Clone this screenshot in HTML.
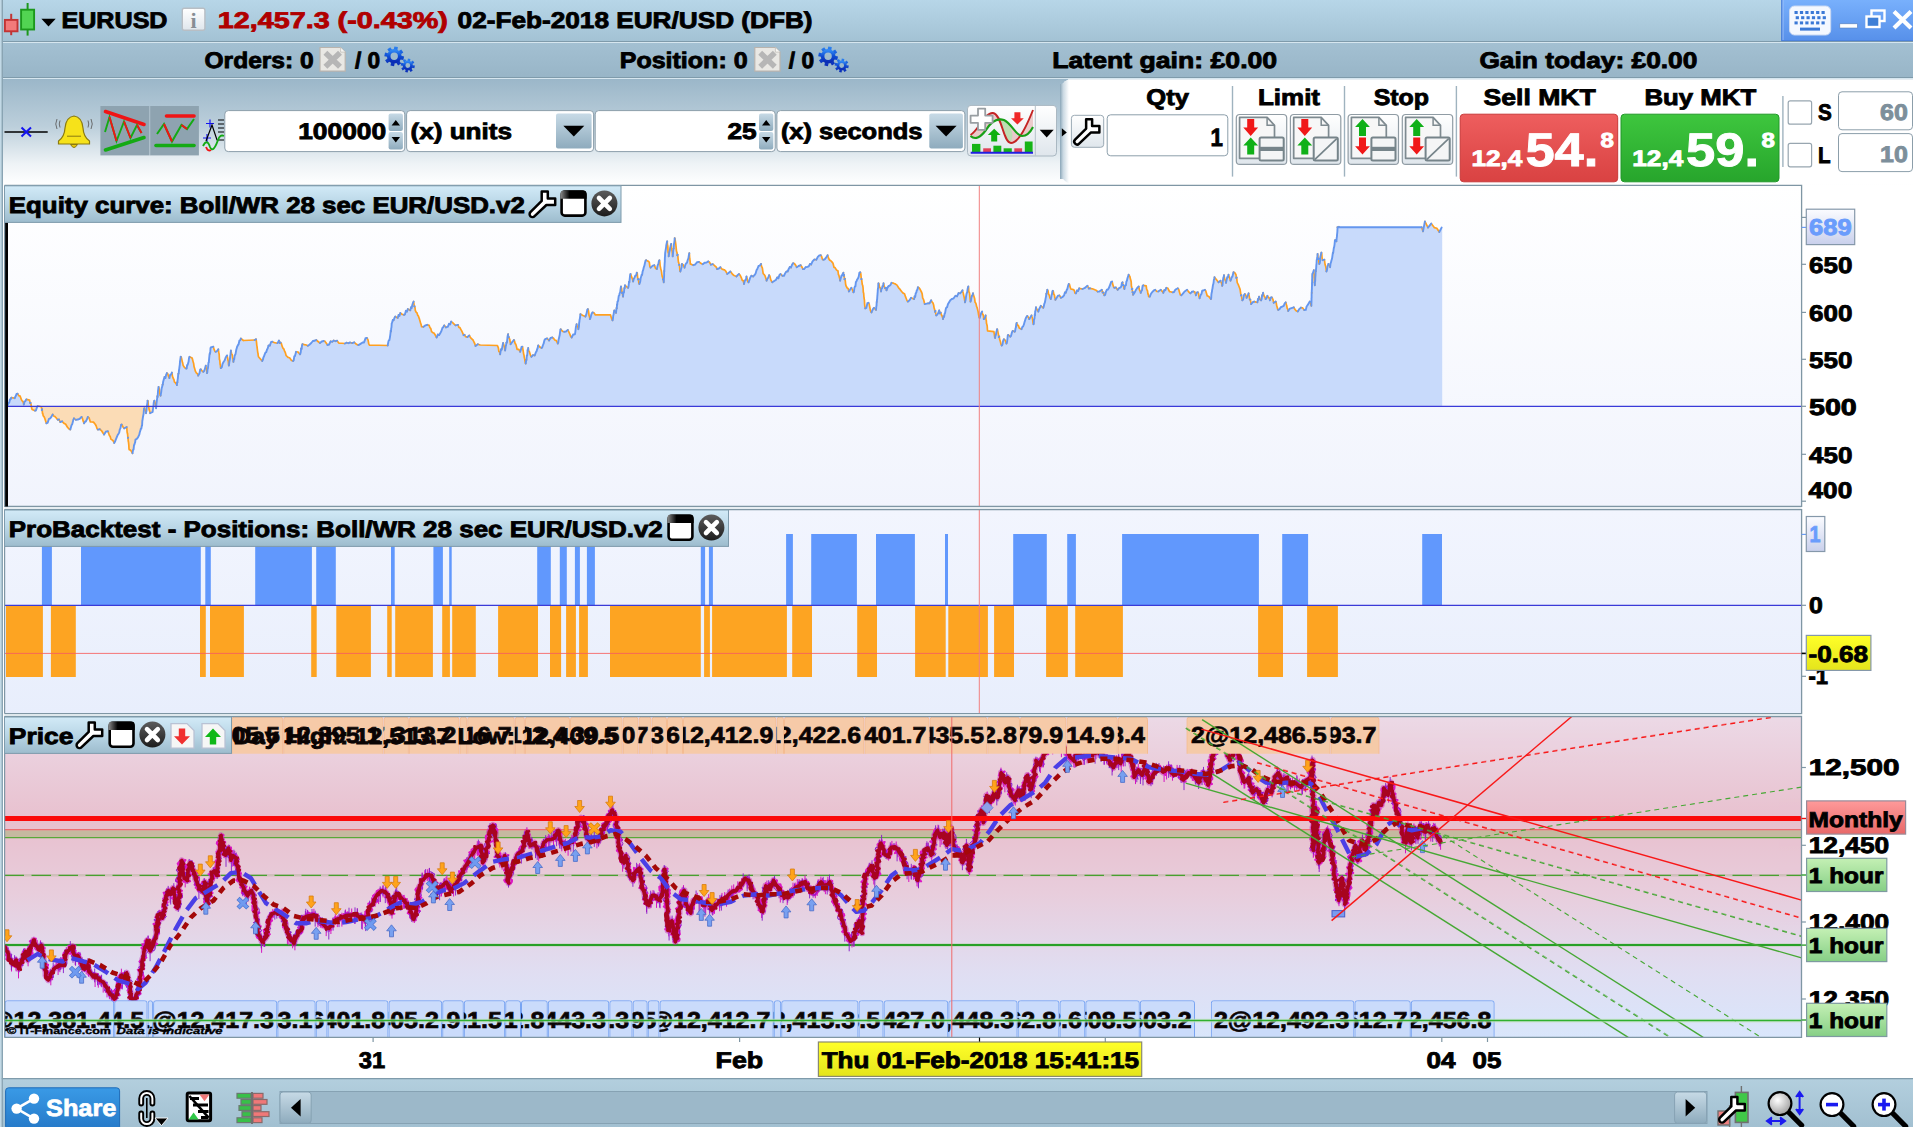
<!DOCTYPE html>
<html lang="en"><head><meta charset="utf-8"><title>EURUSD - ProBacktest</title>
<style>html,body{margin:0;padding:0;background:#fff;overflow:hidden}svg{display:block}</style></head>
<body>
<svg width="1913" height="1127" viewBox="0 0 1913 1127" font-family="Liberation Sans, sans-serif" font-weight="bold" text-rendering="geometricPrecision"><defs><linearGradient id="gTitle" x1="0" y1="0" x2="0" y2="1"><stop offset="0" stop-color="#b7d6e8"/><stop offset="1" stop-color="#a3c2d4"/></linearGradient><linearGradient id="gRow2" x1="0" y1="0" x2="0" y2="1"><stop offset="0" stop-color="#a3c0d2"/><stop offset="1" stop-color="#98b5c7"/></linearGradient><linearGradient id="gTool" x1="0" y1="0" x2="0" y2="1"><stop offset="0" stop-color="#9bb7c9"/><stop offset="0.45" stop-color="#bccfdb"/><stop offset="0.8" stop-color="#eef3f6"/><stop offset="1" stop-color="#ffffff"/></linearGradient><linearGradient id="gPanelT" x1="0" y1="0" x2="0" y2="1"><stop offset="0" stop-color="#d2eaf7"/><stop offset="0.5" stop-color="#b9d6e6"/><stop offset="1" stop-color="#9dbccd"/></linearGradient><linearGradient id="gEq" x1="0" y1="0" x2="0" y2="1"><stop offset="0" stop-color="#ffffff"/><stop offset="1" stop-color="#f1f4fd"/></linearGradient><linearGradient id="gPos" x1="0" y1="0" x2="0" y2="1"><stop offset="0" stop-color="#f2f5fe"/><stop offset="1" stop-color="#e8eefc"/></linearGradient><linearGradient id="gPrice" x1="0" y1="0" x2="0" y2="1"><stop offset="0" stop-color="#ecd9e6"/><stop offset="0.33" stop-color="#e8c0ce"/><stop offset="0.55" stop-color="#e8cddc"/><stop offset="0.8" stop-color="#e0def2"/><stop offset="1" stop-color="#d9e6fc"/></linearGradient><linearGradient id="gBtn" x1="0" y1="0" x2="0" y2="1"><stop offset="0" stop-color="#ffffff"/><stop offset="1" stop-color="#dfe6ec"/></linearGradient><linearGradient id="gArrow" x1="0" y1="0" x2="0" y2="1"><stop offset="0" stop-color="#c7dae6"/><stop offset="1" stop-color="#8eabbd"/></linearGradient><linearGradient id="gSell" x1="0" y1="0" x2="0" y2="1"><stop offset="0" stop-color="#ee5e5e"/><stop offset="1" stop-color="#d94242"/></linearGradient><linearGradient id="gBuy" x1="0" y1="0" x2="0" y2="1"><stop offset="0" stop-color="#3ec63e"/><stop offset="1" stop-color="#27a52c"/></linearGradient><linearGradient id="gLab" x1="0" y1="0" x2="0" y2="1"><stop offset="0" stop-color="#fbfcff"/><stop offset="1" stop-color="#c9d0ec"/></linearGradient><linearGradient id="gYel" x1="0" y1="0" x2="0" y2="1"><stop offset="0" stop-color="#ffff28"/><stop offset="1" stop-color="#e4e41c"/></linearGradient><linearGradient id="gMon" x1="0" y1="0" x2="0" y2="1"><stop offset="0" stop-color="#ff9a9a"/><stop offset="1" stop-color="#e86868"/></linearGradient><linearGradient id="gHour" x1="0" y1="0" x2="0" y2="1"><stop offset="0" stop-color="#c4f0b4"/><stop offset="1" stop-color="#86cf86"/></linearGradient><linearGradient id="gShare" x1="0" y1="0" x2="0" y2="1"><stop offset="0" stop-color="#3a9ae6"/><stop offset="1" stop-color="#2579c8"/></linearGradient><linearGradient id="gBot" x1="0" y1="0" x2="0" y2="1"><stop offset="0" stop-color="#b3cfde"/><stop offset="1" stop-color="#a2c0d1"/></linearGradient><linearGradient id="gKb" x1="0" y1="0" x2="0" y2="1"><stop offset="0" stop-color="#78b0fc"/><stop offset="1" stop-color="#5790ea"/></linearGradient><linearGradient id="gGear" x1="0" y1="0" x2="0" y2="1"><stop offset="0" stop-color="#2f86f2"/><stop offset="0.5" stop-color="#0f4cd2"/><stop offset="1" stop-color="#0a2cb4"/></linearGradient><linearGradient id="gPanel" x1="0" y1="0" x2="1" y2="0"><stop offset="0" stop-color="#8aa6b8"/><stop offset="0.35" stop-color="#c9d8e2"/><stop offset="1" stop-color="#ffffff"/></linearGradient><linearGradient id="gEqFill" x1="0" y1="0" x2="0" y2="1"><stop offset="0" stop-color="#ccdcfb"/><stop offset="1" stop-color="#c6d8fb"/></linearGradient><linearGradient id="gWinTop" x1="0" y1="0" x2="1" y2="0"><stop offset="0" stop-color="#8a8a8a"/><stop offset="0.35" stop-color="#000000"/><stop offset="1" stop-color="#000000"/></linearGradient><linearGradient id="gClose" x1="0" y1="0" x2="0" y2="1"><stop offset="0" stop-color="#5c5c5c"/><stop offset="1" stop-color="#1c1c1c"/></linearGradient><radialGradient id="gBall" cx="0.4" cy="0.35" r="0.7"><stop offset="0" stop-color="#ffffff"/><stop offset="1" stop-color="#9a9a9a"/></radialGradient></defs>
<rect x="0" y="0" width="1913" height="1127" fill="#ffffff" />
<rect x="0" y="0" width="1913" height="41.5" fill="url(#gTitle)" />
<line x1="0" y1="41.5" x2="1913" y2="41.5" stroke="#7f9bab" stroke-width="1" />
<line x1="0" y1="42.5" x2="1913" y2="42.5" stroke="#d6e6ef" stroke-width="1" />
<rect x="0" y="43" width="1913" height="35" fill="url(#gRow2)" />
<line x1="0" y1="77.5" x2="1913" y2="77.5" stroke="#7f9bab" stroke-width="1" />
<line x1="0" y1="78.5" x2="1913" y2="78.5" stroke="#d6e6ef" stroke-width="1" />
<rect x="0" y="79" width="1913" height="106" fill="url(#gTool)" />
<rect x="0" y="0" width="1.7" height="1127" fill="#c2d9e6" />
<line x1="2.3" y1="0" x2="2.3" y2="1127" stroke="#8aa4b4" stroke-width="1.3" />
<line x1="11.2" y1="13.8" x2="11.2" y2="35.2" stroke="#c23434" stroke-width="2" />
<rect x="4.9" y="19.9" width="12.6" height="11.4" fill="#f27a7a" stroke="#c23434" stroke-width="1.9" />
<line x1="27.6" y1="3" x2="27.6" y2="35.6" stroke="#1c981c" stroke-width="2" />
<rect x="21.1" y="9.7" width="13" height="19.8" fill="#52d452" stroke="#1c981c" stroke-width="1.9" />
<path d="M41.4 18.8 L55.7 18.8 L48.5 26.4 Z" fill="#000"/>
<text x="61.5" y="28.05" font-size="22.8" fill="#000" stroke="#000" stroke-width="0.85" textLength="106" lengthAdjust="spacingAndGlyphs" >EURUSD</text>
<rect x="182.3" y="8.3" width="22.6" height="22" fill="url(#gBtn)" stroke="#b8bec4" stroke-width="1.4" rx="2" />
<text x="193.6" y="27.6" font-size="22" fill="#878d94" text-anchor="middle" font-family="Liberation Serif, serif" font-weight="bold">i</text>
<text x="217.8" y="28.05" font-size="22.8" fill="#b00000" stroke="#b00000" stroke-width="0.85" textLength="230" lengthAdjust="spacingAndGlyphs" >12,457.3 (-0.43%)</text>
<text x="457.6" y="28.05" font-size="22.8" fill="#000" stroke="#000" stroke-width="0.85" textLength="355" lengthAdjust="spacingAndGlyphs" >02-Feb-2018 EUR/USD (DFB)</text>
<rect x="1781.4" y="0" width="132" height="40.8" fill="url(#gKb)" />
<line x1="1781.9" y1="0" x2="1781.9" y2="41" stroke="#3c74d6" stroke-width="1.2" />
<line x1="1783" y1="0" x2="1783" y2="40" stroke="#a8c8fc" stroke-width="0.8" />
<line x1="1782" y1="40.6" x2="1913" y2="40.6" stroke="#4a80dc" stroke-width="1" />
<rect x="1789.5" y="6" width="41.2" height="29" fill="#f4f8ff" stroke="#c9d8f2" stroke-width="1" rx="5" />
<rect x="1794.5" y="11.0" width="3.2" height="3" fill="#3a78d6" />
<rect x="1799.9" y="11.0" width="3.2" height="3" fill="#3a78d6" />
<rect x="1805.3" y="11.0" width="3.2" height="3" fill="#3a78d6" />
<rect x="1810.7" y="11.0" width="3.2" height="3" fill="#3a78d6" />
<rect x="1816.1" y="11.0" width="3.2" height="3" fill="#3a78d6" />
<rect x="1821.5" y="11.0" width="3.2" height="3" fill="#3a78d6" />
<rect x="1795.7" y="16.2" width="3.2" height="3" fill="#3a78d6" />
<rect x="1801.1000000000001" y="16.2" width="3.2" height="3" fill="#3a78d6" />
<rect x="1806.5" y="16.2" width="3.2" height="3" fill="#3a78d6" />
<rect x="1811.9" y="16.2" width="3.2" height="3" fill="#3a78d6" />
<rect x="1817.3" y="16.2" width="3.2" height="3" fill="#3a78d6" />
<rect x="1822.7" y="16.2" width="3.2" height="3" fill="#3a78d6" />
<rect x="1794.5" y="21.4" width="3.2" height="3" fill="#3a78d6" />
<rect x="1799.9" y="21.4" width="3.2" height="3" fill="#3a78d6" />
<rect x="1805.3" y="21.4" width="3.2" height="3" fill="#3a78d6" />
<rect x="1810.7" y="21.4" width="3.2" height="3" fill="#3a78d6" />
<rect x="1816.1" y="21.4" width="3.2" height="3" fill="#3a78d6" />
<rect x="1821.5" y="21.4" width="3.2" height="3" fill="#3a78d6" />
<rect x="1800" y="27.6" width="20" height="3" fill="#3a78d6" />
<rect x="1839.8" y="23.8" width="17.6" height="4.2" fill="#ffffff" stroke="#5a7fb8" stroke-width="0.6" />
<rect x="1871.5" y="10.5" width="13" height="10.5" fill="none" stroke="#ffffff" stroke-width="2.4" />
<rect x="1866.5" y="16.5" width="13" height="10.5" fill="#3f7fd6" stroke="#ffffff" stroke-width="2.4" />
<path d="M1894 11.5 L1911 28 M1911 11.5 L1894 28" stroke="#ffffff" stroke-width="4.2" stroke-linecap="butt"/>
<text x="204.5" y="67.95" font-size="22.6" fill="#000" stroke="#000" stroke-width="0.85" textLength="109.2" lengthAdjust="spacingAndGlyphs" >Orders: 0</text>
<path d="M320 47.5 h20.6 l4.6 4.6 v19 h-25.2 Z" fill="#e9e8e4" stroke="#b9b4ae" stroke-width="1.2"/>
<path d="M340.6 47.5 v4.6 h4.6" fill="#f6f6f4" stroke="#c4c0ba" stroke-width="0.8"/>
<path d="M325.4 52.7 L340 66.7 M340 52.7 L325.4 66.7" stroke="#b6b6b6" stroke-width="5.6"/>
<text x="355" y="67.95" font-size="22.6" fill="#000" stroke="#000" stroke-width="0.85" textLength="25.2" lengthAdjust="spacingAndGlyphs" >/ 0</text>
<path d="M401.08 55.82 L404.10 56.46 L403.38 60.01 L400.35 59.42Z M399.41 60.83 L401.08 63.41 L398.07 65.41 L396.34 62.86Z M394.68 63.18 L394.04 66.20 L390.49 65.48 L391.08 62.45Z M389.67 61.51 L387.09 63.18 L385.09 60.17 L387.64 58.44Z M387.32 56.78 L384.30 56.14 L385.02 52.59 L388.05 53.18Z M388.99 51.77 L387.32 49.19 L390.33 47.19 L392.06 49.74Z M393.72 49.42 L394.36 46.40 L397.91 47.12 L397.32 50.15Z M398.73 51.09 L401.31 49.42 L403.31 52.43 L400.76 54.16Z " fill="url(#gGear)"/>
<circle cx="394.2" cy="56.3" r="5.50" fill="none" stroke="url(#gGear)" stroke-width="3.60"/>
<path d="M412.49 65.17 L414.90 65.62 L414.38 68.16 L411.99 67.63Z M411.35 68.58 L412.74 70.60 L410.58 72.03 L409.26 69.97Z M408.13 70.19 L407.68 72.60 L405.14 72.08 L405.67 69.69Z M404.72 69.05 L402.70 70.44 L401.27 68.28 L403.33 66.96Z M403.11 65.83 L400.70 65.38 L401.22 62.84 L403.61 63.37Z M404.25 62.42 L402.86 60.40 L405.02 58.97 L406.34 61.03Z M407.47 60.81 L407.92 58.40 L410.46 58.92 L409.93 61.31Z M410.88 61.95 L412.90 60.56 L414.33 62.72 L412.27 64.04Z " fill="url(#gGear)"/>
<circle cx="407.8" cy="65.5" r="3.75" fill="none" stroke="url(#gGear)" stroke-width="2.70"/>
<text x="619.7" y="67.95" font-size="22.6" fill="#000" stroke="#000" stroke-width="0.85" textLength="127.9" lengthAdjust="spacingAndGlyphs" >Position: 0</text>
<path d="M754.8 47.5 h20.6 l4.6 4.6 v19 h-25.2 Z" fill="#e9e8e4" stroke="#b9b4ae" stroke-width="1.2"/>
<path d="M775.4 47.5 v4.6 h4.6" fill="#f6f6f4" stroke="#c4c0ba" stroke-width="0.8"/>
<path d="M760.1999999999999 52.7 L774.8 66.7 M774.8 52.7 L760.1999999999999 66.7" stroke="#b6b6b6" stroke-width="5.6"/>
<text x="788.8" y="67.95" font-size="22.6" fill="#000" stroke="#000" stroke-width="0.85" textLength="25.2" lengthAdjust="spacingAndGlyphs" >/ 0</text>
<path d="M834.98 55.82 L838.00 56.46 L837.28 60.01 L834.25 59.42Z M833.31 60.83 L834.98 63.41 L831.97 65.41 L830.24 62.86Z M828.58 63.18 L827.94 66.20 L824.39 65.48 L824.98 62.45Z M823.57 61.51 L820.99 63.18 L818.99 60.17 L821.54 58.44Z M821.22 56.78 L818.20 56.14 L818.92 52.59 L821.95 53.18Z M822.89 51.77 L821.22 49.19 L824.23 47.19 L825.96 49.74Z M827.62 49.42 L828.26 46.40 L831.81 47.12 L831.22 50.15Z M832.63 51.09 L835.21 49.42 L837.21 52.43 L834.66 54.16Z " fill="url(#gGear)"/>
<circle cx="828.1" cy="56.3" r="5.50" fill="none" stroke="url(#gGear)" stroke-width="3.60"/>
<path d="M846.39 65.17 L848.80 65.62 L848.28 68.16 L845.89 67.63Z M845.25 68.58 L846.64 70.60 L844.48 72.03 L843.16 69.97Z M842.03 70.19 L841.58 72.60 L839.04 72.08 L839.57 69.69Z M838.62 69.05 L836.60 70.44 L835.17 68.28 L837.23 66.96Z M837.01 65.83 L834.60 65.38 L835.12 62.84 L837.51 63.37Z M838.15 62.42 L836.76 60.40 L838.92 58.97 L840.24 61.03Z M841.37 60.81 L841.82 58.40 L844.36 58.92 L843.83 61.31Z M844.78 61.95 L846.80 60.56 L848.23 62.72 L846.17 64.04Z " fill="url(#gGear)"/>
<circle cx="841.6999999999999" cy="65.5" r="3.75" fill="none" stroke="url(#gGear)" stroke-width="2.70"/>
<text x="1052.2" y="67.95" font-size="22.6" fill="#000" stroke="#000" stroke-width="0.85" textLength="225" lengthAdjust="spacingAndGlyphs" >Latent gain: £0.00</text>
<text x="1479.4" y="67.95" font-size="22.6" fill="#000" stroke="#000" stroke-width="0.85" textLength="218" lengthAdjust="spacingAndGlyphs" >Gain today: £0.00</text>
<line x1="4.5" y1="132" x2="47.7" y2="132" stroke="#000" stroke-width="1.6" />
<path d="M21.5 127.5 L31 136.5 M31 127.5 L21.5 136.5" stroke="#1414f0" stroke-width="2"/>
<path d="M74 116 Q66 117 65 128 Q64.5 137 58.5 141 L58.5 144 L89.5 144 L89.5 141 Q83.5 137 83 128 Q82 117 74 116 Z" fill="#f6e21a" stroke="#8a7a10" stroke-width="1.2"/>
<path d="M70.5 144.5 Q74 150.5 77.5 144.5 Z" fill="#e8c810" stroke="#8a7a10" stroke-width="1"/>
<line x1="67" y1="136.2" x2="81" y2="136.2" stroke="#8a7a10" stroke-width="1" />
<path d="M57 119 Q54.5 124 57 129 M60 120.5 Q58.5 124 60 127.5 M91 119 Q93.5 124 91 129 M88 120.5 Q89.5 124 88 127.5" fill="none" stroke="#606060" stroke-width="0.9"/>
<rect x="100.4" y="106" width="48.8" height="49.4" fill="#8ea3b0" />
<rect x="150.1" y="106" width="48.8" height="49.4" fill="#8ea3b0" />
<line x1="149.7" y1="106" x2="149.7" y2="155.4" stroke="#a9bcc7" stroke-width="1" />
<path d="M105.5 111.5 L144 124.5" stroke="#f01414" stroke-width="3.6" stroke-linecap="round"/>
<path d="M105.5 150 L144 137.5" stroke="#14aa14" stroke-width="3.6" stroke-linecap="round"/>
<path d="M105 132 L109.5 117 L116.5 141 L124 121.5 L130.5 138 L137 125 L141.5 133" fill="none" stroke="#14aa14" stroke-width="1.9"/>
<path d="M109.5 117 L116.5 141 M124 121.5 L130.5 138 M137 125 L141.5 133" fill="none" stroke="#f01414" stroke-width="1.9"/>
<path d="M166.5 116 L194 116" stroke="#f01414" stroke-width="3.6" stroke-linecap="round"/>
<path d="M156 145.5 L194 145.5" stroke="#14aa14" stroke-width="3.6" stroke-linecap="round"/>
<path d="M157 134 L164 124 L172 141.5 L181.5 125 L187 129 L194 119" fill="none" stroke="#14aa14" stroke-width="2"/>
<path d="M164 124 L172 141.5 M181.5 125 L187 129" fill="none" stroke="#f01414" stroke-width="2"/>
<path d="M206 123.5 h8 M210 119.5 v8 M203 138 h8 M207 134 v8" stroke="#1414f0" stroke-width="1.2"/>
<path d="M206 141 L212 125 L217 140 L224 140" fill="none" stroke="#000" stroke-width="1.2"/>
<path d="M218 120 h6 M218 124 h6 M218 128 h6 M218 132 h6" stroke="#000" stroke-width="1"/>
<path d="M203 146 Q207 138 210 147 Q213 154 218 140 Q220 134 224 136" fill="none" stroke="#14aa14" stroke-width="1.9"/>
<path d="M206 147 Q208 152 211 150" fill="none" stroke="#f01414" stroke-width="1.9"/>
<rect x="224.8" y="110.6" width="180" height="41" fill="#ffffff" stroke="#8c9eaa" stroke-width="1" rx="3.5" />
<text x="298.2" y="139.25" font-size="22.6" fill="#000" stroke="#000" stroke-width="0.85" textLength="88" lengthAdjust="spacingAndGlyphs" >100000</text>
<rect x="388.6" y="113.4" width="14.3" height="17.6" fill="url(#gArrow)" rx="2" />
<rect x="388.6" y="132.0" width="14.3" height="17.6" fill="url(#gArrow)" rx="2" />
<path d="M391.6 125.4 h8.4 l-4.2 -5.4 Z M391.6 137.0 h8.4 l-4.2 5.4 Z" fill="#000"/>
<rect x="406.6" y="110.6" width="187" height="41" fill="#ffffff" stroke="#8c9eaa" stroke-width="1" rx="3.5" />
<rect x="556" y="113.6" width="35.60000000000002" height="35" fill="url(#gArrow)" rx="2" />
<path d="M563.3 125.8 h21 l-10.5 10.6 Z" fill="#000"/>
<text x="410.6" y="139.25" font-size="22.6" fill="#000" stroke="#000" stroke-width="0.85" textLength="101.4" lengthAdjust="spacingAndGlyphs" >(x) units</text>
<rect x="595.2" y="110.6" width="180" height="41" fill="#ffffff" stroke="#8c9eaa" stroke-width="1" rx="3.5" />
<text x="727.5" y="139.25" font-size="22.6" fill="#000" stroke="#000" stroke-width="0.85" textLength="29.2" lengthAdjust="spacingAndGlyphs" >25</text>
<rect x="759" y="113.4" width="14.3" height="17.6" fill="url(#gArrow)" rx="2" />
<rect x="759" y="132.0" width="14.3" height="17.6" fill="url(#gArrow)" rx="2" />
<path d="M762 125.4 h8.4 l-4.2 -5.4 Z M762 137.0 h8.4 l-4.2 5.4 Z" fill="#000"/>
<rect x="776.9" y="110.6" width="188" height="41" fill="#ffffff" stroke="#8c9eaa" stroke-width="1" rx="3.5" />
<rect x="929.3" y="113.6" width="33.60000000000002" height="35" fill="url(#gArrow)" rx="2" />
<path d="M935.5999999999999 125.8 h21 l-10.5 10.6 Z" fill="#000"/>
<text x="780.9" y="139.25" font-size="22.6" fill="#000" stroke="#000" stroke-width="0.85" textLength="141.6" lengthAdjust="spacingAndGlyphs" >(x) seconds</text>
<rect x="967.5" y="105.4" width="89" height="50.6" fill="url(#gBtn)" stroke="#aab8c2" stroke-width="1" rx="3.5" />
<line x1="1035.3" y1="105.8" x2="1035.3" y2="155.6" stroke="#b4c0c8" stroke-width="1" />
<path d="M1039.7 129.8 h14 l-7 7.8 Z" fill="#000"/>
<path d="M970.5 135 C978 131 985 112 993 113 C1002 114 1003 143 1011 143 C1019 143 1027 125 1033 110 L1033 127 C1031 131 1027 136 1022 136 C1016 136 1012 124 1004 120 C998 118 992 120 986 130 C980 138 975 140 970.5 136 Z" fill="#e8b8b8" opacity="0.7"/>
<path d="M996 116 C1002 118 1004 138 1010 142 C1015 138 1012 126 1004 120 Z" fill="#b8e0b0" opacity="0.9"/>
<path d="M970.5 135 C978 131 985 112 993 113 C1002 114 1003 143 1011 143 C1019 143 1027 125 1033 110" fill="none" stroke="#c42424" stroke-width="1.9"/>
<path d="M970.5 136 C975 140 980 138 986 130 C992 120 998 118 1004 120 C1012 124 1016 136 1022 136 C1027 136 1031 131 1033 127" fill="none" stroke="#18a018" stroke-width="2.1"/>
<rect x="972" y="143.9" width="8.4" height="8.1" fill="#16b416" />
<rect x="983.2" y="148.3" width="7.8" height="3.7" fill="#e04058" />
<rect x="993.4" y="145.7" width="7.9" height="6.3" fill="#16b416" />
<rect x="1003.6" y="148.3" width="8.2" height="3.7" fill="#16b416" />
<rect x="1014.3" y="148.3" width="7.8" height="3.7" fill="#e04058" />
<rect x="1024.8" y="141.5" width="7.8" height="10.5" fill="#16b416" />
<line x1="970.7" y1="152.7" x2="1033" y2="152.7" stroke="#2020e0" stroke-width="1.9" />
<path d="M978 108.6 h7.2 v7 h7.4 v7.2 h-7.4 v7 h-7.2 v-7 h-7.4 v-7.2 h7.4 Z" fill="#ffffff" stroke="#989ea2" stroke-width="1.8" stroke-linejoin="round"/>
<path d="M1014.4 112.2 h6 v6 h3.4 l-6.4 6.4 l-6.4 -6.4 h3.4 Z" fill="#f02828"/>
<path d="M991.2 141.5 h6 v-6.4 h3.4 l-6.4 -6.4 l-6.4 6.4 h3.4 Z" fill="#10b010"/>
<path d="M1061.8 128.2 l5 4.2 l-5 4.2 Z" fill="#000"/>
<path d="M1913 79.2 L1069 79.2 Q1060.6 82.5 1060 91 L1060 171 Q1060.6 179.8 1069 183.4 L1913 183.4 Z" fill="#ffffff"/>
<path d="M1069 79.2 Q1060.6 82.5 1060 91 L1060 171 Q1060.6 179.8 1069 183.4 Z" fill="url(#gPanel)"/>
<rect x="1060" y="84" width="9" height="95" fill="url(#gPanel)" />
<path d="M1061.8 128.2 l5 4.2 l-5 4.2 Z" fill="#000"/>
<rect x="1071.4" y="115.3" width="32.3" height="32" fill="url(#gBtn)" stroke="#9aa9b4" stroke-width="1" rx="3" />
<g transform="translate(1088 131.4) scale(0.98)"><path d="M-13.2 8.4 L-1.9 -2.9 L-1.9 -12.3 L4.2 -12.3 L4.2 -5.4 L11.6 -5.4 L11.6 1.2 L2.8 1.2 L-9 12.4 A2.9 2.9 0 0 1 -13.2 8.4 Z" fill="#fff" stroke="#000" stroke-width="2.55" stroke-linejoin="round"/></g>
<text x="1146.3" y="104.65" font-size="22.6" fill="#000" stroke="#000" stroke-width="0.85" textLength="42.6" lengthAdjust="spacingAndGlyphs" >Qty</text>
<rect x="1107.2" y="114.8" width="120.6" height="41" fill="#ffffff" stroke="#8c9eaa" stroke-width="1" rx="3.5" />
<text x="1210.4" y="145.65" font-size="25.12" fill="#000" stroke="#000" stroke-width="0.85" textLength="12.4" lengthAdjust="spacingAndGlyphs" >1</text>
<line x1="1232.5" y1="86" x2="1232.5" y2="176.6" stroke="#9fb3bf" stroke-width="1.4" />
<text x="1258" y="104.65" font-size="22.6" fill="#000" stroke="#000" stroke-width="0.85" textLength="62" lengthAdjust="spacingAndGlyphs" >Limit</text>
<rect x="1236.3" y="114.5" width="50.4" height="49.9" fill="url(#gBtn)" stroke="#909ca4" stroke-width="1.2" rx="3.5" />
<path d="M1239.6 117.3 h27.5 l7.4 8 v33 h-34.9 Z" fill="#f7f7f7" stroke="#7e8a90" stroke-width="1.7" stroke-linejoin="round"/>
<path d="M1267.1 117.3 v8 h7.4" fill="none" stroke="#7e8a90" stroke-width="1.5"/>
<rect x="1259.6" y="137.6" width="24.1" height="23" fill="#f4f5f6" stroke="#76848a" stroke-width="2" rx="1.5" />
<line x1="1259.6" y1="148.9" x2="1283.7" y2="148.9" stroke="#76848a" stroke-width="4.2" />
<path d="M1250.7 135.9 l7.4 -8.4 h-3.9 v-8.6 h-7 v8.6 h-3.9 Z" fill="#f01818"/>
<path d="M1250.7 137.6 l7.4 8 h-3.9 v9 h-7 v-9 h-3.9 Z" fill="#10b018"/>
<rect x="1290.4" y="114.5" width="50.4" height="49.9" fill="url(#gBtn)" stroke="#909ca4" stroke-width="1.2" rx="3.5" />
<path d="M1293.7 117.3 h27.5 l7.4 8 v33 h-34.9 Z" fill="#f7f7f7" stroke="#7e8a90" stroke-width="1.7" stroke-linejoin="round"/>
<path d="M1321.2 117.3 v8 h7.4" fill="none" stroke="#7e8a90" stroke-width="1.5"/>
<rect x="1313.7" y="137.6" width="24.1" height="23" fill="#f4f5f6" stroke="#76848a" stroke-width="2" rx="1.5" />
<line x1="1314.7" y1="159.6" x2="1336.8000000000002" y2="138.6" stroke="#76848a" stroke-width="1.7" />
<path d="M1304.8000000000002 135.9 l7.4 -8.4 h-3.9 v-8.6 h-7 v8.6 h-3.9 Z" fill="#f01818"/>
<path d="M1304.8000000000002 137.6 l7.4 8 h-3.9 v9 h-7 v-9 h-3.9 Z" fill="#10b018"/>
<line x1="1344.5" y1="86" x2="1344.5" y2="176.6" stroke="#9fb3bf" stroke-width="1.4" />
<text x="1373.7" y="104.65" font-size="22.6" fill="#000" stroke="#000" stroke-width="0.85" textLength="55.4" lengthAdjust="spacingAndGlyphs" >Stop</text>
<rect x="1348.1" y="114.5" width="50.4" height="49.9" fill="url(#gBtn)" stroke="#909ca4" stroke-width="1.2" rx="3.5" />
<path d="M1351.3999999999999 117.3 h27.5 l7.4 8 v33 h-34.9 Z" fill="#f7f7f7" stroke="#7e8a90" stroke-width="1.7" stroke-linejoin="round"/>
<path d="M1378.8999999999999 117.3 v8 h7.4" fill="none" stroke="#7e8a90" stroke-width="1.5"/>
<rect x="1371.3999999999999" y="137.6" width="24.1" height="23" fill="#f4f5f6" stroke="#76848a" stroke-width="2" rx="1.5" />
<line x1="1371.3999999999999" y1="148.9" x2="1395.5" y2="148.9" stroke="#76848a" stroke-width="4.2" />
<path d="M1362.5 118.9 l7.4 8 h-3.9 v9 h-7 v-9 h-3.9 Z" fill="#10b018"/>
<path d="M1362.5 154.6 l7.4 -8.4 h-3.9 v-8.6 h-7 v8.6 h-3.9 Z" fill="#f01818"/>
<rect x="1402.3" y="114.5" width="50.4" height="49.9" fill="url(#gBtn)" stroke="#909ca4" stroke-width="1.2" rx="3.5" />
<path d="M1405.6 117.3 h27.5 l7.4 8 v33 h-34.9 Z" fill="#f7f7f7" stroke="#7e8a90" stroke-width="1.7" stroke-linejoin="round"/>
<path d="M1433.1 117.3 v8 h7.4" fill="none" stroke="#7e8a90" stroke-width="1.5"/>
<rect x="1425.6" y="137.6" width="24.1" height="23" fill="#f4f5f6" stroke="#76848a" stroke-width="2" rx="1.5" />
<line x1="1426.6" y1="159.6" x2="1448.7" y2="138.6" stroke="#76848a" stroke-width="1.7" />
<path d="M1416.7 118.9 l7.4 8 h-3.9 v9 h-7 v-9 h-3.9 Z" fill="#10b018"/>
<path d="M1416.7 154.6 l7.4 -8.4 h-3.9 v-8.6 h-7 v8.6 h-3.9 Z" fill="#f01818"/>
<line x1="1456.4" y1="86" x2="1456.4" y2="176.6" stroke="#9fb3bf" stroke-width="1.4" />
<text x="1483.5" y="104.65" font-size="22.6" fill="#000" stroke="#000" stroke-width="0.85" textLength="112.2" lengthAdjust="spacingAndGlyphs" >Sell MKT</text>
<rect x="1460.2" y="114.2" width="157.5" height="67.6" fill="url(#gSell)" stroke="#c83838" stroke-width="1" rx="3.5" />
<text x="1471.4" y="165.55" font-size="22.41" fill="#ffffff" stroke="#ffffff" stroke-width="0.85" textLength="51" lengthAdjust="spacingAndGlyphs" >12,4</text>
<text x="1525.4" y="165.95" font-size="47.14" fill="#ffffff" stroke="#ffffff" stroke-width="0.9" textLength="73" lengthAdjust="spacingAndGlyphs" >54.</text>
<text x="1600.6" y="147.25" font-size="20.29" fill="#ffffff" stroke="#ffffff" stroke-width="0.85" textLength="13.4" lengthAdjust="spacingAndGlyphs" >8</text>
<text x="1644.5" y="104.65" font-size="22.6" fill="#000" stroke="#000" stroke-width="0.85" textLength="111.7" lengthAdjust="spacingAndGlyphs" >Buy MKT</text>
<rect x="1621" y="114.2" width="158" height="67.6" fill="url(#gBuy)" stroke="#209828" stroke-width="1" rx="3.5" />
<text x="1632.3" y="165.55" font-size="22.41" fill="#ffffff" stroke="#ffffff" stroke-width="0.85" textLength="51" lengthAdjust="spacingAndGlyphs" >12,4</text>
<text x="1686" y="165.95" font-size="47.14" fill="#ffffff" stroke="#ffffff" stroke-width="0.9" textLength="73" lengthAdjust="spacingAndGlyphs" >59.</text>
<text x="1761.5" y="147.25" font-size="20.29" fill="#ffffff" stroke="#ffffff" stroke-width="0.85" textLength="13.4" lengthAdjust="spacingAndGlyphs" >8</text>
<line x1="1782.9" y1="96" x2="1782.9" y2="167" stroke="#9fb3bf" stroke-width="1.4" />
<rect x="1788.2" y="100.8" width="23.4" height="23.4" fill="#ffffff" stroke="#98a6b0" stroke-width="1.2" rx="2" />
<text x="1818" y="120.25" font-size="22.6" fill="#000" stroke="#000" stroke-width="0.85" textLength="13.8" lengthAdjust="spacingAndGlyphs" >S</text>
<rect x="1838.5" y="91.8" width="74" height="38" fill="#ffffff" stroke="#8c9eaa" stroke-width="1" rx="3.5" />
<text x="1880" y="120.05" font-size="22.6" fill="#7d8f9b" stroke="#7d8f9b" stroke-width="0.85" textLength="27.8" lengthAdjust="spacingAndGlyphs" >60</text>
<rect x="1788.2" y="143.4" width="23.4" height="23.4" fill="#ffffff" stroke="#98a6b0" stroke-width="1.2" rx="2" />
<text x="1818" y="162.65" font-size="22.6" fill="#000" stroke="#000" stroke-width="0.85" textLength="12.6" lengthAdjust="spacingAndGlyphs" >L</text>
<rect x="1838.5" y="133.6" width="74" height="38" fill="#ffffff" stroke="#8c9eaa" stroke-width="1" rx="3.5" />
<text x="1880" y="162.05" font-size="22.6" fill="#7d8f9b" stroke="#7d8f9b" stroke-width="0.85" textLength="27.8" lengthAdjust="spacingAndGlyphs" >10</text>
<rect x="4.5" y="185.3" width="1797.1" height="321.09999999999997" fill="url(#gEq)" />
<clipPath id="cAbove"><rect x="0" y="0" width="1913" height="406.3"/></clipPath>
<clipPath id="cBelow"><rect x="0" y="406.3" width="1913" height="300"/></clipPath>
<polygon points="7.0,407.0 7.7,404.9 8.4,402.9 9.2,402.8 9.9,399.5 10.6,399.4 11.3,397.7 14.6,398.2 15.6,396.3 16.6,393.9 17.6,393.7 18.8,395.6 20.1,396.1 21.3,399.4 22.1,400.9 23.0,401.5 23.8,404.5 24.6,401.6 25.5,400.9 26.3,399.4 29.6,400.2 30.1,403.0 30.6,402.8 31.1,404.9 31.6,408.0 32.1,409.5 35.1,410.7 35.9,410.5 36.8,407.9 37.6,406.2 39.5,406.3 41.4,407.0 41.8,410.2 42.1,409.2 42.5,413.4 42.8,413.4 43.2,415.8 44.0,416.6 44.8,418.4 45.6,420.9 46.4,423.3 47.7,422.6 48.9,419.0 50.2,418.3 51.5,416.6 52.7,414.5 54.0,416.2 55.2,416.7 56.5,418.3 57.7,419.7 59.0,419.5 60.2,422.0 62.1,421.3 64.0,423.3 65.7,424.3 67.3,427.0 68.8,428.8 70.3,429.6 70.9,427.5 71.5,425.3 72.2,424.2 72.8,421.9 73.4,419.6 74.0,418.3 75.9,419.8 77.8,419.5 79.7,418.8 81.6,417.0 82.4,418.3 83.3,421.4 84.1,423.3 85.0,421.8 85.9,421.3 86.9,419.3 87.8,417.0 89.1,418.0 90.3,421.8 91.6,422.0 93.5,422.1 95.4,424.5 96.2,426.0 97.1,428.7 97.9,429.6 99.8,429.2 101.6,430.8 102.8,432.7 104.1,434.6 106.0,431.6 107.9,431.3 108.7,433.5 109.4,435.4 110.2,436.5 110.9,439.1 111.7,439.6 113.0,440.7 114.2,442.9 114.9,441.8 115.7,439.9 116.4,438.2 117.2,436.1 117.9,434.6 118.5,433.9 119.2,432.6 119.8,429.5 120.4,428.4 121.1,424.9 121.7,424.5 123.0,427.0 124.2,428.3 126.7,427.0 126.9,429.2 127.1,432.0 127.3,433.2 127.5,433.3 127.7,435.3 127.9,437.9 128.0,437.7 128.2,440.8 128.4,441.7 128.6,443.2 128.8,444.8 129.0,448.7 129.2,449.6 130.8,450.4 132.5,453.4 132.9,450.9 133.2,449.6 133.6,449.3 134.0,445.2 134.4,444.6 134.8,443.2 135.1,442.5 135.5,439.6 136.8,438.9 138.0,437.4 139.3,434.6 139.8,432.2 140.3,430.8 140.8,428.9 141.3,428.7 141.8,425.8 142.1,425.4 142.3,421.2 142.6,419.5 142.8,418.0 143.1,416.2 143.3,415.2 143.6,413.7 143.8,411.0 144.1,408.5 144.3,408.2 144.9,409.6 145.4,411.1 146.0,413.2 146.2,411.6 146.5,411.0 146.7,408.4 146.9,406.1 147.1,404.6 147.4,403.0 147.6,400.7 148.0,401.1 148.3,405.5 148.7,406.9 149.0,409.0 149.4,410.5 149.7,411.1 150.1,413.2 152.6,412.0 152.9,409.8 153.2,407.0 153.4,406.8 153.7,403.2 154.0,401.3 154.3,400.7 154.8,401.7 155.2,403.4 155.7,405.8 156.1,408.2 156.3,405.1 156.5,403.2 156.7,401.8 156.9,399.9 157.1,398.9 157.3,396.1 157.6,396.9 157.8,394.3 158.0,391.2 158.2,389.7 158.4,388.2 158.6,386.9 159.0,388.3 159.4,389.3 159.8,393.2 160.2,395.4 160.6,395.7 160.9,393.9 161.2,392.2 161.5,389.3 161.8,387.6 162.2,386.6 162.5,384.6 162.8,384.6 163.1,381.9 163.9,379.1 164.6,376.9 165.4,378.0 166.1,374.9 166.9,373.1 167.7,373.7 168.6,376.6 169.4,378.1 170.2,374.8 171.1,374.5 171.9,372.6 172.4,375.9 172.9,377.4 173.4,378.8 173.9,379.3 174.4,381.9 175.7,383.1 176.9,385.1 177.1,382.3 177.4,382.4 177.6,379.9 177.8,378.9 178.1,375.7 178.3,373.7 178.6,373.7 178.8,372.4 179.0,370.2 179.3,368.3 179.5,366.6 179.8,364.6 180.0,361.3 180.2,360.4 180.5,358.1 180.7,356.8 181.2,357.1 181.7,358.9 182.2,361.4 182.7,363.1 183.2,365.6 184.7,367.7 186.2,368.6 186.7,368.3 187.1,365.1 187.6,364.9 188.1,363.3 188.6,361.5 189.0,358.1 189.5,356.8 192.0,358.0 192.4,358.8 192.8,360.5 193.2,362.1 193.7,363.8 194.1,366.8 194.5,368.1 195.4,371.2 196.3,372.9 197.3,373.7 198.2,375.6 198.8,374.5 199.5,373.3 200.2,369.6 200.8,369.3 202.1,371.0 203.3,371.8 204.1,371.0 205.0,368.5 205.8,365.6 206.1,368.2 206.4,369.3 206.7,370.3 207.0,373.1 207.3,372.3 207.5,369.2 207.8,368.9 208.0,367.7 208.3,364.3 208.5,362.6 208.8,362.5 209.0,360.1 209.3,356.8 209.5,354.9 209.8,353.3 210.0,353.8 210.3,351.8 210.5,348.1 210.8,347.5 213.3,346.7 214.1,349.4 215.0,351.5 215.8,351.8 217.1,351.0 218.3,349.3 218.5,350.6 218.8,352.9 219.0,353.3 219.2,354.7 219.4,359.3 219.7,360.0 219.9,361.3 220.1,364.3 220.3,364.5 220.6,367.5 220.8,368.1 221.8,367.2 222.7,363.4 223.7,361.7 224.6,360.5 225.4,358.2 226.3,356.4 227.1,355.5 227.4,357.4 227.7,358.1 228.0,360.3 228.3,361.1 228.6,365.1 228.9,365.6 229.2,363.3 229.4,361.7 229.7,360.2 229.9,359.3 230.2,355.9 230.4,355.5 230.7,352.4 230.9,350.5 231.3,352.5 231.7,354.3 232.2,354.7 232.6,357.9 233.0,359.0 233.4,361.8 233.8,358.6 234.2,359.3 234.6,355.8 235.0,355.0 235.5,354.1 235.9,351.9 236.3,349.5 236.7,348.4 237.1,346.7 237.9,345.2 238.6,344.3 239.4,340.6 240.1,340.3 240.9,338.5 243.4,340.5 254.7,340.0 256.0,339.2 256.2,340.2 256.5,342.1 256.8,345.3 257.0,346.3 257.2,348.2 257.5,350.5 257.8,352.8 258.0,353.1 258.2,355.4 258.5,356.8 259.7,358.2 261.0,359.6 262.2,361.0 262.8,359.9 263.4,357.5 264.1,356.1 264.7,354.3 265.5,352.5 266.2,352.1 267.0,349.6 267.7,348.4 268.5,345.5 269.8,345.6 271.0,342.2 272.3,341.7 274.1,342.5 276.0,343.0 277.5,343.1 279.0,340.5 279.8,343.1 280.6,342.5 281.5,344.0 282.3,346.7 283.1,348.3 283.8,348.9 284.6,351.2 285.3,352.5 286.1,355.5 288.0,357.3 289.8,358.0 291.5,360.4 293.1,361.0 293.7,360.4 294.3,356.3 294.9,356.1 295.5,354.1 296.1,351.8 298.0,352.0 299.9,354.3 300.3,353.8 300.7,352.3 301.1,348.4 301.6,348.9 302.0,345.6 302.4,344.2 304.2,344.6 306.1,345.0 307.8,345.8 309.5,344.7 311.2,343.0 312.9,341.0 314.5,340.8 316.2,340.0 318.0,341.5 319.9,343.0 321.8,341.5 323.7,341.0 325.0,341.4 326.2,343.1 327.5,345.0 329.1,344.5 330.6,341.3 332.2,341.8 333.8,340.5 335.5,341.2 337.1,340.7 338.8,343.0 345.0,343.5 346.7,342.7 348.4,343.2 350.1,342.5 352.2,343.1 354.2,342.3 356.3,344.2 358.4,345.1 360.5,343.9 362.6,342.5 364.0,342.4 365.5,338.3 366.9,338.0 367.5,339.0 368.1,340.1 368.8,344.1 369.4,345.0 387.7,345.5 388.1,343.1 388.5,341.1 388.9,340.3 389.4,340.1 389.8,338.1 390.2,335.5 390.5,333.0 390.7,330.8 391.0,331.4 391.2,328.5 391.5,327.1 391.7,323.5 392.0,322.9 392.8,320.0 393.6,320.3 394.4,318.0 395.2,316.6 397.7,317.9 398.6,315.0 399.4,315.9 400.3,312.9 402.1,314.3 404.0,314.9 404.9,314.4 405.9,310.8 406.9,311.6 407.8,309.1 410.3,310.4 411.0,307.3 411.6,308.0 412.3,305.0 412.9,302.9 413.6,301.6 413.9,303.5 414.3,306.4 414.6,306.2 415.0,307.5 415.3,310.4 416.1,312.1 417.0,312.9 417.8,315.4 418.3,315.8 418.9,317.6 419.4,318.9 420.0,321.0 420.5,322.9 421.1,324.5 421.6,326.7 423.5,326.8 425.3,325.4 427.2,324.8 429.1,325.4 429.9,327.5 430.8,328.6 431.6,331.7 432.9,332.7 434.1,333.2 435.4,335.3 436.6,337.5 437.9,334.5 439.1,335.1 440.4,332.9 441.3,331.2 442.3,328.2 443.2,327.2 444.2,325.4 446.0,327.4 447.9,326.7 449.0,323.8 450.1,324.3 451.2,321.6 452.6,322.7 454.1,324.1 455.5,325.4 458.0,324.9 458.9,327.4 459.9,327.6 460.8,329.4 461.7,330.9 462.6,332.9 463.6,335.2 464.6,334.8 465.5,336.7 467.4,337.1 469.3,335.5 470.5,337.6 471.8,338.9 473.0,340.0 473.8,341.7 474.7,343.5 475.5,346.0 477.8,344.2 480.1,345.0 497.1,345.5 497.7,346.1 498.3,347.7 498.9,351.5 499.5,351.8 500.1,354.3 500.6,351.4 501.1,349.3 501.6,349.7 502.1,347.9 502.6,345.4 503.1,343.0 503.6,344.2 504.1,346.0 504.6,348.0 505.1,350.5 505.4,348.6 505.8,345.9 506.1,344.9 506.4,342.5 506.8,342.8 507.1,341.1 507.4,338.0 507.8,335.2 508.1,334.2 508.5,337.3 508.9,337.0 509.4,338.8 509.8,339.4 510.2,342.2 510.6,344.2 511.7,342.7 512.8,341.4 513.9,340.0 514.5,341.0 515.2,343.7 515.8,344.1 516.5,346.7 517.1,349.3 518.7,349.3 520.2,351.8 520.9,349.8 521.5,347.0 522.2,346.7 522.6,347.0 522.9,349.5 523.2,351.0 523.6,353.7 524.0,355.2 524.3,357.6 524.7,359.0 525.0,360.9 525.4,363.0 525.7,363.6 526.0,361.5 526.3,359.6 526.5,359.9 526.8,355.6 527.1,355.6 527.4,353.6 527.6,350.1 527.9,350.7 528.2,348.0 528.8,350.9 529.5,351.9 530.1,354.0 530.8,356.0 531.4,356.8 533.0,355.1 534.7,355.5 535.3,353.9 535.9,352.2 536.5,351.5 537.0,349.7 537.6,348.1 538.2,345.5 539.9,347.0 541.5,348.0 542.2,347.4 543.0,345.0 543.7,343.3 544.5,340.1 545.2,339.2 547.1,338.4 549.0,340.5 550.6,337.9 552.3,337.5 553.5,338.3 554.8,340.0 556.3,340.6 557.8,343.5 558.2,342.7 558.5,340.1 558.9,338.5 559.3,336.7 559.7,335.1 560.0,332.7 560.4,329.5 560.8,329.2 562.5,331.3 564.1,331.7 566.0,331.5 567.8,329.9 568.8,331.8 569.7,333.8 570.6,336.1 571.6,337.5 573.2,334.5 574.9,334.2 575.2,332.9 575.6,329.5 575.9,326.9 576.3,325.5 576.6,324.2 577.2,326.6 577.8,326.6 578.4,329.2 578.6,328.0 578.9,326.9 579.1,323.5 579.4,321.3 579.6,319.7 579.9,318.4 580.1,316.8 580.4,314.1 582.9,315.4 585.4,316.6 586.0,315.1 586.6,313.3 587.3,309.7 587.9,309.1 588.3,310.0 588.7,312.4 589.1,315.8 589.5,316.5 589.9,319.1 590.6,317.6 591.4,314.3 592.1,312.8 592.9,312.4 594.1,313.0 595.4,314.9 610.5,314.9 611.2,317.2 611.8,319.1 612.5,320.4 612.9,318.9 613.2,315.8 613.6,314.4 613.9,312.3 614.3,310.4 616.0,312.9 616.2,310.9 616.5,308.0 616.8,308.4 617.0,304.5 617.2,304.9 617.5,301.6 618.1,300.8 618.7,296.0 619.3,295.3 619.6,293.4 620.0,292.7 620.3,291.4 620.7,288.1 621.0,286.5 621.3,287.5 621.7,289.0 622.0,292.9 622.3,292.4 622.7,295.2 623.0,296.6 623.3,293.6 623.7,292.9 624.0,292.3 624.3,288.0 624.7,288.1 625.0,285.3 626.5,286.6 628.1,287.8 628.4,287.2 628.7,285.0 629.0,281.8 629.4,282.1 629.7,279.1 630.0,276.0 630.3,274.2 630.6,274.0 631.2,275.9 631.9,277.6 632.5,279.0 633.1,281.5 633.8,278.7 634.6,277.5 635.3,275.7 636.1,275.5 636.8,272.7 637.2,273.1 637.6,277.2 638.0,279.4 638.5,279.1 638.9,283.4 639.3,284.0 639.8,282.9 640.2,281.6 640.7,278.0 641.2,276.5 641.7,274.8 642.1,274.8 642.6,271.5 643.2,269.9 643.8,267.3 644.4,265.6 644.9,263.3 645.5,260.7 646.1,260.2 648.6,261.4 649.3,262.3 649.9,266.6 650.6,267.7 652.5,265.8 654.4,265.2 655.6,268.4 656.9,269.0 657.4,266.5 657.9,264.8 658.4,263.8 658.9,261.0 659.4,260.2 659.8,261.8 660.1,265.6 660.5,267.4 660.8,269.1 661.2,270.2 661.6,272.3 661.9,274.9 662.3,276.7 662.6,277.3 663.0,279.5 663.3,279.2 663.7,282.3 663.8,281.2 663.9,278.7 664.0,277.8 664.1,275.7 664.1,272.9 664.2,270.5 664.3,271.4 664.4,267.2 664.5,266.5 664.6,264.4 664.7,262.5 664.8,262.1 664.8,261.0 664.9,257.1 665.0,256.6 665.1,253.7 665.2,252.6 665.5,250.9 665.9,248.5 666.2,246.0 666.5,244.1 666.9,242.3 667.2,241.3 667.4,244.4 667.6,245.1 667.8,246.1 668.0,250.1 668.1,252.2 668.3,252.5 668.5,253.4 668.7,256.4 669.1,253.7 669.4,251.6 669.8,250.6 670.1,248.0 670.5,246.7 670.8,245.0 671.2,243.9 671.4,245.9 671.6,248.6 671.8,250.0 672.1,250.8 672.3,252.6 672.5,254.7 672.7,256.4 672.9,254.2 673.1,252.3 673.3,249.6 673.5,248.4 673.7,248.7 673.9,244.3 674.1,243.6 674.3,242.1 674.5,241.0 674.7,238.1 675.0,239.1 675.3,241.0 675.6,242.8 675.9,245.0 676.1,247.0 676.4,250.3 676.7,251.8 677.0,252.6 677.3,255.4 677.6,254.6 677.9,256.4 678.2,260.1 678.5,262.4 678.8,262.8 679.1,264.9 679.4,264.8 679.7,267.7 680.0,271.1 680.3,271.5 680.7,270.6 681.1,268.8 681.6,267.2 682.0,263.9 683.2,265.0 684.5,267.7 685.3,264.9 686.2,263.3 687.0,262.7 687.5,260.8 687.9,259.4 688.4,258.3 688.8,255.7 689.3,253.1 689.5,255.3 689.6,257.5 689.8,258.4 690.0,260.5 690.1,260.7 690.3,263.9 693.3,265.2 695.2,264.5 697.1,262.2 699.0,261.9 700.8,263.2 702.7,264.2 704.6,262.7 706.5,262.5 708.4,261.4 709.6,262.5 710.9,264.7 712.8,264.1 714.6,265.7 715.9,266.6 717.1,269.0 718.8,268.5 720.4,267.2 721.9,269.0 723.4,269.7 724.7,270.0 725.9,271.3 727.2,274.0 728.8,272.8 730.4,271.5 732.0,273.6 733.5,275.2 736.5,276.5 737.8,274.9 739.0,274.0 740.2,275.3 741.5,278.2 742.3,280.4 743.2,280.6 744.0,284.0 744.6,281.5 745.2,280.1 745.9,279.8 746.5,276.5 747.2,278.9 747.8,281.5 748.5,282.3 749.2,280.6 750.0,278.2 750.8,276.6 751.5,275.7 753.1,276.6 754.8,274.7 755.6,273.4 756.5,270.3 757.3,269.0 758.6,265.9 759.8,265.6 761.1,263.9 761.5,266.1 761.9,267.0 762.4,268.2 762.8,271.1 763.2,273.6 763.6,274.0 764.4,274.9 765.1,276.0 765.9,278.5 766.6,280.7 767.4,278.6 768.3,277.6 769.1,275.2 769.9,276.1 770.7,279.6 771.5,281.2 772.3,282.3 774.2,281.0 776.1,279.7 777.2,277.4 778.4,278.3 779.5,274.9 780.6,274.0 782.4,275.8 784.1,275.7 785.2,273.2 786.4,271.5 787.6,271.5 788.7,269.0 789.8,266.9 791.0,267.5 792.1,264.6 793.2,263.2 794.4,263.6 795.5,265.0 796.7,267.2 798.7,266.0 800.7,265.2 801.9,267.0 803.0,269.1 804.2,269.0 805.7,267.1 807.2,266.9 808.7,266.4 810.0,263.9 811.2,264.5 812.5,261.4 814.4,259.5 816.3,259.7 817.8,256.9 819.3,255.4 820.8,255.2 821.6,256.4 822.5,259.4 823.3,259.7 824.7,259.4 826.2,257.4 827.6,255.2 828.7,258.5 829.7,260.2 830.8,260.7 831.9,261.9 833.0,263.3 834.0,267.3 835.1,267.7 836.4,269.9 837.6,270.7 838.0,271.0 838.4,274.5 838.9,275.3 839.3,277.0 839.7,278.5 840.1,280.7 840.8,278.1 841.4,276.0 842.1,275.2 842.7,273.9 843.4,272.7 843.8,275.8 844.1,275.0 844.5,279.3 844.9,278.7 845.3,280.9 845.6,284.0 846.0,285.7 846.4,286.5 847.2,288.0 848.1,288.5 848.9,291.5 850.1,289.6 851.4,287.8 852.4,289.7 853.4,292.3 853.9,291.8 854.4,287.8 854.9,286.5 855.4,286.3 855.9,281.9 856.4,281.5 857.2,279.4 857.9,278.7 858.7,276.7 859.4,272.7 860.2,272.2 860.6,272.7 860.9,274.6 861.3,279.1 861.6,279.0 862.0,282.3 862.3,284.6 862.7,285.3 862.9,286.6 863.1,288.2 863.3,292.0 863.5,292.8 863.7,293.5 863.9,296.6 864.0,297.2 864.2,298.8 864.4,299.8 864.6,303.8 864.8,306.1 865.0,307.0 865.2,308.4 866.3,307.9 867.4,303.2 868.5,302.8 869.1,303.9 869.7,306.6 870.3,309.9 870.9,311.8 871.5,312.4 872.3,310.5 873.2,308.6 874.0,307.8 876.0,309.9 876.2,307.9 876.3,306.3 876.5,305.9 876.7,301.9 876.8,301.9 877.0,300.0 877.2,298.5 877.3,296.5 877.5,294.3 877.7,291.7 877.8,289.9 878.0,288.2 878.2,287.7 878.3,283.8 878.5,283.3 879.0,284.0 879.5,287.3 880.0,287.5 880.5,288.6 881.0,291.5 881.5,288.5 882.0,288.4 882.5,286.1 883.0,286.4 883.5,283.3 884.2,286.2 885.0,288.3 885.8,287.8 886.5,290.3 887.5,287.6 888.5,286.1 889.5,285.8 890.5,284.9 891.5,282.8 893.4,283.2 895.3,284.0 897.0,285.1 898.6,287.8 900.1,289.4 901.6,291.5 903.1,293.1 904.6,294.0 905.4,296.4 906.2,298.5 907.1,300.7 907.9,301.6 909.5,300.2 911.1,297.8 914.1,299.1 914.6,296.3 915.2,296.8 915.7,293.4 916.3,292.6 916.8,290.3 917.4,289.7 917.9,287.3 919.0,287.8 920.1,289.3 921.2,291.5 921.7,292.5 922.2,294.1 922.7,298.1 923.2,298.9 923.7,300.0 924.2,302.0 924.7,304.1 927.9,303.3 929.5,303.3 931.2,300.3 932.0,302.0 932.9,302.8 933.7,305.3 934.1,307.9 934.5,309.1 935.0,311.8 935.4,310.8 935.8,313.6 936.2,315.4 937.2,314.7 938.2,313.1 939.2,310.4 940.0,313.4 940.7,312.5 941.5,315.0 942.2,316.2 943.0,319.1 943.5,316.3 944.1,316.8 944.6,313.7 945.1,312.9 945.7,309.3 946.2,307.8 947.1,307.2 947.9,304.3 948.8,302.8 950.3,300.2 951.8,299.1 953.6,298.3 955.5,295.8 957.0,296.3 958.6,293.0 960.1,293.3 961.3,292.1 962.5,290.3 962.9,292.4 963.2,292.9 963.6,295.0 963.9,296.1 964.3,298.0 964.6,299.9 965.0,302.3 965.4,300.8 965.7,299.2 966.1,296.1 966.5,293.8 966.8,293.0 967.2,292.3 967.6,289.1 967.9,287.7 968.3,286.5 968.6,287.5 968.8,291.2 969.1,292.3 969.4,292.7 969.7,294.7 970.0,297.5 970.2,299.9 970.5,301.6 971.0,300.4 971.5,297.1 972.0,295.6 972.5,295.5 973.0,293.3 973.5,294.9 974.0,296.4 974.6,298.4 975.1,302.3 975.6,302.8 976.1,304.0 976.6,306.5 977.1,307.7 977.6,309.6 978.1,311.6 978.6,314.8 979.1,317.3 979.6,317.9 980.4,315.4 981.3,312.8 982.1,311.6 982.5,314.2 983.0,314.5 983.4,315.7 983.8,319.1 984.7,318.5 985.6,315.4 985.8,316.9 986.0,319.8 986.3,320.3 986.5,323.4 986.7,323.9 986.9,324.7 987.2,326.0 987.4,329.3 987.6,330.9 993.9,331.7 994.3,334.2 994.7,337.1 995.1,338.0 995.5,335.0 995.9,334.8 996.3,332.3 996.7,331.0 997.1,329.2 997.5,329.8 997.9,331.9 998.4,334.3 998.8,337.1 999.2,336.4 999.6,339.2 1000.3,341.3 1001.0,344.3 1001.7,345.5 1002.4,344.8 1003.2,340.4 1003.9,339.2 1005.1,340.2 1006.4,343.5 1006.8,343.1 1007.1,341.5 1007.5,338.3 1007.8,335.3 1008.2,334.9 1010.2,336.7 1011.0,336.0 1011.9,332.5 1012.7,330.9 1014.7,331.7 1015.1,331.2 1015.5,328.5 1015.9,327.4 1016.3,323.6 1016.7,322.9 1017.5,325.4 1018.4,325.4 1019.2,327.9 1021.5,329.2 1022.3,327.0 1023.1,326.4 1023.9,324.5 1024.7,321.6 1025.6,318.7 1026.4,317.0 1027.3,315.9 1028.3,317.2 1029.3,319.1 1030.4,317.3 1031.5,315.4 1031.9,316.8 1032.3,317.8 1032.7,319.9 1033.1,323.1 1033.5,324.2 1033.8,323.7 1034.0,319.4 1034.2,319.3 1034.5,318.2 1034.8,314.4 1035.0,315.1 1035.2,311.2 1035.5,311.0 1035.8,309.1 1036.0,307.3 1037.2,309.8 1038.3,311.6 1039.1,309.1 1040.0,307.5 1040.8,305.8 1043.3,307.8 1043.8,306.2 1044.3,303.8 1044.8,302.7 1045.3,300.3 1045.6,298.4 1046.0,296.6 1046.3,293.6 1046.6,293.7 1047.0,291.5 1047.3,289.8 1048.0,290.8 1048.6,294.3 1049.3,295.3 1050.0,298.0 1050.8,299.1 1051.2,297.3 1051.6,294.8 1052.0,294.0 1052.4,291.3 1052.8,290.8 1053.3,291.5 1053.8,294.2 1054.4,295.0 1054.9,297.8 1055.4,299.8 1056.7,297.8 1057.9,295.8 1059.4,295.4 1060.9,297.8 1062.5,297.0 1064.1,295.3 1064.9,292.4 1065.8,292.7 1066.6,290.3 1067.3,289.0 1068.0,286.1 1068.7,284.0 1069.4,284.3 1070.2,287.3 1070.9,289.0 1072.6,289.3 1074.2,290.3 1075.1,293.2 1075.9,293.3 1077.0,290.5 1078.1,291.0 1079.2,288.3 1082.5,289.0 1085.0,287.8 1087.5,285.8 1088.8,288.5 1090.0,288.3 1093.0,289.0 1096.0,290.3 1097.7,291.6 1099.3,291.5 1101.8,289.8 1102.6,292.6 1103.5,292.5 1104.3,295.3 1105.1,294.9 1106.0,291.6 1106.8,289.8 1107.9,289.5 1109.0,287.7 1110.1,284.8 1111.1,282.1 1112.1,281.5 1112.8,284.5 1113.6,287.0 1114.3,287.8 1115.9,287.5 1117.6,289.8 1119.1,288.1 1120.6,287.3 1121.3,286.4 1121.9,282.9 1122.6,282.3 1123.0,285.2 1123.5,285.0 1124.0,288.3 1124.4,289.0 1124.9,286.3 1125.4,285.7 1125.9,285.3 1126.4,281.5 1126.9,280.7 1127.5,278.0 1128.0,276.7 1128.6,274.7 1129.3,275.8 1129.9,276.6 1130.6,279.7 1130.9,280.4 1131.2,282.0 1131.4,286.0 1131.7,287.0 1132.0,289.3 1132.3,288.8 1132.5,292.3 1132.8,292.0 1133.1,294.8 1134.0,293.4 1134.8,292.2 1135.7,290.3 1137.2,288.0 1138.7,286.5 1139.4,289.7 1140.0,290.9 1140.7,292.8 1141.3,291.2 1142.0,290.2 1142.6,286.0 1143.2,285.3 1146.2,285.8 1146.6,289.1 1147.0,289.8 1147.5,290.9 1147.9,293.9 1148.3,294.1 1148.7,296.6 1149.8,296.6 1150.9,294.0 1152.0,292.3 1153.6,290.6 1155.2,289.8 1156.7,291.4 1158.2,291.5 1160.8,289.8 1162.0,291.1 1163.3,292.8 1164.3,290.2 1165.3,290.2 1166.3,287.8 1167.9,288.3 1169.5,291.5 1172.8,292.3 1174.0,292.0 1175.3,289.8 1177.8,288.3 1178.7,289.3 1179.5,292.2 1180.4,295.0 1181.3,295.3 1182.9,293.7 1184.6,291.5 1187.1,289.8 1188.8,292.0 1190.4,293.3 1191.9,291.8 1193.4,291.5 1194.7,291.9 1195.9,295.3 1196.9,292.4 1197.9,292.3 1198.5,293.2 1199.0,296.6 1199.6,298.3 1200.2,296.2 1200.9,294.6 1201.5,293.9 1202.2,290.8 1204.9,289.8 1205.7,290.7 1206.4,293.0 1207.2,295.8 1208.9,296.6 1210.9,299.1 1211.2,297.9 1211.4,294.3 1211.7,292.6 1211.9,291.9 1212.2,289.5 1212.4,289.0 1212.7,286.9 1213.0,284.8 1213.3,284.2 1213.6,282.5 1213.9,279.7 1214.2,279.3 1214.5,277.2 1216.5,279.7 1218.5,282.3 1220.5,280.7 1221.1,282.3 1221.6,283.0 1222.2,285.8 1222.5,285.3 1222.8,281.5 1223.1,279.4 1223.4,277.5 1223.7,277.4 1224.0,275.2 1224.5,278.2 1225.0,279.8 1225.5,280.6 1226.0,282.8 1226.6,280.1 1227.2,277.3 1227.9,277.2 1228.5,274.7 1229.2,276.9 1229.8,278.3 1230.5,280.7 1231.1,279.4 1231.7,277.1 1232.3,276.9 1232.9,274.6 1233.5,272.2 1234.8,272.7 1236.0,274.7 1236.3,277.9 1236.7,277.4 1237.0,280.9 1237.3,282.8 1238.2,284.4 1239.0,286.5 1239.5,287.8 1240.1,289.4 1240.6,292.8 1241.0,295.5 1241.4,295.1 1241.9,298.6 1242.3,300.3 1243.1,299.5 1244.0,295.0 1244.8,294.0 1245.7,295.0 1246.6,297.8 1247.6,295.9 1248.6,293.3 1249.0,295.1 1249.4,297.3 1249.8,299.6 1250.3,299.5 1250.7,301.7 1251.1,304.1 1252.6,302.3 1254.1,301.6 1257.4,302.3 1258.0,299.0 1258.5,299.7 1259.1,296.6 1260.1,299.3 1261.1,300.3 1261.6,299.1 1262.1,295.1 1262.6,295.7 1263.1,292.8 1263.9,295.6 1264.8,296.9 1265.6,299.1 1266.5,298.2 1267.4,295.8 1268.2,297.2 1269.1,298.0 1269.9,300.3 1270.8,297.6 1271.7,297.3 1272.4,298.3 1273.0,299.6 1273.7,302.8 1275.7,301.6 1276.2,302.8 1276.7,305.7 1277.2,307.2 1277.7,309.3 1278.2,309.9 1279.5,309.2 1280.7,307.3 1283.7,305.8 1284.7,303.3 1285.7,302.3 1286.2,304.2 1286.7,305.5 1287.2,308.3 1287.7,309.2 1288.2,310.9 1289.5,308.9 1290.7,308.4 1293.8,307.3 1295.0,309.5 1296.3,310.9 1297.8,311.4 1299.3,309.1 1300.9,307.6 1302.5,307.8 1304.2,310.0 1305.8,309.9 1306.6,306.5 1307.5,305.3 1308.3,304.1 1309.8,301.6 1310.5,302.9 1311.3,305.8 1311.4,304.8 1311.4,303.6 1311.5,301.2 1311.5,298.2 1311.6,298.1 1311.6,294.7 1311.7,292.7 1311.7,292.9 1311.8,290.3 1311.9,288.7 1311.9,286.9 1312.0,286.0 1312.0,282.7 1312.1,282.1 1312.1,279.9 1312.2,278.6 1312.2,275.6 1312.3,274.0 1313.0,272.8 1313.8,270.2 1313.9,272.3 1314.0,273.4 1314.2,275.0 1314.3,278.1 1314.4,278.4 1314.5,282.8 1314.7,282.3 1314.8,285.3 1314.9,282.1 1315.1,280.5 1315.2,281.1 1315.3,277.5 1315.5,275.1 1315.6,272.9 1315.8,271.1 1315.9,271.3 1316.0,269.3 1316.2,267.6 1316.3,265.2 1316.5,264.0 1316.7,260.1 1316.9,259.8 1317.2,257.3 1317.4,256.7 1317.6,253.9 1317.9,256.9 1318.3,259.1 1318.6,258.6 1319.0,263.0 1319.3,263.9 1319.7,263.3 1320.0,261.5 1320.3,257.1 1320.7,255.5 1321.1,253.3 1321.4,252.6 1321.7,253.1 1322.0,257.4 1322.3,259.2 1322.6,260.2 1324.4,259.7 1324.7,261.8 1325.0,264.0 1325.3,265.2 1325.5,265.8 1325.8,266.9 1326.1,268.6 1326.4,271.5 1326.9,270.4 1327.4,266.8 1327.9,265.3 1328.4,263.9 1329.2,265.3 1330.1,267.2 1330.5,263.7 1331.0,262.3 1331.5,260.3 1331.9,258.9 1332.2,257.7 1332.6,254.7 1332.9,252.7 1333.2,252.8 1333.6,249.5 1333.9,247.6 1334.2,246.8 1334.6,244.2 1334.9,240.6 1335.2,240.1 1336.4,241.3 1336.6,239.3 1336.7,237.7 1336.9,236.9 1337.1,233.9 1337.2,233.3 1337.4,231.1 1337.5,228.4 1337.7,227.5 1338.9,226.8 1337.4,227.3 1421.7,227.3 1423,231.4 1424.9,221.4 1428,227.6 1431.2,223.6 1434.3,227.6 1436.8,228.3 1439.3,232 1441.6,227.6 1442.1999999999998,227.6 1442.1999999999998,406.3 7.0,406.3" fill="#c8dafb" clip-path="url(#cAbove)"/>
<polygon points="7.0,407.0 7.7,404.9 8.4,402.9 9.2,402.8 9.9,399.5 10.6,399.4 11.3,397.7 14.6,398.2 15.6,396.3 16.6,393.9 17.6,393.7 18.8,395.6 20.1,396.1 21.3,399.4 22.1,400.9 23.0,401.5 23.8,404.5 24.6,401.6 25.5,400.9 26.3,399.4 29.6,400.2 30.1,403.0 30.6,402.8 31.1,404.9 31.6,408.0 32.1,409.5 35.1,410.7 35.9,410.5 36.8,407.9 37.6,406.2 39.5,406.3 41.4,407.0 41.8,410.2 42.1,409.2 42.5,413.4 42.8,413.4 43.2,415.8 44.0,416.6 44.8,418.4 45.6,420.9 46.4,423.3 47.7,422.6 48.9,419.0 50.2,418.3 51.5,416.6 52.7,414.5 54.0,416.2 55.2,416.7 56.5,418.3 57.7,419.7 59.0,419.5 60.2,422.0 62.1,421.3 64.0,423.3 65.7,424.3 67.3,427.0 68.8,428.8 70.3,429.6 70.9,427.5 71.5,425.3 72.2,424.2 72.8,421.9 73.4,419.6 74.0,418.3 75.9,419.8 77.8,419.5 79.7,418.8 81.6,417.0 82.4,418.3 83.3,421.4 84.1,423.3 85.0,421.8 85.9,421.3 86.9,419.3 87.8,417.0 89.1,418.0 90.3,421.8 91.6,422.0 93.5,422.1 95.4,424.5 96.2,426.0 97.1,428.7 97.9,429.6 99.8,429.2 101.6,430.8 102.8,432.7 104.1,434.6 106.0,431.6 107.9,431.3 108.7,433.5 109.4,435.4 110.2,436.5 110.9,439.1 111.7,439.6 113.0,440.7 114.2,442.9 114.9,441.8 115.7,439.9 116.4,438.2 117.2,436.1 117.9,434.6 118.5,433.9 119.2,432.6 119.8,429.5 120.4,428.4 121.1,424.9 121.7,424.5 123.0,427.0 124.2,428.3 126.7,427.0 126.9,429.2 127.1,432.0 127.3,433.2 127.5,433.3 127.7,435.3 127.9,437.9 128.0,437.7 128.2,440.8 128.4,441.7 128.6,443.2 128.8,444.8 129.0,448.7 129.2,449.6 130.8,450.4 132.5,453.4 132.9,450.9 133.2,449.6 133.6,449.3 134.0,445.2 134.4,444.6 134.8,443.2 135.1,442.5 135.5,439.6 136.8,438.9 138.0,437.4 139.3,434.6 139.8,432.2 140.3,430.8 140.8,428.9 141.3,428.7 141.8,425.8 142.1,425.4 142.3,421.2 142.6,419.5 142.8,418.0 143.1,416.2 143.3,415.2 143.6,413.7 143.8,411.0 144.1,408.5 144.3,408.2 144.9,409.6 145.4,411.1 146.0,413.2 146.2,411.6 146.5,411.0 146.7,408.4 146.9,406.1 147.1,404.6 147.4,403.0 147.6,400.7 148.0,401.1 148.3,405.5 148.7,406.9 149.0,409.0 149.4,410.5 149.7,411.1 150.1,413.2 152.6,412.0 152.9,409.8 153.2,407.0 153.4,406.8 153.7,403.2 154.0,401.3 154.3,400.7 154.8,401.7 155.2,403.4 155.7,405.8 156.1,408.2 156.3,405.1 156.5,403.2 156.7,401.8 156.9,399.9 157.1,398.9 157.3,396.1 157.6,396.9 157.8,394.3 158.0,391.2 158.2,389.7 158.4,388.2 158.6,386.9 159.0,388.3 159.4,389.3 159.8,393.2 160.2,395.4 160.6,395.7 160.9,393.9 161.2,392.2 161.5,389.3 161.8,387.6 162.2,386.6 162.5,384.6 162.8,384.6 163.1,381.9 163.9,379.1 164.6,376.9 165.4,378.0 166.1,374.9 166.9,373.1 167.7,373.7 168.6,376.6 169.4,378.1 170.2,374.8 171.1,374.5 171.9,372.6 172.4,375.9 172.9,377.4 173.4,378.8 173.9,379.3 174.4,381.9 175.7,383.1 176.9,385.1 177.1,382.3 177.4,382.4 177.6,379.9 177.8,378.9 178.1,375.7 178.3,373.7 178.6,373.7 178.8,372.4 179.0,370.2 179.3,368.3 179.5,366.6 179.8,364.6 180.0,361.3 180.2,360.4 180.5,358.1 180.7,356.8 181.2,357.1 181.7,358.9 182.2,361.4 182.7,363.1 183.2,365.6 184.7,367.7 186.2,368.6 186.7,368.3 187.1,365.1 187.6,364.9 188.1,363.3 188.6,361.5 189.0,358.1 189.5,356.8 192.0,358.0 192.4,358.8 192.8,360.5 193.2,362.1 193.7,363.8 194.1,366.8 194.5,368.1 195.4,371.2 196.3,372.9 197.3,373.7 198.2,375.6 198.8,374.5 199.5,373.3 200.2,369.6 200.8,369.3 202.1,371.0 203.3,371.8 204.1,371.0 205.0,368.5 205.8,365.6 206.1,368.2 206.4,369.3 206.7,370.3 207.0,373.1 207.3,372.3 207.5,369.2 207.8,368.9 208.0,367.7 208.3,364.3 208.5,362.6 208.8,362.5 209.0,360.1 209.3,356.8 209.5,354.9 209.8,353.3 210.0,353.8 210.3,351.8 210.5,348.1 210.8,347.5 213.3,346.7 214.1,349.4 215.0,351.5 215.8,351.8 217.1,351.0 218.3,349.3 218.5,350.6 218.8,352.9 219.0,353.3 219.2,354.7 219.4,359.3 219.7,360.0 219.9,361.3 220.1,364.3 220.3,364.5 220.6,367.5 220.8,368.1 221.8,367.2 222.7,363.4 223.7,361.7 224.6,360.5 225.4,358.2 226.3,356.4 227.1,355.5 227.4,357.4 227.7,358.1 228.0,360.3 228.3,361.1 228.6,365.1 228.9,365.6 229.2,363.3 229.4,361.7 229.7,360.2 229.9,359.3 230.2,355.9 230.4,355.5 230.7,352.4 230.9,350.5 231.3,352.5 231.7,354.3 232.2,354.7 232.6,357.9 233.0,359.0 233.4,361.8 233.8,358.6 234.2,359.3 234.6,355.8 235.0,355.0 235.5,354.1 235.9,351.9 236.3,349.5 236.7,348.4 237.1,346.7 237.9,345.2 238.6,344.3 239.4,340.6 240.1,340.3 240.9,338.5 243.4,340.5 254.7,340.0 256.0,339.2 256.2,340.2 256.5,342.1 256.8,345.3 257.0,346.3 257.2,348.2 257.5,350.5 257.8,352.8 258.0,353.1 258.2,355.4 258.5,356.8 259.7,358.2 261.0,359.6 262.2,361.0 262.8,359.9 263.4,357.5 264.1,356.1 264.7,354.3 265.5,352.5 266.2,352.1 267.0,349.6 267.7,348.4 268.5,345.5 269.8,345.6 271.0,342.2 272.3,341.7 274.1,342.5 276.0,343.0 277.5,343.1 279.0,340.5 279.8,343.1 280.6,342.5 281.5,344.0 282.3,346.7 283.1,348.3 283.8,348.9 284.6,351.2 285.3,352.5 286.1,355.5 288.0,357.3 289.8,358.0 291.5,360.4 293.1,361.0 293.7,360.4 294.3,356.3 294.9,356.1 295.5,354.1 296.1,351.8 298.0,352.0 299.9,354.3 300.3,353.8 300.7,352.3 301.1,348.4 301.6,348.9 302.0,345.6 302.4,344.2 304.2,344.6 306.1,345.0 307.8,345.8 309.5,344.7 311.2,343.0 312.9,341.0 314.5,340.8 316.2,340.0 318.0,341.5 319.9,343.0 321.8,341.5 323.7,341.0 325.0,341.4 326.2,343.1 327.5,345.0 329.1,344.5 330.6,341.3 332.2,341.8 333.8,340.5 335.5,341.2 337.1,340.7 338.8,343.0 345.0,343.5 346.7,342.7 348.4,343.2 350.1,342.5 352.2,343.1 354.2,342.3 356.3,344.2 358.4,345.1 360.5,343.9 362.6,342.5 364.0,342.4 365.5,338.3 366.9,338.0 367.5,339.0 368.1,340.1 368.8,344.1 369.4,345.0 387.7,345.5 388.1,343.1 388.5,341.1 388.9,340.3 389.4,340.1 389.8,338.1 390.2,335.5 390.5,333.0 390.7,330.8 391.0,331.4 391.2,328.5 391.5,327.1 391.7,323.5 392.0,322.9 392.8,320.0 393.6,320.3 394.4,318.0 395.2,316.6 397.7,317.9 398.6,315.0 399.4,315.9 400.3,312.9 402.1,314.3 404.0,314.9 404.9,314.4 405.9,310.8 406.9,311.6 407.8,309.1 410.3,310.4 411.0,307.3 411.6,308.0 412.3,305.0 412.9,302.9 413.6,301.6 413.9,303.5 414.3,306.4 414.6,306.2 415.0,307.5 415.3,310.4 416.1,312.1 417.0,312.9 417.8,315.4 418.3,315.8 418.9,317.6 419.4,318.9 420.0,321.0 420.5,322.9 421.1,324.5 421.6,326.7 423.5,326.8 425.3,325.4 427.2,324.8 429.1,325.4 429.9,327.5 430.8,328.6 431.6,331.7 432.9,332.7 434.1,333.2 435.4,335.3 436.6,337.5 437.9,334.5 439.1,335.1 440.4,332.9 441.3,331.2 442.3,328.2 443.2,327.2 444.2,325.4 446.0,327.4 447.9,326.7 449.0,323.8 450.1,324.3 451.2,321.6 452.6,322.7 454.1,324.1 455.5,325.4 458.0,324.9 458.9,327.4 459.9,327.6 460.8,329.4 461.7,330.9 462.6,332.9 463.6,335.2 464.6,334.8 465.5,336.7 467.4,337.1 469.3,335.5 470.5,337.6 471.8,338.9 473.0,340.0 473.8,341.7 474.7,343.5 475.5,346.0 477.8,344.2 480.1,345.0 497.1,345.5 497.7,346.1 498.3,347.7 498.9,351.5 499.5,351.8 500.1,354.3 500.6,351.4 501.1,349.3 501.6,349.7 502.1,347.9 502.6,345.4 503.1,343.0 503.6,344.2 504.1,346.0 504.6,348.0 505.1,350.5 505.4,348.6 505.8,345.9 506.1,344.9 506.4,342.5 506.8,342.8 507.1,341.1 507.4,338.0 507.8,335.2 508.1,334.2 508.5,337.3 508.9,337.0 509.4,338.8 509.8,339.4 510.2,342.2 510.6,344.2 511.7,342.7 512.8,341.4 513.9,340.0 514.5,341.0 515.2,343.7 515.8,344.1 516.5,346.7 517.1,349.3 518.7,349.3 520.2,351.8 520.9,349.8 521.5,347.0 522.2,346.7 522.6,347.0 522.9,349.5 523.2,351.0 523.6,353.7 524.0,355.2 524.3,357.6 524.7,359.0 525.0,360.9 525.4,363.0 525.7,363.6 526.0,361.5 526.3,359.6 526.5,359.9 526.8,355.6 527.1,355.6 527.4,353.6 527.6,350.1 527.9,350.7 528.2,348.0 528.8,350.9 529.5,351.9 530.1,354.0 530.8,356.0 531.4,356.8 533.0,355.1 534.7,355.5 535.3,353.9 535.9,352.2 536.5,351.5 537.0,349.7 537.6,348.1 538.2,345.5 539.9,347.0 541.5,348.0 542.2,347.4 543.0,345.0 543.7,343.3 544.5,340.1 545.2,339.2 547.1,338.4 549.0,340.5 550.6,337.9 552.3,337.5 553.5,338.3 554.8,340.0 556.3,340.6 557.8,343.5 558.2,342.7 558.5,340.1 558.9,338.5 559.3,336.7 559.7,335.1 560.0,332.7 560.4,329.5 560.8,329.2 562.5,331.3 564.1,331.7 566.0,331.5 567.8,329.9 568.8,331.8 569.7,333.8 570.6,336.1 571.6,337.5 573.2,334.5 574.9,334.2 575.2,332.9 575.6,329.5 575.9,326.9 576.3,325.5 576.6,324.2 577.2,326.6 577.8,326.6 578.4,329.2 578.6,328.0 578.9,326.9 579.1,323.5 579.4,321.3 579.6,319.7 579.9,318.4 580.1,316.8 580.4,314.1 582.9,315.4 585.4,316.6 586.0,315.1 586.6,313.3 587.3,309.7 587.9,309.1 588.3,310.0 588.7,312.4 589.1,315.8 589.5,316.5 589.9,319.1 590.6,317.6 591.4,314.3 592.1,312.8 592.9,312.4 594.1,313.0 595.4,314.9 610.5,314.9 611.2,317.2 611.8,319.1 612.5,320.4 612.9,318.9 613.2,315.8 613.6,314.4 613.9,312.3 614.3,310.4 616.0,312.9 616.2,310.9 616.5,308.0 616.8,308.4 617.0,304.5 617.2,304.9 617.5,301.6 618.1,300.8 618.7,296.0 619.3,295.3 619.6,293.4 620.0,292.7 620.3,291.4 620.7,288.1 621.0,286.5 621.3,287.5 621.7,289.0 622.0,292.9 622.3,292.4 622.7,295.2 623.0,296.6 623.3,293.6 623.7,292.9 624.0,292.3 624.3,288.0 624.7,288.1 625.0,285.3 626.5,286.6 628.1,287.8 628.4,287.2 628.7,285.0 629.0,281.8 629.4,282.1 629.7,279.1 630.0,276.0 630.3,274.2 630.6,274.0 631.2,275.9 631.9,277.6 632.5,279.0 633.1,281.5 633.8,278.7 634.6,277.5 635.3,275.7 636.1,275.5 636.8,272.7 637.2,273.1 637.6,277.2 638.0,279.4 638.5,279.1 638.9,283.4 639.3,284.0 639.8,282.9 640.2,281.6 640.7,278.0 641.2,276.5 641.7,274.8 642.1,274.8 642.6,271.5 643.2,269.9 643.8,267.3 644.4,265.6 644.9,263.3 645.5,260.7 646.1,260.2 648.6,261.4 649.3,262.3 649.9,266.6 650.6,267.7 652.5,265.8 654.4,265.2 655.6,268.4 656.9,269.0 657.4,266.5 657.9,264.8 658.4,263.8 658.9,261.0 659.4,260.2 659.8,261.8 660.1,265.6 660.5,267.4 660.8,269.1 661.2,270.2 661.6,272.3 661.9,274.9 662.3,276.7 662.6,277.3 663.0,279.5 663.3,279.2 663.7,282.3 663.8,281.2 663.9,278.7 664.0,277.8 664.1,275.7 664.1,272.9 664.2,270.5 664.3,271.4 664.4,267.2 664.5,266.5 664.6,264.4 664.7,262.5 664.8,262.1 664.8,261.0 664.9,257.1 665.0,256.6 665.1,253.7 665.2,252.6 665.5,250.9 665.9,248.5 666.2,246.0 666.5,244.1 666.9,242.3 667.2,241.3 667.4,244.4 667.6,245.1 667.8,246.1 668.0,250.1 668.1,252.2 668.3,252.5 668.5,253.4 668.7,256.4 669.1,253.7 669.4,251.6 669.8,250.6 670.1,248.0 670.5,246.7 670.8,245.0 671.2,243.9 671.4,245.9 671.6,248.6 671.8,250.0 672.1,250.8 672.3,252.6 672.5,254.7 672.7,256.4 672.9,254.2 673.1,252.3 673.3,249.6 673.5,248.4 673.7,248.7 673.9,244.3 674.1,243.6 674.3,242.1 674.5,241.0 674.7,238.1 675.0,239.1 675.3,241.0 675.6,242.8 675.9,245.0 676.1,247.0 676.4,250.3 676.7,251.8 677.0,252.6 677.3,255.4 677.6,254.6 677.9,256.4 678.2,260.1 678.5,262.4 678.8,262.8 679.1,264.9 679.4,264.8 679.7,267.7 680.0,271.1 680.3,271.5 680.7,270.6 681.1,268.8 681.6,267.2 682.0,263.9 683.2,265.0 684.5,267.7 685.3,264.9 686.2,263.3 687.0,262.7 687.5,260.8 687.9,259.4 688.4,258.3 688.8,255.7 689.3,253.1 689.5,255.3 689.6,257.5 689.8,258.4 690.0,260.5 690.1,260.7 690.3,263.9 693.3,265.2 695.2,264.5 697.1,262.2 699.0,261.9 700.8,263.2 702.7,264.2 704.6,262.7 706.5,262.5 708.4,261.4 709.6,262.5 710.9,264.7 712.8,264.1 714.6,265.7 715.9,266.6 717.1,269.0 718.8,268.5 720.4,267.2 721.9,269.0 723.4,269.7 724.7,270.0 725.9,271.3 727.2,274.0 728.8,272.8 730.4,271.5 732.0,273.6 733.5,275.2 736.5,276.5 737.8,274.9 739.0,274.0 740.2,275.3 741.5,278.2 742.3,280.4 743.2,280.6 744.0,284.0 744.6,281.5 745.2,280.1 745.9,279.8 746.5,276.5 747.2,278.9 747.8,281.5 748.5,282.3 749.2,280.6 750.0,278.2 750.8,276.6 751.5,275.7 753.1,276.6 754.8,274.7 755.6,273.4 756.5,270.3 757.3,269.0 758.6,265.9 759.8,265.6 761.1,263.9 761.5,266.1 761.9,267.0 762.4,268.2 762.8,271.1 763.2,273.6 763.6,274.0 764.4,274.9 765.1,276.0 765.9,278.5 766.6,280.7 767.4,278.6 768.3,277.6 769.1,275.2 769.9,276.1 770.7,279.6 771.5,281.2 772.3,282.3 774.2,281.0 776.1,279.7 777.2,277.4 778.4,278.3 779.5,274.9 780.6,274.0 782.4,275.8 784.1,275.7 785.2,273.2 786.4,271.5 787.6,271.5 788.7,269.0 789.8,266.9 791.0,267.5 792.1,264.6 793.2,263.2 794.4,263.6 795.5,265.0 796.7,267.2 798.7,266.0 800.7,265.2 801.9,267.0 803.0,269.1 804.2,269.0 805.7,267.1 807.2,266.9 808.7,266.4 810.0,263.9 811.2,264.5 812.5,261.4 814.4,259.5 816.3,259.7 817.8,256.9 819.3,255.4 820.8,255.2 821.6,256.4 822.5,259.4 823.3,259.7 824.7,259.4 826.2,257.4 827.6,255.2 828.7,258.5 829.7,260.2 830.8,260.7 831.9,261.9 833.0,263.3 834.0,267.3 835.1,267.7 836.4,269.9 837.6,270.7 838.0,271.0 838.4,274.5 838.9,275.3 839.3,277.0 839.7,278.5 840.1,280.7 840.8,278.1 841.4,276.0 842.1,275.2 842.7,273.9 843.4,272.7 843.8,275.8 844.1,275.0 844.5,279.3 844.9,278.7 845.3,280.9 845.6,284.0 846.0,285.7 846.4,286.5 847.2,288.0 848.1,288.5 848.9,291.5 850.1,289.6 851.4,287.8 852.4,289.7 853.4,292.3 853.9,291.8 854.4,287.8 854.9,286.5 855.4,286.3 855.9,281.9 856.4,281.5 857.2,279.4 857.9,278.7 858.7,276.7 859.4,272.7 860.2,272.2 860.6,272.7 860.9,274.6 861.3,279.1 861.6,279.0 862.0,282.3 862.3,284.6 862.7,285.3 862.9,286.6 863.1,288.2 863.3,292.0 863.5,292.8 863.7,293.5 863.9,296.6 864.0,297.2 864.2,298.8 864.4,299.8 864.6,303.8 864.8,306.1 865.0,307.0 865.2,308.4 866.3,307.9 867.4,303.2 868.5,302.8 869.1,303.9 869.7,306.6 870.3,309.9 870.9,311.8 871.5,312.4 872.3,310.5 873.2,308.6 874.0,307.8 876.0,309.9 876.2,307.9 876.3,306.3 876.5,305.9 876.7,301.9 876.8,301.9 877.0,300.0 877.2,298.5 877.3,296.5 877.5,294.3 877.7,291.7 877.8,289.9 878.0,288.2 878.2,287.7 878.3,283.8 878.5,283.3 879.0,284.0 879.5,287.3 880.0,287.5 880.5,288.6 881.0,291.5 881.5,288.5 882.0,288.4 882.5,286.1 883.0,286.4 883.5,283.3 884.2,286.2 885.0,288.3 885.8,287.8 886.5,290.3 887.5,287.6 888.5,286.1 889.5,285.8 890.5,284.9 891.5,282.8 893.4,283.2 895.3,284.0 897.0,285.1 898.6,287.8 900.1,289.4 901.6,291.5 903.1,293.1 904.6,294.0 905.4,296.4 906.2,298.5 907.1,300.7 907.9,301.6 909.5,300.2 911.1,297.8 914.1,299.1 914.6,296.3 915.2,296.8 915.7,293.4 916.3,292.6 916.8,290.3 917.4,289.7 917.9,287.3 919.0,287.8 920.1,289.3 921.2,291.5 921.7,292.5 922.2,294.1 922.7,298.1 923.2,298.9 923.7,300.0 924.2,302.0 924.7,304.1 927.9,303.3 929.5,303.3 931.2,300.3 932.0,302.0 932.9,302.8 933.7,305.3 934.1,307.9 934.5,309.1 935.0,311.8 935.4,310.8 935.8,313.6 936.2,315.4 937.2,314.7 938.2,313.1 939.2,310.4 940.0,313.4 940.7,312.5 941.5,315.0 942.2,316.2 943.0,319.1 943.5,316.3 944.1,316.8 944.6,313.7 945.1,312.9 945.7,309.3 946.2,307.8 947.1,307.2 947.9,304.3 948.8,302.8 950.3,300.2 951.8,299.1 953.6,298.3 955.5,295.8 957.0,296.3 958.6,293.0 960.1,293.3 961.3,292.1 962.5,290.3 962.9,292.4 963.2,292.9 963.6,295.0 963.9,296.1 964.3,298.0 964.6,299.9 965.0,302.3 965.4,300.8 965.7,299.2 966.1,296.1 966.5,293.8 966.8,293.0 967.2,292.3 967.6,289.1 967.9,287.7 968.3,286.5 968.6,287.5 968.8,291.2 969.1,292.3 969.4,292.7 969.7,294.7 970.0,297.5 970.2,299.9 970.5,301.6 971.0,300.4 971.5,297.1 972.0,295.6 972.5,295.5 973.0,293.3 973.5,294.9 974.0,296.4 974.6,298.4 975.1,302.3 975.6,302.8 976.1,304.0 976.6,306.5 977.1,307.7 977.6,309.6 978.1,311.6 978.6,314.8 979.1,317.3 979.6,317.9 980.4,315.4 981.3,312.8 982.1,311.6 982.5,314.2 983.0,314.5 983.4,315.7 983.8,319.1 984.7,318.5 985.6,315.4 985.8,316.9 986.0,319.8 986.3,320.3 986.5,323.4 986.7,323.9 986.9,324.7 987.2,326.0 987.4,329.3 987.6,330.9 993.9,331.7 994.3,334.2 994.7,337.1 995.1,338.0 995.5,335.0 995.9,334.8 996.3,332.3 996.7,331.0 997.1,329.2 997.5,329.8 997.9,331.9 998.4,334.3 998.8,337.1 999.2,336.4 999.6,339.2 1000.3,341.3 1001.0,344.3 1001.7,345.5 1002.4,344.8 1003.2,340.4 1003.9,339.2 1005.1,340.2 1006.4,343.5 1006.8,343.1 1007.1,341.5 1007.5,338.3 1007.8,335.3 1008.2,334.9 1010.2,336.7 1011.0,336.0 1011.9,332.5 1012.7,330.9 1014.7,331.7 1015.1,331.2 1015.5,328.5 1015.9,327.4 1016.3,323.6 1016.7,322.9 1017.5,325.4 1018.4,325.4 1019.2,327.9 1021.5,329.2 1022.3,327.0 1023.1,326.4 1023.9,324.5 1024.7,321.6 1025.6,318.7 1026.4,317.0 1027.3,315.9 1028.3,317.2 1029.3,319.1 1030.4,317.3 1031.5,315.4 1031.9,316.8 1032.3,317.8 1032.7,319.9 1033.1,323.1 1033.5,324.2 1033.8,323.7 1034.0,319.4 1034.2,319.3 1034.5,318.2 1034.8,314.4 1035.0,315.1 1035.2,311.2 1035.5,311.0 1035.8,309.1 1036.0,307.3 1037.2,309.8 1038.3,311.6 1039.1,309.1 1040.0,307.5 1040.8,305.8 1043.3,307.8 1043.8,306.2 1044.3,303.8 1044.8,302.7 1045.3,300.3 1045.6,298.4 1046.0,296.6 1046.3,293.6 1046.6,293.7 1047.0,291.5 1047.3,289.8 1048.0,290.8 1048.6,294.3 1049.3,295.3 1050.0,298.0 1050.8,299.1 1051.2,297.3 1051.6,294.8 1052.0,294.0 1052.4,291.3 1052.8,290.8 1053.3,291.5 1053.8,294.2 1054.4,295.0 1054.9,297.8 1055.4,299.8 1056.7,297.8 1057.9,295.8 1059.4,295.4 1060.9,297.8 1062.5,297.0 1064.1,295.3 1064.9,292.4 1065.8,292.7 1066.6,290.3 1067.3,289.0 1068.0,286.1 1068.7,284.0 1069.4,284.3 1070.2,287.3 1070.9,289.0 1072.6,289.3 1074.2,290.3 1075.1,293.2 1075.9,293.3 1077.0,290.5 1078.1,291.0 1079.2,288.3 1082.5,289.0 1085.0,287.8 1087.5,285.8 1088.8,288.5 1090.0,288.3 1093.0,289.0 1096.0,290.3 1097.7,291.6 1099.3,291.5 1101.8,289.8 1102.6,292.6 1103.5,292.5 1104.3,295.3 1105.1,294.9 1106.0,291.6 1106.8,289.8 1107.9,289.5 1109.0,287.7 1110.1,284.8 1111.1,282.1 1112.1,281.5 1112.8,284.5 1113.6,287.0 1114.3,287.8 1115.9,287.5 1117.6,289.8 1119.1,288.1 1120.6,287.3 1121.3,286.4 1121.9,282.9 1122.6,282.3 1123.0,285.2 1123.5,285.0 1124.0,288.3 1124.4,289.0 1124.9,286.3 1125.4,285.7 1125.9,285.3 1126.4,281.5 1126.9,280.7 1127.5,278.0 1128.0,276.7 1128.6,274.7 1129.3,275.8 1129.9,276.6 1130.6,279.7 1130.9,280.4 1131.2,282.0 1131.4,286.0 1131.7,287.0 1132.0,289.3 1132.3,288.8 1132.5,292.3 1132.8,292.0 1133.1,294.8 1134.0,293.4 1134.8,292.2 1135.7,290.3 1137.2,288.0 1138.7,286.5 1139.4,289.7 1140.0,290.9 1140.7,292.8 1141.3,291.2 1142.0,290.2 1142.6,286.0 1143.2,285.3 1146.2,285.8 1146.6,289.1 1147.0,289.8 1147.5,290.9 1147.9,293.9 1148.3,294.1 1148.7,296.6 1149.8,296.6 1150.9,294.0 1152.0,292.3 1153.6,290.6 1155.2,289.8 1156.7,291.4 1158.2,291.5 1160.8,289.8 1162.0,291.1 1163.3,292.8 1164.3,290.2 1165.3,290.2 1166.3,287.8 1167.9,288.3 1169.5,291.5 1172.8,292.3 1174.0,292.0 1175.3,289.8 1177.8,288.3 1178.7,289.3 1179.5,292.2 1180.4,295.0 1181.3,295.3 1182.9,293.7 1184.6,291.5 1187.1,289.8 1188.8,292.0 1190.4,293.3 1191.9,291.8 1193.4,291.5 1194.7,291.9 1195.9,295.3 1196.9,292.4 1197.9,292.3 1198.5,293.2 1199.0,296.6 1199.6,298.3 1200.2,296.2 1200.9,294.6 1201.5,293.9 1202.2,290.8 1204.9,289.8 1205.7,290.7 1206.4,293.0 1207.2,295.8 1208.9,296.6 1210.9,299.1 1211.2,297.9 1211.4,294.3 1211.7,292.6 1211.9,291.9 1212.2,289.5 1212.4,289.0 1212.7,286.9 1213.0,284.8 1213.3,284.2 1213.6,282.5 1213.9,279.7 1214.2,279.3 1214.5,277.2 1216.5,279.7 1218.5,282.3 1220.5,280.7 1221.1,282.3 1221.6,283.0 1222.2,285.8 1222.5,285.3 1222.8,281.5 1223.1,279.4 1223.4,277.5 1223.7,277.4 1224.0,275.2 1224.5,278.2 1225.0,279.8 1225.5,280.6 1226.0,282.8 1226.6,280.1 1227.2,277.3 1227.9,277.2 1228.5,274.7 1229.2,276.9 1229.8,278.3 1230.5,280.7 1231.1,279.4 1231.7,277.1 1232.3,276.9 1232.9,274.6 1233.5,272.2 1234.8,272.7 1236.0,274.7 1236.3,277.9 1236.7,277.4 1237.0,280.9 1237.3,282.8 1238.2,284.4 1239.0,286.5 1239.5,287.8 1240.1,289.4 1240.6,292.8 1241.0,295.5 1241.4,295.1 1241.9,298.6 1242.3,300.3 1243.1,299.5 1244.0,295.0 1244.8,294.0 1245.7,295.0 1246.6,297.8 1247.6,295.9 1248.6,293.3 1249.0,295.1 1249.4,297.3 1249.8,299.6 1250.3,299.5 1250.7,301.7 1251.1,304.1 1252.6,302.3 1254.1,301.6 1257.4,302.3 1258.0,299.0 1258.5,299.7 1259.1,296.6 1260.1,299.3 1261.1,300.3 1261.6,299.1 1262.1,295.1 1262.6,295.7 1263.1,292.8 1263.9,295.6 1264.8,296.9 1265.6,299.1 1266.5,298.2 1267.4,295.8 1268.2,297.2 1269.1,298.0 1269.9,300.3 1270.8,297.6 1271.7,297.3 1272.4,298.3 1273.0,299.6 1273.7,302.8 1275.7,301.6 1276.2,302.8 1276.7,305.7 1277.2,307.2 1277.7,309.3 1278.2,309.9 1279.5,309.2 1280.7,307.3 1283.7,305.8 1284.7,303.3 1285.7,302.3 1286.2,304.2 1286.7,305.5 1287.2,308.3 1287.7,309.2 1288.2,310.9 1289.5,308.9 1290.7,308.4 1293.8,307.3 1295.0,309.5 1296.3,310.9 1297.8,311.4 1299.3,309.1 1300.9,307.6 1302.5,307.8 1304.2,310.0 1305.8,309.9 1306.6,306.5 1307.5,305.3 1308.3,304.1 1309.8,301.6 1310.5,302.9 1311.3,305.8 1311.4,304.8 1311.4,303.6 1311.5,301.2 1311.5,298.2 1311.6,298.1 1311.6,294.7 1311.7,292.7 1311.7,292.9 1311.8,290.3 1311.9,288.7 1311.9,286.9 1312.0,286.0 1312.0,282.7 1312.1,282.1 1312.1,279.9 1312.2,278.6 1312.2,275.6 1312.3,274.0 1313.0,272.8 1313.8,270.2 1313.9,272.3 1314.0,273.4 1314.2,275.0 1314.3,278.1 1314.4,278.4 1314.5,282.8 1314.7,282.3 1314.8,285.3 1314.9,282.1 1315.1,280.5 1315.2,281.1 1315.3,277.5 1315.5,275.1 1315.6,272.9 1315.8,271.1 1315.9,271.3 1316.0,269.3 1316.2,267.6 1316.3,265.2 1316.5,264.0 1316.7,260.1 1316.9,259.8 1317.2,257.3 1317.4,256.7 1317.6,253.9 1317.9,256.9 1318.3,259.1 1318.6,258.6 1319.0,263.0 1319.3,263.9 1319.7,263.3 1320.0,261.5 1320.3,257.1 1320.7,255.5 1321.1,253.3 1321.4,252.6 1321.7,253.1 1322.0,257.4 1322.3,259.2 1322.6,260.2 1324.4,259.7 1324.7,261.8 1325.0,264.0 1325.3,265.2 1325.5,265.8 1325.8,266.9 1326.1,268.6 1326.4,271.5 1326.9,270.4 1327.4,266.8 1327.9,265.3 1328.4,263.9 1329.2,265.3 1330.1,267.2 1330.5,263.7 1331.0,262.3 1331.5,260.3 1331.9,258.9 1332.2,257.7 1332.6,254.7 1332.9,252.7 1333.2,252.8 1333.6,249.5 1333.9,247.6 1334.2,246.8 1334.6,244.2 1334.9,240.6 1335.2,240.1 1336.4,241.3 1336.6,239.3 1336.7,237.7 1336.9,236.9 1337.1,233.9 1337.2,233.3 1337.4,231.1 1337.5,228.4 1337.7,227.5 1338.9,226.8 1337.4,227.3 1421.7,227.3 1423,231.4 1424.9,221.4 1428,227.6 1431.2,223.6 1434.3,227.6 1436.8,228.3 1439.3,232 1441.6,227.6 1442.1999999999998,227.6 1442.1999999999998,406.3 7.0,406.3" fill="#fbdcb6" clip-path="url(#cBelow)"/>
<path d="M11.3 397.7L14.6 398.2M17.6 393.7L18.8 395.6M18.8 395.6L20.1 396.1M20.1 396.1L21.3 399.4M21.3 399.4L22.1 400.9M22.1 400.9L23.0 401.5M23.0 401.5L23.8 404.5M26.3 399.4L29.6 400.2M29.6 400.2L30.1 403.0M30.6 402.8L31.1 404.9M31.1 404.9L31.6 408.0M31.6 408.0L32.1 409.5M32.1 409.5L35.1 410.7M37.6 406.2L39.5 406.3M39.5 406.3L41.4 407.0M41.4 407.0L41.8 410.2M42.1 409.2L42.5 413.4M42.5 413.4L42.8 413.4M42.8 413.4L43.2 415.8M43.2 415.8L44.0 416.6M44.0 416.6L44.8 418.4M44.8 418.4L45.6 420.9M45.6 420.9L46.4 423.3M52.7 414.5L54.0 416.2M54.0 416.2L55.2 416.7M55.2 416.7L56.5 418.3M56.5 418.3L57.7 419.7M59.0 419.5L60.2 422.0M62.1 421.3L64.0 423.3M64.0 423.3L65.7 424.3M65.7 424.3L67.3 427.0M67.3 427.0L68.8 428.8M68.8 428.8L70.3 429.6M74.0 418.3L75.9 419.8M81.6 417.0L82.4 418.3M82.4 418.3L83.3 421.4M83.3 421.4L84.1 423.3M87.8 417.0L89.1 418.0M89.1 418.0L90.3 421.8M90.3 421.8L91.6 422.0M91.6 422.0L93.5 422.1M93.5 422.1L95.4 424.5M95.4 424.5L96.2 426.0M96.2 426.0L97.1 428.7M97.1 428.7L97.9 429.6M99.8 429.2L101.6 430.8M101.6 430.8L102.8 432.7M102.8 432.7L104.1 434.6M107.9 431.3L108.7 433.5M108.7 433.5L109.4 435.4M109.4 435.4L110.2 436.5M110.2 436.5L110.9 439.1M110.9 439.1L111.7 439.6M111.7 439.6L113.0 440.7M113.0 440.7L114.2 442.9M121.7 424.5L123.0 427.0M123.0 427.0L124.2 428.3M126.7 427.0L126.9 429.2M126.9 429.2L127.1 432.0M127.1 432.0L127.3 433.2M127.3 433.2L127.5 433.3M127.5 433.3L127.7 435.3M127.7 435.3L127.9 437.9M128.0 437.7L128.2 440.8M128.2 440.8L128.4 441.7M128.4 441.7L128.6 443.2M128.6 443.2L128.8 444.8M128.8 444.8L129.0 448.7M129.0 448.7L129.2 449.6M129.2 449.6L130.8 450.4M130.8 450.4L132.5 453.4M144.3 408.2L144.9 409.6M144.9 409.6L145.4 411.1M145.4 411.1L146.0 413.2M147.6 400.7L148.0 401.1M148.0 401.1L148.3 405.5M148.3 405.5L148.7 406.9M148.7 406.9L149.0 409.0M149.0 409.0L149.4 410.5M149.4 410.5L149.7 411.1M149.7 411.1L150.1 413.2M154.3 400.7L154.8 401.7M154.8 401.7L155.2 403.4M155.2 403.4L155.7 405.8M155.7 405.8L156.1 408.2M157.3 396.1L157.6 396.9M158.6 386.9L159.0 388.3M159.0 388.3L159.4 389.3M159.4 389.3L159.8 393.2M159.8 393.2L160.2 395.4M160.2 395.4L160.6 395.7M162.5 384.6L162.8 384.6M164.6 376.9L165.4 378.0M166.9 373.1L167.7 373.7M167.7 373.7L168.6 376.6M168.6 376.6L169.4 378.1M171.9 372.6L172.4 375.9M172.4 375.9L172.9 377.4M172.9 377.4L173.4 378.8M173.4 378.8L173.9 379.3M173.9 379.3L174.4 381.9M174.4 381.9L175.7 383.1M175.7 383.1L176.9 385.1M177.1 382.3L177.4 382.4M178.3 373.7L178.6 373.7M180.7 356.8L181.2 357.1M181.2 357.1L181.7 358.9M181.7 358.9L182.2 361.4M182.2 361.4L182.7 363.1M182.7 363.1L183.2 365.6M183.2 365.6L184.7 367.7M184.7 367.7L186.2 368.6M189.5 356.8L192.0 358.0M192.0 358.0L192.4 358.8M192.4 358.8L192.8 360.5M192.8 360.5L193.2 362.1M193.2 362.1L193.7 363.8M193.7 363.8L194.1 366.8M194.1 366.8L194.5 368.1M194.5 368.1L195.4 371.2M195.4 371.2L196.3 372.9M196.3 372.9L197.3 373.7M197.3 373.7L198.2 375.6M200.8 369.3L202.1 371.0M202.1 371.0L203.3 371.8M205.8 365.6L206.1 368.2M206.1 368.2L206.4 369.3M206.4 369.3L206.7 370.3M206.7 370.3L207.0 373.1M209.8 353.3L210.0 353.8M213.3 346.7L214.1 349.4M214.1 349.4L215.0 351.5M215.0 351.5L215.8 351.8M218.3 349.3L218.5 350.6M218.5 350.6L218.8 352.9M218.8 352.9L219.0 353.3M219.0 353.3L219.2 354.7M219.2 354.7L219.4 359.3M219.4 359.3L219.7 360.0M219.7 360.0L219.9 361.3M219.9 361.3L220.1 364.3M220.1 364.3L220.3 364.5M220.3 364.5L220.6 367.5M220.6 367.5L220.8 368.1M227.1 355.5L227.4 357.4M227.4 357.4L227.7 358.1M227.7 358.1L228.0 360.3M228.0 360.3L228.3 361.1M228.3 361.1L228.6 365.1M228.6 365.1L228.9 365.6M230.9 350.5L231.3 352.5M231.3 352.5L231.7 354.3M231.7 354.3L232.2 354.7M232.2 354.7L232.6 357.9M232.6 357.9L233.0 359.0M233.0 359.0L233.4 361.8M233.8 358.6L234.2 359.3M240.9 338.5L243.4 340.5M243.4 340.5L254.7 340.0M256.0 339.2L256.2 340.2M256.2 340.2L256.5 342.1M256.5 342.1L256.8 345.3M256.8 345.3L257.0 346.3M257.0 346.3L257.2 348.2M257.2 348.2L257.5 350.5M257.5 350.5L257.8 352.8M257.8 352.8L258.0 353.1M258.0 353.1L258.2 355.4M258.2 355.4L258.5 356.8M258.5 356.8L259.7 358.2M259.7 358.2L261.0 359.6M261.0 359.6L262.2 361.0M268.5 345.5L269.8 345.6M272.3 341.7L274.1 342.5M274.1 342.5L276.0 343.0M276.0 343.0L277.5 343.1M279.0 340.5L279.8 343.1M280.6 342.5L281.5 344.0M281.5 344.0L282.3 346.7M282.3 346.7L283.1 348.3M283.1 348.3L283.8 348.9M283.8 348.9L284.6 351.2M284.6 351.2L285.3 352.5M285.3 352.5L286.1 355.5M286.1 355.5L288.0 357.3M288.0 357.3L289.8 358.0M289.8 358.0L291.5 360.4M291.5 360.4L293.1 361.0M296.1 351.8L298.0 352.0M298.0 352.0L299.9 354.3M301.1 348.4L301.6 348.9M302.4 344.2L304.2 344.6M304.2 344.6L306.1 345.0M306.1 345.0L307.8 345.8M316.2 340.0L318.0 341.5M318.0 341.5L319.9 343.0M323.7 341.0L325.0 341.4M325.0 341.4L326.2 343.1M326.2 343.1L327.5 345.0M330.6 341.3L332.2 341.8M333.8 340.5L335.5 341.2M337.1 340.7L338.8 343.0M338.8 343.0L345.0 343.5M346.7 342.7L348.4 343.2M350.1 342.5L352.2 343.1M354.2 342.3L356.3 344.2M356.3 344.2L358.4 345.1M366.9 338.0L367.5 339.0M367.5 339.0L368.1 340.1M368.1 340.1L368.8 344.1M368.8 344.1L369.4 345.0M369.4 345.0L387.7 345.5M390.7 330.8L391.0 331.4M392.8 320.0L393.6 320.3M395.2 316.6L397.7 317.9M398.6 315.0L399.4 315.9M400.3 312.9L402.1 314.3M402.1 314.3L404.0 314.9M405.9 310.8L406.9 311.6M407.8 309.1L410.3 310.4M411.0 307.3L411.6 308.0M413.6 301.6L413.9 303.5M413.9 303.5L414.3 306.4M414.6 306.2L415.0 307.5M415.0 307.5L415.3 310.4M415.3 310.4L416.1 312.1M416.1 312.1L417.0 312.9M417.0 312.9L417.8 315.4M417.8 315.4L418.3 315.8M418.3 315.8L418.9 317.6M418.9 317.6L419.4 318.9M419.4 318.9L420.0 321.0M420.0 321.0L420.5 322.9M420.5 322.9L421.1 324.5M421.1 324.5L421.6 326.7M421.6 326.7L423.5 326.8M427.2 324.8L429.1 325.4M429.1 325.4L429.9 327.5M429.9 327.5L430.8 328.6M430.8 328.6L431.6 331.7M431.6 331.7L432.9 332.7M432.9 332.7L434.1 333.2M434.1 333.2L435.4 335.3M435.4 335.3L436.6 337.5M437.9 334.5L439.1 335.1M444.2 325.4L446.0 327.4M449.0 323.8L450.1 324.3M451.2 321.6L452.6 322.7M452.6 322.7L454.1 324.1M454.1 324.1L455.5 325.4M458.0 324.9L458.9 327.4M458.9 327.4L459.9 327.6M459.9 327.6L460.8 329.4M460.8 329.4L461.7 330.9M461.7 330.9L462.6 332.9M462.6 332.9L463.6 335.2M464.6 334.8L465.5 336.7M465.5 336.7L467.4 337.1M469.3 335.5L470.5 337.6M470.5 337.6L471.8 338.9M471.8 338.9L473.0 340.0M473.0 340.0L473.8 341.7M473.8 341.7L474.7 343.5M474.7 343.5L475.5 346.0M477.8 344.2L480.1 345.0M480.1 345.0L497.1 345.5M497.1 345.5L497.7 346.1M497.7 346.1L498.3 347.7M498.3 347.7L498.9 351.5M498.9 351.5L499.5 351.8M499.5 351.8L500.1 354.3M501.1 349.3L501.6 349.7M503.1 343.0L503.6 344.2M503.6 344.2L504.1 346.0M504.1 346.0L504.6 348.0M504.6 348.0L505.1 350.5M506.4 342.5L506.8 342.8M508.1 334.2L508.5 337.3M508.9 337.0L509.4 338.8M509.4 338.8L509.8 339.4M509.8 339.4L510.2 342.2M510.2 342.2L510.6 344.2M513.9 340.0L514.5 341.0M514.5 341.0L515.2 343.7M515.2 343.7L515.8 344.1M515.8 344.1L516.5 346.7M516.5 346.7L517.1 349.3M517.1 349.3L518.7 349.3M518.7 349.3L520.2 351.8M522.2 346.7L522.6 347.0M522.6 347.0L522.9 349.5M522.9 349.5L523.2 351.0M523.2 351.0L523.6 353.7M523.6 353.7L524.0 355.2M524.0 355.2L524.3 357.6M524.3 357.6L524.7 359.0M524.7 359.0L525.0 360.9M525.0 360.9L525.4 363.0M525.4 363.0L525.7 363.6M526.3 359.6L526.5 359.9M526.8 355.6L527.1 355.6M527.6 350.1L527.9 350.7M528.2 348.0L528.8 350.9M528.8 350.9L529.5 351.9M529.5 351.9L530.1 354.0M530.1 354.0L530.8 356.0M530.8 356.0L531.4 356.8M533.0 355.1L534.7 355.5M538.2 345.5L539.9 347.0M539.9 347.0L541.5 348.0M547.1 338.4L549.0 340.5M552.3 337.5L553.5 338.3M553.5 338.3L554.8 340.0M554.8 340.0L556.3 340.6M556.3 340.6L557.8 343.5M560.8 329.2L562.5 331.3M562.5 331.3L564.1 331.7M567.8 329.9L568.8 331.8M568.8 331.8L569.7 333.8M569.7 333.8L570.6 336.1M570.6 336.1L571.6 337.5M576.6 324.2L577.2 326.6M577.2 326.6L577.8 326.6M577.8 326.6L578.4 329.2M580.4 314.1L582.9 315.4M582.9 315.4L585.4 316.6M587.9 309.1L588.3 310.0M588.3 310.0L588.7 312.4M588.7 312.4L589.1 315.8M589.1 315.8L589.5 316.5M589.5 316.5L589.9 319.1M592.9 312.4L594.1 313.0M594.1 313.0L595.4 314.9M595.4 314.9L610.5 314.9M610.5 314.9L611.2 317.2M611.2 317.2L611.8 319.1M611.8 319.1L612.5 320.4M614.3 310.4L616.0 312.9M616.5 308.0L616.8 308.4M617.0 304.5L617.2 304.9M621.0 286.5L621.3 287.5M621.3 287.5L621.7 289.0M621.7 289.0L622.0 292.9M622.3 292.4L622.7 295.2M622.7 295.2L623.0 296.6M624.3 288.0L624.7 288.1M625.0 285.3L626.5 286.6M626.5 286.6L628.1 287.8M629.0 281.8L629.4 282.1M630.6 274.0L631.2 275.9M631.2 275.9L631.9 277.6M631.9 277.6L632.5 279.0M632.5 279.0L633.1 281.5M636.8 272.7L637.2 273.1M637.2 273.1L637.6 277.2M637.6 277.2L638.0 279.4M638.5 279.1L638.9 283.4M638.9 283.4L639.3 284.0M641.7 274.8L642.1 274.8M646.1 260.2L648.6 261.4M648.6 261.4L649.3 262.3M649.3 262.3L649.9 266.6M649.9 266.6L650.6 267.7M654.4 265.2L655.6 268.4M655.6 268.4L656.9 269.0M659.4 260.2L659.8 261.8M659.8 261.8L660.1 265.6M660.1 265.6L660.5 267.4M660.5 267.4L660.8 269.1M660.8 269.1L661.2 270.2M661.2 270.2L661.6 272.3M661.6 272.3L661.9 274.9M661.9 274.9L662.3 276.7M662.3 276.7L662.6 277.3M662.6 277.3L663.0 279.5M663.3 279.2L663.7 282.3M664.2 270.5L664.3 271.4M667.2 241.3L667.4 244.4M667.4 244.4L667.6 245.1M667.6 245.1L667.8 246.1M667.8 246.1L668.0 250.1M668.0 250.1L668.1 252.2M668.1 252.2L668.3 252.5M668.3 252.5L668.5 253.4M668.5 253.4L668.7 256.4M671.2 243.9L671.4 245.9M671.4 245.9L671.6 248.6M671.6 248.6L671.8 250.0M671.8 250.0L672.1 250.8M672.1 250.8L672.3 252.6M672.3 252.6L672.5 254.7M672.5 254.7L672.7 256.4M673.5 248.4L673.7 248.7M674.7 238.1L675.0 239.1M675.0 239.1L675.3 241.0M675.3 241.0L675.6 242.8M675.6 242.8L675.9 245.0M675.9 245.0L676.1 247.0M676.1 247.0L676.4 250.3M676.4 250.3L676.7 251.8M676.7 251.8L677.0 252.6M677.0 252.6L677.3 255.4M677.6 254.6L677.9 256.4M677.9 256.4L678.2 260.1M678.2 260.1L678.5 262.4M678.5 262.4L678.8 262.8M678.8 262.8L679.1 264.9M679.4 264.8L679.7 267.7M679.7 267.7L680.0 271.1M680.0 271.1L680.3 271.5M682.0 263.9L683.2 265.0M683.2 265.0L684.5 267.7M689.3 253.1L689.5 255.3M689.5 255.3L689.6 257.5M689.6 257.5L689.8 258.4M689.8 258.4L690.0 260.5M690.0 260.5L690.1 260.7M690.1 260.7L690.3 263.9M690.3 263.9L693.3 265.2M699.0 261.9L700.8 263.2M700.8 263.2L702.7 264.2M708.4 261.4L709.6 262.5M709.6 262.5L710.9 264.7M712.8 264.1L714.6 265.7M714.6 265.7L715.9 266.6M715.9 266.6L717.1 269.0M720.4 267.2L721.9 269.0M721.9 269.0L723.4 269.7M723.4 269.7L724.7 270.0M724.7 270.0L725.9 271.3M725.9 271.3L727.2 274.0M730.4 271.5L732.0 273.6M732.0 273.6L733.5 275.2M733.5 275.2L736.5 276.5M739.0 274.0L740.2 275.3M740.2 275.3L741.5 278.2M741.5 278.2L742.3 280.4M742.3 280.4L743.2 280.6M743.2 280.6L744.0 284.0M746.5 276.5L747.2 278.9M747.2 278.9L747.8 281.5M747.8 281.5L748.5 282.3M751.5 275.7L753.1 276.6M761.1 263.9L761.5 266.1M761.5 266.1L761.9 267.0M761.9 267.0L762.4 268.2M762.4 268.2L762.8 271.1M762.8 271.1L763.2 273.6M763.2 273.6L763.6 274.0M763.6 274.0L764.4 274.9M764.4 274.9L765.1 276.0M765.1 276.0L765.9 278.5M765.9 278.5L766.6 280.7M769.1 275.2L769.9 276.1M769.9 276.1L770.7 279.6M770.7 279.6L771.5 281.2M771.5 281.2L772.3 282.3M777.2 277.4L778.4 278.3M780.6 274.0L782.4 275.8M786.4 271.5L787.6 271.5M789.8 266.9L791.0 267.5M793.2 263.2L794.4 263.6M794.4 263.6L795.5 265.0M795.5 265.0L796.7 267.2M800.7 265.2L801.9 267.0M801.9 267.0L803.0 269.1M810.0 263.9L811.2 264.5M814.4 259.5L816.3 259.7M820.8 255.2L821.6 256.4M821.6 256.4L822.5 259.4M822.5 259.4L823.3 259.7M827.6 255.2L828.7 258.5M828.7 258.5L829.7 260.2M829.7 260.2L830.8 260.7M830.8 260.7L831.9 261.9M831.9 261.9L833.0 263.3M833.0 263.3L834.0 267.3M834.0 267.3L835.1 267.7M835.1 267.7L836.4 269.9M836.4 269.9L837.6 270.7M837.6 270.7L838.0 271.0M838.0 271.0L838.4 274.5M838.4 274.5L838.9 275.3M838.9 275.3L839.3 277.0M839.3 277.0L839.7 278.5M839.7 278.5L840.1 280.7M843.4 272.7L843.8 275.8M844.1 275.0L844.5 279.3M844.9 278.7L845.3 280.9M845.3 280.9L845.6 284.0M845.6 284.0L846.0 285.7M846.0 285.7L846.4 286.5M846.4 286.5L847.2 288.0M847.2 288.0L848.1 288.5M848.1 288.5L848.9 291.5M851.4 287.8L852.4 289.7M852.4 289.7L853.4 292.3M860.2 272.2L860.6 272.7M860.6 272.7L860.9 274.6M860.9 274.6L861.3 279.1M861.6 279.0L862.0 282.3M862.0 282.3L862.3 284.6M862.3 284.6L862.7 285.3M862.7 285.3L862.9 286.6M862.9 286.6L863.1 288.2M863.1 288.2L863.3 292.0M863.3 292.0L863.5 292.8M863.5 292.8L863.7 293.5M863.7 293.5L863.9 296.6M863.9 296.6L864.0 297.2M864.0 297.2L864.2 298.8M864.2 298.8L864.4 299.8M864.4 299.8L864.6 303.8M864.6 303.8L864.8 306.1M864.8 306.1L865.0 307.0M865.0 307.0L865.2 308.4M868.5 302.8L869.1 303.9M869.1 303.9L869.7 306.6M869.7 306.6L870.3 309.9M870.3 309.9L870.9 311.8M870.9 311.8L871.5 312.4M874.0 307.8L876.0 309.9M876.7 301.9L876.8 301.9M878.5 283.3L879.0 284.0M879.0 284.0L879.5 287.3M879.5 287.3L880.0 287.5M880.0 287.5L880.5 288.6M880.5 288.6L881.0 291.5M882.5 286.1L883.0 286.4M883.5 283.3L884.2 286.2M884.2 286.2L885.0 288.3M885.8 287.8L886.5 290.3M891.5 282.8L893.4 283.2M893.4 283.2L895.3 284.0M895.3 284.0L897.0 285.1M897.0 285.1L898.6 287.8M898.6 287.8L900.1 289.4M900.1 289.4L901.6 291.5M901.6 291.5L903.1 293.1M903.1 293.1L904.6 294.0M904.6 294.0L905.4 296.4M905.4 296.4L906.2 298.5M906.2 298.5L907.1 300.7M907.1 300.7L907.9 301.6M911.1 297.8L914.1 299.1M914.6 296.3L915.2 296.8M917.9 287.3L919.0 287.8M919.0 287.8L920.1 289.3M920.1 289.3L921.2 291.5M921.2 291.5L921.7 292.5M921.7 292.5L922.2 294.1M922.2 294.1L922.7 298.1M922.7 298.1L923.2 298.9M923.2 298.9L923.7 300.0M923.7 300.0L924.2 302.0M924.2 302.0L924.7 304.1M927.9 303.3L929.5 303.3M931.2 300.3L932.0 302.0M932.0 302.0L932.9 302.8M932.9 302.8L933.7 305.3M933.7 305.3L934.1 307.9M934.1 307.9L934.5 309.1M934.5 309.1L935.0 311.8M935.4 310.8L935.8 313.6M935.8 313.6L936.2 315.4M939.2 310.4L940.0 313.4M940.7 312.5L941.5 315.0M941.5 315.0L942.2 316.2M942.2 316.2L943.0 319.1M943.5 316.3L944.1 316.8M955.5 295.8L957.0 296.3M958.6 293.0L960.1 293.3M962.5 290.3L962.9 292.4M962.9 292.4L963.2 292.9M963.2 292.9L963.6 295.0M963.6 295.0L963.9 296.1M963.9 296.1L964.3 298.0M964.3 298.0L964.6 299.9M964.6 299.9L965.0 302.3M968.3 286.5L968.6 287.5M968.6 287.5L968.8 291.2M968.8 291.2L969.1 292.3M969.1 292.3L969.4 292.7M969.4 292.7L969.7 294.7M969.7 294.7L970.0 297.5M970.0 297.5L970.2 299.9M970.2 299.9L970.5 301.6M973.0 293.3L973.5 294.9M973.5 294.9L974.0 296.4M974.0 296.4L974.6 298.4M974.6 298.4L975.1 302.3M975.1 302.3L975.6 302.8M975.6 302.8L976.1 304.0M976.1 304.0L976.6 306.5M976.6 306.5L977.1 307.7M977.1 307.7L977.6 309.6M977.6 309.6L978.1 311.6M978.1 311.6L978.6 314.8M978.6 314.8L979.1 317.3M979.1 317.3L979.6 317.9M982.1 311.6L982.5 314.2M982.5 314.2L983.0 314.5M983.0 314.5L983.4 315.7M983.4 315.7L983.8 319.1M985.6 315.4L985.8 316.9M985.8 316.9L986.0 319.8M986.0 319.8L986.3 320.3M986.3 320.3L986.5 323.4M986.5 323.4L986.7 323.9M986.7 323.9L986.9 324.7M986.9 324.7L987.2 326.0M987.2 326.0L987.4 329.3M987.4 329.3L987.6 330.9M987.6 330.9L993.9 331.7M993.9 331.7L994.3 334.2M994.3 334.2L994.7 337.1M994.7 337.1L995.1 338.0M997.1 329.2L997.5 329.8M997.5 329.8L997.9 331.9M997.9 331.9L998.4 334.3M998.4 334.3L998.8 337.1M999.2 336.4L999.6 339.2M999.6 339.2L1000.3 341.3M1000.3 341.3L1001.0 344.3M1001.0 344.3L1001.7 345.5M1003.9 339.2L1005.1 340.2M1005.1 340.2L1006.4 343.5M1008.2 334.9L1010.2 336.7M1012.7 330.9L1014.7 331.7M1016.7 322.9L1017.5 325.4M1017.5 325.4L1018.4 325.4M1018.4 325.4L1019.2 327.9M1019.2 327.9L1021.5 329.2M1027.3 315.9L1028.3 317.2M1028.3 317.2L1029.3 319.1M1031.5 315.4L1031.9 316.8M1031.9 316.8L1032.3 317.8M1032.3 317.8L1032.7 319.9M1032.7 319.9L1033.1 323.1M1033.1 323.1L1033.5 324.2M1034.8 314.4L1035.0 315.1M1036.0 307.3L1037.2 309.8M1037.2 309.8L1038.3 311.6M1040.8 305.8L1043.3 307.8M1046.3 293.6L1046.6 293.7M1047.3 289.8L1048.0 290.8M1048.0 290.8L1048.6 294.3M1048.6 294.3L1049.3 295.3M1049.3 295.3L1050.0 298.0M1050.0 298.0L1050.8 299.1M1052.8 290.8L1053.3 291.5M1053.3 291.5L1053.8 294.2M1053.8 294.2L1054.4 295.0M1054.4 295.0L1054.9 297.8M1054.9 297.8L1055.4 299.8M1059.4 295.4L1060.9 297.8M1064.9 292.4L1065.8 292.7M1068.7 284.0L1069.4 284.3M1069.4 284.3L1070.2 287.3M1070.2 287.3L1070.9 289.0M1070.9 289.0L1072.6 289.3M1072.6 289.3L1074.2 290.3M1074.2 290.3L1075.1 293.2M1075.1 293.2L1075.9 293.3M1077.0 290.5L1078.1 291.0M1079.2 288.3L1082.5 289.0M1087.5 285.8L1088.8 288.5M1090.0 288.3L1093.0 289.0M1093.0 289.0L1096.0 290.3M1096.0 290.3L1097.7 291.6M1101.8 289.8L1102.6 292.6M1103.5 292.5L1104.3 295.3M1112.1 281.5L1112.8 284.5M1112.8 284.5L1113.6 287.0M1113.6 287.0L1114.3 287.8M1115.9 287.5L1117.6 289.8M1122.6 282.3L1123.0 285.2M1123.5 285.0L1124.0 288.3M1124.0 288.3L1124.4 289.0M1128.6 274.7L1129.3 275.8M1129.3 275.8L1129.9 276.6M1129.9 276.6L1130.6 279.7M1130.6 279.7L1130.9 280.4M1130.9 280.4L1131.2 282.0M1131.2 282.0L1131.4 286.0M1131.4 286.0L1131.7 287.0M1131.7 287.0L1132.0 289.3M1132.3 288.8L1132.5 292.3M1132.8 292.0L1133.1 294.8M1138.7 286.5L1139.4 289.7M1139.4 289.7L1140.0 290.9M1140.0 290.9L1140.7 292.8M1143.2 285.3L1146.2 285.8M1146.2 285.8L1146.6 289.1M1146.6 289.1L1147.0 289.8M1147.0 289.8L1147.5 290.9M1147.5 290.9L1147.9 293.9M1147.9 293.9L1148.3 294.1M1148.3 294.1L1148.7 296.6M1148.7 296.6L1149.8 296.6M1155.2 289.8L1156.7 291.4M1156.7 291.4L1158.2 291.5M1160.8 289.8L1162.0 291.1M1162.0 291.1L1163.3 292.8M1164.3 290.2L1165.3 290.2M1166.3 287.8L1167.9 288.3M1167.9 288.3L1169.5 291.5M1169.5 291.5L1172.8 292.3M1177.8 288.3L1178.7 289.3M1178.7 289.3L1179.5 292.2M1179.5 292.2L1180.4 295.0M1180.4 295.0L1181.3 295.3M1187.1 289.8L1188.8 292.0M1188.8 292.0L1190.4 293.3M1193.4 291.5L1194.7 291.9M1194.7 291.9L1195.9 295.3M1197.9 292.3L1198.5 293.2M1198.5 293.2L1199.0 296.6M1199.0 296.6L1199.6 298.3M1204.9 289.8L1205.7 290.7M1205.7 290.7L1206.4 293.0M1206.4 293.0L1207.2 295.8M1207.2 295.8L1208.9 296.6M1208.9 296.6L1210.9 299.1M1214.5 277.2L1216.5 279.7M1216.5 279.7L1218.5 282.3M1220.5 280.7L1221.1 282.3M1221.1 282.3L1221.6 283.0M1221.6 283.0L1222.2 285.8M1224.0 275.2L1224.5 278.2M1224.5 278.2L1225.0 279.8M1225.0 279.8L1225.5 280.6M1225.5 280.6L1226.0 282.8M1228.5 274.7L1229.2 276.9M1229.2 276.9L1229.8 278.3M1229.8 278.3L1230.5 280.7M1233.5 272.2L1234.8 272.7M1234.8 272.7L1236.0 274.7M1236.0 274.7L1236.3 277.9M1236.7 277.4L1237.0 280.9M1237.0 280.9L1237.3 282.8M1237.3 282.8L1238.2 284.4M1238.2 284.4L1239.0 286.5M1239.0 286.5L1239.5 287.8M1239.5 287.8L1240.1 289.4M1240.1 289.4L1240.6 292.8M1240.6 292.8L1241.0 295.5M1241.4 295.1L1241.9 298.6M1241.9 298.6L1242.3 300.3M1244.8 294.0L1245.7 295.0M1245.7 295.0L1246.6 297.8M1248.6 293.3L1249.0 295.1M1249.0 295.1L1249.4 297.3M1249.4 297.3L1249.8 299.6M1250.3 299.5L1250.7 301.7M1250.7 301.7L1251.1 304.1M1254.1 301.6L1257.4 302.3M1258.0 299.0L1258.5 299.7M1259.1 296.6L1260.1 299.3M1260.1 299.3L1261.1 300.3M1262.1 295.1L1262.6 295.7M1263.1 292.8L1263.9 295.6M1263.9 295.6L1264.8 296.9M1264.8 296.9L1265.6 299.1M1267.4 295.8L1268.2 297.2M1268.2 297.2L1269.1 298.0M1269.1 298.0L1269.9 300.3M1271.7 297.3L1272.4 298.3M1272.4 298.3L1273.0 299.6M1273.0 299.6L1273.7 302.8M1275.7 301.6L1276.2 302.8M1276.2 302.8L1276.7 305.7M1276.7 305.7L1277.2 307.2M1277.2 307.2L1277.7 309.3M1277.7 309.3L1278.2 309.9M1285.7 302.3L1286.2 304.2M1286.2 304.2L1286.7 305.5M1286.7 305.5L1287.2 308.3M1287.2 308.3L1287.7 309.2M1287.7 309.2L1288.2 310.9M1293.8 307.3L1295.0 309.5M1295.0 309.5L1296.3 310.9M1296.3 310.9L1297.8 311.4M1300.9 307.6L1302.5 307.8M1302.5 307.8L1304.2 310.0M1309.8 301.6L1310.5 302.9M1310.5 302.9L1311.3 305.8M1311.7 292.7L1311.7 292.9M1313.8 270.2L1313.9 272.3M1313.9 272.3L1314.0 273.4M1314.0 273.4L1314.2 275.0M1314.2 275.0L1314.3 278.1M1314.3 278.1L1314.4 278.4M1314.4 278.4L1314.5 282.8M1314.7 282.3L1314.8 285.3M1315.1 280.5L1315.2 281.1M1315.8 271.1L1315.9 271.3M1317.6 253.9L1317.9 256.9M1317.9 256.9L1318.3 259.1M1318.6 258.6L1319.0 263.0M1319.0 263.0L1319.3 263.9M1321.4 252.6L1321.7 253.1M1321.7 253.1L1322.0 257.4M1322.0 257.4L1322.3 259.2M1322.3 259.2L1322.6 260.2M1324.4 259.7L1324.7 261.8M1324.7 261.8L1325.0 264.0M1325.0 264.0L1325.3 265.2M1325.3 265.2L1325.5 265.8M1325.5 265.8L1325.8 266.9M1325.8 266.9L1326.1 268.6M1326.1 268.6L1326.4 271.5M1328.4 263.9L1329.2 265.3M1329.2 265.3L1330.1 267.2M1332.9 252.7L1333.2 252.8M1335.2 240.1L1336.4 241.3M1338.9 226.8L1337.4 227.3M1421.7 227.3L1423 231.4M1424.9 221.4L1428 227.6M1431.2 223.6L1434.3 227.6M1434.3 227.6L1436.8 228.3M1436.8 228.3L1439.3 232" fill="none" stroke="#ffa020" stroke-width="1.7" stroke-linecap="round"/>
<path d="M7.0 407.0L7.7 404.9M7.7 404.9L8.4 402.9M8.4 402.9L9.2 402.8M9.2 402.8L9.9 399.5M9.9 399.5L10.6 399.4M10.6 399.4L11.3 397.7M14.6 398.2L15.6 396.3M15.6 396.3L16.6 393.9M16.6 393.9L17.6 393.7M23.8 404.5L24.6 401.6M24.6 401.6L25.5 400.9M25.5 400.9L26.3 399.4M30.1 403.0L30.6 402.8M35.1 410.7L35.9 410.5M35.9 410.5L36.8 407.9M36.8 407.9L37.6 406.2M41.8 410.2L42.1 409.2M46.4 423.3L47.7 422.6M47.7 422.6L48.9 419.0M48.9 419.0L50.2 418.3M50.2 418.3L51.5 416.6M51.5 416.6L52.7 414.5M57.7 419.7L59.0 419.5M60.2 422.0L62.1 421.3M70.3 429.6L70.9 427.5M70.9 427.5L71.5 425.3M71.5 425.3L72.2 424.2M72.2 424.2L72.8 421.9M72.8 421.9L73.4 419.6M73.4 419.6L74.0 418.3M75.9 419.8L77.8 419.5M77.8 419.5L79.7 418.8M79.7 418.8L81.6 417.0M84.1 423.3L85.0 421.8M85.0 421.8L85.9 421.3M85.9 421.3L86.9 419.3M86.9 419.3L87.8 417.0M97.9 429.6L99.8 429.2M104.1 434.6L106.0 431.6M106.0 431.6L107.9 431.3M114.2 442.9L114.9 441.8M114.9 441.8L115.7 439.9M115.7 439.9L116.4 438.2M116.4 438.2L117.2 436.1M117.2 436.1L117.9 434.6M117.9 434.6L118.5 433.9M118.5 433.9L119.2 432.6M119.2 432.6L119.8 429.5M119.8 429.5L120.4 428.4M120.4 428.4L121.1 424.9M121.1 424.9L121.7 424.5M124.2 428.3L126.7 427.0M127.9 437.9L128.0 437.7M132.5 453.4L132.9 450.9M132.9 450.9L133.2 449.6M133.2 449.6L133.6 449.3M133.6 449.3L134.0 445.2M134.0 445.2L134.4 444.6M134.4 444.6L134.8 443.2M134.8 443.2L135.1 442.5M135.1 442.5L135.5 439.6M135.5 439.6L136.8 438.9M136.8 438.9L138.0 437.4M138.0 437.4L139.3 434.6M139.3 434.6L139.8 432.2M139.8 432.2L140.3 430.8M140.3 430.8L140.8 428.9M140.8 428.9L141.3 428.7M141.3 428.7L141.8 425.8M141.8 425.8L142.1 425.4M142.1 425.4L142.3 421.2M142.3 421.2L142.6 419.5M142.6 419.5L142.8 418.0M142.8 418.0L143.1 416.2M143.1 416.2L143.3 415.2M143.3 415.2L143.6 413.7M143.6 413.7L143.8 411.0M143.8 411.0L144.1 408.5M144.1 408.5L144.3 408.2M146.0 413.2L146.2 411.6M146.2 411.6L146.5 411.0M146.5 411.0L146.7 408.4M146.7 408.4L146.9 406.1M146.9 406.1L147.1 404.6M147.1 404.6L147.4 403.0M147.4 403.0L147.6 400.7M150.1 413.2L152.6 412.0M152.6 412.0L152.9 409.8M152.9 409.8L153.2 407.0M153.2 407.0L153.4 406.8M153.4 406.8L153.7 403.2M153.7 403.2L154.0 401.3M154.0 401.3L154.3 400.7M156.1 408.2L156.3 405.1M156.3 405.1L156.5 403.2M156.5 403.2L156.7 401.8M156.7 401.8L156.9 399.9M156.9 399.9L157.1 398.9M157.1 398.9L157.3 396.1M157.6 396.9L157.8 394.3M157.8 394.3L158.0 391.2M158.0 391.2L158.2 389.7M158.2 389.7L158.4 388.2M158.4 388.2L158.6 386.9M160.6 395.7L160.9 393.9M160.9 393.9L161.2 392.2M161.2 392.2L161.5 389.3M161.5 389.3L161.8 387.6M161.8 387.6L162.2 386.6M162.2 386.6L162.5 384.6M162.8 384.6L163.1 381.9M163.1 381.9L163.9 379.1M163.9 379.1L164.6 376.9M165.4 378.0L166.1 374.9M166.1 374.9L166.9 373.1M169.4 378.1L170.2 374.8M170.2 374.8L171.1 374.5M171.1 374.5L171.9 372.6M176.9 385.1L177.1 382.3M177.4 382.4L177.6 379.9M177.6 379.9L177.8 378.9M177.8 378.9L178.1 375.7M178.1 375.7L178.3 373.7M178.6 373.7L178.8 372.4M178.8 372.4L179.0 370.2M179.0 370.2L179.3 368.3M179.3 368.3L179.5 366.6M179.5 366.6L179.8 364.6M179.8 364.6L180.0 361.3M180.0 361.3L180.2 360.4M180.2 360.4L180.5 358.1M180.5 358.1L180.7 356.8M186.2 368.6L186.7 368.3M186.7 368.3L187.1 365.1M187.1 365.1L187.6 364.9M187.6 364.9L188.1 363.3M188.1 363.3L188.6 361.5M188.6 361.5L189.0 358.1M189.0 358.1L189.5 356.8M198.2 375.6L198.8 374.5M198.8 374.5L199.5 373.3M199.5 373.3L200.2 369.6M200.2 369.6L200.8 369.3M203.3 371.8L204.1 371.0M204.1 371.0L205.0 368.5M205.0 368.5L205.8 365.6M207.0 373.1L207.3 372.3M207.3 372.3L207.5 369.2M207.5 369.2L207.8 368.9M207.8 368.9L208.0 367.7M208.0 367.7L208.3 364.3M208.3 364.3L208.5 362.6M208.5 362.6L208.8 362.5M208.8 362.5L209.0 360.1M209.0 360.1L209.3 356.8M209.3 356.8L209.5 354.9M209.5 354.9L209.8 353.3M210.0 353.8L210.3 351.8M210.3 351.8L210.5 348.1M210.5 348.1L210.8 347.5M210.8 347.5L213.3 346.7M215.8 351.8L217.1 351.0M217.1 351.0L218.3 349.3M220.8 368.1L221.8 367.2M221.8 367.2L222.7 363.4M222.7 363.4L223.7 361.7M223.7 361.7L224.6 360.5M224.6 360.5L225.4 358.2M225.4 358.2L226.3 356.4M226.3 356.4L227.1 355.5M228.9 365.6L229.2 363.3M229.2 363.3L229.4 361.7M229.4 361.7L229.7 360.2M229.7 360.2L229.9 359.3M229.9 359.3L230.2 355.9M230.2 355.9L230.4 355.5M230.4 355.5L230.7 352.4M230.7 352.4L230.9 350.5M233.4 361.8L233.8 358.6M234.2 359.3L234.6 355.8M234.6 355.8L235.0 355.0M235.0 355.0L235.5 354.1M235.5 354.1L235.9 351.9M235.9 351.9L236.3 349.5M236.3 349.5L236.7 348.4M236.7 348.4L237.1 346.7M237.1 346.7L237.9 345.2M237.9 345.2L238.6 344.3M238.6 344.3L239.4 340.6M239.4 340.6L240.1 340.3M240.1 340.3L240.9 338.5M254.7 340.0L256.0 339.2M262.2 361.0L262.8 359.9M262.8 359.9L263.4 357.5M263.4 357.5L264.1 356.1M264.1 356.1L264.7 354.3M264.7 354.3L265.5 352.5M265.5 352.5L266.2 352.1M266.2 352.1L267.0 349.6M267.0 349.6L267.7 348.4M267.7 348.4L268.5 345.5M269.8 345.6L271.0 342.2M271.0 342.2L272.3 341.7M277.5 343.1L279.0 340.5M279.8 343.1L280.6 342.5M293.1 361.0L293.7 360.4M293.7 360.4L294.3 356.3M294.3 356.3L294.9 356.1M294.9 356.1L295.5 354.1M295.5 354.1L296.1 351.8M299.9 354.3L300.3 353.8M300.3 353.8L300.7 352.3M300.7 352.3L301.1 348.4M301.6 348.9L302.0 345.6M302.0 345.6L302.4 344.2M307.8 345.8L309.5 344.7M309.5 344.7L311.2 343.0M311.2 343.0L312.9 341.0M312.9 341.0L314.5 340.8M314.5 340.8L316.2 340.0M319.9 343.0L321.8 341.5M321.8 341.5L323.7 341.0M327.5 345.0L329.1 344.5M329.1 344.5L330.6 341.3M332.2 341.8L333.8 340.5M335.5 341.2L337.1 340.7M345.0 343.5L346.7 342.7M348.4 343.2L350.1 342.5M352.2 343.1L354.2 342.3M358.4 345.1L360.5 343.9M360.5 343.9L362.6 342.5M362.6 342.5L364.0 342.4M364.0 342.4L365.5 338.3M365.5 338.3L366.9 338.0M387.7 345.5L388.1 343.1M388.1 343.1L388.5 341.1M388.5 341.1L388.9 340.3M388.9 340.3L389.4 340.1M389.4 340.1L389.8 338.1M389.8 338.1L390.2 335.5M390.2 335.5L390.5 333.0M390.5 333.0L390.7 330.8M391.0 331.4L391.2 328.5M391.2 328.5L391.5 327.1M391.5 327.1L391.7 323.5M391.7 323.5L392.0 322.9M392.0 322.9L392.8 320.0M393.6 320.3L394.4 318.0M394.4 318.0L395.2 316.6M397.7 317.9L398.6 315.0M399.4 315.9L400.3 312.9M404.0 314.9L404.9 314.4M404.9 314.4L405.9 310.8M406.9 311.6L407.8 309.1M410.3 310.4L411.0 307.3M411.6 308.0L412.3 305.0M412.3 305.0L412.9 302.9M412.9 302.9L413.6 301.6M414.3 306.4L414.6 306.2M423.5 326.8L425.3 325.4M425.3 325.4L427.2 324.8M436.6 337.5L437.9 334.5M439.1 335.1L440.4 332.9M440.4 332.9L441.3 331.2M441.3 331.2L442.3 328.2M442.3 328.2L443.2 327.2M443.2 327.2L444.2 325.4M446.0 327.4L447.9 326.7M447.9 326.7L449.0 323.8M450.1 324.3L451.2 321.6M455.5 325.4L458.0 324.9M463.6 335.2L464.6 334.8M467.4 337.1L469.3 335.5M475.5 346.0L477.8 344.2M500.1 354.3L500.6 351.4M500.6 351.4L501.1 349.3M501.6 349.7L502.1 347.9M502.1 347.9L502.6 345.4M502.6 345.4L503.1 343.0M505.1 350.5L505.4 348.6M505.4 348.6L505.8 345.9M505.8 345.9L506.1 344.9M506.1 344.9L506.4 342.5M506.8 342.8L507.1 341.1M507.1 341.1L507.4 338.0M507.4 338.0L507.8 335.2M507.8 335.2L508.1 334.2M508.5 337.3L508.9 337.0M510.6 344.2L511.7 342.7M511.7 342.7L512.8 341.4M512.8 341.4L513.9 340.0M520.2 351.8L520.9 349.8M520.9 349.8L521.5 347.0M521.5 347.0L522.2 346.7M525.7 363.6L526.0 361.5M526.0 361.5L526.3 359.6M526.5 359.9L526.8 355.6M527.1 355.6L527.4 353.6M527.4 353.6L527.6 350.1M527.9 350.7L528.2 348.0M531.4 356.8L533.0 355.1M534.7 355.5L535.3 353.9M535.3 353.9L535.9 352.2M535.9 352.2L536.5 351.5M536.5 351.5L537.0 349.7M537.0 349.7L537.6 348.1M537.6 348.1L538.2 345.5M541.5 348.0L542.2 347.4M542.2 347.4L543.0 345.0M543.0 345.0L543.7 343.3M543.7 343.3L544.5 340.1M544.5 340.1L545.2 339.2M545.2 339.2L547.1 338.4M549.0 340.5L550.6 337.9M550.6 337.9L552.3 337.5M557.8 343.5L558.2 342.7M558.2 342.7L558.5 340.1M558.5 340.1L558.9 338.5M558.9 338.5L559.3 336.7M559.3 336.7L559.7 335.1M559.7 335.1L560.0 332.7M560.0 332.7L560.4 329.5M560.4 329.5L560.8 329.2M564.1 331.7L566.0 331.5M566.0 331.5L567.8 329.9M571.6 337.5L573.2 334.5M573.2 334.5L574.9 334.2M574.9 334.2L575.2 332.9M575.2 332.9L575.6 329.5M575.6 329.5L575.9 326.9M575.9 326.9L576.3 325.5M576.3 325.5L576.6 324.2M578.4 329.2L578.6 328.0M578.6 328.0L578.9 326.9M578.9 326.9L579.1 323.5M579.1 323.5L579.4 321.3M579.4 321.3L579.6 319.7M579.6 319.7L579.9 318.4M579.9 318.4L580.1 316.8M580.1 316.8L580.4 314.1M585.4 316.6L586.0 315.1M586.0 315.1L586.6 313.3M586.6 313.3L587.3 309.7M587.3 309.7L587.9 309.1M589.9 319.1L590.6 317.6M590.6 317.6L591.4 314.3M591.4 314.3L592.1 312.8M592.1 312.8L592.9 312.4M612.5 320.4L612.9 318.9M612.9 318.9L613.2 315.8M613.2 315.8L613.6 314.4M613.6 314.4L613.9 312.3M613.9 312.3L614.3 310.4M616.0 312.9L616.2 310.9M616.2 310.9L616.5 308.0M616.8 308.4L617.0 304.5M617.2 304.9L617.5 301.6M617.5 301.6L618.1 300.8M618.1 300.8L618.7 296.0M618.7 296.0L619.3 295.3M619.3 295.3L619.6 293.4M619.6 293.4L620.0 292.7M620.0 292.7L620.3 291.4M620.3 291.4L620.7 288.1M620.7 288.1L621.0 286.5M622.0 292.9L622.3 292.4M623.0 296.6L623.3 293.6M623.3 293.6L623.7 292.9M623.7 292.9L624.0 292.3M624.0 292.3L624.3 288.0M624.7 288.1L625.0 285.3M628.1 287.8L628.4 287.2M628.4 287.2L628.7 285.0M628.7 285.0L629.0 281.8M629.4 282.1L629.7 279.1M629.7 279.1L630.0 276.0M630.0 276.0L630.3 274.2M630.3 274.2L630.6 274.0M633.1 281.5L633.8 278.7M633.8 278.7L634.6 277.5M634.6 277.5L635.3 275.7M635.3 275.7L636.1 275.5M636.1 275.5L636.8 272.7M638.0 279.4L638.5 279.1M639.3 284.0L639.8 282.9M639.8 282.9L640.2 281.6M640.2 281.6L640.7 278.0M640.7 278.0L641.2 276.5M641.2 276.5L641.7 274.8M642.1 274.8L642.6 271.5M642.6 271.5L643.2 269.9M643.2 269.9L643.8 267.3M643.8 267.3L644.4 265.6M644.4 265.6L644.9 263.3M644.9 263.3L645.5 260.7M645.5 260.7L646.1 260.2M650.6 267.7L652.5 265.8M652.5 265.8L654.4 265.2M656.9 269.0L657.4 266.5M657.4 266.5L657.9 264.8M657.9 264.8L658.4 263.8M658.4 263.8L658.9 261.0M658.9 261.0L659.4 260.2M663.0 279.5L663.3 279.2M663.7 282.3L663.8 281.2M663.8 281.2L663.9 278.7M663.9 278.7L664.0 277.8M664.0 277.8L664.1 275.7M664.1 275.7L664.1 272.9M664.1 272.9L664.2 270.5M664.3 271.4L664.4 267.2M664.4 267.2L664.5 266.5M664.5 266.5L664.6 264.4M664.6 264.4L664.7 262.5M664.7 262.5L664.8 262.1M664.8 262.1L664.8 261.0M664.8 261.0L664.9 257.1M664.9 257.1L665.0 256.6M665.0 256.6L665.1 253.7M665.1 253.7L665.2 252.6M665.2 252.6L665.5 250.9M665.5 250.9L665.9 248.5M665.9 248.5L666.2 246.0M666.2 246.0L666.5 244.1M666.5 244.1L666.9 242.3M666.9 242.3L667.2 241.3M668.7 256.4L669.1 253.7M669.1 253.7L669.4 251.6M669.4 251.6L669.8 250.6M669.8 250.6L670.1 248.0M670.1 248.0L670.5 246.7M670.5 246.7L670.8 245.0M670.8 245.0L671.2 243.9M672.7 256.4L672.9 254.2M672.9 254.2L673.1 252.3M673.1 252.3L673.3 249.6M673.3 249.6L673.5 248.4M673.7 248.7L673.9 244.3M673.9 244.3L674.1 243.6M674.1 243.6L674.3 242.1M674.3 242.1L674.5 241.0M674.5 241.0L674.7 238.1M677.3 255.4L677.6 254.6M679.1 264.9L679.4 264.8M680.3 271.5L680.7 270.6M680.7 270.6L681.1 268.8M681.1 268.8L681.6 267.2M681.6 267.2L682.0 263.9M684.5 267.7L685.3 264.9M685.3 264.9L686.2 263.3M686.2 263.3L687.0 262.7M687.0 262.7L687.5 260.8M687.5 260.8L687.9 259.4M687.9 259.4L688.4 258.3M688.4 258.3L688.8 255.7M688.8 255.7L689.3 253.1M693.3 265.2L695.2 264.5M695.2 264.5L697.1 262.2M697.1 262.2L699.0 261.9M702.7 264.2L704.6 262.7M704.6 262.7L706.5 262.5M706.5 262.5L708.4 261.4M710.9 264.7L712.8 264.1M717.1 269.0L718.8 268.5M718.8 268.5L720.4 267.2M727.2 274.0L728.8 272.8M728.8 272.8L730.4 271.5M736.5 276.5L737.8 274.9M737.8 274.9L739.0 274.0M744.0 284.0L744.6 281.5M744.6 281.5L745.2 280.1M745.2 280.1L745.9 279.8M745.9 279.8L746.5 276.5M748.5 282.3L749.2 280.6M749.2 280.6L750.0 278.2M750.0 278.2L750.8 276.6M750.8 276.6L751.5 275.7M753.1 276.6L754.8 274.7M754.8 274.7L755.6 273.4M755.6 273.4L756.5 270.3M756.5 270.3L757.3 269.0M757.3 269.0L758.6 265.9M758.6 265.9L759.8 265.6M759.8 265.6L761.1 263.9M766.6 280.7L767.4 278.6M767.4 278.6L768.3 277.6M768.3 277.6L769.1 275.2M772.3 282.3L774.2 281.0M774.2 281.0L776.1 279.7M776.1 279.7L777.2 277.4M778.4 278.3L779.5 274.9M779.5 274.9L780.6 274.0M782.4 275.8L784.1 275.7M784.1 275.7L785.2 273.2M785.2 273.2L786.4 271.5M787.6 271.5L788.7 269.0M788.7 269.0L789.8 266.9M791.0 267.5L792.1 264.6M792.1 264.6L793.2 263.2M796.7 267.2L798.7 266.0M798.7 266.0L800.7 265.2M803.0 269.1L804.2 269.0M804.2 269.0L805.7 267.1M805.7 267.1L807.2 266.9M807.2 266.9L808.7 266.4M808.7 266.4L810.0 263.9M811.2 264.5L812.5 261.4M812.5 261.4L814.4 259.5M816.3 259.7L817.8 256.9M817.8 256.9L819.3 255.4M819.3 255.4L820.8 255.2M823.3 259.7L824.7 259.4M824.7 259.4L826.2 257.4M826.2 257.4L827.6 255.2M840.1 280.7L840.8 278.1M840.8 278.1L841.4 276.0M841.4 276.0L842.1 275.2M842.1 275.2L842.7 273.9M842.7 273.9L843.4 272.7M843.8 275.8L844.1 275.0M844.5 279.3L844.9 278.7M848.9 291.5L850.1 289.6M850.1 289.6L851.4 287.8M853.4 292.3L853.9 291.8M853.9 291.8L854.4 287.8M854.4 287.8L854.9 286.5M854.9 286.5L855.4 286.3M855.4 286.3L855.9 281.9M855.9 281.9L856.4 281.5M856.4 281.5L857.2 279.4M857.2 279.4L857.9 278.7M857.9 278.7L858.7 276.7M858.7 276.7L859.4 272.7M859.4 272.7L860.2 272.2M861.3 279.1L861.6 279.0M865.2 308.4L866.3 307.9M866.3 307.9L867.4 303.2M867.4 303.2L868.5 302.8M871.5 312.4L872.3 310.5M872.3 310.5L873.2 308.6M873.2 308.6L874.0 307.8M876.0 309.9L876.2 307.9M876.2 307.9L876.3 306.3M876.3 306.3L876.5 305.9M876.5 305.9L876.7 301.9M876.8 301.9L877.0 300.0M877.0 300.0L877.2 298.5M877.2 298.5L877.3 296.5M877.3 296.5L877.5 294.3M877.5 294.3L877.7 291.7M877.7 291.7L877.8 289.9M877.8 289.9L878.0 288.2M878.0 288.2L878.2 287.7M878.2 287.7L878.3 283.8M878.3 283.8L878.5 283.3M881.0 291.5L881.5 288.5M881.5 288.5L882.0 288.4M882.0 288.4L882.5 286.1M883.0 286.4L883.5 283.3M885.0 288.3L885.8 287.8M886.5 290.3L887.5 287.6M887.5 287.6L888.5 286.1M888.5 286.1L889.5 285.8M889.5 285.8L890.5 284.9M890.5 284.9L891.5 282.8M907.9 301.6L909.5 300.2M909.5 300.2L911.1 297.8M914.1 299.1L914.6 296.3M915.2 296.8L915.7 293.4M915.7 293.4L916.3 292.6M916.3 292.6L916.8 290.3M916.8 290.3L917.4 289.7M917.4 289.7L917.9 287.3M924.7 304.1L927.9 303.3M929.5 303.3L931.2 300.3M935.0 311.8L935.4 310.8M936.2 315.4L937.2 314.7M937.2 314.7L938.2 313.1M938.2 313.1L939.2 310.4M940.0 313.4L940.7 312.5M943.0 319.1L943.5 316.3M944.1 316.8L944.6 313.7M944.6 313.7L945.1 312.9M945.1 312.9L945.7 309.3M945.7 309.3L946.2 307.8M946.2 307.8L947.1 307.2M947.1 307.2L947.9 304.3M947.9 304.3L948.8 302.8M948.8 302.8L950.3 300.2M950.3 300.2L951.8 299.1M951.8 299.1L953.6 298.3M953.6 298.3L955.5 295.8M957.0 296.3L958.6 293.0M960.1 293.3L961.3 292.1M961.3 292.1L962.5 290.3M965.0 302.3L965.4 300.8M965.4 300.8L965.7 299.2M965.7 299.2L966.1 296.1M966.1 296.1L966.5 293.8M966.5 293.8L966.8 293.0M966.8 293.0L967.2 292.3M967.2 292.3L967.6 289.1M967.6 289.1L967.9 287.7M967.9 287.7L968.3 286.5M970.5 301.6L971.0 300.4M971.0 300.4L971.5 297.1M971.5 297.1L972.0 295.6M972.0 295.6L972.5 295.5M972.5 295.5L973.0 293.3M979.6 317.9L980.4 315.4M980.4 315.4L981.3 312.8M981.3 312.8L982.1 311.6M983.8 319.1L984.7 318.5M984.7 318.5L985.6 315.4M995.1 338.0L995.5 335.0M995.5 335.0L995.9 334.8M995.9 334.8L996.3 332.3M996.3 332.3L996.7 331.0M996.7 331.0L997.1 329.2M998.8 337.1L999.2 336.4M1001.7 345.5L1002.4 344.8M1002.4 344.8L1003.2 340.4M1003.2 340.4L1003.9 339.2M1006.4 343.5L1006.8 343.1M1006.8 343.1L1007.1 341.5M1007.1 341.5L1007.5 338.3M1007.5 338.3L1007.8 335.3M1007.8 335.3L1008.2 334.9M1010.2 336.7L1011.0 336.0M1011.0 336.0L1011.9 332.5M1011.9 332.5L1012.7 330.9M1014.7 331.7L1015.1 331.2M1015.1 331.2L1015.5 328.5M1015.5 328.5L1015.9 327.4M1015.9 327.4L1016.3 323.6M1016.3 323.6L1016.7 322.9M1021.5 329.2L1022.3 327.0M1022.3 327.0L1023.1 326.4M1023.1 326.4L1023.9 324.5M1023.9 324.5L1024.7 321.6M1024.7 321.6L1025.6 318.7M1025.6 318.7L1026.4 317.0M1026.4 317.0L1027.3 315.9M1029.3 319.1L1030.4 317.3M1030.4 317.3L1031.5 315.4M1033.5 324.2L1033.8 323.7M1033.8 323.7L1034.0 319.4M1034.0 319.4L1034.2 319.3M1034.2 319.3L1034.5 318.2M1034.5 318.2L1034.8 314.4M1035.0 315.1L1035.2 311.2M1035.2 311.2L1035.5 311.0M1035.5 311.0L1035.8 309.1M1035.8 309.1L1036.0 307.3M1038.3 311.6L1039.1 309.1M1039.1 309.1L1040.0 307.5M1040.0 307.5L1040.8 305.8M1043.3 307.8L1043.8 306.2M1043.8 306.2L1044.3 303.8M1044.3 303.8L1044.8 302.7M1044.8 302.7L1045.3 300.3M1045.3 300.3L1045.6 298.4M1045.6 298.4L1046.0 296.6M1046.0 296.6L1046.3 293.6M1046.6 293.7L1047.0 291.5M1047.0 291.5L1047.3 289.8M1050.8 299.1L1051.2 297.3M1051.2 297.3L1051.6 294.8M1051.6 294.8L1052.0 294.0M1052.0 294.0L1052.4 291.3M1052.4 291.3L1052.8 290.8M1055.4 299.8L1056.7 297.8M1056.7 297.8L1057.9 295.8M1057.9 295.8L1059.4 295.4M1060.9 297.8L1062.5 297.0M1062.5 297.0L1064.1 295.3M1064.1 295.3L1064.9 292.4M1065.8 292.7L1066.6 290.3M1066.6 290.3L1067.3 289.0M1067.3 289.0L1068.0 286.1M1068.0 286.1L1068.7 284.0M1075.9 293.3L1077.0 290.5M1078.1 291.0L1079.2 288.3M1082.5 289.0L1085.0 287.8M1085.0 287.8L1087.5 285.8M1088.8 288.5L1090.0 288.3M1097.7 291.6L1099.3 291.5M1099.3 291.5L1101.8 289.8M1102.6 292.6L1103.5 292.5M1104.3 295.3L1105.1 294.9M1105.1 294.9L1106.0 291.6M1106.0 291.6L1106.8 289.8M1106.8 289.8L1107.9 289.5M1107.9 289.5L1109.0 287.7M1109.0 287.7L1110.1 284.8M1110.1 284.8L1111.1 282.1M1111.1 282.1L1112.1 281.5M1114.3 287.8L1115.9 287.5M1117.6 289.8L1119.1 288.1M1119.1 288.1L1120.6 287.3M1120.6 287.3L1121.3 286.4M1121.3 286.4L1121.9 282.9M1121.9 282.9L1122.6 282.3M1123.0 285.2L1123.5 285.0M1124.4 289.0L1124.9 286.3M1124.9 286.3L1125.4 285.7M1125.4 285.7L1125.9 285.3M1125.9 285.3L1126.4 281.5M1126.4 281.5L1126.9 280.7M1126.9 280.7L1127.5 278.0M1127.5 278.0L1128.0 276.7M1128.0 276.7L1128.6 274.7M1132.0 289.3L1132.3 288.8M1132.5 292.3L1132.8 292.0M1133.1 294.8L1134.0 293.4M1134.0 293.4L1134.8 292.2M1134.8 292.2L1135.7 290.3M1135.7 290.3L1137.2 288.0M1137.2 288.0L1138.7 286.5M1140.7 292.8L1141.3 291.2M1141.3 291.2L1142.0 290.2M1142.0 290.2L1142.6 286.0M1142.6 286.0L1143.2 285.3M1149.8 296.6L1150.9 294.0M1150.9 294.0L1152.0 292.3M1152.0 292.3L1153.6 290.6M1153.6 290.6L1155.2 289.8M1158.2 291.5L1160.8 289.8M1163.3 292.8L1164.3 290.2M1165.3 290.2L1166.3 287.8M1172.8 292.3L1174.0 292.0M1174.0 292.0L1175.3 289.8M1175.3 289.8L1177.8 288.3M1181.3 295.3L1182.9 293.7M1182.9 293.7L1184.6 291.5M1184.6 291.5L1187.1 289.8M1190.4 293.3L1191.9 291.8M1191.9 291.8L1193.4 291.5M1195.9 295.3L1196.9 292.4M1196.9 292.4L1197.9 292.3M1199.6 298.3L1200.2 296.2M1200.2 296.2L1200.9 294.6M1200.9 294.6L1201.5 293.9M1201.5 293.9L1202.2 290.8M1202.2 290.8L1204.9 289.8M1210.9 299.1L1211.2 297.9M1211.2 297.9L1211.4 294.3M1211.4 294.3L1211.7 292.6M1211.7 292.6L1211.9 291.9M1211.9 291.9L1212.2 289.5M1212.2 289.5L1212.4 289.0M1212.4 289.0L1212.7 286.9M1212.7 286.9L1213.0 284.8M1213.0 284.8L1213.3 284.2M1213.3 284.2L1213.6 282.5M1213.6 282.5L1213.9 279.7M1213.9 279.7L1214.2 279.3M1214.2 279.3L1214.5 277.2M1218.5 282.3L1220.5 280.7M1222.2 285.8L1222.5 285.3M1222.5 285.3L1222.8 281.5M1222.8 281.5L1223.1 279.4M1223.1 279.4L1223.4 277.5M1223.4 277.5L1223.7 277.4M1223.7 277.4L1224.0 275.2M1226.0 282.8L1226.6 280.1M1226.6 280.1L1227.2 277.3M1227.2 277.3L1227.9 277.2M1227.9 277.2L1228.5 274.7M1230.5 280.7L1231.1 279.4M1231.1 279.4L1231.7 277.1M1231.7 277.1L1232.3 276.9M1232.3 276.9L1232.9 274.6M1232.9 274.6L1233.5 272.2M1236.3 277.9L1236.7 277.4M1241.0 295.5L1241.4 295.1M1242.3 300.3L1243.1 299.5M1243.1 299.5L1244.0 295.0M1244.0 295.0L1244.8 294.0M1246.6 297.8L1247.6 295.9M1247.6 295.9L1248.6 293.3M1249.8 299.6L1250.3 299.5M1251.1 304.1L1252.6 302.3M1252.6 302.3L1254.1 301.6M1257.4 302.3L1258.0 299.0M1258.5 299.7L1259.1 296.6M1261.1 300.3L1261.6 299.1M1261.6 299.1L1262.1 295.1M1262.6 295.7L1263.1 292.8M1265.6 299.1L1266.5 298.2M1266.5 298.2L1267.4 295.8M1269.9 300.3L1270.8 297.6M1270.8 297.6L1271.7 297.3M1273.7 302.8L1275.7 301.6M1278.2 309.9L1279.5 309.2M1279.5 309.2L1280.7 307.3M1280.7 307.3L1283.7 305.8M1283.7 305.8L1284.7 303.3M1284.7 303.3L1285.7 302.3M1288.2 310.9L1289.5 308.9M1289.5 308.9L1290.7 308.4M1290.7 308.4L1293.8 307.3M1297.8 311.4L1299.3 309.1M1299.3 309.1L1300.9 307.6M1304.2 310.0L1305.8 309.9M1305.8 309.9L1306.6 306.5M1306.6 306.5L1307.5 305.3M1307.5 305.3L1308.3 304.1M1308.3 304.1L1309.8 301.6M1311.3 305.8L1311.4 304.8M1311.4 304.8L1311.4 303.6M1311.4 303.6L1311.5 301.2M1311.5 301.2L1311.5 298.2M1311.5 298.2L1311.6 298.1M1311.6 298.1L1311.6 294.7M1311.6 294.7L1311.7 292.7M1311.7 292.9L1311.8 290.3M1311.8 290.3L1311.9 288.7M1311.9 288.7L1311.9 286.9M1311.9 286.9L1312.0 286.0M1312.0 286.0L1312.0 282.7M1312.0 282.7L1312.1 282.1M1312.1 282.1L1312.1 279.9M1312.1 279.9L1312.2 278.6M1312.2 278.6L1312.2 275.6M1312.2 275.6L1312.3 274.0M1312.3 274.0L1313.0 272.8M1313.0 272.8L1313.8 270.2M1314.5 282.8L1314.7 282.3M1314.8 285.3L1314.9 282.1M1314.9 282.1L1315.1 280.5M1315.2 281.1L1315.3 277.5M1315.3 277.5L1315.5 275.1M1315.5 275.1L1315.6 272.9M1315.6 272.9L1315.8 271.1M1315.9 271.3L1316.0 269.3M1316.0 269.3L1316.2 267.6M1316.2 267.6L1316.3 265.2M1316.3 265.2L1316.5 264.0M1316.5 264.0L1316.7 260.1M1316.7 260.1L1316.9 259.8M1316.9 259.8L1317.2 257.3M1317.2 257.3L1317.4 256.7M1317.4 256.7L1317.6 253.9M1318.3 259.1L1318.6 258.6M1319.3 263.9L1319.7 263.3M1319.7 263.3L1320.0 261.5M1320.0 261.5L1320.3 257.1M1320.3 257.1L1320.7 255.5M1320.7 255.5L1321.1 253.3M1321.1 253.3L1321.4 252.6M1322.6 260.2L1324.4 259.7M1326.4 271.5L1326.9 270.4M1326.9 270.4L1327.4 266.8M1327.4 266.8L1327.9 265.3M1327.9 265.3L1328.4 263.9M1330.1 267.2L1330.5 263.7M1330.5 263.7L1331.0 262.3M1331.0 262.3L1331.5 260.3M1331.5 260.3L1331.9 258.9M1331.9 258.9L1332.2 257.7M1332.2 257.7L1332.6 254.7M1332.6 254.7L1332.9 252.7M1333.2 252.8L1333.6 249.5M1333.6 249.5L1333.9 247.6M1333.9 247.6L1334.2 246.8M1334.2 246.8L1334.6 244.2M1334.6 244.2L1334.9 240.6M1334.9 240.6L1335.2 240.1M1336.4 241.3L1336.6 239.3M1336.6 239.3L1336.7 237.7M1336.7 237.7L1336.9 236.9M1336.9 236.9L1337.1 233.9M1337.1 233.9L1337.2 233.3M1337.2 233.3L1337.4 231.1M1337.4 231.1L1337.5 228.4M1337.5 228.4L1337.7 227.5M1337.7 227.5L1338.9 226.8M1337.4 227.3L1421.7 227.3M1423 231.4L1424.9 221.4M1428 227.6L1431.2 223.6M1439.3 232L1441.6 227.6" fill="none" stroke="#6496ee" stroke-width="1.9" stroke-linecap="round"/>
<line x1="4.5" y1="406.3" x2="1801.6" y2="406.3" stroke="#3a3ad8" stroke-width="1.3" />
<line x1="979.3" y1="185.3" x2="979.3" y2="506.4" stroke="#f08080" stroke-width="1" />
<path d="M4.5 185.3 H1801.6 V506.4 H4.5" fill="none" stroke="#7f96a4" stroke-width="1.3"/>
<rect x="4.6" y="222.5" width="3.4" height="284" fill="#000000" />
<line x1="4.6" y1="186" x2="4.6" y2="507" stroke="#7f96a4" stroke-width="1.2" />
<rect x="4.5" y="185.8" width="616.5" height="36.6" fill="url(#gPanelT)" stroke="#7f9bac" stroke-width="1" />
<text x="8.8" y="213.05" font-size="22.8" fill="#000" stroke="#000" stroke-width="0.85" textLength="516" lengthAdjust="spacingAndGlyphs" >Equity curve: Boll/WR 28 sec EUR/USD.v2</text>
<g transform="translate(543.6 203.8) scale(1.0)"><path d="M-13.2 8.4 L-1.9 -2.9 L-1.9 -12.3 L4.2 -12.3 L4.2 -5.4 L11.6 -5.4 L11.6 1.2 L2.8 1.2 L-9 12.4 A2.9 2.9 0 0 1 -13.2 8.4 Z" fill="#fff" stroke="#000" stroke-width="2.50" stroke-linejoin="round"/></g>
<rect x="561.6" y="191.6" width="23.8" height="24" fill="#ffffff" stroke="#000" stroke-width="2.6" rx="3.2" />
<path d="M560.4 198.8 V193.8 Q560.4 190.4 563.8 190.4 H583.1999999999999 Q586.6 190.4 586.6 193.8 V198.8 Z" fill="url(#gWinTop)"/>
<circle cx="604.4" cy="203.4" r="13" fill="url(#gClose)"/>
<path d="M599.0 198.0 L609.8 208.8 M609.8 198.0 L599.0 208.8" stroke="#fff" stroke-width="4.6" stroke-linecap="round"/>
<line x1="1801.6" y1="264.3" x2="1806.0" y2="264.3" stroke="#7f96a4" stroke-width="1.2" />
<text x="1809" y="272.55" font-size="22.8" fill="#000" stroke="#000" stroke-width="0.85" textLength="43.4" lengthAdjust="spacingAndGlyphs" >650</text>
<line x1="1801.6" y1="312.4" x2="1806.0" y2="312.4" stroke="#7f96a4" stroke-width="1.2" />
<text x="1809" y="320.65" font-size="22.8" fill="#000" stroke="#000" stroke-width="0.85" textLength="43.4" lengthAdjust="spacingAndGlyphs" >600</text>
<line x1="1801.6" y1="359.3" x2="1806.0" y2="359.3" stroke="#7f96a4" stroke-width="1.2" />
<text x="1809" y="367.55" font-size="22.8" fill="#000" stroke="#000" stroke-width="0.85" textLength="43.4" lengthAdjust="spacingAndGlyphs" >550</text>
<line x1="1801.6" y1="454.3" x2="1806.0" y2="454.3" stroke="#7f96a4" stroke-width="1.2" />
<text x="1809" y="462.55" font-size="22.8" fill="#000" stroke="#000" stroke-width="0.85" textLength="43.4" lengthAdjust="spacingAndGlyphs" >450</text>
<line x1="1801.6" y1="406.3" x2="1806.0" y2="406.3" stroke="#7f96a4" stroke-width="1.2" />
<text x="1809" y="414.75" font-size="22.99" fill="#000" stroke="#000" stroke-width="0.9" textLength="47.8" lengthAdjust="spacingAndGlyphs" >500</text>
<line x1="1801.6" y1="501.2" x2="1806.0" y2="501.2" stroke="#7f96a4" stroke-width="1.2" />
<text x="1808.6" y="498.25" font-size="22.8" fill="#000" stroke="#000" stroke-width="0.85" textLength="43.6" lengthAdjust="spacingAndGlyphs" >400</text>
<line x1="1801.6" y1="217.4" x2="1806.0" y2="217.4" stroke="#7f96a4" stroke-width="1.2" />
<rect x="1806.3" y="209.2" width="48.4" height="35.4" fill="url(#gLab)" stroke="#8598aa" stroke-width="1.2" />
<line x1="1801.6" y1="227.4" x2="1806" y2="227.4" stroke="#6a9cf4" stroke-width="1.2" />
<text x="1809.1" y="235.45" font-size="22.99" fill="#6a9cfc" stroke="#6a9cfc" stroke-width="0.85" textLength="42.7" lengthAdjust="spacingAndGlyphs" >689</text>
<rect x="4.5" y="509.7" width="1797.1" height="203.90000000000003" fill="url(#gPos)" />
<path d="M41.9 534.1H51.9V605.3H41.9ZM81 534.1H200.8V605.3H81ZM205.3 534.1H210.8V605.3H205.3ZM255.2 534.1H311.9V605.3H255.2ZM316.2 534.1H335.8V605.3H316.2ZM391 534.1H394.7V605.3H391ZM433.4 534.1H442.9V605.3H433.4ZM449.2 534.1H451.7V605.3H449.2ZM537.2 534.1H550.8V605.3H537.2ZM559.8 534.1H566.8V605.3H559.8ZM574.9 534.1H579.9V605.3H574.9ZM586.9 534.1H594.9V605.3H586.9ZM700.8 534.1H705.1V605.3H700.8ZM708.9 534.1H712.9V605.3H708.9ZM786.1 534.1H792.9V605.3H786.1ZM811.2 534.1H856.9V605.3H811.2ZM876 534.1H914.9V605.3H876ZM945 534.1H948V605.3H945ZM1013.2 534.1H1046.8V605.3H1013.2ZM1067.2 534.1H1075.9V605.3H1067.2ZM1122.1 534.1H1258.9V605.3H1122.1ZM1282.2 534.1H1308.1V605.3H1282.2ZM1422.2 534.1H1442V605.3H1422.2Z" fill="#6198fd"/>
<path d="M6 605.3H42.9V676.9H6ZM50.9 605.3H75.8V676.9H50.9ZM200 605.3H205.8V676.9H200ZM210 605.3H243.9V676.9H210ZM311.2 605.3H316.7V676.9H311.2ZM336.3 605.3H370.9V676.9H336.3ZM387.2 605.3H391.7V676.9H387.2ZM395.2 605.3H432.9V676.9H395.2ZM442.2 605.3H449.9V676.9H442.2ZM452.2 605.3H475.8V676.9H452.2ZM498.1 605.3H538V676.9H498.1ZM550 605.3H561.1V676.9H550ZM566.1 605.3H575.9V676.9H566.1ZM579.1 605.3H587.9V676.9H579.1ZM610 605.3H700.8V676.9H610ZM704.1 605.3H709.9V676.9H704.1ZM712.1 605.3H786.9V676.9H712.1ZM792.2 605.3H812V676.9H792.2ZM857.2 605.3H877V676.9H857.2ZM915.1 605.3H945.7V676.9H915.1ZM948.3 605.3H987.9V676.9H948.3ZM994.1 605.3H1014V676.9H994.1ZM1046.1 605.3H1067.9V676.9H1046.1ZM1075.2 605.3H1122.9V676.9H1075.2ZM1258.1 605.3H1283V676.9H1258.1ZM1307.1 605.3H1337.9V676.9H1307.1Z" fill="#fda422"/>
<line x1="4.5" y1="605.3" x2="1801.6" y2="605.3" stroke="#3a3ad8" stroke-width="1.3" />
<line x1="4.5" y1="653.4" x2="1801.6" y2="653.4" stroke="#f86060" stroke-width="1" opacity="0.85"/>
<line x1="979.3" y1="509.7" x2="979.3" y2="713.6" stroke="#f08080" stroke-width="1" />
<path d="M4.5 509.7 H1801.6 V713.6 H4.5" fill="none" stroke="#7f96a4" stroke-width="1.3"/>
<line x1="4.6" y1="509.7" x2="4.6" y2="713.6" stroke="#7f96a4" stroke-width="1.2" />
<line x1="4.5" y1="508" x2="1801.6" y2="508" stroke="#dfe8ee" stroke-width="1.6" />
<rect x="4.5" y="510" width="724" height="36.4" fill="url(#gPanelT)" stroke="#7f9bac" stroke-width="1" />
<text x="8.8" y="537.25" font-size="22.8" fill="#000" stroke="#000" stroke-width="0.85" textLength="654" lengthAdjust="spacingAndGlyphs" >ProBacktest - Positions: Boll/WR 28 sec EUR/USD.v2</text>
<rect x="668.6" y="515.8000000000001" width="23.8" height="24" fill="#ffffff" stroke="#000" stroke-width="2.6" rx="3.2" />
<path d="M667.4 523.0 V518.0 Q667.4 514.6 670.8 514.6 H690.1999999999999 Q693.6 514.6 693.6 518.0 V523.0 Z" fill="url(#gWinTop)"/>
<circle cx="711.4" cy="527.6" r="13" fill="url(#gClose)"/>
<path d="M706.0 522.2 L716.8 533.0 M716.8 522.2 L706.0 533.0" stroke="#fff" stroke-width="4.6" stroke-linecap="round"/>
<line x1="1801.6" y1="534.4" x2="1806" y2="534.4" stroke="#6a9cf4" stroke-width="1.2" />
<rect x="1806.3" y="516.5" width="18.5" height="35" fill="url(#gLab)" stroke="#8598aa" stroke-width="1.2" />
<text x="1809.4" y="542.45" font-size="22.99" fill="#6a9cfc" stroke="#6a9cfc" stroke-width="0.85" textLength="11" lengthAdjust="spacingAndGlyphs" >1</text>
<line x1="1801.6" y1="605.3" x2="1806.0" y2="605.3" stroke="#7f96a4" stroke-width="1.2" />
<text x="1809.1" y="613.45" font-size="22.8" fill="#000" stroke="#000" stroke-width="0.85" textLength="13.8" lengthAdjust="spacingAndGlyphs" >0</text>
<line x1="1801.6" y1="676.3" x2="1806.0" y2="676.3" stroke="#7f96a4" stroke-width="1.2" />
<text x="1808.5" y="684.35" font-size="22.8" fill="#000" stroke="#000" stroke-width="0.85" textLength="19.6" lengthAdjust="spacingAndGlyphs" >-1</text>
<line x1="1801.6" y1="653.4" x2="1806" y2="653.4" stroke="#000" stroke-width="1.6" />
<rect x="1806.3" y="635.4" width="64.6" height="35" fill="url(#gYel)" stroke="#8598aa" stroke-width="1.2" />
<text x="1808.5" y="661.75" font-size="22.99" fill="#000" stroke="#000" stroke-width="0.85" textLength="59.6" lengthAdjust="spacingAndGlyphs" >-0.68</text>
<rect x="4.5" y="716.5" width="1797.0" height="320.9000000000001" fill="url(#gPrice)" />
<clipPath id="cPrice"><rect x="4.5" y="716.5" width="1797.0" height="320.9000000000001"/></clipPath>
<g clip-path="url(#cPrice)">
<rect x="4.5" y="830.3" width="1797.0" height="7" fill="#c5b9a0" />
<line x1="4.5" y1="829.7" x2="1801.5" y2="829.7" stroke="#ee5050" stroke-width="1.1" />
<line x1="4.5" y1="837.6" x2="1801.5" y2="837.6" stroke="#58a838" stroke-width="1.3" />
<line x1="4.5" y1="875.3" x2="1801.5" y2="875.3" stroke="#c9bdb4" stroke-width="2.4" opacity="0.8"/>
<line x1="4.5" y1="875.3" x2="1801.5" y2="875.3" stroke="#48a030" stroke-width="1.3" stroke-dasharray="19.5 7.5"/>
<line x1="4.5" y1="945" x2="1801.5" y2="945" stroke="#bcd0b4" stroke-width="3.6" opacity="0.7"/>
<line x1="4.5" y1="945" x2="1801.5" y2="945" stroke="#28a028" stroke-width="2" />
<polyline points="4.9,946.5 6.1,950.3 8.3,953.7 8.7,957.9 11.2,960.5 12.6,964.0 16.0,960.0 17.5,964.5 18.6,968.9 20.1,964.5 22.4,960.3 23.1,955.6 25.7,951.2 26.1,955.9 27.7,960.2 28.2,957.0 29.6,954.1 30.3,951.0 30.1,947.6 32.4,944.1 33.4,940.1 35.1,943.1 36.5,946.4 39.3,950.4 41.6,945.2 42.5,948.9 42.5,952.7 43.7,956.4 43.5,960.2 44.9,963.9 44.2,967.8 45.7,971.5 45.6,975.5 48.4,980.1 50.2,975.8 52.0,971.5 55.4,967.6 59.5,964.6 62.3,965.6 63.1,961.7 65.4,958.1 65.9,954.2 68.7,949.9 72.5,946.3 72.9,950.1 73.9,953.9 74.7,957.9 77.6,955.3 79.8,958.8 81.0,962.6 81.9,966.1 84.3,969.1 87.3,964.0 88.4,967.8 89.6,971.7 93.1,977.0 95.7,975.4 99.3,980.1 103.3,982.4 106.3,986.8 108.2,990.4 110.5,994.0 114.3,999.2 116.4,994.8 117.5,990.2 119.0,986.6 119.5,982.8 119.6,978.9 121.5,975.0 124.8,979.2 125.0,975.7 126.7,972.8 128.0,977.2 128.7,981.6 129.7,985.1 130.3,988.6 130.5,992.1 131.2,995.5 130.6,998.9 135.2,999.0 136.1,995.1 138.0,991.5 139.1,987.8 139.3,984.5 140.6,981.4 140.0,978.1 140.6,974.9 140.6,971.6 141.9,968.5 141.8,965.2 142.0,961.9 142.6,958.6 143.8,955.5 143.7,952.2 144.3,948.9 146.3,944.7 147.1,940.3 148.7,943.9 149.6,947.6 150.1,951.1 151.7,948.2 153.3,945.1 154.5,940.8 155.8,936.4 156.6,933.0 155.8,929.5 157.4,926.2 156.8,922.6 157.8,919.3 157.9,915.3 160.3,913.3 162.5,918.2 163.1,915.0 163.6,911.8 164.8,908.7 164.1,905.3 165.1,902.2 165.5,899.0 166.1,895.9 168.5,890.5 170.7,894.4 171.9,891.2 173.0,888.1 174.1,891.2 174.3,894.4 175.0,897.5 175.7,900.7 177.0,904.5 177.5,908.2 178.3,904.9 178.8,901.5 178.5,898.2 179.5,894.9 179.2,891.5 178.5,888.1 179.6,884.8 179.3,881.5 179.7,878.1 180.4,874.8 180.3,871.5 180.0,868.1 180.9,864.3 181.9,860.5 182.8,864.0 183.0,867.5 182.9,871.1 183.4,874.6 184.3,878.1 187.1,880.6 187.7,877.1 187.7,873.6 188.2,870.1 189.2,866.6 190.1,862.7 191.5,866.9 193.8,871.0 195.1,875.3 195.2,879.0 196.9,882.0 197.8,885.2 199.4,888.2 203.1,892.0 203.8,888.6 204.7,885.3 204.9,881.9 206.0,885.3 205.4,888.7 205.8,892.1 205.8,895.5 206.4,898.9 207.0,902.3 206.7,905.7 207.9,902.0 207.6,898.1 208.2,894.3 209.9,890.8 210.6,887.3 209.8,883.6 211.2,880.2 212.2,876.7 211.7,873.0 214.3,870.7 216.6,875.6 216.7,872.2 217.2,868.9 217.4,865.5 217.7,862.2 218.8,858.9 219.1,855.5 218.5,852.1 219.8,848.9 220.1,845.5 220.3,842.2 220.4,838.8 221.2,835.4 221.3,839.7 223.2,843.7 222.8,848.1 224.9,851.7 225.5,855.3 227.0,851.7 228.6,848.0 229.3,852.1 230.6,856.2 230.8,860.4 233.2,855.6 236.1,858.0 235.8,861.6 236.8,865.1 238.1,868.5 237.7,872.1 238.6,875.5 239.1,879.0 240.7,882.0 242.4,885.0 243.6,888.0 245.3,892.0 247.4,896.0 251.4,890.4 253.6,895.7 253.6,899.3 255.2,902.6 254.6,906.3 255.4,909.7 255.5,913.3 256.2,916.6 257.0,919.9 257.2,923.3 258.1,926.5 257.5,930.0 258.4,933.4 260.3,937.7 262.0,941.9 266.4,937.2 266.0,933.8 267.3,930.6 267.7,927.3 268.5,924.1 268.5,920.8 269.9,917.4 272.2,914.1 276.1,911.8 279.9,913.1 284.0,915.7 283.7,920.1 285.8,924.0 285.6,928.4 287.2,931.7 288.4,935.0 290.6,937.9 294.1,943.6 294.9,940.1 296.5,936.8 298.0,933.7 301.6,928.4 301.5,924.9 302.3,921.5 303.0,917.8 307.7,915.9 311.5,915.2 314.2,914.8 317.2,919.6 321.8,922.9 325.2,926.7 329.1,928.4 332.6,923.5 336.0,919.4 341.8,917.6 345.9,915.4 351.1,915.0 356.3,915.0 360.8,917.3 365.5,921.0 367.9,915.8 367.8,912.3 369.7,909.2 370.2,905.9 374.1,902.1 375.2,898.0 377.2,894.2 381.2,890.7 385.3,891.7 388.7,896.9 389.2,900.2 390.7,903.3 390.9,906.6 390.5,910.0 391.0,913.1 391.8,908.9 393.7,905.0 393.9,900.7 395.7,897.1 396.2,893.3 400.3,896.6 403.8,900.9 408.4,905.5 409.9,909.3 411.9,913.0 412.3,916.5 413.7,919.4 415.2,915.0 416.1,910.6 416.3,907.3 417.5,904.1 417.6,900.7 417.6,897.3 418.1,894.0 419.4,890.9 419.0,887.2 421.0,884.1 421.7,880.8 425.4,877.5 428.8,874.7 431.9,875.4 432.4,879.1 434.5,882.1 434.8,885.9 439.0,890.8 442.7,885.3 446.3,882.0 449.0,886.1 450.5,890.8 452.5,887.9 456.9,883.2 459.0,879.5 460.0,875.4 462.6,872.0 464.3,868.2 466.4,864.5 468.6,860.8 471.6,855.5 474.2,852.0 475.6,848.5 480.6,845.4 480.8,848.9 481.5,852.4 482.5,855.8 482.5,859.4 482.5,862.7 484.6,859.7 485.0,856.2 486.2,852.9 486.3,849.5 488.0,846.3 487.9,842.9 488.4,839.5 489.6,836.3 489.0,832.6 490.8,828.9 493.0,825.1 493.5,829.1 495.8,832.7 495.4,836.0 495.5,839.3 495.7,842.5 497.1,845.6 496.9,848.9 497.5,852.1 497.6,855.3 499.5,859.2 500.9,862.7 503.4,859.3 504.7,855.4 505.6,858.8 505.4,862.4 506.4,865.7 506.2,869.2 507.3,872.6 507.5,876.1 507.3,879.6 508.6,883.1 508.3,878.7 510.5,874.8 510.3,870.4 512.4,866.8 513.8,862.9 515.7,859.1 516.9,855.0 522.1,850.6 523.1,847.3 524.1,843.9 525.1,840.5 526.1,836.1 526.9,831.7 528.0,835.1 528.5,838.5 529.4,842.0 530.4,845.9 534.3,842.8 536.1,846.4 536.7,850.7 539.9,855.3 541.1,852.3 541.5,849.0 542.8,845.9 543.7,842.7 547.1,839.9 551.0,839.6 554.9,837.8 556.2,833.9 558.4,830.3 558.8,833.5 559.8,836.5 560.6,839.7 561.0,842.8 563.8,844.8 567.9,844.5 571.7,841.7 575.2,837.7 575.9,834.0 576.4,830.2 578.2,826.7 577.8,822.5 581.1,817.7 584.6,821.4 584.2,824.9 585.9,827.9 586.3,831.2 586.6,834.6 587.1,838.1 590.7,841.9 594.0,839.4 598.3,841.7 599.6,838.0 600.8,834.2 602.0,830.5 605.7,825.3 608.6,820.3 610.0,817.1 610.7,813.6 611.7,810.2 615.2,815.3 616.1,818.6 616.5,821.9 616.4,825.3 617.2,828.6 618.0,831.9 618.5,835.2 618.3,838.7 618.2,842.1 618.8,845.4 619.0,848.8 620.2,852.0 621.0,855.1 621.9,859.2 624.1,863.1 624.9,859.2 626.0,855.4 626.3,858.8 627.3,862.1 627.9,865.4 628.0,868.8 629.3,872.1 629.4,875.4 632.8,880.5 634.2,877.4 634.5,873.8 635.9,871.1 639.3,868.0 640.4,871.4 640.0,875.1 641.2,878.5 641.4,882.1 642.2,885.6 642.8,889.4 644.5,893.0 644.8,896.8 645.8,900.4 648.8,905.7 649.6,902.2 650.9,899.0 652.2,895.5 656.0,896.6 658.7,900.3 662.4,895.6 662.4,892.3 662.5,889.0 662.5,885.7 663.2,882.4 663.6,879.1 663.2,875.8 664.4,872.5 664.9,869.1 664.8,872.5 665.0,875.7 666.0,878.9 665.4,882.3 665.9,885.5 666.8,888.7 667.1,891.9 666.5,895.2 666.8,898.4 667.6,901.6 667.0,904.9 667.3,908.1 667.7,911.3 666.9,914.6 667.9,917.8 667.3,921.0 667.8,924.2 668.1,927.5 667.8,930.6 669.7,927.5 670.6,923.9 672.1,920.7 672.9,924.2 673.4,927.8 673.2,931.5 674.3,934.9 675.0,938.5 675.5,942.0 675.6,938.4 676.3,934.9 676.5,931.3 677.0,927.8 678.0,924.3 677.7,920.7 678.0,917.1 679.4,913.6 679.3,909.9 680.1,906.4 679.9,902.8 680.3,899.2 680.7,895.4 684.5,890.5 685.1,894.3 685.4,898.1 685.8,901.9 687.1,905.5 688.4,909.4 690.7,913.2 691.1,910.0 691.5,906.8 692.4,903.7 693.2,900.7 697.0,898.0 701.3,901.5 704.5,905.4 708.9,900.4 709.8,903.9 711.0,907.2 711.8,910.4 715.7,905.2 718.1,902.9 721.4,901.1 726.5,898.5 727.9,895.2 730.7,892.5 736.1,890.7 738.5,887.9 741.1,885.6 743.2,882.6 744.4,879.5 749.1,880.3 749.5,883.9 751.5,886.9 752.5,890.2 756.2,895.5 757.8,898.7 758.3,902.3 759.4,905.8 761.1,908.9 763.0,911.9 763.2,908.6 764.3,905.4 763.9,902.0 765.1,898.8 764.3,895.3 764.8,892.0 765.4,888.8 765.6,885.7 770.0,889.4 772.1,885.0 773.6,880.3 776.8,885.8 778.8,889.6 781.1,893.3 784.8,897.0 788.2,897.8 790.5,894.3 792.6,890.9 796.0,887.1 801.6,884.5 805.3,881.6 806.3,885.2 808.5,888.0 812.0,892.7 816.1,889.2 818.4,885.4 821.1,881.9 823.4,884.7 825.0,888.0 827.6,885.2 829.7,881.7 830.6,884.8 831.2,888.0 831.8,891.2 833.1,894.2 833.7,898.1 834.8,901.9 836.7,905.4 838.3,909.3 840.6,912.9 841.5,916.1 842.0,919.4 843.2,922.5 844.0,925.6 845.4,928.9 845.3,932.6 847.5,935.4 850.4,941.3 852.9,939.4 854.0,936.0 854.9,932.6 856.2,929.3 856.7,925.8 859.2,920.7 860.4,924.8 861.4,928.9 861.9,933.2 861.2,929.9 862.3,926.7 861.6,923.4 862.7,920.2 862.1,916.9 863.0,913.7 862.6,910.4 862.8,907.1 862.8,903.8 863.5,900.6 864.1,897.0 864.5,893.5 864.2,889.8 863.9,886.2 864.8,882.7 865.2,879.1 865.5,875.4 867.8,872.8 869.8,869.2 871.1,865.6 871.9,868.7 872.6,871.8 874.1,874.8 874.5,878.0 876.8,875.5 877.5,872.2 878.0,868.8 877.4,865.4 878.0,862.1 877.7,858.7 878.1,855.4 879.2,852.1 879.3,848.8 879.5,845.9 881.0,843.0 882.3,846.3 883.8,849.5 884.0,853.3 887.9,856.8 889.6,852.2 891.1,847.3 895.1,846.7 897.8,849.5 899.3,852.8 902.9,857.9 903.6,861.1 905.1,864.0 905.1,867.5 907.1,870.0 909.9,872.8 914.0,868.0 915.1,871.1 916.4,874.1 917.5,877.2 917.9,880.5 918.5,877.3 919.5,874.2 920.5,871.1 921.5,868.1 922.5,864.6 921.9,860.9 922.8,857.4 924.2,854.0 924.2,850.7 927.4,848.1 930.1,851.5 931.0,855.3 931.8,852.0 933.0,848.7 933.8,845.4 934.2,842.1 934.8,838.7 934.4,835.1 937.5,830.2 938.7,834.2 940.0,837.5 944.0,832.9 944.6,836.0 945.5,839.1 946.5,842.3 946.8,845.3 948.1,841.9 948.1,838.3 949.7,834.9 949.3,831.2 951.1,827.7 951.6,831.2 952.1,834.8 952.6,838.3 952.6,842.0 953.7,845.5 956.1,850.9 960.2,852.8 961.1,856.2 961.5,859.7 962.6,862.8 963.9,859.4 964.2,855.9 965.4,852.5 966.2,849.0 966.9,845.3 967.2,848.9 967.0,852.6 968.1,856.1 968.2,859.7 968.7,863.3 969.7,866.8 969.2,870.5 969.9,866.9 969.7,863.3 971.0,859.8 970.9,856.1 971.3,852.5 972.2,849.0 972.9,845.8 975.7,840.4 976.5,837.2 976.5,834.0 976.5,830.7 977.5,827.5 978.0,824.3 977.5,821.0 978.4,817.9 979.8,814.1 981.2,810.2 982.5,813.2 982.9,816.5 983.2,819.6 983.4,822.8 984.0,819.3 984.0,815.8 985.0,812.4 985.5,809.0 985.4,805.5 986.0,802.1 987.0,798.7 986.5,795.4 988.1,799.2 989.5,802.5 991.6,799.4 992.5,796.0 994.2,792.6 997.0,797.6 998.7,794.2 998.3,790.5 998.7,786.9 1000.0,783.4 1000.1,779.8 1001.0,776.2 1001.1,772.7 1002.3,776.0 1003.4,779.3 1005.2,782.8 1007.9,777.6 1008.9,781.0 1008.7,784.7 1009.3,788.3 1010.9,791.6 1011.2,795.3 1014.9,800.3 1015.3,796.7 1016.5,793.3 1018.4,790.1 1019.7,794.6 1021.4,799.0 1022.9,795.7 1023.7,792.3 1024.1,788.7 1024.4,785.1 1025.2,781.7 1027.0,778.6 1027.4,775.2 1028.5,778.9 1029.2,782.7 1029.9,786.5 1031.1,790.3 1031.9,787.1 1032.7,784.0 1033.7,780.8 1033.9,777.6 1034.6,774.1 1034.4,770.5 1035.5,767.1 1036.4,763.7 1035.8,760.5 1040.5,765.2 1041.5,760.4 1043.5,756.0 1045.9,752.2 1047.9,748.6 1051.8,746.0 1056.8,745.3 1060.8,745.8 1065.0,747.7 1066.5,750.8 1068.5,753.5 1070.0,756.6 1074.1,761.2 1075.6,756.7 1078.4,752.0 1080.8,754.6 1082.9,756.4 1087.0,755.9 1090.8,755.6 1093.5,753.6 1097.0,752.7 1100.6,751.7 1102.8,754.9 1106.0,757.2 1108.5,759.9 1111.2,763.6 1113.5,767.8 1115.4,763.3 1117.0,758.6 1120.7,763.8 1122.1,759.8 1124.5,756.4 1128.1,752.0 1129.9,755.4 1130.9,759.0 1131.4,762.7 1132.1,766.4 1133.4,770.1 1134.4,773.8 1133.9,777.3 1135.9,773.6 1138.5,769.8 1142.0,775.2 1143.1,771.7 1144.8,768.5 1145.0,765.2 1146.9,768.5 1146.9,772.2 1147.9,775.6 1148.8,779.1 1149.1,782.3 1151.3,778.7 1152.8,774.8 1155.3,771.6 1158.6,768.4 1163.1,772.3 1165.6,770.1 1168.5,767.5 1170.2,771.7 1173.3,774.8 1176.3,773.0 1178.5,770.0 1180.1,773.3 1182.2,776.5 1183.2,780.0 1185.5,776.2 1188.4,772.8 1193.4,775.1 1195.9,779.0 1198.9,782.8 1199.9,779.2 1201.8,775.9 1203.5,772.5 1204.7,775.7 1205.1,779.2 1207.1,782.1 1208.1,785.2 1208.7,781.7 1208.9,778.2 1210.3,774.9 1210.8,771.4 1211.0,767.9 1211.5,764.5 1211.5,760.9 1211.6,757.3 1213.9,754.3 1215.0,750.9 1215.9,747.2 1220.7,743.9 1223.2,746.5 1226.0,748.8 1227.0,752.6 1228.4,756.4 1229.5,759.9 1231.5,756.2 1233.5,752.5 1234.8,749.4 1236.2,746.1 1237.9,751.4 1238.8,754.7 1238.8,758.1 1240.1,761.5 1240.1,764.9 1239.9,768.3 1240.2,771.8 1241.4,775.0 1242.4,779.0 1244.3,782.3 1249.1,777.5 1249.1,781.5 1250.4,785.1 1251.6,788.9 1252.5,792.9 1256.3,788.9 1259.5,794.0 1261.5,798.4 1263.6,802.7 1264.3,799.5 1265.2,796.4 1266.1,793.2 1267.5,789.7 1271.5,792.8 1271.8,788.9 1273.4,785.3 1274.2,781.4 1274.5,777.3 1278.4,772.7 1280.0,775.9 1281.3,779.2 1282.6,782.8 1286.4,777.5 1288.3,781.6 1291.2,785.1 1295.7,783.0 1298.4,785.6 1301.2,787.6 1303.4,783.8 1306.4,780.4 1310.1,777.6 1311.2,774.2 1310.5,770.5 1311.5,767.1 1312.6,763.7 1312.6,760.1 1312.7,763.3 1312.6,766.6 1312.4,769.8 1312.8,773.0 1312.5,776.2 1312.4,779.5 1313.3,782.7 1313.4,785.9 1313.4,789.1 1312.5,792.4 1313.5,795.6 1312.6,798.8 1313.5,802.0 1313.1,805.2 1312.3,808.5 1312.5,811.7 1313.3,814.9 1313.7,818.1 1313.4,821.4 1313.4,824.6 1312.6,827.8 1313.1,831.1 1313.8,834.3 1312.7,837.5 1312.7,840.7 1313.7,843.9 1313.2,847.2 1313.2,850.4 1313.6,847.1 1314.1,843.9 1314.5,840.6 1313.4,837.2 1314.3,834.0 1314.5,830.7 1314.3,827.4 1314.6,824.1 1315.5,820.9 1315.2,817.6 1315.4,814.3 1315.0,810.9 1315.6,807.7 1315.5,811.0 1316.0,814.2 1315.7,817.5 1316.1,820.7 1316.4,823.9 1317.1,827.2 1316.5,830.5 1316.6,833.7 1317.9,836.9 1317.2,840.2 1317.9,843.4 1318.3,846.6 1317.8,849.9 1318.9,853.1 1319.1,856.4 1318.9,859.6 1318.8,863.0 1322.7,857.9 1323.5,854.7 1323.8,851.5 1324.1,848.3 1323.8,845.0 1324.2,841.7 1324.4,838.5 1324.6,835.0 1327.3,830.4 1328.1,834.1 1328.7,837.9 1329.6,841.8 1330.3,845.5 1331.6,848.6 1331.4,851.9 1331.5,855.2 1332.7,858.3 1332.9,861.6 1334.0,864.7 1334.3,868.0 1333.8,871.4 1334.1,874.7 1335.1,878.0 1335.8,881.3 1335.7,884.7 1336.6,888.0 1337.4,891.1 1338.1,894.2 1338.5,897.4 1338.9,900.6 1339.4,897.4 1339.9,894.2 1339.5,890.8 1340.1,887.6 1340.5,884.4 1341.3,881.2 1341.6,878.0 1342.8,881.2 1343.0,884.5 1342.6,887.9 1344.0,891.1 1343.4,894.5 1344.4,897.7 1345.3,900.9 1344.7,904.2 1345.9,900.5 1346.1,896.7 1346.7,892.9 1347.5,889.2 1348.5,885.5 1348.2,882.0 1349.3,878.6 1349.7,875.2 1349.6,871.7 1349.9,868.2 1350.1,864.7 1351.1,861.4 1351.9,858.1 1352.5,854.8 1353.5,851.7 1354.5,848.6 1355.6,845.3 1355.1,849.3 1356.3,852.9 1356.6,856.7 1358.1,860.5 1358.8,857.2 1359.6,853.8 1359.4,850.4 1359.9,847.0 1361.1,843.8 1361.6,840.3 1363.1,843.6 1364.4,847.0 1366.0,850.6 1366.2,847.2 1367.6,844.2 1368.4,841.0 1368.6,837.7 1369.9,834.5 1369.3,831.1 1370.0,827.8 1371.3,824.5 1371.4,821.2 1372.0,817.9 1372.8,813.7 1373.4,809.5 1373.5,805.2 1374.0,808.7 1374.7,812.1 1376.7,815.4 1377.3,812.3 1378.0,809.1 1377.7,805.8 1378.7,802.4 1381.5,805.2 1382.1,801.7 1382.9,798.2 1383.0,794.7 1384.0,791.3 1383.7,788.0 1386.0,791.4 1388.2,795.2 1388.4,792.0 1389.8,789.0 1389.2,785.6 1391.2,782.5 1390.9,786.5 1391.9,790.2 1393.0,793.9 1393.9,797.7 1394.1,800.9 1395.6,803.8 1395.6,807.1 1396.5,810.3 1398.2,813.4 1399.3,816.8 1400.0,820.2 1399.8,824.2 1401.7,827.7 1402.0,831.6 1403.0,835.3 1403.5,839.3 1406.0,843.0 1406.4,839.2 1406.6,835.4 1406.9,831.5 1408.0,827.8 1409.0,831.5 1410.1,835.2 1409.9,839.2 1411.1,842.9 1412.5,839.2 1412.1,835.2 1413.4,831.6 1414.4,827.7 1415.0,831.2 1416.2,834.5 1417.8,837.9 1417.9,834.6 1418.3,831.4 1419.9,828.5 1420.7,825.3 1422.0,828.7 1424.3,831.8 1425.4,828.3 1426.8,825.5 1429.4,828.9 1430.4,832.9 1434.5,827.8 1435.3,831.6 1436.4,835.4 1437.9,839.1 1439.9,842.2 1441,842" fill="none" stroke="#c818b4" stroke-width="6.2" stroke-linejoin="round" opacity="0.45"/>
<polyline points="3.4,947.0 6.9,947.8 5.0,950.1 8.4,950.8 6.9,953.0 5.8,955.1 10.8,955.4 6.3,959.1 8.1,960.1 11.6,960.2 12.8,961.7 15.3,966.1 11.7,961.3 16.9,963.5 16.8,959.8 18.8,961.0 17.6,963.5 14.3,966.6 20.3,966.5 18.6,968.9 20.5,967.6 18.8,965.0 22.5,964.4 21.9,962.1 23.8,960.8 21.9,958.1 23.4,956.7 24.7,955.2 26.2,953.8 22.9,952.0 26.7,952.9 27.7,954.5 29.6,955.8 25.4,958.9 27.0,960.1 25.2,958.0 29.5,957.3 29.7,955.7 31.0,954.4 32.6,953.1 28.7,950.6 32.3,949.8 28.5,947.0 31.4,945.9 33.1,944.3 29.9,941.2 35.8,938.7 34.0,941.8 33.7,943.9 36.2,944.5 37.9,945.5 36.1,949.4 36.7,949.1 41.4,949.4 43.3,948.1 39.7,945.5 40.7,947.0 44.6,948.1 40.8,950.4 44.1,951.6 42.1,953.7 44.6,954.9 45.3,956.5 42.4,958.7 41.7,960.5 42.6,962.0 41.9,963.8 48.1,964.8 47.3,966.6 48.0,968.2 44.7,970.3 48.6,971.6 48.3,973.3 44.8,975.8 47.8,976.3 49.7,977.5 47.0,979.6 51.7,979.3 47.1,975.6 47.7,973.8 50.9,973.1 53.0,972.1 53.8,970.7 54.6,969.1 54.6,966.4 59.7,969.1 60.6,967.7 57.7,967.0 61.0,964.7 62.4,965.6 64.6,964.4 62.4,962.1 63.3,960.5 62.3,958.5 64.9,957.4 63.2,955.1 63.9,952.6 67.2,953.0 70.6,953.7 71.7,952.2 71.4,949.9 68.4,945.7 75.5,945.6 70.8,948.4 74.3,949.3 75.5,950.7 69.9,953.6 76.9,953.8 75.2,955.9 75.8,959.4 74.2,954.2 80.2,954.3 78.7,956.6 76.3,959.3 79.9,959.6 82.6,960.2 80.4,962.9 83.4,963.3 85.7,964.3 82.1,968.1 87.0,970.9 86.5,968.2 88.3,966.9 89.7,963.2 89.9,965.2 89.3,967.5 87.0,970.4 89.8,971.4 88.4,974.6 94.4,973.2 93.4,977.3 94.4,975.8 97.6,974.2 94.5,978.5 100.5,977.1 100.4,978.1 101.2,981.3 102.3,983.5 104.2,983.8 104.0,986.5 106.8,986.5 106.3,988.7 109.8,988.8 107.6,991.7 112.1,991.4 109.6,994.5 113.4,994.6 114.4,996.3 116.2,999.9 115.9,997.7 112.5,994.3 119.7,995.1 114.0,990.8 116.1,989.9 116.3,988.2 121.6,987.6 121.9,985.9 116.8,983.1 121.4,982.3 123.3,981.0 118.2,978.2 118.3,976.5 123.3,973.4 120.2,978.4 126.0,975.4 124.7,979.2 124.9,977.5 126.2,976.2 123.1,973.2 126.3,972.9 127.8,974.4 125.9,976.8 126.0,978.7 128.9,979.8 128.1,981.7 129.9,983.3 126.2,985.5 130.8,986.7 128.3,988.8 127.6,990.6 131.2,992.0 128.6,994.0 129.9,995.7 128.9,997.5 130.7,996.0 133.3,1000.5 135.6,999.1 135.4,997.3 137.7,996.2 138.8,994.8 140.6,993.6 139.6,991.5 140.1,989.8 138.8,987.7 137.2,985.9 139.3,984.5 138.0,982.8 138.9,981.2 137.3,979.4 143.8,978.5 143.7,976.8 143.2,975.2 142.7,973.5 139.3,971.5 137.8,969.7 144.2,968.7 140.4,966.7 143.8,965.5 144.2,963.9 139.5,961.5 141.2,960.1 141.9,958.5 146.3,957.6 143.5,955.5 143.9,953.8 143.2,952.1 145.5,950.7 141.5,947.9 143.6,946.6 142.3,944.2 147.9,944.2 144.7,941.1 146.3,940.5 146.4,942.3 150.2,942.9 152.2,944.1 151.3,946.1 146.5,949.1 149.6,950.0 151.3,951.7 149.9,949.2 149.1,946.9 151.8,946.3 150.9,944.6 157.3,944.2 152.9,941.3 152.5,939.4 153.8,937.8 156.9,936.6 157.4,934.9 159.1,933.3 158.6,931.5 158.8,929.8 159.2,928.1 158.0,926.2 153.5,924.0 160.1,923.0 158.6,921.1 158.8,919.4 155.3,917.2 160.5,918.2 160.2,915.3 162.2,912.3 164.7,913.4 164.8,915.4 162.1,918.2 160.7,916.4 161.7,914.9 163.8,913.5 162.0,911.6 162.4,910.1 166.0,908.8 162.1,906.8 163.7,905.3 165.7,903.9 167.5,902.4 166.3,900.7 163.3,898.7 164.9,897.3 165.4,895.6 163.7,892.7 167.0,892.3 169.7,889.6 171.4,891.0 169.7,894.0 174.2,894.0 168.9,890.1 174.1,890.3 170.6,888.6 170.8,890.2 170.6,891.9 175.9,892.4 171.8,894.9 177.6,895.4 172.1,898.2 173.7,899.5 176.0,900.6 178.4,901.9 177.8,904.1 174.3,907.4 175.9,908.1 179.4,906.7 174.9,904.8 180.2,903.5 176.6,901.7 179.4,900.2 176.1,898.4 182.0,897.1 181.4,895.5 181.8,893.9 177.0,892.1 182.0,890.7 177.1,888.9 178.8,887.3 177.1,885.6 180.0,884.2 178.8,882.5 176.1,880.8 177.7,879.2 179.8,877.7 179.8,876.1 180.7,874.6 182.3,873.0 183.6,871.5 178.2,869.6 178.9,867.8 179.6,866.0 177.7,863.6 179.2,861.9 185.5,860.0 183.8,861.9 181.9,863.8 185.1,864.9 185.6,866.5 185.5,868.1 183.1,870.1 180.7,872.1 185.6,873.0 183.3,875.0 184.9,876.4 183.8,878.9 183.3,881.7 190.1,881.1 184.1,878.6 184.6,877.0 186.2,875.6 191.3,874.7 187.6,872.6 190.9,871.4 189.7,869.6 186.1,867.5 190.2,866.4 191.5,865.0 186.6,865.0 193.5,863.2 191.4,866.9 191.1,868.9 194.8,869.8 193.4,872.1 197.0,873.0 193.7,875.9 194.1,877.6 199.0,877.4 195.2,880.8 195.9,882.3 194.6,884.7 200.0,884.3 195.7,887.8 200.2,887.7 198.3,891.3 200.3,891.7 204.0,892.2 200.6,889.6 201.6,888.1 200.7,886.1 203.8,885.1 202.0,882.8 202.1,882.1 206.5,883.5 206.0,885.3 205.8,887.0 204.5,888.8 206.9,890.3 204.1,892.2 205.1,893.9 204.8,895.6 208.6,897.0 207.9,898.8 204.3,900.8 204.3,902.5 206.2,904.0 203.6,905.1 208.9,904.3 204.4,901.9 205.5,900.3 204.6,898.4 206.7,897.1 212.1,896.3 206.3,893.6 212.5,892.9 208.3,890.5 208.4,888.9 209.8,887.5 207.0,885.4 208.0,884.0 211.5,882.8 209.2,880.9 212.7,879.7 211.2,877.9 214.6,876.7 208.5,874.2 212.9,874.1 214.2,873.0 212.8,871.6 218.1,871.0 218.3,872.9 219.3,875.8 215.3,873.8 218.6,872.3 214.9,870.4 218.2,869.0 218.8,867.3 216.2,865.4 218.3,863.9 214.9,861.9 216.4,860.4 219.5,858.9 219.5,857.2 216.7,855.3 220.1,853.9 216.7,851.9 221.3,850.7 221.1,849.0 221.7,847.4 218.5,845.4 216.8,843.5 217.2,841.9 220.4,840.5 223.6,839.1 220.3,837.1 223.5,835.0 221.0,837.3 220.0,839.4 219.9,841.2 225.2,842.0 222.7,844.4 221.7,846.5 224.5,847.6 222.5,850.4 225.4,851.5 222.4,854.6 226.5,855.8 226.2,853.5 225.5,851.2 231.1,851.0 231.0,847.5 227.9,850.0 232.2,851.0 227.5,853.7 232.7,854.6 233.1,856.4 233.7,858.1 232.5,861.4 229.0,857.6 230.4,856.1 231.5,857.2 236.5,855.1 236.4,857.9 238.8,859.2 232.9,861.7 238.3,862.6 234.1,864.8 237.3,866.0 236.5,867.7 237.8,869.2 236.0,871.0 240.2,872.1 241.0,873.6 239.4,875.2 240.7,876.5 236.3,880.1 237.8,881.3 243.2,881.0 242.5,883.0 242.8,884.8 240.4,887.5 246.6,886.5 243.6,890.0 241.9,892.6 243.5,893.8 247.9,893.4 246.4,895.2 247.5,893.5 248.3,891.2 251.5,890.4 249.4,893.7 254.4,893.2 251.4,896.0 252.1,897.5 251.7,899.2 253.1,900.6 251.9,902.4 254.3,903.7 252.6,905.6 252.7,907.2 252.6,908.8 252.4,910.5 254.5,911.8 259.3,912.8 255.9,914.9 257.6,916.4 254.6,918.5 258.9,919.6 258.8,921.4 258.4,923.1 255.3,925.2 260.7,926.2 256.1,928.5 258.3,929.9 256.2,931.9 259.8,932.8 256.6,936.2 257.4,937.9 262.1,938.1 260.9,940.5 262.9,942.5 263.6,940.5 264.4,938.4 267.1,937.3 265.3,935.3 269.8,934.3 264.1,931.8 263.7,930.1 266.8,928.9 266.9,927.2 268.0,925.7 270.0,924.4 266.3,922.1 270.2,921.9 272.0,920.6 269.9,917.4 272.8,916.9 271.0,912.7 273.6,912.2 276.7,909.8 278.0,912.6 281.6,911.1 279.7,917.5 281.5,916.2 281.1,918.2 282.5,919.7 285.7,921.0 287.0,922.5 285.4,924.7 283.0,927.1 286.1,928.3 286.2,930.1 286.5,932.0 288.5,933.1 290.1,934.4 289.7,936.4 289.8,938.2 293.8,937.9 291.2,942.6 291.8,942.7 294.3,941.8 295.7,940.3 293.5,937.6 297.7,937.2 298.3,935.5 296.2,932.3 300.9,933.5 302.4,931.9 298.1,927.6 303.6,927.2 299.4,924.3 303.4,923.5 301.7,921.3 301.3,919.5 302.2,916.3 305.8,917.8 306.9,913.4 308.7,912.6 310.9,914.0 312.6,912.7 315.5,914.3 316.0,916.1 316.6,917.7 316.7,920.0 320.1,919.1 319.2,923.1 321.6,922.8 322.8,924.1 322.7,926.8 326.1,924.6 326.3,928.1 330.8,929.8 329.2,926.0 333.6,926.8 332.0,923.0 334.1,922.3 336.5,922.0 335.1,917.2 339.3,920.9 340.1,918.4 341.4,915.9 343.0,916.9 343.8,914.0 346.8,918.6 347.5,912.2 349.6,915.3 351.5,914.3 352.8,914.0 355.2,917.8 356.3,914.4 358.4,914.6 358.6,918.0 362.0,916.3 363.6,917.6 363.5,919.7 364.1,920.3 363.8,918.0 363.6,915.9 364.6,915.0 365.5,913.5 365.3,911.7 370.5,911.2 372.2,909.8 370.1,907.5 368.3,903.6 370.9,904.1 374.1,904.5 373.0,901.6 377.2,901.7 376.2,899.3 373.0,896.0 374.3,894.7 378.8,895.5 376.8,891.2 378.6,890.3 381.4,891.9 384.0,890.3 385.5,891.6 387.8,892.5 385.3,897.3 387.5,897.1 391.5,898.2 390.6,900.0 392.9,901.3 388.7,903.6 390.7,905.0 390.0,906.8 388.0,908.7 392.1,909.8 388.1,912.1 394.4,913.8 389.3,910.9 391.4,909.5 389.1,907.1 394.9,906.5 389.8,903.6 393.1,902.4 394.5,900.9 394.1,898.6 398.5,898.0 396.6,895.3 397.0,892.6 395.9,896.5 397.8,897.2 397.9,899.4 402.6,897.3 404.1,898.2 406.1,899.2 405.2,902.3 403.9,905.9 405.1,907.1 410.9,906.1 409.0,908.9 409.4,910.5 407.8,913.1 409.5,914.0 413.5,914.2 410.3,917.4 411.9,918.5 415.7,920.0 411.8,916.9 416.6,916.4 416.6,914.5 415.3,912.2 419.8,911.0 416.2,909.0 419.2,907.6 416.8,905.7 416.6,904.0 417.2,902.3 419.4,900.9 419.0,899.2 421.4,897.7 419.8,895.9 419.2,894.1 416.7,892.2 415.4,889.7 416.3,888.2 422.2,888.1 419.8,885.6 422.2,884.4 420.1,882.0 419.8,879.0 424.2,881.0 422.5,876.5 424.4,875.9 428.9,878.2 428.0,876.1 428.7,876.7 429.5,878.3 429.8,880.1 432.6,880.9 431.7,883.2 437.6,882.9 433.7,886.9 435.1,888.3 438.2,888.8 442.0,892.7 438.5,887.5 441.9,887.5 441.0,883.9 444.0,884.2 444.2,881.9 446.4,882.1 446.7,883.9 445.6,886.5 446.0,888.5 452.1,887.9 452.8,893.0 451.8,889.6 450.1,886.0 451.9,884.8 456.2,885.3 459.6,884.6 456.7,881.2 459.1,880.5 461.4,879.8 458.9,876.6 459.4,875.0 459.8,873.3 459.0,871.2 463.0,871.3 463.4,869.6 466.4,869.2 466.3,867.2 469.0,866.6 467.7,864.2 464.3,860.6 470.6,862.5 469.4,859.1 470.2,856.8 472.5,855.8 469.3,852.4 471.3,851.5 471.6,849.7 473.4,848.8 475.4,848.1 478.6,850.1 478.9,847.6 477.8,845.9 483.2,846.6 482.2,848.4 481.9,850.1 478.0,852.4 477.9,854.0 480.5,855.2 480.3,856.8 483.3,858.0 484.2,859.4 485.1,860.9 483.7,863.1 481.2,860.5 484.6,859.7 484.1,857.7 481.8,855.1 485.2,854.4 488.1,853.2 488.8,851.6 483.9,849.1 486.3,847.7 489.2,846.5 488.9,844.7 487.6,842.8 491.2,841.7 486.1,839.1 485.7,837.4 486.1,835.7 488.7,834.4 489.7,832.8 488.3,830.6 489.3,829.3 494.1,829.4 491.3,826.6 495.5,824.2 490.8,828.0 496.2,828.2 497.5,829.9 496.2,832.7 493.6,834.6 495.4,836.0 494.4,837.8 494.6,839.4 493.1,841.2 498.1,842.3 498.5,843.9 495.2,845.9 497.9,847.2 495.6,849.1 497.8,850.5 497.7,852.1 500.5,853.4 494.6,857.0 500.9,855.6 499.0,858.4 498.7,860.4 498.5,862.4 504.2,864.3 501.8,861.3 502.6,859.8 504.8,859.0 505.0,857.2 508.4,855.0 503.1,857.3 506.7,858.5 505.1,860.3 506.9,861.8 507.0,863.4 507.8,865.0 506.7,866.7 509.5,868.1 504.1,870.3 509.4,871.4 505.5,873.4 508.1,874.8 510.9,876.1 508.7,878.0 504.2,880.1 505.0,881.7 510.7,883.5 511.8,881.9 512.0,880.1 507.0,877.2 509.4,875.8 509.0,873.9 510.8,872.4 509.1,869.9 511.3,869.0 512.9,867.9 512.7,866.0 515.1,865.2 515.7,863.8 513.2,860.6 515.4,859.9 514.7,857.7 518.3,857.6 517.6,855.3 517.2,852.5 519.2,851.4 520.5,850.1 523.5,849.3 520.8,846.5 524.2,845.7 524.6,844.0 522.5,841.6 523.6,840.1 528.4,839.5 527.0,837.2 528.2,835.7 525.5,833.0 525.2,832.1 527.6,833.3 529.6,834.7 526.9,837.1 526.3,839.0 529.5,840.1 530.8,841.7 532.0,843.2 529.6,844.1 533.4,846.3 531.8,843.9 535.0,844.2 533.4,846.7 538.6,846.3 536.9,848.7 536.5,850.8 541.1,850.3 539.7,853.3 539.4,855.1 539.6,853.5 541.9,852.5 538.4,849.7 542.8,849.4 540.6,847.0 545.8,846.9 544.1,844.6 542.9,841.9 545.0,840.6 547.6,841.1 547.9,837.2 550.3,837.8 552.8,837.5 552.5,836.6 553.9,835.5 554.6,834.0 555.9,832.9 559.6,832.7 560.0,830.0 558.8,831.8 562.1,832.8 561.2,834.6 557.6,837.0 559.5,838.2 558.0,840.2 562.2,841.0 561.4,842.6 564.2,841.8 563.0,843.4 564.7,842.0 567.2,843.3 569.6,842.9 572.6,842.6 575.1,842.8 574.2,839.1 574.6,837.6 573.7,835.7 575.0,834.3 577.2,833.0 575.1,830.8 580.3,830.1 574.7,827.3 577.9,826.2 576.9,824.2 577.3,822.3 582.1,822.6 579.3,819.2 580.1,818.6 582.2,818.8 584.6,819.0 584.5,821.4 585.3,823.0 588.0,824.1 581.9,827.0 584.2,828.3 585.9,829.6 588.4,830.8 585.0,833.2 585.7,834.7 586.2,836.3 587.3,837.8 587.9,839.3 589.6,840.3 588.8,839.4 593.0,841.4 593.9,839.8 595.6,840.8 597.6,841.5 599.0,840.1 598.0,838.1 602.8,837.8 601.0,835.5 601.3,833.8 604.2,832.9 602.9,831.3 604.8,830.1 606.1,828.4 602.7,823.5 606.3,823.4 608.7,822.7 610.9,821.1 611.7,819.5 606.3,815.9 607.0,814.3 611.4,813.8 608.8,811.1 613.2,809.2 610.8,813.6 611.4,815.7 613.4,815.6 612.7,817.3 614.2,818.8 619.1,819.9 616.0,822.0 613.9,824.0 615.3,825.5 614.9,827.2 619.4,828.4 619.0,830.1 615.2,832.3 616.4,833.8 619.9,835.1 615.0,837.4 618.3,838.7 622.0,839.9 617.1,842.2 620.0,843.5 620.4,845.2 618.3,847.2 619.5,848.7 616.9,850.7 620.1,852.1 622.5,853.5 621.6,855.0 623.7,855.8 620.8,858.8 623.1,859.6 624.8,860.6 620.2,861.8 622.5,860.5 625.1,859.3 626.1,857.6 624.0,855.7 623.7,857.5 625.3,859.0 627.3,860.4 623.8,862.6 630.2,863.3 627.5,865.5 630.0,866.8 629.0,868.7 630.7,870.1 630.9,871.8 628.7,873.9 629.4,875.5 633.5,875.2 633.1,877.6 634.5,881.1 633.3,878.9 635.5,877.7 635.6,876.0 635.1,874.0 634.2,871.9 633.9,867.9 638.0,870.4 639.0,868.1 642.5,869.1 637.2,871.7 641.9,872.4 642.2,874.0 640.8,875.9 642.5,877.3 642.4,879.0 640.1,881.0 643.9,881.9 643.4,883.7 641.3,885.8 639.4,887.9 646.6,888.2 644.3,890.4 644.7,892.1 647.4,893.3 644.5,895.6 645.4,897.2 642.9,899.4 647.5,899.4 644.1,903.7 646.6,904.5 648.4,905.5 647.4,903.4 652.1,903.1 649.4,900.3 653.9,900.0 652.3,897.6 651.1,898.0 654.4,893.7 654.7,897.9 658.5,896.6 657.4,900.1 656.3,899.1 659.1,898.4 659.9,896.7 663.1,895.7 664.1,894.1 662.6,892.3 659.6,890.4 659.5,888.7 659.3,887.0 661.9,885.6 662.2,884.0 662.5,882.3 663.5,880.8 666.8,879.4 663.1,877.4 667.1,876.1 665.0,874.2 663.3,872.4 662.6,870.7 667.7,868.8 661.9,871.1 665.2,872.4 666.5,873.9 665.0,875.7 662.2,877.7 667.4,878.8 666.2,880.5 666.3,882.2 667.4,883.7 664.7,885.6 663.2,887.2 667.8,888.7 669.9,890.2 669.2,891.8 670.0,893.4 668.6,895.1 669.6,896.7 666.6,898.4 664.5,900.1 668.7,901.6 664.5,903.4 665.3,904.9 663.9,906.6 666.5,908.1 670.1,909.6 666.0,911.4 665.8,913.0 667.5,914.6 668.0,916.2 667.0,917.8 669.3,919.3 670.8,920.9 667.9,922.6 670.7,924.1 668.0,925.9 669.0,927.4 665.3,929.2 671.5,931.9 672.3,930.3 667.9,926.7 670.8,926.0 674.1,925.3 673.5,923.2 675.0,920.2 674.6,921.9 671.7,924.1 673.1,925.6 676.0,926.8 676.2,928.4 672.7,930.7 677.2,931.6 671.0,934.4 675.1,935.4 673.5,937.3 674.1,938.9 674.9,940.4 673.5,941.7 679.2,940.8 679.6,939.1 678.7,937.4 678.2,935.6 679.8,934.2 679.5,932.5 679.1,930.8 675.9,928.7 679.6,927.5 680.1,925.9 675.4,923.7 678.5,922.4 677.0,920.6 675.9,918.8 676.6,917.1 677.5,915.6 677.5,913.9 678.3,912.3 678.8,910.6 676.0,908.6 678.7,907.2 683.0,906.0 678.1,903.8 677.3,902.0 680.9,900.7 678.6,898.8 684.0,897.6 683.8,897.7 680.0,892.3 680.6,890.2 682.3,890.9 684.5,892.2 687.5,893.4 687.0,895.3 687.8,896.8 685.4,899.0 685.3,900.7 683.5,902.7 686.2,904.0 684.1,906.8 690.2,905.9 687.1,909.2 688.1,910.5 686.8,912.9 689.9,913.0 692.5,912.0 688.3,909.3 693.5,908.9 693.2,907.2 689.5,904.7 692.5,903.7 696.2,902.9 693.3,900.3 695.5,900.1 694.5,900.5 700.5,897.2 702.0,898.1 701.5,901.4 702.7,902.6 702.0,905.8 703.0,904.5 705.8,903.9 708.0,902.9 709.6,900.2 705.6,903.5 710.6,903.5 712.9,904.6 711.5,907.1 710.3,909.4 714.1,912.1 713.6,909.3 713.9,906.8 716.3,906.2 717.3,904.6 718.3,903.1 717.8,899.8 721.9,902.5 721.4,897.3 725.8,901.3 727.0,899.4 729.2,898.8 727.5,894.5 731.5,896.0 730.1,891.5 732.1,891.5 735.2,893.0 735.2,889.6 739.5,891.4 740.6,890.1 742.0,889.3 740.8,885.4 743.5,884.8 743.6,882.9 744.6,881.3 744.6,880.7 747.5,876.6 745.8,881.5 747.0,882.9 748.9,884.2 752.1,884.8 752.9,886.5 751.5,888.9 753.4,889.8 751.0,894.1 752.0,895.8 755.9,895.6 757.8,896.9 759.5,898.1 756.2,901.3 761.7,901.0 759.3,903.9 762.1,904.5 761.3,906.8 758.6,910.2 763.2,909.8 760.5,911.6 764.7,910.4 760.8,908.3 763.7,907.0 766.2,905.6 762.1,903.4 766.4,902.3 760.9,899.9 766.9,899.0 766.7,897.3 766.0,895.5 768.6,894.1 767.8,892.4 764.2,890.3 767.1,888.9 766.4,887.2 767.4,884.3 769.4,884.9 766.4,890.0 771.2,889.9 768.1,886.5 773.0,886.5 769.4,882.9 774.6,883.0 771.6,881.9 777.0,880.5 773.8,885.5 780.3,884.2 780.8,885.7 781.5,887.2 778.7,890.6 780.9,891.3 783.4,890.7 783.8,893.0 782.7,896.7 785.0,897.0 787.6,894.9 787.3,897.4 790.9,897.3 789.0,894.5 793.3,894.7 791.5,892.0 794.8,892.7 793.5,889.0 796.6,889.9 795.1,885.2 798.1,886.0 798.4,882.9 803.1,887.3 802.9,882.3 802.5,883.2 808.3,882.0 805.5,885.8 806.7,887.0 808.5,888.1 810.3,889.5 809.0,893.2 814.7,895.3 815.9,894.2 817.3,892.7 818.5,890.8 820.0,889.8 820.5,887.7 818.7,884.3 818.7,882.2 821.5,881.7 824.2,882.2 821.6,885.8 821.0,888.2 824.2,887.5 826.7,886.8 829.8,886.7 827.3,882.8 832.3,881.0 829.1,883.5 826.7,885.8 831.6,886.2 833.3,887.4 830.7,889.8 832.2,891.0 833.5,892.4 833.1,894.2 832.6,896.1 836.6,896.5 835.3,898.8 832.0,901.6 833.3,903.0 835.5,904.1 839.1,904.1 836.1,907.6 838.7,908.2 836.5,911.1 842.1,910.2 839.0,913.4 843.7,913.7 844.3,915.3 840.6,918.1 842.3,919.3 844.6,920.3 840.8,923.2 841.9,924.6 841.8,926.3 843.3,927.7 844.4,929.2 842.2,931.7 845.7,932.4 849.1,933.2 848.7,934.7 850.9,935.5 846.9,940.5 850.5,942.2 851.2,938.3 852.0,939.2 852.8,937.5 854.7,936.2 857.9,935.1 858.2,933.3 857.8,931.5 855.9,929.2 857.9,927.8 854.7,924.6 857.8,924.2 858.1,922.3 857.4,921.0 859.8,922.5 861.7,924.0 858.4,926.4 861.0,927.8 859.6,929.8 860.9,931.5 863.0,933.3 860.1,931.5 858.7,929.8 863.4,928.4 859.5,926.5 859.2,924.9 859.4,923.3 860.3,921.7 860.6,920.1 865.4,918.7 864.2,917.0 862.9,915.3 865.9,913.8 859.2,911.8 861.5,910.3 862.4,908.7 859.6,906.9 861.7,905.4 866.1,904.0 861.2,902.1 862.4,900.5 861.2,898.8 864.2,897.3 862.4,895.5 865.9,894.0 862.9,892.2 866.2,890.7 864.1,888.9 861.8,887.0 865.2,885.6 867.7,884.1 861.4,882.0 863.0,880.4 867.4,879.0 865.1,877.2 863.9,873.7 866.8,873.8 866.5,872.2 866.0,870.3 867.0,869.0 870.4,868.6 872.8,867.8 870.7,865.7 874.4,866.4 870.4,869.1 869.6,870.9 873.8,871.6 874.6,873.1 871.0,875.5 873.9,876.5 872.7,876.1 877.3,878.1 877.7,875.5 880.4,874.0 879.3,872.3 876.0,870.4 876.8,868.8 874.3,866.9 876.9,865.4 877.6,863.8 876.5,862.0 874.6,860.2 875.1,858.6 879.5,857.2 881.8,855.7 881.7,854.0 880.0,852.2 879.4,850.5 881.8,848.9 879.6,847.1 877.6,844.3 882.3,846.3 884.6,842.0 878.6,845.6 884.4,845.6 880.3,848.7 882.8,849.7 884.7,851.1 887.2,850.6 888.3,852.1 889.1,853.6 890.1,857.7 885.6,853.7 889.2,853.2 887.7,850.4 892.7,850.5 892.3,850.5 892.7,845.7 895.6,846.5 896.0,848.4 897.1,849.8 895.0,853.1 901.8,850.8 901.2,853.8 901.8,855.9 899.9,858.8 900.7,860.3 902.2,861.5 905.6,862.2 906.7,863.6 904.6,866.0 907.9,866.7 904.0,869.6 904.5,873.4 909.4,870.0 911.8,874.0 912.6,872.0 913.0,869.7 911.2,868.9 913.5,869.9 915.2,871.1 914.9,872.8 916.5,874.1 917.0,875.7 917.9,877.1 917.9,878.8 921.1,881.4 915.0,878.0 918.0,877.2 919.7,876.0 917.6,873.8 922.7,873.4 918.9,870.7 919.5,869.2 924.0,868.5 919.6,866.1 923.2,865.0 921.8,863.2 920.4,861.3 925.2,860.4 920.1,857.9 926.6,857.4 923.0,855.2 920.6,853.1 920.9,851.5 924.9,851.4 927.9,851.5 927.0,848.3 928.1,849.7 931.2,850.1 928.6,853.1 932.6,853.0 932.2,855.5 931.6,853.7 930.0,851.7 931.3,850.2 935.9,849.2 933.7,847.1 932.6,845.3 934.4,843.8 930.3,841.5 934.3,840.4 932.8,838.4 937.3,837.4 933.2,834.5 934.2,832.9 934.1,830.9 937.7,830.1 940.0,830.8 940.9,832.2 940.3,834.3 938.1,837.1 940.3,837.7 943.5,837.3 942.7,834.1 946.0,832.4 944.4,834.4 945.8,835.7 948.0,836.9 946.8,838.9 946.4,840.6 948.5,841.7 948.1,843.5 947.5,845.5 949.1,844.1 944.8,841.6 946.2,840.2 948.8,839.1 946.9,837.1 947.5,835.5 951.4,834.6 951.1,832.9 951.0,831.2 946.9,828.8 952.2,827.5 948.5,829.8 951.6,830.9 948.0,833.2 952.8,834.0 948.6,836.4 949.8,837.9 951.5,839.2 950.1,841.1 956.0,841.7 951.4,844.2 953.0,845.9 956.1,846.3 958.6,847.2 958.9,847.8 958.9,850.8 960.6,852.8 962.3,854.1 960.2,856.5 961.4,857.9 959.4,860.3 964.7,860.6 963.1,862.9 963.7,861.4 966.4,860.2 960.7,857.5 960.8,855.9 962.0,854.5 966.7,853.7 963.7,851.5 966.7,850.4 967.1,848.8 965.3,846.9 965.1,845.5 969.1,846.7 967.4,848.7 967.8,850.3 966.8,852.1 965.2,854.0 968.8,855.3 965.2,857.4 966.1,859.0 966.2,860.7 971.1,861.8 971.6,863.4 970.1,865.3 968.8,867.2 967.8,869.0 971.7,870.8 968.4,868.7 971.8,867.4 969.2,865.4 967.9,863.5 970.2,862.1 969.5,860.3 971.0,858.8 973.8,857.4 972.7,855.6 974.1,854.1 972.1,852.1 970.3,850.2 974.2,849.0 969.3,846.7 975.1,847.2 975.4,844.9 974.9,842.3 975.0,840.3 972.9,838.5 973.1,836.9 977.4,835.7 978.5,834.2 979.5,832.7 973.1,830.3 978.8,829.3 977.3,827.5 974.7,825.6 980.3,824.6 976.8,822.6 976.2,820.9 980.0,819.6 976.9,817.3 978.7,816.2 978.6,814.4 981.2,813.8 981.2,811.9 981.2,810.2 985.2,811.1 980.4,813.7 979.7,815.4 983.7,816.3 980.6,818.5 979.7,820.3 986.6,820.6 980.8,822.4 982.7,821.0 983.8,819.5 987.3,818.3 985.0,816.4 983.4,814.5 983.9,812.9 988.4,811.8 987.6,810.1 982.8,807.9 983.1,806.2 989.4,805.4 989.4,803.7 984.3,801.5 984.9,799.9 986.9,798.5 988.2,797.0 986.4,795.5 986.2,797.3 986.9,798.8 989.1,799.6 992.6,800.0 990.8,803.0 993.3,802.0 993.8,800.3 991.8,797.7 991.2,795.4 996.4,795.6 996.7,790.6 996.1,793.7 998.8,794.4 996.5,797.5 996.6,795.8 995.9,794.0 999.0,792.8 995.5,790.5 1000.6,789.6 1002.2,788.1 998.5,785.9 999.9,784.4 998.1,782.4 1003.3,781.4 1000.8,779.4 1001.2,777.7 1004.1,776.4 999.5,774.0 1004.7,771.5 998.9,775.3 1003.4,775.6 1004.9,777.0 1002.5,779.6 1001.2,781.9 1005.9,783.3 1003.3,779.6 1009.9,781.1 1008.0,777.5 1004.8,779.9 1008.1,780.8 1008.7,782.4 1007.5,784.3 1007.0,786.1 1009.4,787.3 1012.2,788.4 1013.7,789.7 1010.1,792.1 1008.1,794.2 1013.3,794.0 1011.9,797.2 1016.4,796.6 1016.1,800.7 1013.7,798.0 1018.4,797.7 1014.1,794.4 1018.8,794.1 1016.6,791.5 1018.6,790.0 1018.4,792.2 1021.4,793.0 1018.8,796.0 1022.7,796.5 1024.9,799.8 1020.6,797.0 1019.9,795.0 1024.1,794.2 1025.1,792.6 1020.7,789.7 1023.6,788.6 1021.6,786.3 1025.8,785.6 1022.7,782.7 1027.5,782.4 1026.1,780.1 1027.5,778.7 1025.1,776.1 1027.5,775.2 1024.6,777.5 1029.6,778.2 1027.9,780.3 1030.9,781.5 1025.9,784.2 1026.7,785.8 1029.1,787.1 1032.5,788.1 1034.1,791.1 1029.8,788.3 1033.3,787.5 1035.0,786.2 1028.8,783.0 1029.6,781.5 1029.9,779.9 1034.5,779.4 1036.5,778.0 1037.5,776.5 1035.3,774.5 1033.0,772.6 1031.3,770.7 1033.9,769.5 1035.3,768.1 1034.2,766.3 1038.0,765.2 1038.0,763.6 1036.4,761.7 1037.1,759.8 1035.6,763.6 1037.8,764.5 1037.8,764.1 1043.3,764.3 1042.6,762.0 1041.2,759.2 1043.4,758.2 1043.0,755.8 1042.2,753.4 1048.3,754.2 1043.0,749.9 1044.6,748.5 1048.7,750.1 1050.0,749.4 1049.9,743.5 1054.1,748.5 1054.7,745.7 1055.6,747.5 1058.3,744.3 1059.1,749.3 1061.6,748.4 1063.9,747.6 1063.9,748.5 1063.2,750.6 1065.4,751.3 1068.9,751.3 1065.5,755.1 1069.8,754.6 1067.5,758.5 1070.5,758.8 1071.3,760.8 1073.7,761.1 1076.4,760.1 1074.5,757.2 1078.0,756.7 1076.6,754.0 1079.7,750.2 1079.8,752.6 1082.7,752.3 1080.7,757.1 1082.6,755.0 1085.6,758.8 1086.3,754.1 1088.3,754.8 1090.1,752.6 1092.8,755.4 1093.0,751.7 1095.2,753.6 1096.8,751.6 1099.1,752.4 1100.2,752.4 1101.5,753.8 1103.5,754.0 1101.9,758.4 1107.3,755.6 1108.4,757.4 1110.1,758.6 1108.9,761.6 1111.5,762.1 1112.6,763.4 1113.4,765.1 1111.9,767.1 1112.9,765.4 1111.5,762.7 1116.9,763.0 1112.7,759.2 1114.5,760.5 1119.9,759.2 1116.9,763.8 1120.6,763.8 1118.8,761.1 1122.9,761.2 1123.7,759.7 1122.7,757.4 1121.9,754.0 1127.8,756.6 1124.7,751.4 1130.3,751.2 1130.8,752.8 1127.1,755.8 1130.6,756.3 1131.9,757.5 1129.6,760.0 1132.1,760.8 1129.8,763.0 1134.7,763.8 1131.5,766.1 1132.6,767.6 1131.2,769.6 1133.0,771.0 1135.4,772.3 1136.8,773.8 1131.4,776.4 1131.7,776.3 1135.8,776.4 1132.7,773.1 1137.1,773.3 1134.8,770.2 1139.7,769.0 1139.2,771.9 1138.0,775.3 1141.4,774.9 1145.0,774.3 1145.0,772.5 1145.3,770.7 1147.7,769.6 1146.7,767.4 1145.2,765.2 1148.0,766.3 1148.4,767.9 1146.8,769.9 1145.7,771.8 1144.1,773.8 1145.6,775.1 1146.9,776.5 1145.4,778.5 1149.7,779.2 1149.4,781.0 1148.1,782.0 1150.0,781.0 1148.8,778.6 1150.7,777.6 1152.6,776.7 1150.9,773.5 1154.8,774.1 1153.9,771.6 1155.3,770.5 1157.3,770.0 1160.1,765.9 1161.1,768.4 1162.0,770.8 1165.6,775.0 1165.2,771.7 1166.6,770.8 1168.6,770.5 1171.3,765.7 1169.1,769.2 1173.0,768.9 1172.1,771.6 1173.8,772.7 1172.5,774.4 1176.4,775.9 1174.6,771.4 1179.3,773.8 1180.3,769.2 1181.8,770.4 1178.2,774.3 1178.8,776.0 1179.1,778.0 1180.4,779.4 1185.6,781.7 1182.7,777.6 1185.1,777.1 1184.5,774.2 1188.0,774.4 1189.5,770.4 1189.9,773.2 1192.8,772.7 1192.1,776.0 1193.9,777.0 1192.7,779.9 1199.3,777.8 1199.3,779.8 1196.1,781.4 1199.8,781.2 1199.7,779.2 1202.3,778.3 1200.6,775.3 1205.5,775.7 1200.0,773.9 1204.8,773.9 1206.4,775.1 1202.5,778.4 1206.0,778.9 1203.9,781.5 1209.8,781.0 1207.7,783.7 1206.1,784.9 1212.0,784.0 1209.6,782.0 1210.8,780.6 1212.3,779.1 1212.2,777.4 1206.5,775.0 1206.9,773.4 1213.5,772.6 1211.9,770.7 1210.8,768.9 1208.0,766.9 1210.7,765.6 1213.7,764.3 1208.8,762.0 1208.5,760.3 1213.0,759.3 1215.5,758.7 1210.4,754.9 1215.2,754.8 1217.5,753.8 1212.1,749.9 1212.9,748.2 1216.8,748.2 1215.2,743.4 1221.2,747.7 1222.4,742.5 1224.4,743.0 1221.5,748.2 1223.9,748.1 1225.3,749.0 1224.7,751.0 1229.6,751.1 1226.5,754.0 1230.8,754.4 1226.7,757.6 1230.4,758.2 1230.2,760.4 1231.1,758.8 1230.4,756.6 1232.7,755.8 1233.5,754.5 1234.0,752.7 1234.0,750.9 1231.5,748.1 1234.2,747.3 1233.9,747.3 1235.9,748.4 1239.2,748.8 1238.2,751.3 1236.8,753.2 1239.9,754.6 1236.7,756.7 1236.1,758.4 1242.5,759.5 1243.0,761.1 1238.5,763.3 1240.4,764.9 1242.6,766.3 1238.3,768.5 1239.9,770.1 1242.7,771.5 1244.3,773.0 1240.8,775.3 1241.6,776.8 1242.8,778.0 1244.7,778.9 1241.2,782.5 1241.9,780.4 1244.4,779.6 1247.4,779.3 1245.7,778.3 1251.8,778.6 1248.0,781.3 1248.8,782.9 1253.5,783.5 1248.3,786.6 1254.2,786.9 1248.7,790.0 1254.3,790.4 1254.7,794.9 1254.5,792.2 1252.7,788.1 1254.2,790.3 1259.6,789.0 1257.2,793.1 1262.8,792.7 1257.7,796.9 1258.8,798.5 1261.5,799.4 1263.9,800.5 1263.2,802.6 1265.2,801.5 1267.4,800.4 1262.2,797.1 1265.9,796.5 1265.8,794.9 1267.8,793.8 1270.3,792.8 1265.8,792.6 1270.1,790.4 1272.7,793.1 1270.0,790.6 1273.5,789.7 1270.0,787.1 1273.9,786.3 1271.7,783.9 1272.1,782.2 1272.6,780.6 1274.5,779.3 1276.3,778.8 1277.4,776.8 1277.4,774.2 1278.5,772.7 1277.9,774.8 1281.3,775.4 1280.1,777.8 1279.8,779.8 1282.7,780.6 1279.7,780.6 1281.3,779.0 1287.4,781.0 1288.4,776.2 1288.6,778.3 1287.3,781.2 1287.6,783.1 1288.2,785.0 1292.3,786.8 1292.0,782.8 1293.8,782.6 1294.5,784.5 1297.6,783.8 1296.6,787.1 1300.9,785.7 1301.5,787.8 1300.7,785.2 1304.3,785.3 1307.1,784.9 1308.0,783.5 1306.1,780.2 1307.4,778.0 1310.2,777.6 1312.2,776.3 1309.0,774.2 1307.6,772.4 1313.5,771.6 1314.5,770.1 1310.7,767.9 1312.5,766.6 1314.6,765.2 1310.9,763.1 1314.4,762.0 1311.5,760.1 1315.7,761.7 1313.6,763.3 1309.2,765.0 1311.7,766.6 1312.2,768.2 1315.1,769.8 1309.3,771.4 1310.6,773.0 1311.2,774.6 1310.4,776.2 1311.8,777.8 1315.1,779.4 1314.0,781.1 1310.7,782.7 1309.2,784.3 1316.0,785.9 1315.9,787.5 1313.8,789.1 1310.3,790.8 1311.9,792.4 1313.2,794.0 1314.5,795.6 1313.0,797.2 1315.4,798.8 1310.8,800.4 1316.1,802.0 1315.5,803.6 1316.2,805.2 1315.5,806.8 1313.5,808.5 1313.5,810.1 1313.7,811.7 1314.6,813.3 1315.3,814.9 1312.7,816.5 1311.5,818.2 1311.8,819.8 1310.0,821.4 1313.6,823.0 1312.9,824.6 1311.9,826.2 1311.6,827.8 1313.5,829.4 1311.6,831.1 1313.7,832.7 1316.0,834.3 1315.5,835.9 1312.0,837.5 1310.3,839.1 1315.1,840.7 1315.8,842.3 1312.7,844.0 1311.0,845.6 1313.8,847.2 1312.2,848.8 1310.4,850.2 1316.6,848.9 1314.5,847.2 1315.6,845.6 1312.8,843.8 1313.9,842.2 1311.8,840.4 1315.3,839.0 1317.4,837.5 1316.9,835.8 1316.7,834.1 1311.7,832.2 1317.1,830.8 1315.4,829.1 1314.1,827.4 1315.1,825.8 1312.1,824.0 1315.5,822.5 1313.6,820.8 1313.5,819.1 1313.1,817.4 1315.7,815.9 1312.4,814.1 1315.7,812.6 1313.5,810.9 1314.3,809.3 1317.7,807.6 1319.2,809.1 1314.5,811.0 1318.8,812.4 1313.0,814.4 1315.8,815.8 1316.3,817.4 1313.7,819.2 1317.6,820.6 1318.9,822.2 1314.2,824.1 1316.0,825.6 1319.0,827.1 1315.2,828.9 1316.5,830.5 1320.5,831.9 1316.1,833.7 1313.8,835.5 1317.2,836.9 1314.2,838.7 1315.0,840.3 1315.2,841.9 1319.8,843.3 1320.9,844.9 1319.9,846.6 1320.4,848.2 1317.3,850.0 1314.9,851.7 1317.0,853.2 1315.5,854.9 1316.6,856.5 1320.3,857.9 1315.3,859.8 1319.9,861.2 1320.0,863.7 1321.8,862.5 1320.9,859.1 1323.7,858.0 1325.4,856.6 1319.5,854.3 1320.3,852.7 1320.4,851.1 1321.5,849.6 1325.5,848.4 1323.2,846.5 1324.4,845.0 1324.3,843.4 1324.1,841.7 1325.9,840.3 1326.2,838.7 1326.8,837.1 1324.0,834.8 1323.3,832.3 1329.3,833.2 1329.9,829.8 1325.8,832.4 1325.8,834.2 1329.9,835.1 1327.5,837.4 1330.9,838.4 1330.5,840.2 1332.1,841.6 1329.1,844.0 1329.7,845.6 1334.6,846.6 1332.8,848.4 1328.2,850.7 1334.8,851.4 1334.5,853.1 1332.0,855.1 1334.0,856.5 1334.9,858.0 1329.9,860.3 1335.0,861.3 1336.0,862.8 1332.4,864.9 1333.3,866.4 1332.2,868.2 1331.2,870.0 1336.6,871.1 1333.1,873.2 1337.9,874.3 1336.5,876.1 1332.5,878.3 1333.6,879.9 1337.2,881.1 1336.7,882.9 1335.8,884.7 1338.6,886.0 1338.8,887.5 1334.3,890.1 1338.0,891.0 1340.7,892.1 1339.7,893.9 1336.1,896.2 1336.4,897.8 1341.2,898.5 1335.9,900.2 1338.0,898.8 1339.3,897.4 1342.0,896.1 1342.8,894.5 1340.4,892.6 1337.8,890.6 1338.4,889.0 1341.4,887.8 1342.7,886.3 1343.3,884.8 1343.7,883.2 1342.4,881.4 1343.1,879.8 1340.3,878.2 1344.7,879.3 1340.5,881.5 1341.6,883.0 1341.2,884.8 1343.1,886.2 1341.3,888.1 1343.2,889.5 1342.9,891.2 1345.8,892.5 1341.1,894.8 1341.5,896.4 1346.0,897.5 1348.1,898.9 1343.8,901.1 1344.9,902.7 1346.4,904.5 1348.4,903.1 1342.8,900.3 1348.8,899.7 1347.9,897.7 1349.3,896.2 1349.4,894.5 1349.5,892.7 1347.4,890.6 1350.1,889.3 1351.5,887.8 1350.2,885.7 1348.0,883.8 1348.9,882.3 1347.3,880.4 1351.7,879.3 1350.7,877.5 1350.1,875.8 1346.2,873.8 1353.2,872.9 1349.8,870.9 1348.5,869.1 1347.1,867.3 1352.8,866.2 1349.1,864.2 1350.0,862.7 1354.4,861.5 1352.6,859.7 1348.0,856.9 1349.3,855.5 1350.8,854.3 1354.0,853.6 1354.8,852.1 1353.9,850.1 1356.6,849.2 1355.3,847.1 1356.3,845.2 1356.8,846.9 1355.3,848.8 1357.9,850.1 1359.7,851.5 1356.9,853.7 1354.1,855.9 1355.4,857.4 1358.7,858.5 1361.2,861.1 1357.3,858.6 1356.7,856.7 1357.3,855.1 1357.7,853.5 1362.0,852.6 1357.4,850.0 1361.5,849.0 1362.6,847.5 1361.3,845.5 1362.8,844.1 1358.1,841.5 1363.1,839.8 1362.8,841.8 1362.5,843.8 1360.7,846.4 1365.5,846.5 1367.4,847.7 1368.1,851.3 1364.9,848.5 1368.8,848.0 1370.0,846.7 1364.1,843.2 1367.5,842.5 1366.4,840.5 1369.7,839.7 1366.3,837.5 1366.2,835.8 1366.6,834.1 1372.3,833.1 1372.0,831.4 1371.1,829.6 1372.5,828.1 1367.3,825.7 1368.7,824.2 1372.6,823.0 1368.2,820.8 1368.8,819.2 1372.7,818.0 1371.6,816.0 1374.8,814.6 1373.8,812.6 1369.6,810.1 1375.0,809.1 1373.9,807.1 1371.8,805.6 1375.6,806.5 1376.3,808.1 1374.8,810.3 1373.7,812.3 1375.6,813.6 1376.7,815.4 1376.5,813.7 1379.4,812.7 1379.1,811.0 1374.6,808.5 1376.3,807.2 1377.9,805.8 1381.8,805.0 1379.3,802.0 1377.9,806.3 1382.6,805.3 1381.0,803.5 1384.2,802.3 1379.8,800.1 1381.9,798.8 1382.5,797.2 1385.8,796.1 1385.1,794.3 1382.4,792.3 1381.5,790.6 1381.6,789.0 1386.5,786.5 1385.3,788.9 1384.4,791.3 1389.6,790.7 1385.6,794.5 1386.4,794.9 1389.6,793.9 1391.9,792.8 1389.2,790.5 1387.7,788.6 1392.9,788.1 1390.5,785.9 1393.6,784.9 1388.4,783.0 1393.2,783.8 1394.5,785.3 1394.5,787.0 1394.3,788.9 1390.2,791.4 1389.2,793.3 1395.5,793.8 1391.0,796.5 1391.6,798.2 1391.9,799.8 1397.5,800.1 1393.2,802.8 1393.2,804.4 1397.0,805.1 1393.4,807.7 1398.7,808.1 1399.8,809.3 1398.8,811.4 1396.1,814.0 1400.1,814.6 1397.7,817.2 1402.6,817.6 1396.8,820.9 1399.9,822.0 1397.4,824.3 1400.6,825.3 1401.1,827.0 1401.1,828.7 1402.9,830.0 1404.1,831.5 1400.9,834.0 1403.3,835.2 1406.0,836.0 1402.3,838.9 1405.1,839.6 1401.8,842.4 1406.5,843.1 1402.9,840.8 1405.3,839.4 1407.4,838.1 1407.0,836.3 1404.3,834.1 1407.7,832.9 1405.1,830.8 1409.1,829.7 1406.7,828.1 1408.4,829.5 1407.7,831.4 1411.9,832.2 1412.8,833.8 1409.4,836.2 1410.7,837.7 1407.8,840.1 1410.8,841.2 1408.6,842.4 1414.6,841.8 1409.8,839.1 1410.2,837.5 1414.1,836.5 1413.4,834.6 1412.7,832.7 1410.0,830.5 1410.4,828.8 1412.0,828.4 1416.1,829.1 1414.9,831.2 1418.4,832.0 1416.8,834.3 1416.8,836.1 1420.6,838.7 1415.3,835.6 1418.5,834.8 1420.3,833.6 1419.1,831.6 1422.6,830.9 1420.4,828.6 1419.7,826.7 1421.3,824.9 1423.9,825.4 1419.3,830.2 1423.3,830.0 1426.3,832.6 1424.3,829.6 1423.9,827.5 1423.3,825.3 1429.4,824.4 1426.2,827.5 1426.0,829.4 1426.4,831.1 1429.2,831.6 1433.0,834.7 1433.6,832.7 1434.7,830.7 1432.3,828.4 1437.7,828.5 1434.7,831.3 1438.1,831.9 1433.1,835.3 1434.9,836.6 1436.3,837.9 1438.4,838.7 1440.9,838.6 1440.5,840.2 1441,842" fill="none" stroke="#dc18c4" stroke-width="2.1" stroke-linejoin="round"/>
<path d="M6.7 946.2v13.8M7.9 947.6v14.0M9.9 954.8v7.4M11.5 958.2v13.3M12.6 958.2v8.4M16.1 956.5v14.8M18.5 963.8v14.6M20.1 960.5v10.6M20.7 957.5v9.9M23.0 950.4v11.2M24.4 948.1v6.3M25.6 950.2v6.8M27.3 954.9v6.4M28.1 955.2v11.1M29.4 949.2v11.4M32.5 939.6v12.2M33.9 936.7v9.2M34.8 939.1v10.2M37.1 939.9v8.4M40.6 940.3v12.9M41.9 943.2v13.4M42.8 949.8v5.1M44.3 958.4v14.6M45.5 968.8v10.0M46.0 969.5v10.2M49.1 972.8v5.4M50.8 970.3v15.0M52.6 967.3v12.9M56.2 960.1v5.2M58.1 961.5v13.5M59.9 958.3v13.9M63.9 954.6v5.5M64.8 954.0v6.2M66.3 947.1v10.8M69.3 945.9v5.7M72.9 944.3v9.7M74.2 949.0v7.1M75.2 953.7v11.3M78.5 951.9v12.7M79.9 956.5v11.7M82.1 962.3v9.9M82.6 960.0v9.3M86.2 959.8v14.6M88.5 962.0v14.7M91.7 970.5v6.0M95.1 972.8v14.2M98.3 973.2v14.5M100.9 975.3v11.0M103.2 980.2v12.4M105.4 982.3v10.6M107.0 983.6v13.8M109.4 986.0v13.2M111.1 990.2v9.3M112.8 990.9v13.8M114.6 992.0v7.2M116.1 988.7v12.8M118.3 980.8v12.2M119.8 974.6v13.4M121.4 968.7v9.3M124.7 973.3v10.3M127.2 970.7v5.6M128.6 973.3v12.0M129.5 977.6v5.2M130.2 988.7v10.5M131.9 995.5v10.3M133.3 996.4v14.6M136.8 992.2v11.6M138.2 986.0v13.4M139.7 976.7v11.8M140.7 971.7v13.2M141.2 963.7v12.9M142.8 952.6v8.9M143.6 947.2v5.6M145.0 941.7v12.2M146.4 937.8v12.4M148.1 936.0v14.0M149.5 942.3v9.8M152.6 943.4v7.9M154.2 936.7v6.5M156.3 926.0v12.3M156.7 924.6v8.9M157.6 916.6v14.8M159.3 909.8v5.3M161.1 910.0v11.5M163.2 912.3v7.7M164.3 901.4v10.2M165.3 893.1v5.8M166.9 888.2v12.6M170.0 889.2v13.5M171.1 887.5v5.1M174.0 887.5v9.5M174.9 892.5v7.3M177.1 899.2v5.5M178.3 898.9v7.8M178.8 890.4v8.7M179.6 873.1v6.3M179.8 873.0v9.4M180.6 860.5v13.9M182.0 858.4v6.1M183.5 868.3v9.3M185.2 872.7v14.7M188.0 869.2v11.4M188.4 865.4v13.8M191.3 862.5v6.7M192.9 864.0v12.6M193.3 865.8v5.2M196.0 872.8v8.2M197.0 875.7v15.0M201.1 885.7v8.3M203.6 881.3v8.7M204.3 878.5v9.3M205.5 880.7v12.2M206.3 891.2v13.6M206.6 895.7v13.0M208.0 893.6v12.0M209.1 886.1v14.5M210.0 882.5v5.1M211.3 873.9v5.0M214.1 867.1v14.3M214.6 866.4v12.8M217.6 864.3v9.9M218.0 858.2v12.6M219.2 846.4v13.0M220.2 836.7v9.8M221.5 833.0v8.3M222.8 841.3v11.7M224.1 843.3v14.4M227.4 846.4v8.5M228.8 844.6v5.3M230.2 849.8v5.6M232.7 851.6v15.0M234.8 850.9v12.5M236.3 857.9v13.5M238.0 866.9v7.2M239.4 873.0v8.6M241.9 879.5v14.8M244.4 882.6v14.1M245.6 886.1v8.8M248.1 889.2v12.4M249.5 886.7v8.7M252.5 888.9v11.4M254.5 898.8v5.0M255.6 905.6v11.5M256.6 910.7v8.9M257.5 920.7v12.3M258.2 926.7v9.2M259.0 930.4v9.1M261.6 937.9v14.9M263.4 935.2v11.4M264.6 932.7v13.7M266.4 929.6v7.2M267.5 920.6v11.4M269.2 914.0v6.9M270.4 913.4v10.8M272.8 908.9v8.3M276.8 906.1v8.6M282.1 908.5v8.8M283.6 909.2v10.5M285.4 919.0v10.5M287.4 929.4v14.7M288.9 931.2v14.1M291.2 934.6v5.1M292.6 937.6v10.7M294.9 936.9v13.4M296.0 933.3v5.4M297.6 929.2v10.3M300.6 925.6v7.9M301.5 921.1v8.5M303.0 917.4v5.4M305.4 911.0v6.3M307.5 909.9v5.7M313.9 908.8v6.6M315.7 913.4v5.9M317.9 913.1v14.1M320.4 916.9v10.8M322.0 918.3v10.0M323.7 919.1v8.0M326.2 921.5v14.6M329.2 922.9v9.0M330.9 921.1v12.9M332.8 918.1v7.8M335.3 914.2v6.2M337.3 915.6v11.5M340.2 914.0v7.3M341.9 912.7v13.9M345.5 909.5v8.9M347.2 912.2v9.6M350.7 912.4v8.9M351.7 908.5v8.0M354.8 912.0v11.9M357.3 908.5v12.2M360.4 912.7v7.5M362.3 915.2v14.4M364.3 915.0v8.6M365.3 915.2v12.7M367.7 912.3v11.9M369.3 902.4v9.1M371.6 897.4v8.2M372.8 897.6v9.5M375.1 893.5v13.2M376.2 892.4v10.4M378.6 891.0v13.1M380.2 888.6v13.5M383.1 885.0v12.4M386.1 886.1v5.6M387.6 891.7v11.4M389.2 895.7v6.4M390.4 901.0v9.6M392.0 908.3v10.3M393.0 902.7v5.6M394.3 895.3v6.7M397.2 890.6v12.4M399.7 892.2v5.7M401.7 895.4v11.5M403.3 895.0v13.9M404.2 894.9v14.1M407.3 898.2v9.4M408.6 900.5v8.8M410.0 907.6v7.0M411.8 906.8v8.1M414.5 910.9v11.9M415.8 910.5v8.7M416.8 901.1v9.2M418.4 889.1v5.5M419.7 884.2v12.9M420.8 879.3v13.3M422.2 872.5v10.6M424.8 870.2v8.8M427.4 869.3v11.6M429.1 868.4v12.6M431.9 873.4v5.7M434.3 879.7v13.5M436.0 879.0v12.3M437.9 885.6v9.3M440.0 882.7v13.9M441.5 884.9v11.6M443.9 878.8v13.0M446.0 876.9v13.2M446.9 875.1v11.7M448.7 883.3v11.4M451.0 882.9v7.8M453.6 882.1v14.4M455.3 878.0v12.2M457.6 874.2v13.8M459.7 871.9v5.4M460.8 869.2v6.2M463.3 865.7v8.9M465.5 858.9v12.5M466.8 857.8v14.9M469.4 853.1v5.8M471.3 853.5v6.2M472.8 850.0v12.5M474.7 846.4v14.1M477.3 841.2v14.8M479.3 841.1v13.2M480.8 843.9v5.8M481.4 847.0v8.7M482.2 853.1v6.4M483.6 858.0v12.3M484.9 849.9v6.1M486.8 843.8v7.0M487.9 837.6v11.2M488.6 833.6v13.4M490.2 827.2v8.3M492.1 823.6v9.8M493.6 823.7v5.0M495.2 826.7v9.6M496.1 837.3v5.5M496.8 841.7v12.6M497.9 851.9v5.8M499.9 855.0v12.5M502.1 854.6v15.0M504.1 854.7v6.3M505.5 856.0v14.0M505.9 859.8v15.0M506.8 866.2v11.0M507.4 872.6v8.7M508.8 872.9v11.9M509.5 871.0v14.2M510.8 865.7v11.2M513.6 861.0v11.9M514.6 856.4v13.4M515.9 853.4v8.2M518.7 847.8v9.2M519.7 846.3v12.0M522.1 841.9v14.5M523.4 838.5v13.1M525.0 832.4v8.1M526.9 827.2v14.7M528.3 830.1v8.7M529.2 835.6v13.1M531.5 837.6v7.2M534.7 841.2v6.7M536.0 844.8v10.7M538.7 848.4v13.0M541.0 846.8v5.9M542.6 844.9v6.6M546.2 838.0v11.0M548.4 834.1v13.7M553.5 830.9v14.7M555.4 829.2v12.6M556.9 829.1v10.2M559.1 831.6v13.9M560.2 834.5v9.1M561.8 839.1v12.2M565.4 838.9v13.8M568.1 841.3v14.4M571.9 834.7v9.0M573.8 836.8v9.3M576.1 831.4v5.1M577.2 821.7v12.5M578.9 817.3v9.2M582.7 816.0v8.6M584.5 820.0v9.3M585.9 825.2v5.6M586.6 828.5v7.3M588.3 833.7v8.6M591.0 834.4v5.7M596.9 837.9v10.5M598.7 834.6v11.3M601.1 827.9v5.6M602.0 823.0v11.0M604.7 821.8v8.2M607.2 817.2v14.1M608.7 815.4v11.9M611.3 806.8v12.9M611.9 804.7v8.3M614.7 810.2v6.9M615.7 810.6v12.1M616.9 822.3v5.7M617.7 829.2v12.2M618.3 833.2v5.3M619.0 837.0v9.6M620.3 846.9v10.3M621.7 855.8v9.0M622.6 858.0v13.7M623.8 856.6v7.7M626.3 852.6v7.9M627.3 857.2v11.3M628.3 861.9v6.1M629.6 872.0v8.6M631.6 872.0v6.0M633.3 872.6v7.6M634.5 869.4v13.9M637.9 864.0v5.7M639.6 863.1v9.3M640.7 870.0v5.4M642.1 876.8v6.1M643.1 881.2v7.6M644.7 892.0v10.5M646.5 897.9v14.2M649.5 895.3v8.3M650.9 894.4v13.7M653.0 890.1v6.8M656.5 893.8v14.1M658.1 892.0v10.7M660.1 894.0v14.3M662.4 884.1v10.7M663.1 879.2v13.3M664.0 867.8v8.0M664.9 869.0v8.2M666.0 877.5v11.8M666.5 885.6v8.8M666.9 894.4v11.7M667.1 901.7v5.5M667.7 912.4v10.9M667.9 918.5v5.2M668.8 925.3v11.1M670.6 918.7v14.0M672.4 920.0v5.1M674.1 927.7v9.4M674.5 932.1v5.0M676.3 934.2v8.2M676.8 926.8v7.2M677.8 918.4v14.8M678.3 916.1v6.0M679.3 906.8v5.3M680.5 894.7v12.4M682.0 887.5v5.2M683.5 885.1v11.3M685.1 889.5v13.2M686.3 897.0v10.0M687.6 903.6v11.7M689.8 906.1v5.1M690.8 904.7v6.3M692.4 898.4v10.3M694.3 897.4v12.0M697.3 892.8v10.2M700.0 898.0v14.7M701.9 896.1v6.8M703.8 900.4v12.0M705.7 899.7v14.5M707.2 897.4v12.2M708.6 894.2v8.3M711.6 905.9v6.2M713.0 905.7v9.4M714.3 901.6v12.4M717.3 901.1v5.5M719.6 899.0v12.2M722.0 892.9v13.2M724.7 892.1v10.1M726.5 894.7v12.0M729.7 888.6v10.1M731.8 885.5v8.8M733.7 884.4v12.6M737.8 881.3v9.4M738.8 882.7v9.9M741.6 878.1v7.5M744.3 876.4v7.8M747.2 876.4v12.2M748.9 877.0v9.7M750.8 879.9v14.4M753.7 889.1v5.3M754.8 887.7v10.5M757.5 892.0v11.8M758.3 897.1v5.7M760.3 900.3v8.2M761.7 904.0v14.0M763.5 905.4v9.3M764.0 897.5v9.2M764.9 889.5v8.0M765.6 882.3v8.1M766.9 880.6v8.3M768.9 883.7v13.3M770.6 881.2v10.7M772.8 878.0v6.5M774.2 877.1v5.1M776.7 879.4v9.8M778.4 884.8v6.3M780.3 888.8v13.7M781.9 886.5v13.6M783.6 891.3v9.3M787.2 892.8v12.2M790.2 888.8v10.1M791.6 887.1v10.8M793.0 882.7v14.9M795.2 882.5v6.0M797.3 879.1v7.4M800.2 881.0v12.1M802.1 878.3v12.8M805.0 875.2v10.2M807.2 881.5v10.5M809.8 886.1v5.7M811.0 885.3v9.0M813.7 885.8v8.7M815.3 887.1v11.1M817.2 884.3v11.7M818.2 879.2v10.5M820.9 876.6v7.1M822.4 878.0v8.8M824.2 880.3v11.8M825.4 880.1v14.1M827.9 876.7v14.9M829.8 880.1v7.4M831.6 887.3v7.4M833.7 895.0v11.1M835.1 895.7v7.6M837.0 903.5v5.2M839.5 907.6v8.0M841.5 913.5v10.4M842.2 915.5v13.8M844.9 922.4v14.1M845.7 928.9v6.3M848.6 933.1v8.7M852.0 936.4v11.1M853.9 934.0v12.8M855.1 925.1v12.6M857.4 919.2v7.1M859.5 915.4v8.7M860.9 925.4v7.7M861.5 925.8v9.3M862.0 917.2v6.5M862.5 912.1v10.6M863.2 901.0v14.2M863.7 889.2v9.2M864.2 886.3v7.6M865.0 874.1v14.0M867.4 866.7v6.4M869.0 865.1v8.1M870.3 865.9v10.3M872.2 864.7v7.6M873.8 871.6v12.9M876.2 871.7v6.3M877.3 866.9v6.1M878.0 854.5v7.7M878.5 847.3v14.2M879.7 839.3v7.2M882.1 839.4v8.1M883.7 845.1v5.4M884.8 848.7v6.5M888.6 849.3v11.3M891.0 843.6v12.7M891.9 840.9v14.3M896.2 841.5v10.5M897.9 847.5v9.8M900.2 847.9v13.9M901.7 849.2v8.7M902.8 853.4v10.4M905.9 864.4v5.3M908.8 868.5v13.5M911.2 868.7v10.2M913.4 865.3v14.6M914.2 865.0v10.9M917.0 872.1v14.2M918.2 876.8v10.4M920.0 868.0v9.0M921.9 859.9v11.9M922.7 855.5v14.1M923.4 851.1v6.9M926.3 843.0v8.7M928.1 842.8v8.4M930.6 847.5v5.0M931.7 848.6v13.7M932.8 844.6v9.3M934.4 833.5v14.6M934.9 827.9v5.6M938.0 824.7v12.2M940.1 832.5v14.6M941.8 832.1v12.7M943.7 829.9v8.9M945.2 831.3v14.2M946.3 836.5v6.7M947.5 837.2v7.6M949.1 828.8v10.7M949.7 829.7v6.2M951.2 824.4v14.6M951.8 827.8v9.4M953.0 834.2v13.2M955.4 844.2v6.1M957.3 846.9v6.9M960.8 851.1v7.2M962.6 857.1v5.0M963.0 857.6v5.3M964.6 851.8v9.7M965.7 843.1v7.2M967.0 843.7v13.1M968.2 852.6v8.7M968.9 861.2v12.9M969.6 865.7v9.5M970.9 851.0v8.4M971.5 849.3v13.8M972.7 839.9v11.0M976.2 831.2v11.1M977.1 819.8v10.6M977.5 817.5v12.3M979.0 809.9v8.8M980.6 807.6v7.3M981.4 805.4v6.7M982.8 813.9v8.7M984.1 813.1v10.3M985.0 808.4v10.5M986.0 799.4v10.1M986.5 796.7v7.1M987.2 791.5v5.4M989.1 794.8v6.1M991.2 794.9v11.2M992.7 789.5v11.8M994.1 787.7v7.6M996.9 792.3v7.2M997.6 790.1v6.2M998.7 783.0v5.5M999.8 778.4v11.8M1001.0 767.6v8.2M1001.5 769.4v5.0M1003.4 773.1v13.9M1004.9 778.4v13.9M1008.3 775.9v5.7M1009.0 780.1v11.2M1010.2 784.6v13.2M1011.4 791.3v9.1M1013.9 792.7v11.8M1015.3 794.3v11.3M1017.1 786.2v10.3M1019.0 786.4v9.8M1020.5 790.5v11.0M1022.8 789.5v9.9M1024.3 780.1v10.5M1025.1 780.6v9.2M1026.8 773.8v7.6M1028.4 772.6v6.0M1030.1 780.6v7.0M1031.1 786.3v9.7M1033.3 775.9v10.9M1034.6 770.6v5.5M1035.8 758.2v12.1M1037.2 757.2v6.3M1039.4 757.6v8.9M1040.4 760.9v12.1M1043.4 753.5v13.9M1044.7 752.4v7.0M1047.3 743.2v5.9M1048.3 743.4v9.8M1050.0 740.1v10.3M1052.7 743.7v10.7M1056.0 739.1v13.6M1058.1 739.6v5.6M1059.3 740.4v9.2M1061.4 743.5v13.7M1064.4 743.2v9.7M1066.6 746.3v11.3M1067.4 744.0v13.0M1070.0 751.2v10.1M1070.9 752.7v14.5M1073.8 753.3v14.1M1074.9 753.8v14.1M1076.7 748.3v13.0M1078.5 748.7v11.9M1080.8 751.3v6.9M1083.2 749.9v15.0M1087.1 750.9v12.5M1089.4 750.6v10.2M1090.8 751.2v8.4M1093.7 748.2v7.4M1096.0 746.5v12.8M1099.9 745.8v7.0M1101.2 746.1v13.1M1102.7 749.5v10.9M1104.3 752.3v12.4M1107.2 754.4v10.7M1108.8 756.9v5.9M1110.8 757.7v9.3M1112.5 760.0v11.9M1114.3 757.4v5.4M1116.3 755.1v12.8M1117.9 757.3v10.9M1118.8 755.3v8.4M1121.2 758.8v13.1M1123.5 754.1v12.4M1124.7 749.5v11.0M1127.4 747.3v14.9M1129.2 750.1v10.9M1130.9 755.8v8.1M1132.7 760.8v14.7M1133.8 769.2v8.9M1135.5 769.7v14.4M1137.4 767.2v7.8M1138.3 763.8v9.3M1140.6 770.6v10.0M1143.3 767.6v12.4M1145.0 761.3v11.0M1146.0 760.4v10.8M1147.9 770.4v8.5M1149.2 775.4v8.4M1150.5 777.4v6.9M1152.7 771.4v13.0M1153.6 769.7v7.4M1157.3 764.4v8.9M1159.0 765.8v7.1M1162.2 767.7v6.0M1164.1 767.1v14.9M1166.6 764.8v14.7M1169.3 764.2v9.0M1170.3 767.3v9.7M1172.5 770.9v9.8M1173.6 769.2v8.4M1177.1 764.9v9.0M1178.8 768.2v7.1M1180.8 768.6v6.4M1182.9 772.3v8.7M1184.0 773.2v8.3M1185.5 770.8v9.8M1187.3 768.9v6.2M1189.3 769.1v6.7M1191.9 768.4v10.3M1194.1 770.2v9.2M1196.4 776.0v5.1M1197.5 775.3v8.8M1198.9 777.3v7.4M1201.1 770.3v7.8M1202.5 769.6v6.3M1204.4 769.9v14.9M1206.3 772.8v7.6M1206.9 774.8v6.1M1208.9 778.0v12.1M1209.4 775.0v13.7M1210.7 763.7v14.7M1211.8 756.5v12.1M1212.8 751.1v8.1M1214.4 747.6v7.7M1216.4 740.3v8.8M1219.6 738.2v11.8M1221.3 736.8v14.3M1225.2 743.8v13.3M1227.0 749.0v8.8M1229.0 752.4v14.5M1231.0 751.0v14.8M1232.2 748.2v5.0M1235.1 745.6v10.0M1236.9 745.2v11.4M1239.0 752.7v7.5M1239.9 759.0v5.2M1240.4 761.9v7.8M1241.5 771.2v13.9M1244.1 776.9v11.7M1244.8 779.7v8.7M1247.7 775.6v5.4M1249.4 777.6v5.5M1249.9 780.1v7.9M1251.6 784.2v7.9M1253.1 787.8v10.8M1254.4 785.0v5.0M1257.5 787.2v10.5M1258.3 787.1v7.6M1260.8 789.8v13.4M1263.2 797.0v10.5M1264.1 797.0v10.1M1267.0 788.8v12.5M1268.4 785.4v7.7M1271.9 784.8v8.1M1272.9 783.3v6.0M1274.6 776.1v9.0M1275.9 773.6v14.3M1277.1 767.4v9.3M1279.6 769.4v5.9M1281.4 773.4v12.9M1283.6 775.2v6.3M1285.0 774.2v5.4M1287.2 776.1v10.6M1288.2 777.4v14.5M1290.4 777.8v11.1M1292.4 777.8v5.6M1294.5 779.9v11.0M1297.1 776.3v7.3M1299.3 778.6v12.2M1301.9 782.5v12.3M1303.2 778.8v7.3M1305.7 778.1v14.1M1308.9 775.8v6.6M1311.0 764.6v7.9M1312.2 757.8v7.5M1312.6 761.0v6.4M1312.7 770.9v7.4M1312.8 777.7v8.7M1312.8 787.1v14.5M1312.9 797.2v9.8M1313.1 810.7v5.1M1313.1 822.3v7.1M1313.2 826.4v14.9M1313.3 843.8v14.0M1313.6 842.8v14.0M1313.9 832.6v6.3M1314.7 822.1v10.2M1314.9 818.6v12.6M1315.5 805.0v10.3M1316.2 811.2v12.4M1316.5 814.4v8.4M1317.0 822.9v7.6M1317.4 831.3v11.5M1318.0 845.5v12.6M1318.5 853.1v8.9M1319.0 855.9v13.0M1322.2 852.6v6.6M1322.9 847.9v5.0M1323.7 845.1v6.7M1324.5 835.6v5.7M1326.8 827.2v6.7M1327.7 825.6v8.5M1329.1 834.3v8.6M1330.2 839.5v10.0M1331.6 845.0v6.3M1332.4 853.8v6.4M1332.9 855.4v6.8M1334.1 866.4v14.0M1334.8 869.6v13.1M1335.9 878.3v8.3M1337.2 886.2v5.8M1338.4 894.6v9.8M1339.0 894.6v11.6M1340.5 884.5v5.5M1341.3 875.7v10.5M1342.3 874.9v11.4M1343.4 882.3v12.4M1344.1 892.2v7.6M1344.8 896.1v13.6M1345.9 896.3v6.7M1346.9 891.7v9.9M1347.6 885.9v11.5M1348.9 876.4v5.6M1349.8 867.6v14.1M1350.4 862.6v13.9M1351.2 855.0v5.4M1351.5 851.7v13.5M1353.9 846.2v9.4M1356.0 844.2v6.3M1356.7 850.6v12.5M1358.0 852.1v9.1M1359.2 848.1v6.4M1361.1 839.8v9.2M1362.1 839.2v7.2M1364.9 842.6v9.2M1366.6 839.0v13.6M1368.2 835.1v10.1M1369.5 828.5v14.7M1370.0 823.2v12.6M1371.0 815.4v7.9M1371.8 810.4v14.7M1372.8 803.5v11.6M1374.5 804.9v11.6M1375.7 806.9v12.0M1376.9 805.4v10.5M1377.5 802.9v14.8M1380.9 801.9v8.0M1381.8 796.8v6.8M1383.6 787.6v8.4M1385.6 787.5v10.8M1386.4 786.0v5.7M1388.6 788.0v14.6M1389.6 781.4v5.3M1391.7 782.6v14.1M1393.0 791.8v12.4M1394.1 796.1v13.9M1395.9 803.0v5.7M1397.4 810.0v7.4M1398.2 812.1v12.5M1399.8 813.9v7.8M1401.4 822.3v11.4M1402.3 829.5v13.3M1404.7 835.8v6.9M1405.5 838.6v14.7M1407.0 829.5v10.3M1407.9 821.5v12.8M1409.3 831.4v14.0M1410.8 834.8v7.1M1412.3 831.4v5.3M1413.9 823.4v6.8M1415.3 825.9v11.4M1415.7 829.3v12.9M1417.2 834.3v5.7M1419.6 825.4v12.8M1421.2 820.0v14.1M1423.8 827.4v8.6M1425.2 825.4v14.4M1426.2 822.0v7.6M1428.2 823.6v9.2M1429.8 824.6v6.4M1430.8 828.9v12.7M1433.4 822.9v13.1M1434.6 823.9v5.0M1436.7 829.5v7.6M1439.3 837.1v9.4M1440.6 838.2v11.6" stroke="#d416c0" stroke-width="1.0" fill="none"/>
<path d="M6.0 944.9v7.2M8.0 947.5v13.5M11.4 955.4v14.6M14.6 955.2v11.8M16.0 957.0v6.9M19.1 963.1v9.2M23.5 948.7v9.0M26.9 950.1v8.1M28.3 953.2v6.7M29.4 948.7v6.1M30.7 940.1v15.5M35.4 941.1v6.3M38.1 943.9v9.8M40.3 941.5v9.6M41.6 942.5v13.8M43.6 954.9v8.5M44.3 958.9v11.4M45.2 966.3v7.3M46.8 969.5v7.5M50.3 969.1v12.3M53.2 962.4v14.6M58.9 960.1v11.3M60.8 957.0v12.8M63.4 957.3v15.8M64.6 954.5v7.9M66.3 949.7v16.7M70.3 941.1v11.0M73.0 946.9v15.8M75.6 951.6v14.2M79.9 951.9v11.3M81.9 957.3v10.7M84.6 962.6v9.4M87.8 958.3v9.8M91.3 969.3v7.3M94.7 968.5v13.8M97.5 973.8v11.5M101.6 974.7v12.5M104.8 980.8v6.6M109.2 988.6v8.8M111.6 988.8v13.7M116.8 984.9v9.0M118.2 985.1v9.6M119.6 973.9v12.3M122.3 973.4v16.0M124.7 970.6v8.3M127.2 971.0v11.9M129.4 977.4v13.9M130.3 988.2v11.7M132.4 993.6v10.1M135.8 994.7v14.0M138.4 983.8v13.0M139.8 979.1v16.1M141.1 966.2v8.9M142.2 954.3v10.5M143.9 948.1v12.6M145.0 942.7v9.3M148.1 935.4v10.5M150.1 945.8v15.4M151.6 941.9v10.3M154.0 935.5v13.0M156.3 924.6v13.8M157.8 911.1v16.7M158.8 910.4v15.7M162.3 908.7v10.8M163.5 906.4v8.2M164.5 901.6v9.3M166.4 888.9v11.1M168.2 885.9v11.6M170.7 888.5v16.0M173.8 883.2v15.5M174.9 893.8v6.7M176.9 896.5v9.6M178.3 900.0v11.9M178.9 890.7v12.1M179.4 876.6v15.9M179.7 869.9v9.5M180.8 860.7v14.9M182.3 860.2v11.2M183.3 867.3v6.6M185.2 873.4v6.0M187.1 871.7v12.0M189.2 859.0v16.5M190.9 860.0v6.6M192.3 860.5v13.3M195.1 873.2v13.0M198.9 882.1v17.0M200.9 885.6v8.0M204.2 878.1v8.2M205.5 880.4v8.3M206.3 890.7v8.6M207.7 897.4v8.9M208.7 891.8v6.6M209.6 887.0v13.4M210.8 875.9v15.8M213.3 867.2v10.4M215.5 867.5v6.6M217.2 870.6v8.3M218.2 859.3v12.8M219.0 848.1v13.6M220.2 834.4v14.6M221.7 835.8v6.5M224.7 847.1v9.2M226.0 851.0v15.8M229.3 845.1v15.3M231.4 855.3v15.8M233.9 849.7v16.3M236.4 855.9v16.5M238.0 864.8v13.8M238.8 873.5v6.2M242.7 880.5v15.7M246.3 889.6v16.7M248.0 890.6v9.0M253.0 886.5v9.9M254.0 891.5v14.8M255.6 905.7v8.6M256.5 909.2v12.7M258.1 926.2v11.6M261.2 933.6v14.7M264.7 933.4v13.6M266.7 927.2v11.7M268.1 915.8v16.9M269.6 912.2v12.1M274.8 908.5v11.1M276.8 904.8v13.8M279.8 909.6v7.6M284.8 914.4v9.8M286.2 922.4v12.8M288.6 930.5v9.8M290.5 931.8v10.2M294.7 934.5v8.5M295.9 930.5v15.5M300.1 925.8v8.9M301.3 923.5v10.3M305.8 908.8v12.5M307.8 910.7v7.6M312.0 909.0v11.5M315.2 910.7v15.9M319.3 915.1v9.5M322.1 917.0v6.2M326.9 919.4v13.0M328.8 924.9v14.6M333.1 917.4v13.2M339.0 913.6v13.5M345.0 910.5v10.4M349.0 907.7v13.6M355.0 907.4v16.5M357.3 908.3v8.3M361.7 912.5v16.4M365.7 914.9v16.2M369.6 900.7v9.9M372.6 899.9v6.1M374.1 896.8v8.7M380.2 886.4v15.4M382.9 886.1v9.7M385.3 886.6v16.5M390.0 895.1v7.1M390.7 900.3v7.7M391.6 908.4v6.9M395.5 889.3v16.9M396.7 886.5v14.7M400.8 894.0v16.8M406.4 900.5v8.1M409.7 905.7v10.8M411.8 910.5v11.3M415.2 908.0v6.0M416.9 904.5v12.1M417.7 894.6v16.7M420.2 878.8v12.7M422.2 873.2v16.7M425.6 869.1v9.8M429.5 867.9v15.4M431.9 872.2v11.5M433.8 875.6v16.9M435.5 880.4v8.2M439.6 883.8v16.4M444.3 878.1v13.7M449.2 879.6v9.7M450.8 882.3v12.7M455.6 880.8v14.7M457.1 878.7v7.3M461.6 868.1v13.2M467.1 857.0v12.4M469.2 853.8v8.9M471.8 851.1v14.0M478.4 839.6v10.9M480.6 844.3v8.7M482.7 854.9v10.4M484.4 852.9v9.2M486.8 844.2v15.9M489.0 831.1v11.0M490.0 823.2v7.5M493.5 825.1v11.1M495.6 833.9v7.7M496.8 843.0v9.3M497.8 850.9v9.8M501.6 856.0v8.4M505.5 852.4v6.2M506.5 861.8v15.8M507.7 871.3v13.3M508.5 873.3v14.3M511.9 859.5v6.5M516.6 852.5v12.0M520.0 848.3v11.5M521.4 847.1v16.5M525.1 833.5v7.3M528.3 831.0v15.4M529.0 834.5v8.7M532.0 837.3v12.3M535.5 841.7v16.5M537.2 846.6v13.3M541.7 842.9v8.7M543.5 838.9v12.3M545.7 835.2v15.7M549.8 834.7v15.8M551.8 832.0v7.7M556.6 829.3v16.9M559.6 831.9v16.6M561.1 836.0v13.1M564.2 839.9v7.3M570.8 838.6v13.0M573.3 836.3v16.3M576.1 828.0v8.9M577.1 824.6v6.4M578.8 816.3v10.3M582.8 816.3v8.3M584.8 818.1v9.5M586.0 827.3v10.0M588.3 831.6v8.6M591.4 833.8v8.3M594.3 830.8v16.1M598.4 835.6v11.1M600.1 827.7v15.7M603.9 822.3v15.2M607.7 817.5v13.4M608.9 810.5v14.8M612.9 804.8v9.2M615.6 810.0v6.8M617.2 821.3v12.3M618.3 833.3v12.1M619.8 841.5v7.9M621.6 852.7v10.1M623.9 856.7v12.0M626.3 852.2v11.8M628.9 867.4v9.8M629.4 869.8v9.8M632.9 874.0v12.8M636.6 862.8v13.0M639.4 865.2v11.8M641.7 874.9v8.5M643.0 880.6v10.4M644.7 892.0v12.9M646.8 899.5v14.3M650.7 890.7v16.4M654.0 890.7v8.9M657.8 893.6v9.6M659.6 893.8v13.8M662.4 886.3v8.3M663.2 878.6v15.7M664.2 865.0v8.9M664.8 865.7v9.8M665.8 875.3v16.0M666.4 884.4v12.0M666.9 894.7v13.6M667.1 902.2v12.1M667.5 905.9v8.4M668.1 923.3v8.1M669.1 923.6v16.9M671.0 919.7v9.4M672.1 915.6v11.8M673.5 922.9v10.9M675.3 932.8v8.8M676.5 931.8v8.6M677.0 922.9v11.9M678.8 906.6v7.0M679.7 903.2v13.7M680.5 893.5v15.8M683.1 886.7v9.1M684.7 888.0v12.0M686.3 897.2v11.8M687.2 901.4v13.4M690.5 906.5v7.5M692.9 898.3v16.2M696.1 890.5v9.1M699.1 896.7v16.7M702.9 900.7v7.5M704.9 900.3v16.3M709.6 899.0v14.9M710.3 899.6v10.3M712.3 902.2v13.2M719.9 895.1v12.8M721.4 894.7v15.9M728.1 889.4v11.1M732.4 889.3v8.4M736.7 886.3v6.6M743.2 873.3v13.7M747.2 875.9v15.3M749.1 874.3v8.6M750.9 880.8v8.5M753.1 884.6v14.7M757.5 892.9v9.9M758.6 896.3v12.5M762.2 904.1v16.6M763.5 903.1v6.3M764.4 895.2v6.1M765.5 887.6v8.9M768.7 880.2v7.3M771.6 879.5v6.6M774.5 875.8v10.7M779.1 885.6v12.7M783.0 890.9v12.2M787.7 889.9v12.8M790.2 887.8v11.0M794.5 883.4v12.1M799.1 879.1v12.6M802.4 878.6v13.2M806.3 878.6v10.2M809.6 882.7v15.7M813.1 885.9v11.8M817.6 880.7v10.4M818.8 880.5v11.7M823.2 876.8v13.2M827.2 879.8v14.7M829.5 874.6v11.4M831.5 883.5v12.0M834.1 895.1v6.7M835.3 898.4v8.5M839.3 905.7v9.2M840.7 910.7v8.8M842.2 911.7v14.1M844.8 925.0v16.7M849.2 935.7v15.6M851.6 931.8v10.8M853.9 934.1v12.3M855.2 923.4v8.5M858.5 917.3v14.9M860.5 919.7v12.3M861.6 925.6v8.6M862.1 916.8v9.5M863.2 901.3v11.5M863.6 893.3v13.6M864.1 883.8v7.9M865.0 873.3v7.0M865.6 871.1v7.5M869.3 862.8v10.1M872.0 860.3v6.8M873.1 864.4v9.6M874.8 873.6v14.2M877.5 862.5v13.8M877.9 857.6v9.5M878.5 848.3v14.7M879.2 840.1v14.1M881.6 834.9v12.8M886.2 850.8v8.2M890.3 842.4v6.2M894.0 843.0v6.8M897.1 846.1v15.2M901.6 851.7v7.6M903.6 853.4v6.4M905.8 864.1v10.2M907.1 867.4v11.9M911.3 863.8v15.9M915.2 865.8v13.1M916.5 870.3v12.0M918.5 872.9v15.4M920.9 862.3v15.4M921.6 862.4v8.4M923.3 848.5v14.1M926.9 841.3v9.3M928.1 842.6v9.6M932.7 840.4v11.9M934.1 832.1v11.7M935.6 825.3v14.8M938.7 825.3v7.6M942.8 828.7v9.5M944.4 827.2v15.6M946.0 832.0v16.9M947.5 838.0v11.3M949.3 830.6v8.9M951.7 826.8v16.5M952.8 834.4v6.7M954.8 840.9v16.9M957.0 843.9v6.5M962.4 856.6v13.6M963.8 854.3v11.1M965.2 847.2v10.4M966.4 838.9v16.7M967.8 852.2v11.7M968.6 856.0v13.6M969.6 864.7v7.3M971.1 854.4v15.6M971.6 845.7v8.1M973.8 836.4v16.3M976.5 828.7v13.9M977.3 821.3v11.1M980.5 809.0v13.7M982.4 807.8v11.2M984.0 813.3v7.2M985.5 803.9v6.6M986.1 795.5v7.7M989.3 796.9v16.2M990.2 795.9v11.9M992.9 787.2v8.5M996.8 790.5v14.9M997.9 787.5v13.9M999.3 782.0v15.7M1000.7 768.8v15.7M1003.4 771.6v7.8M1006.7 772.3v7.1M1007.8 774.5v8.4M1010.7 784.6v13.6M1012.4 788.5v7.7M1015.0 793.9v8.9M1017.5 784.7v14.2M1019.1 786.3v9.5M1022.2 790.0v7.7M1024.2 780.0v14.6M1024.9 780.2v14.2M1028.8 773.6v16.3M1029.8 781.0v11.2M1031.2 783.6v14.6M1032.8 775.3v12.5M1034.0 771.6v15.5M1035.9 756.6v13.0M1039.5 760.9v10.7M1040.9 756.5v9.2M1046.1 745.3v6.2M1050.0 742.5v8.8M1054.5 739.2v8.4M1059.1 742.3v6.6M1064.1 739.0v16.4M1067.4 743.9v12.3M1069.0 747.8v16.4M1073.3 754.8v8.2M1075.8 752.2v14.9M1081.7 749.4v6.9M1084.6 752.9v11.9M1089.2 748.6v11.1M1090.9 746.8v15.6M1095.1 750.3v13.4M1098.2 747.5v10.2M1101.1 748.8v13.2M1104.1 750.4v14.3M1106.6 754.6v8.9M1109.2 755.1v13.0M1112.1 761.1v14.4M1114.8 759.1v7.4M1118.7 753.6v16.5M1123.1 751.4v12.5M1125.1 750.8v15.5M1128.5 747.5v12.0M1130.0 753.8v8.2M1132.7 760.1v7.0M1133.3 762.6v7.8M1136.8 766.6v15.6M1140.4 769.5v14.5M1143.0 769.0v16.4M1144.2 763.4v11.8M1146.5 762.9v6.7M1148.9 773.9v7.1M1151.0 775.5v10.7M1154.6 766.1v7.8M1156.3 762.9v12.9M1159.0 763.0v8.7M1163.6 765.7v7.2M1168.6 761.3v16.6M1170.9 764.4v7.6M1173.5 771.8v6.2M1179.8 765.0v6.1M1181.1 772.4v10.5M1184.0 775.1v15.0M1186.1 769.6v7.6M1191.0 770.2v8.2M1195.4 773.6v11.0M1197.2 772.3v12.0M1198.6 775.5v13.5M1202.1 770.1v15.0M1203.5 766.9v12.0M1207.7 776.2v8.6M1208.8 776.1v10.2M1209.7 767.0v11.0M1211.1 761.9v6.2M1213.6 750.1v12.2M1215.5 741.5v12.5M1217.1 739.9v14.9M1221.8 740.3v10.5M1226.9 743.6v12.5M1228.3 748.7v7.7M1230.1 756.4v12.3M1234.7 744.1v12.1M1236.4 742.9v12.4M1238.8 748.1v16.1M1239.7 755.1v6.7M1240.6 767.0v8.2M1241.7 771.1v7.7M1247.6 774.2v9.3M1248.7 773.0v14.6M1251.3 780.5v12.8M1254.3 785.4v15.2M1257.5 786.9v8.5M1262.3 796.2v8.0M1264.6 792.8v11.1M1266.5 787.9v12.5M1267.5 785.0v16.7M1272.1 784.4v12.9M1274.5 773.7v10.6M1277.4 766.6v8.5M1279.7 770.6v9.9M1281.8 775.8v16.1M1283.9 772.9v7.4M1287.0 775.6v15.4M1290.5 778.4v11.1M1295.2 778.1v9.4M1296.8 775.1v14.8M1302.4 779.1v15.2M1305.1 778.3v13.1M1309.0 772.7v10.7M1310.7 769.0v8.5M1312.0 755.6v7.3M1312.6 759.7v6.4M1312.7 766.8v13.6M1312.8 776.2v12.8M1312.9 787.8v15.2M1312.9 795.7v12.7M1313.0 808.4v10.2M1313.1 815.5v15.6M1313.2 829.2v16.5M1313.2 836.2v15.1M1313.6 842.9v11.6M1314.1 832.2v10.3M1314.7 821.1v12.0M1315.0 813.0v11.0M1315.7 803.2v10.4M1316.0 807.6v6.6M1316.5 817.2v9.3M1317.1 824.0v8.2M1317.4 831.6v11.0M1317.9 838.1v7.7M1318.5 853.2v13.1M1319.2 856.7v15.3M1322.6 853.7v6.8M1324.7 832.4v8.7M1326.9 827.7v11.4M1328.6 828.4v6.7M1329.3 834.1v16.4M1331.6 846.2v6.5M1332.4 852.7v15.8M1333.6 858.7v14.5M1334.7 866.7v10.2M1335.9 880.7v13.6M1337.3 884.1v14.6M1339.3 891.0v12.4M1340.4 886.3v8.5M1341.1 877.1v16.1M1342.5 875.2v13.0M1343.1 883.4v12.4M1344.8 895.5v13.6M1345.6 897.1v7.9M1347.4 885.6v7.2M1349.2 875.6v14.0M1349.8 865.6v9.2M1350.5 860.1v10.2M1352.7 847.1v10.9M1354.3 841.6v9.6M1355.4 840.0v12.3M1356.5 849.3v10.7M1357.8 854.0v10.3M1359.3 845.0v14.1M1360.3 840.4v16.9M1362.4 834.4v8.6M1363.7 841.5v8.6M1365.5 845.2v11.5M1368.4 832.8v6.4M1369.8 825.2v8.9M1370.3 820.0v7.5M1371.9 810.6v14.8M1375.5 804.8v15.3M1377.8 801.2v6.6M1379.2 799.4v7.3M1381.7 799.5v6.6M1383.1 786.7v8.7M1385.6 783.1v6.2M1388.7 785.5v6.3M1390.2 777.0v7.1M1391.8 782.2v13.0M1392.4 788.3v13.8M1394.5 797.3v6.4M1395.8 802.1v9.8M1398.7 811.1v7.3M1400.5 817.5v12.2M1402.5 827.9v13.1M1403.0 831.0v9.3M1405.8 834.5v7.3M1407.3 827.9v8.8M1408.7 828.2v9.6M1410.6 833.2v10.1M1411.4 834.8v15.6M1412.8 829.6v12.0M1415.9 829.2v15.0M1418.0 827.4v16.4M1419.8 821.4v9.3M1421.3 821.6v14.9M1425.7 824.1v15.9M1428.6 820.0v13.2M1432.7 825.0v16.9M1435.0 823.3v10.4M1436.9 831.8v10.1M1438.7 832.8v7.7M1440.2 835.1v11.2" stroke="#8418c8" stroke-width="0.9" fill="none"/>
<polyline points="2.5,947.3 6.7,948.5 4.8,951.5 7.3,953.2 11.8,954.3 10.8,956.6 12.1,958.6 10.9,962.1 13.3,964.8 12.8,961.3 13.4,961.0 17.9,961.8 17.2,964.6 19.2,966.3 16.5,968.1 18.2,966.3 23.1,965.6 20.6,962.2 18.7,959.1 22.5,957.8 21.7,955.2 27.4,954.6 25.5,951.3 23.6,954.2 28.4,955.2 27.9,957.7 23.9,959.3 26.1,957.2 31.4,955.8 28.0,952.4 28.5,949.8 28.4,946.9 31.6,945.2 34.5,943.4 33.3,940.2 34.4,942.2 36.6,943.6 38.5,945.2 36.8,948.7 36.7,949.1 40.4,947.7 38.2,945.7 39.5,948.1 40.4,950.5 43.6,952.5 41.6,955.4 41.8,958.0 45.2,960.0 43.5,962.8 45.9,965.1 42.0,968.1 43.5,970.5 48.1,972.5 44.5,976.0 46.1,978.5 46.5,979.4 50.1,978.2 53.8,977.2 48.4,972.5 53.0,972.0 55.0,970.8 54.8,967.0 57.3,965.6 58.5,966.5 60.4,965.1 66.9,964.3 66.9,961.8 66.3,959.1 66.2,956.6 64.7,953.2 64.7,949.9 70.8,951.7 71.7,949.3 70.3,946.8 75.8,947.9 74.8,950.5 73.8,953.1 71.0,956.1 74.2,957.3 76.9,955.5 80.3,957.1 76.6,961.5 83.0,961.6 79.7,965.9 83.8,966.4 85.7,970.1 88.0,967.9 85.2,964.7 90.0,965.8 88.1,969.2 89.8,971.6 93.7,972.5 92.7,976.8 98.0,974.0 99.5,976.4 100.6,978.4 99.0,984.2 102.4,983.2 107.3,982.1 105.4,987.1 104.5,990.8 110.4,991.0 112.5,992.4 112.4,996.5 112.9,998.5 118.4,998.3 112.6,993.3 119.6,993.6 114.4,989.6 116.3,987.4 117.5,985.0 121.1,983.2 117.2,979.7 123.5,978.4 123.1,973.6 125.3,974.9 122.2,978.2 127.6,978.0 127.7,975.5 123.7,973.7 126.4,975.3 126.5,977.6 128.8,979.3 132.5,981.3 130.0,984.0 126.1,987.0 129.7,989.1 132.8,991.3 128.5,994.3 132.4,996.4 131.4,1002.4 133.0,996.5 132.2,998.0 137.7,997.4 136.7,994.5 139.4,992.9 140.3,990.6 137.7,987.6 141.4,985.8 142.6,983.6 137.8,980.8 137.5,978.4 139.7,976.4 142.6,974.4 143.5,972.3 140.4,969.6 138.5,967.1 145.2,965.7 139.6,962.5 141.8,960.4 143.6,958.3 146.2,956.3 145.8,953.9 147.7,951.8 145.0,949.2 143.0,946.0 148.3,945.4 148.7,943.1 150.0,939.6 147.2,942.7 148.4,944.8 152.8,946.0 149.6,949.3 149.6,951.0 154.2,950.7 155.3,948.6 155.2,945.6 152.0,942.5 152.6,940.3 153.4,938.2 153.8,936.2 157.4,934.3 159.7,932.3 154.6,929.3 159.9,927.6 158.8,925.2 161.2,923.1 153.8,919.9 158.2,918.1 156.8,914.6 161.2,912.9 164.1,914.7 164.4,918.4 166.4,916.4 163.4,913.8 165.2,911.7 164.7,909.3 164.4,907.0 168.4,905.2 163.5,902.3 163.5,900.0 164.7,897.9 166.1,896.0 164.9,892.1 165.2,892.7 167.4,893.9 169.0,893.8 171.9,892.5 174.2,891.0 175.3,887.6 170.0,891.4 170.5,893.9 178.4,894.9 176.4,897.9 175.6,900.8 179.1,902.3 180.9,904.5 179.9,908.3 176.1,905.9 181.8,903.9 174.6,901.3 180.2,899.4 182.2,897.2 182.4,895.0 179.4,892.6 176.1,890.2 178.0,888.1 177.8,885.8 181.9,883.8 175.6,881.3 175.8,879.0 177.1,876.9 178.4,874.7 178.1,872.5 176.2,870.1 178.1,867.6 179.8,865.3 179.9,862.7 182.2,860.4 185.0,862.3 181.9,865.0 185.4,866.7 183.6,869.2 182.1,871.7 187.6,873.2 181.8,876.2 186.2,876.1 185.5,880.4 186.6,878.3 184.3,875.8 185.8,873.7 187.9,871.8 191.1,870.0 192.9,868.0 192.2,865.7 190.0,862.7 190.0,865.5 195.0,865.9 192.9,868.9 194.0,871.0 192.9,873.7 192.9,876.2 197.9,876.7 199.5,878.4 199.3,881.0 196.8,884.3 198.6,886.1 198.1,889.1 199.7,891.2 201.8,891.7 206.1,890.1 206.5,887.5 201.6,883.6 208.6,881.7 203.0,884.5 206.5,886.6 203.7,889.2 209.7,891.2 202.3,894.1 207.9,896.1 203.1,898.8 205.3,901.0 208.0,903.2 206.0,905.5 211.1,903.8 207.1,900.6 209.0,898.3 212.0,896.2 205.3,892.6 208.0,890.5 212.0,888.8 210.5,886.4 208.2,883.8 209.8,881.8 208.7,879.4 213.3,877.8 209.5,875.0 211.5,872.5 212.8,871.6 218.7,871.6 216.2,875.5 217.0,873.3 220.1,871.4 216.7,868.8 219.0,866.8 216.2,864.3 218.2,862.2 219.6,860.1 221.4,858.0 217.1,855.3 221.5,853.5 221.4,851.3 218.3,848.7 221.4,846.8 222.7,844.7 219.2,842.1 219.5,839.9 219.0,837.6 222.8,835.1 218.9,838.5 223.8,840.1 219.3,843.6 225.0,845.1 226.8,846.9 225.6,850.0 228.6,851.8 229.1,856.6 227.1,853.2 225.7,849.8 225.5,848.6 230.1,850.3 230.9,852.7 226.9,856.1 229.3,858.2 230.8,860.4 234.0,858.9 236.3,852.8 233.5,858.3 238.4,859.9 233.6,862.8 233.7,865.0 239.1,866.5 235.1,869.3 237.2,871.3 236.2,873.7 239.8,875.1 237.7,878.3 238.4,880.4 240.8,881.9 242.9,883.5 245.6,884.8 244.4,887.6 244.8,890.7 243.4,894.4 244.7,894.0 251.7,895.0 249.4,891.6 252.8,892.8 256.7,895.2 251.6,898.2 254.6,900.0 256.7,901.9 253.6,904.6 256.5,906.4 258.8,908.3 259.3,910.5 259.1,912.8 256.7,915.4 256.6,917.7 259.7,919.6 253.3,922.6 259.5,924.1 258.2,926.5 259.6,928.6 262.0,930.6 255.1,934.8 260.4,935.1 262.4,936.8 264.9,938.4 264.1,943.5 262.4,938.3 266.3,937.1 266.0,934.7 266.4,932.4 268.8,930.4 270.8,928.3 267.3,925.4 269.4,923.3 268.1,920.6 269.4,918.3 271.7,917.0 272.9,915.3 274.5,913.9 276.8,909.8 278.1,916.0 281.6,914.4 282.8,915.9 284.2,918.3 280.9,921.5 287.4,922.8 284.8,926.0 288.9,927.2 287.2,930.8 291.5,932.0 287.3,936.4 291.7,936.8 290.0,942.1 293.9,943.5 296.5,941.6 294.6,938.0 293.4,934.6 297.2,933.1 297.9,929.6 299.5,927.9 298.4,924.9 304.8,923.9 300.2,920.1 301.5,915.1 307.2,919.4 307.8,915.8 310.7,913.8 316.6,913.7 316.3,916.9 317.7,919.5 317.2,923.5 319.2,925.4 323.2,925.1 325.9,924.7 328.6,928.3 330.4,925.8 333.1,924.1 333.8,921.1 336.2,919.8 339.6,920.6 341.7,919.4 344.5,919.9 346.2,913.0 348.8,913.5 351.1,915.1 353.7,915.6 356.8,912.8 359.6,913.9 363.3,915.1 363.6,918.6 365.5,921.0 367.2,918.7 370.3,916.5 366.4,912.8 372.1,911.5 368.8,908.0 370.7,906.1 374.1,906.2 372.3,901.2 378.4,901.1 375.3,896.4 377.3,893.7 379.3,892.1 380.8,893.7 383.7,893.0 388.6,893.4 386.6,897.3 392.9,898.7 388.2,901.8 391.4,903.7 392.3,905.9 393.5,908.1 395.0,910.3 390.8,913.1 390.0,910.3 393.3,908.4 392.5,905.6 394.1,903.3 395.8,901.3 391.2,897.0 392.8,894.7 398.6,891.3 399.1,894.1 399.0,898.0 402.9,898.0 403.2,901.3 405.0,904.0 404.5,907.4 409.6,907.9 411.5,910.2 411.2,913.3 410.1,916.3 410.4,918.6 415.7,919.9 414.7,917.3 413.6,914.6 418.7,913.7 420.3,911.1 414.9,908.3 420.2,906.6 414.6,903.8 419.2,902.0 414.1,899.2 419.3,897.5 421.5,895.5 420.5,893.1 417.2,890.3 420.8,888.6 421.5,886.1 423.5,883.9 420.0,879.1 423.2,878.7 424.7,876.4 426.4,874.5 430.7,871.6 435.0,874.3 429.6,879.2 430.1,881.9 434.3,883.2 436.2,885.2 438.0,887.7 439.1,890.7 443.4,889.8 440.3,882.8 446.2,885.2 447.5,881.6 450.1,883.0 450.9,885.4 447.3,889.4 452.1,892.3 453.8,888.8 456.6,886.9 460.2,884.9 457.4,880.2 457.6,877.2 462.9,876.8 463.3,873.9 461.3,869.8 466.2,869.1 464.7,865.2 468.9,864.1 470.3,862.3 470.9,858.7 469.7,854.5 474.4,853.7 473.5,850.1 475.3,847.6 478.8,849.1 478.3,845.8 483.7,847.1 483.7,849.4 483.8,851.6 484.5,853.7 484.2,856.0 481.5,858.7 485.6,860.2 481.9,862.6 483.3,860.2 483.7,857.6 484.1,854.9 489.8,853.4 483.2,850.1 487.3,848.5 484.9,845.8 484.7,843.5 487.5,841.6 487.6,839.4 490.2,837.5 492.4,835.6 491.3,833.5 492.8,831.2 487.9,826.3 496.1,824.1 496.7,826.7 494.6,830.1 492.4,833.1 492.2,835.4 495.1,837.4 493.8,839.8 496.0,841.9 497.6,844.0 498.5,846.2 495.3,848.8 499.9,850.6 496.2,853.3 495.1,856.7 498.2,858.3 499.7,860.5 497.7,861.1 502.3,860.3 506.1,859.1 508.5,855.0 506.5,857.6 503.3,860.2 505.1,862.4 508.3,864.4 508.3,866.7 508.8,869.0 506.1,871.6 505.3,874.0 511.1,875.7 509.1,878.2 508.6,880.6 508.9,883.2 505.0,879.8 510.7,878.3 511.6,875.9 513.8,873.8 512.6,871.4 515.0,869.3 514.5,866.2 514.8,863.4 514.5,860.1 514.8,857.2 517.7,855.6 518.0,851.7 519.8,849.9 525.0,848.8 525.6,846.2 521.9,842.3 528.6,841.5 524.0,837.8 522.7,835.1 529.3,834.6 524.3,832.2 525.5,834.4 528.2,836.2 528.3,838.6 532.9,840.0 526.9,843.7 529.2,843.6 531.6,843.7 532.1,843.8 532.7,846.4 539.6,846.4 536.7,850.6 537.7,853.4 542.2,856.0 542.4,853.3 545.5,851.6 542.7,847.9 541.7,844.9 542.7,841.6 546.6,838.7 550.7,839.8 557.8,839.2 557.9,836.1 554.0,831.3 555.5,830.9 559.4,832.7 556.0,836.0 557.2,838.4 559.5,840.5 561.4,841.9 563.1,842.3 567.2,843.5 568.8,841.6 569.5,839.5 571.4,837.7 574.4,837.6 577.5,835.6 579.2,833.3 575.6,830.0 578.4,828.0 581.1,825.9 579.6,823.3 579.2,820.1 584.0,815.2 582.9,819.5 580.4,822.2 586.9,823.4 588.7,825.4 588.8,827.8 586.4,830.7 585.0,833.4 584.3,836.0 585.9,839.1 587.4,840.8 590.9,842.1 591.1,838.7 596.5,835.9 597.7,837.8 595.4,840.8 601.6,840.3 603.0,838.2 600.8,835.0 602.2,832.9 599.7,828.8 602.0,826.7 603.7,824.1 609.9,824.6 605.9,819.5 607.8,817.3 613.0,816.2 610.9,812.7 613.7,808.7 613.8,812.5 617.0,815.1 614.9,817.6 619.5,819.3 619.0,821.6 613.0,824.6 613.4,826.8 615.1,828.9 616.4,831.0 619.5,832.9 618.5,835.2 620.7,837.2 622.3,839.3 621.8,841.6 623.0,843.8 621.6,846.2 619.0,848.8 619.6,851.0 622.3,852.9 618.9,856.1 622.6,857.5 621.2,860.9 625.4,863.5 626.2,861.0 622.4,857.0 627.6,855.1 629.8,857.1 629.5,859.4 629.5,861.7 630.9,863.8 625.9,866.9 629.1,868.7 625.6,871.5 630.2,873.0 627.8,876.3 629.8,878.7 630.2,879.8 632.4,877.7 631.5,874.7 634.1,872.7 635.8,871.3 636.8,868.2 641.3,867.6 635.8,870.9 638.9,872.6 636.7,875.3 644.7,876.1 639.9,879.2 644.8,880.5 642.4,883.3 645.5,884.9 646.7,887.3 646.4,890.0 647.3,892.4 643.4,895.8 642.6,898.6 646.3,900.3 650.0,901.3 648.4,905.5 646.2,902.0 652.5,901.3 650.5,897.9 652.0,895.6 656.9,895.8 657.3,898.8 660.1,900.9 660.6,898.1 662.3,895.6 659.6,893.2 661.6,891.1 662.7,889.0 660.1,886.6 662.8,884.6 662.6,882.4 661.0,880.0 666.7,878.3 662.0,875.6 664.0,873.6 663.7,871.4 662.0,869.5 668.5,871.1 665.9,873.8 662.6,876.5 665.1,878.6 662.8,881.2 665.7,883.2 667.2,885.5 664.1,887.9 669.3,889.9 663.5,892.4 667.6,894.5 666.5,896.8 663.0,899.2 663.8,901.5 670.2,903.4 668.2,905.8 666.4,908.1 669.6,910.3 669.9,912.5 668.4,914.8 665.2,917.2 668.5,919.4 665.4,921.8 670.2,923.8 664.9,926.3 670.3,928.3 669.1,931.0 665.4,926.8 671.5,926.3 671.0,923.1 673.1,920.5 671.1,923.3 672.0,925.6 674.2,927.6 674.1,930.1 675.4,932.3 675.5,934.7 672.9,937.6 672.9,940.1 674.4,941.8 677.5,939.8 674.1,937.0 679.4,935.2 679.4,932.8 679.9,930.5 679.2,928.0 681.2,925.8 680.9,923.4 681.5,921.0 676.0,918.2 679.1,916.2 677.5,913.7 676.4,911.3 681.8,909.5 680.8,907.1 683.3,905.1 677.7,902.2 680.2,900.1 682.3,898.1 682.6,897.0 682.2,892.6 682.6,890.8 682.6,893.4 686.5,895.3 683.0,898.5 684.6,900.8 683.1,903.7 683.9,907.0 688.3,908.0 691.3,909.7 688.1,912.6 691.5,910.7 693.5,908.6 692.3,905.7 692.9,903.2 692.5,899.5 694.5,898.2 697.4,897.8 698.3,900.9 700.6,902.3 703.8,902.7 705.1,906.0 706.1,902.9 704.7,901.9 707.0,904.0 711.3,905.2 707.8,909.3 712.6,911.0 715.1,908.9 715.9,905.8 715.0,901.3 716.4,899.4 720.3,899.0 722.5,898.1 723.9,896.2 728.5,897.3 731.4,896.6 730.8,893.5 733.9,893.0 736.4,891.1 736.9,888.3 740.6,888.2 740.1,885.0 743.3,884.0 742.4,880.8 744.2,880.5 748.6,880.5 749.2,883.2 751.5,885.1 752.2,887.7 749.8,892.2 756.1,891.5 754.0,896.4 759.5,897.1 755.3,901.6 760.1,902.7 761.7,904.7 763.4,906.4 763.5,909.1 765.2,912.1 763.6,909.7 764.3,907.6 765.7,905.5 763.8,903.1 765.0,901.0 768.0,899.1 764.8,896.5 767.0,894.5 762.4,891.8 762.7,889.6 762.1,887.3 764.3,887.3 765.9,889.6 771.0,889.8 767.6,885.8 768.8,883.6 774.3,883.3 774.3,879.9 773.3,884.7 773.8,887.2 775.3,889.6 777.6,891.6 781.0,893.3 781.9,896.2 786.3,893.7 785.6,896.5 790.4,895.8 789.3,892.1 793.7,892.0 796.7,891.1 797.3,889.4 798.0,884.6 798.9,881.2 801.6,880.7 805.0,881.7 803.4,885.6 807.3,886.0 809.4,887.6 811.1,890.2 814.8,895.5 816.2,893.2 817.5,890.2 815.9,886.4 821.5,887.2 822.0,885.0 824.0,880.2 819.9,885.5 827.4,883.9 828.0,890.0 823.4,883.8 828.5,884.4 829.6,881.7 833.4,883.4 828.5,887.3 833.9,888.6 834.1,891.2 834.4,893.7 837.0,895.4 833.1,899.1 838.0,900.0 837.3,902.8 838.2,904.7 836.3,908.7 842.1,909.0 843.0,912.2 837.5,916.6 838.0,919.2 845.9,919.6 840.6,924.0 845.6,925.2 845.9,927.8 846.9,930.2 844.9,933.6 849.4,934.1 847.3,938.9 850.2,940.2 854.2,939.7 857.6,938.0 853.5,934.7 858.0,933.3 858.3,930.9 854.7,927.7 854.8,924.8 858.9,923.7 861.4,920.4 859.5,923.3 863.4,925.2 863.8,927.7 858.7,931.1 860.9,933.2 862.0,930.9 864.4,928.7 860.6,926.1 863.4,924.0 863.8,921.7 865.1,919.4 862.2,916.9 861.3,914.5 865.3,912.4 863.2,909.9 863.4,907.6 860.1,905.1 861.4,902.8 860.1,900.4 862.7,898.3 860.0,895.8 867.1,894.0 863.1,891.4 862.7,889.1 867.7,887.1 864.5,884.6 867.1,882.5 863.1,879.9 864.3,877.7 864.6,875.0 869.7,873.5 868.1,870.0 868.6,867.3 868.5,866.2 871.7,868.1 869.2,871.3 875.9,872.4 877.9,874.6 875.7,879.4 876.5,875.5 879.4,873.3 877.9,870.9 878.7,868.6 874.8,866.1 878.0,863.9 876.6,861.5 874.9,859.1 881.3,857.2 880.1,854.8 878.0,852.3 875.1,849.8 875.8,847.5 880.2,846.7 880.3,843.3 881.7,845.6 882.5,848.1 885.1,850.0 886.6,851.1 884.1,856.5 888.4,857.0 886.2,853.5 886.3,850.9 887.8,849.0 891.3,848.0 894.7,846.9 898.5,847.6 897.1,851.4 900.3,852.1 900.2,856.0 906.3,856.8 904.0,860.3 907.5,862.0 908.1,864.6 907.8,867.4 906.9,869.8 908.5,871.5 913.2,875.1 910.0,868.7 916.7,867.2 912.9,871.1 915.5,873.0 914.2,876.2 916.4,878.2 919.8,881.0 917.6,877.7 922.5,876.4 923.2,873.9 922.0,870.9 919.4,867.7 923.0,866.1 919.7,863.2 924.7,861.8 920.1,858.8 919.5,856.4 921.2,854.4 924.3,852.7 923.7,850.2 927.9,851.4 931.4,846.1 927.2,851.4 927.3,854.6 934.7,855.9 936.0,853.8 933.6,851.1 930.8,848.4 929.9,846.0 937.3,844.8 933.4,842.0 931.7,839.4 932.7,837.3 935.2,835.6 936.6,833.1 937.2,830.3 935.9,833.9 938.9,835.6 939.1,836.9 941.0,834.4 942.2,833.3 943.7,835.6 948.4,837.1 945.4,840.5 942.9,843.8 951.0,846.1 950.0,843.6 951.5,841.6 947.3,838.6 949.9,836.8 947.5,834.1 953.4,832.9 953.6,830.6 947.3,828.4 951.8,829.8 948.9,832.7 954.7,833.8 955.9,835.9 956.1,838.1 955.9,840.4 954.2,843.1 955.2,844.7 957.7,846.3 956.8,850.4 957.3,853.7 963.2,854.7 962.1,857.8 961.0,860.8 962.2,862.7 963.8,860.8 962.7,858.3 963.8,856.3 963.1,853.9 967.9,852.5 962.2,849.2 965.3,847.5 962.9,845.8 968.4,847.4 966.5,850.0 969.4,852.0 968.6,854.4 964.1,857.3 965.6,859.4 969.2,861.3 965.4,864.1 968.4,866.0 973.0,867.7 966.4,870.1 965.9,867.8 968.1,865.7 971.3,863.8 973.2,861.7 967.8,858.7 971.1,856.8 970.6,854.4 971.9,852.3 968.6,849.6 971.9,847.6 969.7,843.7 971.6,841.3 975.2,840.4 972.3,837.7 975.2,835.8 974.3,833.4 975.2,831.2 976.6,829.1 973.5,826.5 980.7,824.9 978.5,822.4 975.4,819.8 974.6,816.4 977.5,814.6 982.7,813.8 977.4,811.0 985.2,812.1 980.6,815.6 983.9,817.6 986.5,819.7 985.3,823.0 985.0,820.6 983.8,818.1 985.5,816.0 983.6,813.4 984.3,811.2 987.0,809.2 988.7,807.1 983.4,804.1 985.7,802.0 986.5,799.8 988.0,797.6 983.7,796.5 991.2,796.5 986.9,801.1 989.4,802.4 988.8,799.4 995.4,799.0 996.3,796.5 992.5,793.7 996.6,794.7 999.6,798.0 995.2,795.0 1001.6,793.6 1001.2,791.2 997.1,788.3 996.2,785.8 995.8,783.4 997.6,781.4 1001.7,779.6 1003.8,777.6 999.5,774.6 1002.0,772.4 999.7,776.0 1001.8,778.0 1005.4,779.6 1006.3,783.7 1009.4,782.1 1010.0,777.1 1004.9,780.5 1005.2,782.7 1012.0,783.6 1011.7,786.0 1009.1,788.8 1007.2,791.5 1009.6,793.3 1009.1,796.8 1013.3,797.7 1018.1,801.4 1013.4,796.9 1016.8,795.3 1017.2,792.7 1018.8,790.0 1017.2,793.1 1022.7,793.5 1020.9,796.8 1019.8,798.6 1019.9,796.2 1025.2,795.0 1025.8,792.7 1019.9,788.9 1024.4,787.6 1023.7,784.9 1025.4,782.6 1025.5,779.9 1025.5,777.1 1030.5,774.6 1026.4,778.0 1032.4,779.4 1032.1,782.1 1031.4,784.9 1033.0,787.2 1031.0,790.3 1034.7,788.5 1033.8,785.6 1030.7,782.1 1036.1,780.8 1035.6,777.8 1034.0,775.4 1034.9,773.3 1035.7,771.2 1033.7,768.6 1034.9,766.6 1033.4,764.1 1036.2,762.3 1038.5,758.7 1037.5,763.4 1043.2,766.3 1044.2,764.2 1043.1,761.1 1040.6,757.4 1045.1,756.8 1042.2,752.9 1048.1,753.2 1044.5,749.1 1048.3,748.2 1049.2,744.6 1052.2,746.0 1054.8,746.4 1057.8,742.0 1057.9,747.8 1062.3,742.5 1062.5,749.0 1062.5,749.2 1066.4,749.7 1068.0,751.8 1069.5,753.8 1068.1,758.0 1074.7,756.8 1076.7,762.3 1074.1,758.6 1079.6,758.4 1074.3,753.6 1080.2,750.2 1078.4,755.3 1080.7,756.4 1083.8,760.8 1085.5,756.0 1087.9,755.2 1090.3,754.7 1093.1,754.8 1095.0,751.9 1098.4,754.9 1100.5,751.9 1099.3,756.0 1104.7,754.4 1103.7,758.0 1105.2,759.8 1110.6,758.3 1112.3,760.0 1111.4,763.4 1109.3,767.5 1114.4,768.1 1116.3,766.4 1116.0,763.7 1113.8,760.2 1117.3,758.3 1117.9,761.8 1119.3,763.1 1124.1,762.4 1122.7,758.5 1121.7,753.8 1127.4,755.0 1131.0,750.9 1130.5,753.6 1127.6,756.9 1126.8,759.6 1133.9,759.5 1132.4,762.5 1136.0,764.5 1131.0,767.9 1135.9,769.6 1137.2,772.0 1137.3,774.6 1138.0,779.4 1136.1,775.3 1138.0,773.1 1136.3,771.7 1137.1,774.7 1145.2,776.4 1140.0,771.5 1140.5,768.8 1148.4,769.0 1147.6,764.7 1149.7,766.5 1144.1,770.0 1149.8,771.1 1148.7,773.6 1149.4,775.7 1147.4,778.5 1148.1,780.6 1152.5,784.0 1151.1,780.3 1154.5,778.8 1152.7,774.7 1152.1,770.8 1154.1,768.8 1156.6,770.7 1162.2,768.8 1163.5,772.8 1164.3,770.4 1165.9,768.8 1171.1,765.7 1172.6,767.4 1172.7,770.0 1171.7,773.6 1174.6,776.3 1175.4,773.8 1177.1,772.5 1179.1,769.6 1177.9,772.8 1180.6,773.9 1177.9,777.8 1184.8,776.8 1182.0,779.3 1185.8,779.1 1182.8,774.2 1184.8,772.8 1186.7,776.1 1189.6,775.8 1195.5,773.8 1193.2,777.8 1197.3,777.8 1195.3,782.0 1197.3,782.1 1199.3,780.6 1200.5,778.7 1203.1,777.4 1200.0,773.4 1202.8,772.9 1202.2,775.5 1203.2,777.5 1203.8,779.7 1206.3,781.2 1210.0,782.1 1207.1,785.0 1210.9,783.2 1206.3,780.2 1211.6,778.6 1208.3,775.8 1208.8,773.5 1206.6,770.8 1214.2,769.5 1212.5,767.0 1211.0,764.4 1213.1,762.3 1214.1,760.1 1210.2,756.7 1215.3,755.8 1210.4,751.1 1217.9,751.1 1216.2,748.0 1218.9,745.9 1221.8,742.7 1223.2,745.1 1226.9,744.4 1228.1,748.1 1224.6,751.8 1226.8,753.5 1228.1,755.7 1230.2,757.4 1233.2,761.7 1234.4,759.2 1231.0,754.5 1236.8,753.8 1234.7,750.7 1233.7,747.8 1238.9,744.8 1237.4,748.7 1238.3,751.3 1235.8,754.0 1240.6,755.9 1239.5,758.4 1241.8,760.6 1237.0,763.5 1240.0,765.6 1239.7,768.0 1242.2,770.2 1239.4,772.9 1241.4,775.0 1244.6,776.4 1244.9,779.4 1247.6,784.8 1249.0,782.0 1248.8,777.5 1252.5,778.9 1248.2,782.3 1251.9,783.7 1249.2,786.6 1249.7,788.7 1249.7,791.1 1254.5,794.8 1252.3,788.7 1256.3,788.9 1255.1,793.5 1263.5,792.4 1257.8,797.3 1262.2,798.2 1261.8,800.9 1267.3,803.9 1263.3,799.9 1268.7,798.8 1264.1,794.6 1269.8,793.7 1265.2,793.2 1268.8,792.7 1269.1,792.2 1274.4,791.2 1270.4,787.9 1269.8,785.5 1276.1,784.8 1276.8,782.6 1274.2,779.7 1277.1,779.1 1275.8,774.4 1276.8,773.3 1277.4,775.9 1278.0,778.6 1280.8,780.4 1283.7,783.7 1285.9,781.2 1284.5,778.7 1288.3,778.9 1288.5,781.4 1291.6,782.2 1290.4,783.0 1293.7,784.1 1298.0,780.8 1298.4,783.7 1301.0,784.9 1304.4,789.6 1305.6,787.8 1307.0,785.9 1304.3,781.6 1307.3,781.1 1310.4,781.8 1309.7,777.5 1314.4,776.0 1313.6,773.6 1311.5,771.1 1310.2,768.7 1311.1,766.6 1314.6,764.8 1313.4,762.4 1314.5,760.1 1311.3,762.3 1310.1,764.5 1310.3,766.7 1315.6,768.9 1309.8,771.1 1312.4,773.3 1315.2,775.5 1316.3,777.7 1309.9,779.9 1310.4,782.1 1310.3,784.3 1311.0,786.5 1314.4,788.7 1310.2,791.0 1311.4,793.1 1312.2,795.3 1315.3,797.5 1312.5,799.7 1314.6,801.9 1312.8,804.1 1313.4,806.3 1313.9,808.5 1316.6,810.7 1314.6,812.9 1309.5,815.2 1314.3,817.4 1309.5,819.6 1311.9,821.8 1314.6,824.0 1311.9,826.2 1311.2,828.4 1315.2,830.6 1316.4,832.8 1312.6,835.0 1315.7,837.2 1311.9,839.4 1316.7,841.6 1316.1,843.8 1311.8,846.0 1309.4,848.2 1312.4,850.3 1315.6,848.3 1316.4,846.1 1316.5,843.8 1314.5,841.5 1314.9,839.2 1313.0,836.9 1315.0,834.7 1314.3,832.4 1311.7,830.0 1313.8,827.9 1313.4,825.6 1314.8,823.4 1317.4,821.3 1314.4,818.9 1316.0,816.7 1318.0,814.6 1316.7,812.3 1319.0,810.1 1315.1,807.7 1315.8,809.9 1316.3,812.1 1318.4,814.2 1316.3,816.5 1316.2,818.8 1312.6,821.2 1317.9,823.1 1316.1,825.4 1313.4,827.8 1313.3,830.0 1317.1,832.0 1320.4,834.0 1316.1,836.5 1321.0,838.4 1317.5,840.8 1319.6,842.9 1319.3,845.2 1319.7,847.3 1315.1,849.8 1318.2,851.9 1316.9,854.1 1315.8,856.4 1320.7,858.4 1319.8,860.6 1316.9,861.6 1319.2,859.1 1323.6,858.0 1322.8,855.6 1322.5,853.3 1324.6,851.3 1327.1,849.2 1326.4,846.9 1321.8,844.1 1320.9,841.7 1322.6,839.6 1323.3,837.4 1322.4,833.9 1329.6,834.4 1325.2,830.8 1330.2,832.0 1331.4,834.0 1332.3,836.0 1326.5,839.6 1327.1,841.7 1331.9,842.9 1332.1,845.3 1334.9,847.2 1333.7,849.6 1332.6,852.1 1331.3,854.6 1332.0,856.7 1332.7,859.0 1336.6,860.7 1334.3,863.4 1334.4,865.6 1336.9,867.6 1336.8,869.9 1337.1,872.1 1334.7,874.7 1334.8,876.9 1331.7,879.6 1338.2,881.0 1335.7,883.6 1339.8,885.3 1334.7,888.3 1335.7,890.7 1335.7,893.4 1337.7,895.6 1339.1,897.9 1335.0,900.1 1341.3,898.6 1338.9,896.0 1340.6,893.9 1340.3,891.6 1337.4,888.9 1340.7,887.0 1340.0,884.7 1344.8,883.0 1345.4,880.8 1343.3,877.8 1339.0,880.6 1342.0,882.4 1340.4,884.9 1345.1,886.5 1347.2,888.5 1345.6,890.9 1340.9,893.7 1344.5,895.5 1340.7,898.2 1342.8,900.2 1345.9,902.0 1344.5,904.2 1343.4,901.6 1345.7,899.5 1348.2,897.6 1345.3,894.6 1349.8,893.0 1345.7,889.9 1350.5,888.3 1349.9,885.7 1351.1,883.5 1345.2,880.5 1347.2,878.4 1350.2,876.4 1351.3,874.2 1352.6,872.0 1352.8,869.7 1352.4,867.3 1352.8,865.0 1351.6,862.6 1348.7,859.9 1348.5,857.0 1355.4,856.3 1352.7,852.8 1355.1,850.8 1358.0,849.0 1358.3,844.9 1357.0,847.7 1355.6,850.5 1356.4,852.9 1357.7,855.3 1356.6,858.0 1354.6,859.8 1354.3,857.5 1358.9,856.0 1356.4,853.3 1357.1,851.1 1360.3,849.4 1360.8,847.2 1360.5,844.8 1364.9,843.3 1359.9,841.0 1365.3,841.8 1365.4,844.6 1366.6,847.0 1367.9,851.1 1367.7,848.4 1370.1,846.3 1364.7,842.0 1371.8,841.3 1369.4,837.9 1366.0,835.2 1366.3,832.9 1372.0,831.4 1369.1,828.8 1369.0,826.5 1368.5,824.2 1368.8,822.0 1374.2,820.4 1374.8,818.4 1373.5,815.5 1370.2,812.4 1370.6,809.9 1375.1,808.0 1370.6,806.0 1376.6,807.1 1378.6,809.3 1378.7,812.0 1373.1,814.7 1374.8,812.4 1379.4,810.7 1377.8,807.8 1374.7,804.5 1380.6,800.2 1379.5,804.9 1379.6,802.7 1385.6,801.3 1383.7,798.8 1386.3,796.9 1383.3,794.3 1385.3,792.3 1383.9,789.9 1387.3,786.2 1382.1,791.9 1384.0,794.1 1386.5,794.9 1390.6,793.1 1386.8,789.7 1388.2,787.4 1390.2,785.2 1391.4,782.4 1393.9,784.6 1390.3,787.9 1389.1,790.8 1392.9,792.6 1392.0,795.4 1391.1,798.3 1396.3,799.7 1391.3,803.5 1396.3,805.0 1397.7,807.3 1400.3,809.1 1401.0,811.6 1399.8,814.8 1396.8,818.4 1401.2,820.0 1398.7,823.1 1403.5,824.7 1402.4,827.5 1400.7,830.6 1400.9,833.1 1402.7,835.4 1407.0,836.7 1404.2,840.5 1408.3,843.4 1404.6,840.2 1407.5,838.1 1403.5,834.8 1408.5,833.1 1409.6,830.7 1406.2,828.2 1405.3,830.6 1406.3,832.7 1408.4,834.5 1411.0,836.2 1407.2,839.2 1411.4,840.6 1411.5,842.9 1408.0,839.7 1408.9,837.2 1413.9,835.6 1414.9,833.2 1417.5,831.1 1416.6,827.1 1413.8,830.6 1414.3,833.2 1417.8,834.9 1416.6,837.7 1419.4,835.7 1419.2,833.0 1421.7,830.9 1417.5,827.2 1423.8,823.3 1423.4,826.5 1419.5,831.5 1424.1,831.6 1426.7,830.3 1429.1,828.8 1429.8,824.3 1426.8,828.5 1426.6,831.5 1430.2,832.5 1432.2,830.3 1433.4,828.1 1433.1,830.7 1433.4,833.0 1436.1,834.7 1440.7,835.7 1441.1,836.6 1440.8,839.5 1441,842" fill="none" stroke="#8a1ecc" stroke-width="1.0" stroke-linejoin="round"/>
<polyline points="4.9,946.5 6.1,950.3 8.3,953.7 8.7,957.9 11.2,960.5 12.6,964.0 16.0,960.0 17.5,964.5 18.6,968.9 20.1,964.5 22.4,960.3 23.1,955.6 25.7,951.2 26.1,955.9 27.7,960.2 28.2,957.0 29.6,954.1 30.3,951.0 30.1,947.6 32.4,944.1 33.4,940.1 35.1,943.1 36.5,946.4 39.3,950.4 41.6,945.2 42.5,948.9 42.5,952.7 43.7,956.4 43.5,960.2 44.9,963.9 44.2,967.8 45.7,971.5 45.6,975.5 48.4,980.1 50.2,975.8 52.0,971.5 55.4,967.6 59.5,964.6 62.3,965.6 63.1,961.7 65.4,958.1 65.9,954.2 68.7,949.9 72.5,946.3 72.9,950.1 73.9,953.9 74.7,957.9 77.6,955.3 79.8,958.8 81.0,962.6 81.9,966.1 84.3,969.1 87.3,964.0 88.4,967.8 89.6,971.7 93.1,977.0 95.7,975.4 99.3,980.1 103.3,982.4 106.3,986.8 108.2,990.4 110.5,994.0 114.3,999.2 116.4,994.8 117.5,990.2 119.0,986.6 119.5,982.8 119.6,978.9 121.5,975.0 124.8,979.2 125.0,975.7 126.7,972.8 128.0,977.2 128.7,981.6 129.7,985.1 130.3,988.6 130.5,992.1 131.2,995.5 130.6,998.9 135.2,999.0 136.1,995.1 138.0,991.5 139.1,987.8 139.3,984.5 140.6,981.4 140.0,978.1 140.6,974.9 140.6,971.6 141.9,968.5 141.8,965.2 142.0,961.9 142.6,958.6 143.8,955.5 143.7,952.2 144.3,948.9 146.3,944.7 147.1,940.3 148.7,943.9 149.6,947.6 150.1,951.1 151.7,948.2 153.3,945.1 154.5,940.8 155.8,936.4 156.6,933.0 155.8,929.5 157.4,926.2 156.8,922.6 157.8,919.3 157.9,915.3 160.3,913.3 162.5,918.2 163.1,915.0 163.6,911.8 164.8,908.7 164.1,905.3 165.1,902.2 165.5,899.0 166.1,895.9 168.5,890.5 170.7,894.4 171.9,891.2 173.0,888.1 174.1,891.2 174.3,894.4 175.0,897.5 175.7,900.7 177.0,904.5 177.5,908.2 178.3,904.9 178.8,901.5 178.5,898.2 179.5,894.9 179.2,891.5 178.5,888.1 179.6,884.8 179.3,881.5 179.7,878.1 180.4,874.8 180.3,871.5 180.0,868.1 180.9,864.3 181.9,860.5 182.8,864.0 183.0,867.5 182.9,871.1 183.4,874.6 184.3,878.1 187.1,880.6 187.7,877.1 187.7,873.6 188.2,870.1 189.2,866.6 190.1,862.7 191.5,866.9 193.8,871.0 195.1,875.3 195.2,879.0 196.9,882.0 197.8,885.2 199.4,888.2 203.1,892.0 203.8,888.6 204.7,885.3 204.9,881.9 206.0,885.3 205.4,888.7 205.8,892.1 205.8,895.5 206.4,898.9 207.0,902.3 206.7,905.7 207.9,902.0 207.6,898.1 208.2,894.3 209.9,890.8 210.6,887.3 209.8,883.6 211.2,880.2 212.2,876.7 211.7,873.0 214.3,870.7 216.6,875.6 216.7,872.2 217.2,868.9 217.4,865.5 217.7,862.2 218.8,858.9 219.1,855.5 218.5,852.1 219.8,848.9 220.1,845.5 220.3,842.2 220.4,838.8 221.2,835.4 221.3,839.7 223.2,843.7 222.8,848.1 224.9,851.7 225.5,855.3 227.0,851.7 228.6,848.0 229.3,852.1 230.6,856.2 230.8,860.4 233.2,855.6 236.1,858.0 235.8,861.6 236.8,865.1 238.1,868.5 237.7,872.1 238.6,875.5 239.1,879.0 240.7,882.0 242.4,885.0 243.6,888.0 245.3,892.0 247.4,896.0 251.4,890.4 253.6,895.7 253.6,899.3 255.2,902.6 254.6,906.3 255.4,909.7 255.5,913.3 256.2,916.6 257.0,919.9 257.2,923.3 258.1,926.5 257.5,930.0 258.4,933.4 260.3,937.7 262.0,941.9 266.4,937.2 266.0,933.8 267.3,930.6 267.7,927.3 268.5,924.1 268.5,920.8 269.9,917.4 272.2,914.1 276.1,911.8 279.9,913.1 284.0,915.7 283.7,920.1 285.8,924.0 285.6,928.4 287.2,931.7 288.4,935.0 290.6,937.9 294.1,943.6 294.9,940.1 296.5,936.8 298.0,933.7 301.6,928.4 301.5,924.9 302.3,921.5 303.0,917.8 307.7,915.9 311.5,915.2 314.2,914.8 317.2,919.6 321.8,922.9 325.2,926.7 329.1,928.4 332.6,923.5 336.0,919.4 341.8,917.6 345.9,915.4 351.1,915.0 356.3,915.0 360.8,917.3 365.5,921.0 367.9,915.8 367.8,912.3 369.7,909.2 370.2,905.9 374.1,902.1 375.2,898.0 377.2,894.2 381.2,890.7 385.3,891.7 388.7,896.9 389.2,900.2 390.7,903.3 390.9,906.6 390.5,910.0 391.0,913.1 391.8,908.9 393.7,905.0 393.9,900.7 395.7,897.1 396.2,893.3 400.3,896.6 403.8,900.9 408.4,905.5 409.9,909.3 411.9,913.0 412.3,916.5 413.7,919.4 415.2,915.0 416.1,910.6 416.3,907.3 417.5,904.1 417.6,900.7 417.6,897.3 418.1,894.0 419.4,890.9 419.0,887.2 421.0,884.1 421.7,880.8 425.4,877.5 428.8,874.7 431.9,875.4 432.4,879.1 434.5,882.1 434.8,885.9 439.0,890.8 442.7,885.3 446.3,882.0 449.0,886.1 450.5,890.8 452.5,887.9 456.9,883.2 459.0,879.5 460.0,875.4 462.6,872.0 464.3,868.2 466.4,864.5 468.6,860.8 471.6,855.5 474.2,852.0 475.6,848.5 480.6,845.4 480.8,848.9 481.5,852.4 482.5,855.8 482.5,859.4 482.5,862.7 484.6,859.7 485.0,856.2 486.2,852.9 486.3,849.5 488.0,846.3 487.9,842.9 488.4,839.5 489.6,836.3 489.0,832.6 490.8,828.9 493.0,825.1 493.5,829.1 495.8,832.7 495.4,836.0 495.5,839.3 495.7,842.5 497.1,845.6 496.9,848.9 497.5,852.1 497.6,855.3 499.5,859.2 500.9,862.7 503.4,859.3 504.7,855.4 505.6,858.8 505.4,862.4 506.4,865.7 506.2,869.2 507.3,872.6 507.5,876.1 507.3,879.6 508.6,883.1 508.3,878.7 510.5,874.8 510.3,870.4 512.4,866.8 513.8,862.9 515.7,859.1 516.9,855.0 522.1,850.6 523.1,847.3 524.1,843.9 525.1,840.5 526.1,836.1 526.9,831.7 528.0,835.1 528.5,838.5 529.4,842.0 530.4,845.9 534.3,842.8 536.1,846.4 536.7,850.7 539.9,855.3 541.1,852.3 541.5,849.0 542.8,845.9 543.7,842.7 547.1,839.9 551.0,839.6 554.9,837.8 556.2,833.9 558.4,830.3 558.8,833.5 559.8,836.5 560.6,839.7 561.0,842.8 563.8,844.8 567.9,844.5 571.7,841.7 575.2,837.7 575.9,834.0 576.4,830.2 578.2,826.7 577.8,822.5 581.1,817.7 584.6,821.4 584.2,824.9 585.9,827.9 586.3,831.2 586.6,834.6 587.1,838.1 590.7,841.9 594.0,839.4 598.3,841.7 599.6,838.0 600.8,834.2 602.0,830.5 605.7,825.3 608.6,820.3 610.0,817.1 610.7,813.6 611.7,810.2 615.2,815.3 616.1,818.6 616.5,821.9 616.4,825.3 617.2,828.6 618.0,831.9 618.5,835.2 618.3,838.7 618.2,842.1 618.8,845.4 619.0,848.8 620.2,852.0 621.0,855.1 621.9,859.2 624.1,863.1 624.9,859.2 626.0,855.4 626.3,858.8 627.3,862.1 627.9,865.4 628.0,868.8 629.3,872.1 629.4,875.4 632.8,880.5 634.2,877.4 634.5,873.8 635.9,871.1 639.3,868.0 640.4,871.4 640.0,875.1 641.2,878.5 641.4,882.1 642.2,885.6 642.8,889.4 644.5,893.0 644.8,896.8 645.8,900.4 648.8,905.7 649.6,902.2 650.9,899.0 652.2,895.5 656.0,896.6 658.7,900.3 662.4,895.6 662.4,892.3 662.5,889.0 662.5,885.7 663.2,882.4 663.6,879.1 663.2,875.8 664.4,872.5 664.9,869.1 664.8,872.5 665.0,875.7 666.0,878.9 665.4,882.3 665.9,885.5 666.8,888.7 667.1,891.9 666.5,895.2 666.8,898.4 667.6,901.6 667.0,904.9 667.3,908.1 667.7,911.3 666.9,914.6 667.9,917.8 667.3,921.0 667.8,924.2 668.1,927.5 667.8,930.6 669.7,927.5 670.6,923.9 672.1,920.7 672.9,924.2 673.4,927.8 673.2,931.5 674.3,934.9 675.0,938.5 675.5,942.0 675.6,938.4 676.3,934.9 676.5,931.3 677.0,927.8 678.0,924.3 677.7,920.7 678.0,917.1 679.4,913.6 679.3,909.9 680.1,906.4 679.9,902.8 680.3,899.2 680.7,895.4 684.5,890.5 685.1,894.3 685.4,898.1 685.8,901.9 687.1,905.5 688.4,909.4 690.7,913.2 691.1,910.0 691.5,906.8 692.4,903.7 693.2,900.7 697.0,898.0 701.3,901.5 704.5,905.4 708.9,900.4 709.8,903.9 711.0,907.2 711.8,910.4 715.7,905.2 718.1,902.9 721.4,901.1 726.5,898.5 727.9,895.2 730.7,892.5 736.1,890.7 738.5,887.9 741.1,885.6 743.2,882.6 744.4,879.5 749.1,880.3 749.5,883.9 751.5,886.9 752.5,890.2 756.2,895.5 757.8,898.7 758.3,902.3 759.4,905.8 761.1,908.9 763.0,911.9 763.2,908.6 764.3,905.4 763.9,902.0 765.1,898.8 764.3,895.3 764.8,892.0 765.4,888.8 765.6,885.7 770.0,889.4 772.1,885.0 773.6,880.3 776.8,885.8 778.8,889.6 781.1,893.3 784.8,897.0 788.2,897.8 790.5,894.3 792.6,890.9 796.0,887.1 801.6,884.5 805.3,881.6 806.3,885.2 808.5,888.0 812.0,892.7 816.1,889.2 818.4,885.4 821.1,881.9 823.4,884.7 825.0,888.0 827.6,885.2 829.7,881.7 830.6,884.8 831.2,888.0 831.8,891.2 833.1,894.2 833.7,898.1 834.8,901.9 836.7,905.4 838.3,909.3 840.6,912.9 841.5,916.1 842.0,919.4 843.2,922.5 844.0,925.6 845.4,928.9 845.3,932.6 847.5,935.4 850.4,941.3 852.9,939.4 854.0,936.0 854.9,932.6 856.2,929.3 856.7,925.8 859.2,920.7 860.4,924.8 861.4,928.9 861.9,933.2 861.2,929.9 862.3,926.7 861.6,923.4 862.7,920.2 862.1,916.9 863.0,913.7 862.6,910.4 862.8,907.1 862.8,903.8 863.5,900.6 864.1,897.0 864.5,893.5 864.2,889.8 863.9,886.2 864.8,882.7 865.2,879.1 865.5,875.4 867.8,872.8 869.8,869.2 871.1,865.6 871.9,868.7 872.6,871.8 874.1,874.8 874.5,878.0 876.8,875.5 877.5,872.2 878.0,868.8 877.4,865.4 878.0,862.1 877.7,858.7 878.1,855.4 879.2,852.1 879.3,848.8 879.5,845.9 881.0,843.0 882.3,846.3 883.8,849.5 884.0,853.3 887.9,856.8 889.6,852.2 891.1,847.3 895.1,846.7 897.8,849.5 899.3,852.8 902.9,857.9 903.6,861.1 905.1,864.0 905.1,867.5 907.1,870.0 909.9,872.8 914.0,868.0 915.1,871.1 916.4,874.1 917.5,877.2 917.9,880.5 918.5,877.3 919.5,874.2 920.5,871.1 921.5,868.1 922.5,864.6 921.9,860.9 922.8,857.4 924.2,854.0 924.2,850.7 927.4,848.1 930.1,851.5 931.0,855.3 931.8,852.0 933.0,848.7 933.8,845.4 934.2,842.1 934.8,838.7 934.4,835.1 937.5,830.2 938.7,834.2 940.0,837.5 944.0,832.9 944.6,836.0 945.5,839.1 946.5,842.3 946.8,845.3 948.1,841.9 948.1,838.3 949.7,834.9 949.3,831.2 951.1,827.7 951.6,831.2 952.1,834.8 952.6,838.3 952.6,842.0 953.7,845.5 956.1,850.9 960.2,852.8 961.1,856.2 961.5,859.7 962.6,862.8 963.9,859.4 964.2,855.9 965.4,852.5 966.2,849.0 966.9,845.3 967.2,848.9 967.0,852.6 968.1,856.1 968.2,859.7 968.7,863.3 969.7,866.8 969.2,870.5 969.9,866.9 969.7,863.3 971.0,859.8 970.9,856.1 971.3,852.5 972.2,849.0 972.9,845.8 975.7,840.4 976.5,837.2 976.5,834.0 976.5,830.7 977.5,827.5 978.0,824.3 977.5,821.0 978.4,817.9 979.8,814.1 981.2,810.2 982.5,813.2 982.9,816.5 983.2,819.6 983.4,822.8 984.0,819.3 984.0,815.8 985.0,812.4 985.5,809.0 985.4,805.5 986.0,802.1 987.0,798.7 986.5,795.4 988.1,799.2 989.5,802.5 991.6,799.4 992.5,796.0 994.2,792.6 997.0,797.6 998.7,794.2 998.3,790.5 998.7,786.9 1000.0,783.4 1000.1,779.8 1001.0,776.2 1001.1,772.7 1002.3,776.0 1003.4,779.3 1005.2,782.8 1007.9,777.6 1008.9,781.0 1008.7,784.7 1009.3,788.3 1010.9,791.6 1011.2,795.3 1014.9,800.3 1015.3,796.7 1016.5,793.3 1018.4,790.1 1019.7,794.6 1021.4,799.0 1022.9,795.7 1023.7,792.3 1024.1,788.7 1024.4,785.1 1025.2,781.7 1027.0,778.6 1027.4,775.2 1028.5,778.9 1029.2,782.7 1029.9,786.5 1031.1,790.3 1031.9,787.1 1032.7,784.0 1033.7,780.8 1033.9,777.6 1034.6,774.1 1034.4,770.5 1035.5,767.1 1036.4,763.7 1035.8,760.5 1040.5,765.2 1041.5,760.4 1043.5,756.0 1045.9,752.2 1047.9,748.6 1051.8,746.0 1056.8,745.3 1060.8,745.8 1065.0,747.7 1066.5,750.8 1068.5,753.5 1070.0,756.6 1074.1,761.2 1075.6,756.7 1078.4,752.0 1080.8,754.6 1082.9,756.4 1087.0,755.9 1090.8,755.6 1093.5,753.6 1097.0,752.7 1100.6,751.7 1102.8,754.9 1106.0,757.2 1108.5,759.9 1111.2,763.6 1113.5,767.8 1115.4,763.3 1117.0,758.6 1120.7,763.8 1122.1,759.8 1124.5,756.4 1128.1,752.0 1129.9,755.4 1130.9,759.0 1131.4,762.7 1132.1,766.4 1133.4,770.1 1134.4,773.8 1133.9,777.3 1135.9,773.6 1138.5,769.8 1142.0,775.2 1143.1,771.7 1144.8,768.5 1145.0,765.2 1146.9,768.5 1146.9,772.2 1147.9,775.6 1148.8,779.1 1149.1,782.3 1151.3,778.7 1152.8,774.8 1155.3,771.6 1158.6,768.4 1163.1,772.3 1165.6,770.1 1168.5,767.5 1170.2,771.7 1173.3,774.8 1176.3,773.0 1178.5,770.0 1180.1,773.3 1182.2,776.5 1183.2,780.0 1185.5,776.2 1188.4,772.8 1193.4,775.1 1195.9,779.0 1198.9,782.8 1199.9,779.2 1201.8,775.9 1203.5,772.5 1204.7,775.7 1205.1,779.2 1207.1,782.1 1208.1,785.2 1208.7,781.7 1208.9,778.2 1210.3,774.9 1210.8,771.4 1211.0,767.9 1211.5,764.5 1211.5,760.9 1211.6,757.3 1213.9,754.3 1215.0,750.9 1215.9,747.2 1220.7,743.9 1223.2,746.5 1226.0,748.8 1227.0,752.6 1228.4,756.4 1229.5,759.9 1231.5,756.2 1233.5,752.5 1234.8,749.4 1236.2,746.1 1237.9,751.4 1238.8,754.7 1238.8,758.1 1240.1,761.5 1240.1,764.9 1239.9,768.3 1240.2,771.8 1241.4,775.0 1242.4,779.0 1244.3,782.3 1249.1,777.5 1249.1,781.5 1250.4,785.1 1251.6,788.9 1252.5,792.9 1256.3,788.9 1259.5,794.0 1261.5,798.4 1263.6,802.7 1264.3,799.5 1265.2,796.4 1266.1,793.2 1267.5,789.7 1271.5,792.8 1271.8,788.9 1273.4,785.3 1274.2,781.4 1274.5,777.3 1278.4,772.7 1280.0,775.9 1281.3,779.2 1282.6,782.8 1286.4,777.5 1288.3,781.6 1291.2,785.1 1295.7,783.0 1298.4,785.6 1301.2,787.6 1303.4,783.8 1306.4,780.4 1310.1,777.6 1311.2,774.2 1310.5,770.5 1311.5,767.1 1312.6,763.7 1312.6,760.1 1312.7,763.3 1312.6,766.6 1312.4,769.8 1312.8,773.0 1312.5,776.2 1312.4,779.5 1313.3,782.7 1313.4,785.9 1313.4,789.1 1312.5,792.4 1313.5,795.6 1312.6,798.8 1313.5,802.0 1313.1,805.2 1312.3,808.5 1312.5,811.7 1313.3,814.9 1313.7,818.1 1313.4,821.4 1313.4,824.6 1312.6,827.8 1313.1,831.1 1313.8,834.3 1312.7,837.5 1312.7,840.7 1313.7,843.9 1313.2,847.2 1313.2,850.4 1313.6,847.1 1314.1,843.9 1314.5,840.6 1313.4,837.2 1314.3,834.0 1314.5,830.7 1314.3,827.4 1314.6,824.1 1315.5,820.9 1315.2,817.6 1315.4,814.3 1315.0,810.9 1315.6,807.7 1315.5,811.0 1316.0,814.2 1315.7,817.5 1316.1,820.7 1316.4,823.9 1317.1,827.2 1316.5,830.5 1316.6,833.7 1317.9,836.9 1317.2,840.2 1317.9,843.4 1318.3,846.6 1317.8,849.9 1318.9,853.1 1319.1,856.4 1318.9,859.6 1318.8,863.0 1322.7,857.9 1323.5,854.7 1323.8,851.5 1324.1,848.3 1323.8,845.0 1324.2,841.7 1324.4,838.5 1324.6,835.0 1327.3,830.4 1328.1,834.1 1328.7,837.9 1329.6,841.8 1330.3,845.5 1331.6,848.6 1331.4,851.9 1331.5,855.2 1332.7,858.3 1332.9,861.6 1334.0,864.7 1334.3,868.0 1333.8,871.4 1334.1,874.7 1335.1,878.0 1335.8,881.3 1335.7,884.7 1336.6,888.0 1337.4,891.1 1338.1,894.2 1338.5,897.4 1338.9,900.6 1339.4,897.4 1339.9,894.2 1339.5,890.8 1340.1,887.6 1340.5,884.4 1341.3,881.2 1341.6,878.0 1342.8,881.2 1343.0,884.5 1342.6,887.9 1344.0,891.1 1343.4,894.5 1344.4,897.7 1345.3,900.9 1344.7,904.2 1345.9,900.5 1346.1,896.7 1346.7,892.9 1347.5,889.2 1348.5,885.5 1348.2,882.0 1349.3,878.6 1349.7,875.2 1349.6,871.7 1349.9,868.2 1350.1,864.7 1351.1,861.4 1351.9,858.1 1352.5,854.8 1353.5,851.7 1354.5,848.6 1355.6,845.3 1355.1,849.3 1356.3,852.9 1356.6,856.7 1358.1,860.5 1358.8,857.2 1359.6,853.8 1359.4,850.4 1359.9,847.0 1361.1,843.8 1361.6,840.3 1363.1,843.6 1364.4,847.0 1366.0,850.6 1366.2,847.2 1367.6,844.2 1368.4,841.0 1368.6,837.7 1369.9,834.5 1369.3,831.1 1370.0,827.8 1371.3,824.5 1371.4,821.2 1372.0,817.9 1372.8,813.7 1373.4,809.5 1373.5,805.2 1374.0,808.7 1374.7,812.1 1376.7,815.4 1377.3,812.3 1378.0,809.1 1377.7,805.8 1378.7,802.4 1381.5,805.2 1382.1,801.7 1382.9,798.2 1383.0,794.7 1384.0,791.3 1383.7,788.0 1386.0,791.4 1388.2,795.2 1388.4,792.0 1389.8,789.0 1389.2,785.6 1391.2,782.5 1390.9,786.5 1391.9,790.2 1393.0,793.9 1393.9,797.7 1394.1,800.9 1395.6,803.8 1395.6,807.1 1396.5,810.3 1398.2,813.4 1399.3,816.8 1400.0,820.2 1399.8,824.2 1401.7,827.7 1402.0,831.6 1403.0,835.3 1403.5,839.3 1406.0,843.0 1406.4,839.2 1406.6,835.4 1406.9,831.5 1408.0,827.8 1409.0,831.5 1410.1,835.2 1409.9,839.2 1411.1,842.9 1412.5,839.2 1412.1,835.2 1413.4,831.6 1414.4,827.7 1415.0,831.2 1416.2,834.5 1417.8,837.9 1417.9,834.6 1418.3,831.4 1419.9,828.5 1420.7,825.3 1422.0,828.7 1424.3,831.8 1425.4,828.3 1426.8,825.5 1429.4,828.9 1430.4,832.9 1434.5,827.8 1435.3,831.6 1436.4,835.4 1437.9,839.1 1439.9,842.2 1441,842" fill="none" stroke="#a80420" stroke-width="3.4" stroke-linejoin="round" stroke-linecap="round"/>
<polyline points="3.8,946.9 5.2,948.5 5.9,950.3 8.5,951.7 8.2,953.8 8.2,955.8 8.0,958.2 7.7,960.4 10.0,961.3 10.1,963.3 14.2,965.4 14.3,962.3 17.0,959.7 16.3,962.0 16.6,963.8 15.3,966.3 19.6,966.7 20.9,969.8 19.1,967.1 19.0,965.0 18.9,963.0 23.4,962.7 20.9,959.8 24.0,958.9 25.2,957.3 22.1,954.3 25.6,953.5 27.3,950.8 25.7,953.1 28.0,954.4 27.3,956.5 27.3,958.4 27.5,960.2 25.9,957.9 27.3,956.4 28.2,954.7 28.7,952.9 28.6,951.0 28.2,949.0 31.7,948.0 30.3,945.5 32.8,944.3 34.0,942.5 34.6,939.4 35.1,941.1 33.1,944.2 33.9,945.7 37.3,945.8 38.2,947.9 37.7,949.7 40.1,948.8 39.3,946.3 40.5,945.3 42.8,946.9 41.9,949.0 43.2,950.7 41.3,952.9 44.6,954.3 42.3,956.6 41.5,958.7 42.9,960.3 45.2,962.0 45.2,963.9 44.8,965.8 46.8,967.5 45.5,969.6 47.0,971.3 46.9,973.2 45.6,975.4 45.2,977.9 46.7,979.4 46.8,979.6 48.3,978.0 51.2,977.2 49.6,974.6 52.1,973.5 53.9,973.0 53.1,968.9 55.7,967.8 57.8,967.6 59.6,966.5 60.3,963.6 61.7,964.2 64.9,966.3 65.4,964.6 64.9,962.7 63.0,960.4 66.4,959.5 64.0,957.1 63.5,955.2 65.9,954.2 65.6,950.6 69.5,950.5 69.0,947.3 74.1,945.9 74.5,947.8 72.8,950.2 72.3,952.2 73.6,954.0 75.6,955.5 76.0,959.4 75.1,955.5 77.0,955.6 79.2,956.8 78.0,959.5 79.7,961.0 80.8,962.7 81.5,964.4 84.5,964.8 81.6,968.3 84.9,969.5 86.7,968.5 85.2,965.1 85.7,964.6 89.3,965.4 89.7,967.4 88.2,969.9 88.4,972.3 90.8,973.2 91.8,974.7 92.4,974.4 96.7,974.8 94.9,978.2 99.8,977.6 99.5,979.9 101.3,980.7 104.0,981.9 104.1,984.2 104.6,986.1 105.7,987.0 108.9,987.8 106.9,991.1 108.4,992.8 109.3,994.8 113.2,994.7 113.8,996.6 114.6,999.3 116.4,997.9 116.1,995.8 118.2,994.6 116.8,992.0 118.3,990.4 118.3,988.6 116.5,986.5 116.8,984.9 119.9,983.7 120.4,982.1 119.0,980.1 120.7,978.7 120.2,976.9 120.5,975.7 122.3,977.5 126.3,979.9 127.0,977.8 125.6,974.7 125.2,973.2 128.1,974.3 127.8,976.3 129.0,977.8 126.7,980.4 127.2,981.8 131.2,983.2 130.1,985.0 131.6,986.7 129.9,988.6 130.0,990.4 128.7,992.3 131.8,993.7 130.2,995.6 128.4,997.6 131.0,997.0 133.0,1000.0 134.4,998.8 137.6,998.0 135.5,995.5 135.9,993.9 139.2,993.1 137.3,990.7 140.7,990.1 140.3,987.9 138.6,986.0 138.9,984.2 138.2,982.4 141.0,980.9 140.1,979.1 138.8,977.2 141.2,975.7 140.6,973.9 141.7,972.2 139.1,970.2 143.5,968.9 143.0,967.1 143.7,965.5 143.0,963.5 141.6,961.5 144.5,960.0 143.9,958.1 142.4,956.0 143.4,954.3 144.2,952.6 144.7,950.8 144.2,948.9 144.6,947.0 147.5,946.1 147.2,944.0 147.7,942.2 149.7,939.7 149.5,941.7 150.8,943.3 147.9,946.1 147.6,948.2 151.8,949.1 149.4,950.8 149.5,948.9 151.5,948.0 151.0,945.9 153.0,945.1 153.7,943.4 152.3,941.2 154.1,939.8 156.7,938.5 156.2,936.5 155.6,934.7 155.9,933.0 158.6,931.5 158.6,929.8 155.1,927.6 154.7,925.8 159.3,924.7 159.3,922.9 158.6,921.1 159.7,919.5 156.3,917.3 157.0,914.5 159.4,914.3 162.3,912.4 160.9,915.1 161.3,917.0 160.9,918.1 163.5,916.6 164.8,915.0 162.7,913.0 165.6,911.5 163.9,909.6 166.3,908.1 163.0,906.0 162.9,904.2 165.6,902.7 163.4,900.7 167.5,899.4 166.1,897.5 165.7,895.7 168.7,895.1 168.0,892.7 166.3,891.8 169.4,892.5 169.8,894.1 171.9,892.4 172.1,890.1 172.8,888.1 175.6,889.4 172.1,892.1 173.0,893.7 174.0,895.4 174.8,897.1 174.4,899.1 173.8,901.3 174.0,903.3 176.0,904.8 175.3,907.1 177.4,908.2 179.2,906.5 178.9,904.7 179.9,903.0 179.6,901.3 177.0,899.4 180.2,897.8 181.0,896.1 180.7,894.3 178.4,892.5 180.1,890.8 177.8,889.0 177.2,887.2 181.0,885.6 181.8,883.9 179.4,882.0 181.5,880.4 177.8,878.5 180.0,876.8 178.8,875.0 179.0,873.3 182.2,871.7 178.7,869.8 178.4,867.7 180.1,866.1 181.9,864.5 183.3,862.8 180.4,860.7 181.7,862.3 184.2,863.8 180.6,866.1 182.3,867.6 183.7,869.2 182.4,871.2 181.6,873.1 183.6,874.6 184.0,876.4 183.7,878.6 186.4,878.6 188.3,880.8 185.1,878.5 187.0,877.0 190.1,875.7 187.3,873.5 188.3,871.9 186.8,869.9 190.3,868.6 189.6,866.7 187.9,864.7 191.1,862.1 192.6,863.8 193.1,866.5 191.8,868.8 191.7,870.7 193.8,872.0 193.0,874.1 195.2,875.3 197.2,877.0 196.7,879.6 197.6,881.6 196.9,884.3 200.4,885.3 197.9,889.5 202.2,888.9 203.1,892.0 201.1,889.7 203.7,888.6 202.1,886.4 204.9,885.4 204.9,883.6 203.5,882.0 207.1,883.5 204.0,885.4 205.2,887.0 206.7,888.6 205.3,890.4 206.8,892.0 204.5,893.9 205.0,895.6 207.0,897.2 205.7,899.0 207.8,900.5 206.7,902.3 207.8,903.9 205.6,905.5 209.0,904.1 207.1,901.9 206.2,899.8 206.6,897.9 208.7,896.4 211.1,894.8 210.9,892.9 209.9,890.8 210.6,889.1 208.4,887.0 211.6,885.6 211.5,883.8 212.3,882.1 210.0,880.0 213.1,878.6 211.6,876.6 211.2,874.8 210.6,871.6 214.2,872.9 213.8,871.0 214.5,872.7 216.5,873.8 218.9,875.8 215.3,873.6 218.8,872.1 217.7,870.1 218.6,868.4 216.8,866.4 219.9,864.8 218.4,862.8 220.4,861.2 219.1,859.2 216.8,857.2 217.7,855.4 217.0,853.5 219.3,851.9 221.7,850.3 220.1,848.3 219.2,846.4 219.0,844.5 220.3,842.8 218.9,840.8 222.5,839.3 220.7,837.3 219.7,835.7 221.0,837.3 222.3,838.9 220.4,841.1 224.2,842.3 222.8,844.4 224.9,845.8 222.0,848.5 223.6,850.0 225.3,851.5 222.9,854.4 224.8,855.1 227.4,853.9 225.4,851.2 227.5,849.8 228.0,848.1 228.8,849.8 231.1,851.2 228.3,853.6 231.8,854.8 230.6,856.9 230.7,858.7 230.1,860.2 231.2,858.6 232.5,857.2 232.8,856.3 233.9,857.4 238.0,857.7 236.7,859.7 238.2,861.3 234.9,863.5 237.4,865.0 239.5,866.5 237.9,868.5 240.0,870.0 238.0,872.1 239.0,873.7 238.5,875.5 239.9,877.4 242.0,879.0 242.4,881.3 240.3,884.6 242.2,886.1 244.4,887.7 242.8,890.8 246.0,891.6 247.4,893.3 247.4,895.8 246.6,892.8 248.8,891.7 251.7,890.3 251.8,892.4 253.2,893.7 253.2,895.7 252.6,897.6 255.8,898.9 253.6,901.0 252.6,903.0 254.3,904.5 256.1,906.0 255.9,907.9 256.9,909.5 253.5,911.8 255.9,913.2 254.6,915.2 254.8,917.1 256.6,918.7 256.5,920.6 256.0,922.5 257.9,924.1 257.8,926.0 260.0,927.5 257.1,929.8 256.8,931.7 256.7,934.0 258.1,935.6 260.8,936.5 259.6,939.1 261.3,940.5 263.9,943.2 262.3,939.6 265.2,939.1 264.1,936.8 268.3,935.6 265.0,933.2 268.8,932.0 265.1,929.6 267.7,928.1 267.6,926.2 268.7,924.5 266.7,922.4 267.2,920.0 269.2,919.0 269.1,916.9 270.3,915.5 271.4,913.1 274.3,913.3 275.4,912.8 277.6,914.8 280.2,912.2 280.6,915.7 282.9,915.9 281.7,918.0 284.3,919.4 286.5,920.8 283.6,923.2 283.0,925.2 286.7,926.3 287.2,927.9 289.0,929.2 286.0,932.2 287.2,933.5 289.4,934.6 287.3,937.4 289.1,938.9 290.3,940.7 293.5,940.8 293.5,943.4 294.2,941.7 294.1,939.7 293.7,937.6 294.3,936.0 298.4,935.6 297.3,933.4 297.2,930.5 301.4,931.1 303.0,928.8 302.4,926.8 300.5,924.6 301.3,923.0 301.2,921.2 302.2,919.7 304.5,919.7 305.8,917.4 307.5,917.2 309.3,917.4 311.3,917.6 313.4,916.4 313.2,915.3 317.6,915.3 316.9,917.6 316.3,920.7 319.7,919.8 319.3,922.4 321.2,923.4 323.7,923.5 324.2,925.3 325.2,926.2 326.0,929.8 328.5,928.2 329.5,926.4 333.2,926.3 331.4,922.1 335.2,923.4 336.4,922.3 337.4,921.3 338.3,919.4 340.4,918.8 340.6,915.5 342.8,917.2 345.4,918.1 346.2,918.2 348.4,915.2 351.1,916.3 353.3,913.1 357.3,913.0 357.3,917.1 359.2,917.0 362.2,916.0 363.8,916.9 364.6,918.8 363.3,919.9 365.9,919.1 364.9,916.6 369.3,916.2 369.0,914.4 367.0,912.1 366.9,910.3 368.6,908.9 367.6,906.9 370.3,905.9 372.5,905.5 374.0,904.8 373.0,901.6 373.2,899.3 375.8,898.2 376.0,895.9 378.7,895.2 379.1,893.3 380.7,892.3 381.9,889.9 383.5,891.3 384.0,892.7 386.1,893.8 389.0,894.3 386.8,897.2 391.1,898.4 389.7,900.5 391.6,902.1 390.4,904.1 390.5,905.9 388.3,908.1 393.0,909.3 393.0,911.1 392.7,913.4 389.5,910.9 390.8,909.4 394.8,908.3 392.4,906.0 391.9,904.0 394.6,902.7 395.4,901.1 393.8,898.6 393.1,896.2 397.3,895.5 396.1,893.6 399.3,892.9 400.2,894.3 399.4,897.8 400.4,899.5 402.2,900.2 405.4,899.7 404.8,902.8 408.0,902.9 406.1,906.6 407.0,908.5 411.5,908.5 409.2,912.1 411.5,913.2 412.6,914.6 413.4,916.1 412.9,918.1 412.6,919.1 414.9,917.8 415.2,916.0 417.9,914.9 416.2,912.5 417.1,910.7 416.4,908.8 416.2,907.0 417.7,905.3 415.2,903.2 416.3,901.5 419.7,900.0 419.0,898.1 418.1,896.2 416.5,894.2 417.3,892.4 417.4,890.3 418.7,888.9 419.8,887.4 419.0,885.3 420.7,884.0 420.6,882.2 420.3,879.4 423.5,880.0 424.6,878.9 424.8,875.8 426.0,874.2 428.9,874.5 430.0,876.2 431.8,877.4 433.3,878.8 435.2,879.9 433.0,882.7 436.7,883.2 433.9,886.8 438.1,886.4 439.0,888.0 440.0,891.3 441.5,889.8 439.8,886.1 443.5,886.1 443.8,883.8 445.0,882.7 445.9,882.2 446.7,883.9 447.4,885.8 447.8,887.6 449.2,889.1 452.4,892.3 450.9,888.6 453.9,888.8 453.3,885.8 454.3,883.8 457.0,883.1 456.6,880.6 459.3,879.7 457.7,876.6 460.4,875.6 461.9,874.0 464.2,872.7 461.5,869.0 464.9,868.5 464.7,865.9 467.8,865.1 468.5,863.1 469.8,861.8 470.3,859.8 471.5,857.8 471.3,855.2 472.2,853.3 472.9,851.4 475.0,850.1 474.4,846.2 477.0,846.9 479.9,848.3 481.9,845.2 482.1,846.9 482.6,848.7 480.0,850.9 480.9,852.5 483.4,853.9 479.8,856.3 481.1,857.8 482.2,859.4 484.7,860.8 482.8,862.8 481.9,860.7 483.2,859.3 483.3,857.5 487.3,857.0 487.3,855.1 486.1,852.9 486.9,851.1 484.8,848.9 488.7,847.7 489.6,845.9 488.3,843.8 486.0,841.6 489.9,840.3 488.1,838.2 490.9,836.8 488.1,834.4 490.6,833.3 492.6,831.8 491.4,829.2 489.8,826.4 493.0,825.1 495.0,826.5 492.2,829.6 495.0,830.7 493.1,833.0 494.1,834.7 494.6,836.4 495.4,838.0 496.7,839.7 497.9,841.3 496.5,843.2 495.1,845.1 495.8,846.8 498.3,848.3 499.1,850.0 496.0,852.1 498.1,853.6 496.3,856.1 499.7,856.7 497.7,860.1 500.7,860.8 500.7,862.6 503.1,861.5 504.6,859.9 506.0,858.1 504.9,855.4 503.9,857.3 507.2,858.7 507.6,860.4 506.8,862.2 505.4,864.1 506.2,865.8 507.5,867.4 507.7,869.1 507.6,870.8 505.2,872.8 507.7,874.3 509.0,875.9 507.0,877.9 506.9,879.6 507.0,881.4 509.1,883.2 506.5,880.8 508.3,879.3 507.4,877.3 509.0,875.7 509.8,874.1 511.7,872.6 511.2,870.8 513.4,869.4 514.0,867.5 511.8,864.3 512.4,862.2 513.1,860.2 517.3,859.9 518.2,858.0 518.1,855.6 518.0,853.0 520.4,852.5 523.6,851.1 522.1,848.8 522.3,847.0 525.4,846.1 523.5,843.7 521.8,841.3 527.0,841.0 523.6,838.2 523.8,836.3 528.2,835.7 526.8,833.4 529.1,831.2 526.2,833.6 527.8,835.1 528.2,836.8 526.5,839.0 530.3,839.9 529.5,841.9 528.4,844.0 529.1,844.2 532.5,845.2 536.1,842.0 533.6,845.4 536.6,846.2 538.0,847.8 538.6,849.6 537.4,852.6 537.9,854.4 542.4,856.1 539.7,853.3 540.0,851.5 542.9,850.4 544.7,848.9 542.3,846.2 543.9,844.8 543.6,842.1 545.8,842.1 546.8,839.6 549.1,839.0 551.0,839.5 552.8,839.6 555.3,838.0 554.0,835.1 556.4,834.0 559.5,833.1 556.8,830.6 560.8,831.7 559.0,833.9 558.4,835.9 559.8,837.5 558.8,839.6 561.0,841.0 561.3,842.7 563.3,842.7 564.7,846.3 565.1,842.7 568.6,845.0 570.0,843.1 572.9,842.9 572.3,839.9 573.7,838.5 577.1,838.1 574.6,835.7 574.0,833.6 576.1,832.1 574.8,829.9 575.1,828.0 577.4,826.5 576.6,824.4 576.2,821.8 578.3,820.7 581.4,820.1 579.7,818.8 582.0,819.8 582.0,821.9 583.9,823.4 585.2,825.0 584.0,827.2 583.6,829.1 586.7,830.4 585.9,832.5 585.1,834.5 588.2,835.8 586.5,838.6 590.4,838.5 591.3,843.0 591.1,839.0 593.3,839.9 596.4,839.7 596.4,841.1 599.4,840.3 598.2,838.1 600.1,836.9 599.1,834.8 602.6,834.2 600.2,831.6 600.3,829.2 604.7,829.9 602.5,825.5 604.1,824.6 605.6,823.1 605.7,820.7 608.0,820.2 610.0,818.9 607.3,816.2 608.3,814.7 610.0,813.4 613.3,812.6 612.6,809.6 613.2,811.8 615.5,812.9 614.4,815.4 615.4,817.2 618.3,818.7 616.2,820.7 617.1,822.5 615.3,824.6 617.5,826.1 619.2,827.8 615.2,830.1 617.4,831.7 619.8,833.2 618.7,835.2 616.0,837.4 618.6,838.9 618.5,840.8 617.7,842.8 618.2,844.6 617.2,846.5 621.0,847.9 620.1,849.9 621.7,851.5 622.5,853.3 621.1,855.2 619.5,858.0 620.1,860.0 621.0,861.7 621.4,862.2 623.6,860.8 622.7,858.4 624.4,856.9 624.9,855.6 625.1,857.4 628.4,858.8 624.6,861.3 626.8,862.8 629.4,864.2 628.7,866.2 626.0,868.5 629.9,869.8 628.6,871.9 630.6,873.4 629.8,875.3 629.9,877.5 631.9,878.5 632.7,880.6 634.9,879.4 632.7,876.9 634.1,875.5 632.6,873.3 635.3,872.2 636.6,872.0 638.0,869.9 639.9,867.9 640.9,869.5 637.8,871.9 642.1,872.9 641.0,874.9 639.6,877.0 640.5,878.7 640.8,880.4 643.8,881.7 641.7,883.8 640.6,885.9 640.6,887.6 641.8,889.2 645.1,890.2 644.0,892.2 643.8,894.0 646.7,895.1 646.7,896.9 643.9,899.2 647.0,899.8 644.8,903.5 649.2,903.0 646.8,905.0 648.4,903.7 651.6,902.9 649.3,900.3 651.6,899.2 652.1,897.5 652.0,894.9 654.0,894.6 656.8,895.9 655.7,899.3 658.7,898.7 661.0,901.5 658.7,898.1 660.3,896.8 660.9,895.5 661.2,893.8 664.0,892.2 662.5,890.3 661.9,888.5 662.2,886.8 663.3,885.1 662.2,883.2 664.0,881.6 665.4,880.0 662.1,877.9 661.9,876.1 662.9,874.4 666.2,872.9 663.4,870.9 663.4,869.3 665.5,870.9 665.5,872.7 666.0,874.5 665.3,876.4 665.2,878.3 664.6,880.2 667.1,881.7 665.6,883.7 668.1,885.4 667.8,887.2 666.3,889.0 664.5,890.8 665.1,892.5 667.7,894.1 667.7,895.9 665.6,897.7 667.9,899.4 665.5,901.2 666.5,902.9 667.4,904.6 667.7,906.3 668.5,908.0 668.1,909.8 669.0,911.5 665.4,913.4 665.2,915.2 665.4,916.9 665.7,918.6 665.5,920.4 666.3,922.1 666.4,923.8 666.3,925.6 667.2,927.3 669.0,928.9 670.1,931.4 669.6,929.3 669.1,927.2 670.5,925.8 669.0,923.4 671.4,922.3 669.6,921.1 670.0,922.9 670.4,924.6 671.5,926.3 672.5,927.9 675.3,929.3 676.0,931.0 672.0,933.5 674.1,935.0 673.4,936.9 676.9,938.1 674.7,940.3 675.0,941.9 675.2,940.1 678.2,938.7 677.7,936.8 678.4,935.1 674.8,932.9 676.5,931.3 674.8,929.3 678.9,928.0 678.2,926.1 676.0,924.0 680.1,922.7 680.4,920.9 678.0,918.9 680.9,917.4 678.4,915.3 680.0,913.6 677.0,911.5 677.1,909.7 681.6,908.4 681.9,906.6 680.1,904.6 677.8,902.5 680.1,901.0 682.4,899.4 679.9,897.3 681.0,895.9 682.0,894.0 682.9,891.9 682.9,890.8 682.7,892.5 686.9,893.6 683.5,895.8 683.3,897.6 685.3,899.0 685.7,900.6 686.3,902.3 684.8,904.3 686.8,905.6 687.5,907.6 686.9,910.2 691.0,910.5 690.9,913.3 688.9,910.9 689.1,909.0 689.8,907.3 690.9,905.7 693.8,904.5 693.1,902.4 694.5,902.3 694.5,898.0 699.0,896.4 697.5,900.3 701.0,899.3 700.1,902.8 702.2,902.8 702.0,905.6 705.4,906.1 704.8,903.1 708.5,903.2 709.5,900.2 709.1,902.2 711.9,903.1 709.1,906.0 712.5,906.7 713.2,908.3 710.3,909.3 711.7,907.6 716.3,908.5 714.4,904.3 717.5,904.9 718.5,903.4 718.5,900.5 720.6,900.2 721.8,897.8 724.5,899.2 724.5,896.7 726.3,896.2 728.2,895.4 729.8,894.3 730.8,892.9 731.8,890.9 733.7,890.2 736.5,891.0 736.5,888.3 737.5,886.8 740.9,888.1 739.7,884.7 740.0,882.8 742.9,882.4 742.6,880.1 745.3,877.4 746.6,879.5 748.5,880.5 748.3,882.5 752.0,883.0 751.3,885.2 749.6,887.7 750.0,889.5 751.9,890.6 752.9,892.8 753.1,895.1 757.7,895.0 758.1,896.7 758.8,898.4 755.9,901.4 758.2,902.4 757.3,904.6 760.2,905.3 762.1,906.5 762.2,908.4 760.8,911.1 760.9,911.7 761.4,909.9 762.3,908.2 764.0,906.7 765.2,905.0 763.7,903.1 762.7,901.2 762.5,899.4 764.1,897.8 763.1,895.9 763.4,894.1 767.7,892.8 767.3,891.0 764.1,888.8 766.2,887.3 765.4,886.1 768.2,886.0 767.1,889.4 770.8,889.8 770.7,887.6 769.3,884.9 771.7,883.9 773.6,882.5 773.9,880.1 774.5,882.3 774.4,885.2 777.3,885.5 778.7,887.1 780.8,888.5 781.0,890.8 780.2,893.7 781.0,895.9 783.2,895.7 784.1,898.9 787.4,896.3 788.5,898.1 788.0,895.4 792.1,895.0 792.2,892.8 793.5,891.9 793.7,889.1 795.2,888.2 796.6,888.0 798.5,887.9 799.8,886.3 799.9,882.8 802.3,881.8 805.4,881.6 804.2,884.3 808.8,883.8 806.0,887.6 807.2,889.2 811.7,888.6 809.4,892.7 811.2,892.0 813.3,891.5 814.4,890.0 817.5,890.1 816.0,886.9 818.1,886.3 819.1,884.7 819.5,882.6 819.2,883.0 820.6,884.3 821.7,885.8 824.8,886.0 826.7,889.1 828.0,887.6 825.9,884.2 829.0,883.9 830.0,881.6 828.8,883.9 831.8,884.9 831.5,886.9 829.9,889.3 832.5,890.5 834.1,892.0 830.6,895.0 832.4,896.5 833.3,898.2 836.6,899.2 837.2,901.1 835.7,903.7 836.7,905.4 838.9,906.7 836.6,910.2 841.0,910.3 840.2,913.1 838.8,915.5 840.7,916.8 840.9,918.7 841.3,920.6 843.3,921.9 843.8,923.8 842.6,926.1 845.7,927.0 844.5,929.1 845.0,930.8 845.3,932.6 845.1,934.4 847.5,935.2 847.6,937.7 849.7,938.7 849.1,938.5 852.1,940.3 854.6,939.7 855.9,938.2 856.1,936.5 854.8,934.4 853.0,932.2 856.3,931.1 854.0,928.8 858.2,927.9 857.9,926.5 855.6,923.1 859.9,923.2 860.3,920.6 858.7,922.6 859.1,924.4 860.2,926.1 861.9,927.6 862.9,929.3 858.8,931.8 863.2,933.3 859.6,931.4 861.8,929.8 862.8,928.1 863.9,926.5 862.4,924.7 862.4,922.9 860.5,921.1 863.2,919.5 862.3,917.8 862.6,916.1 861.6,914.3 862.0,912.6 864.7,911.0 861.4,909.1 862.8,907.5 862.8,905.7 863.1,904.0 862.1,902.2 861.2,900.4 865.1,898.9 861.9,896.9 864.1,895.2 865.9,893.6 862.3,891.5 864.5,889.9 863.1,888.0 865.6,886.3 863.1,884.4 863.4,882.6 865.5,880.9 865.5,879.1 862.8,877.1 864.0,874.0 867.8,875.3 867.6,872.7 869.5,871.2 868.2,868.5 872.2,867.9 873.4,865.0 873.7,866.9 873.8,868.7 872.7,870.9 873.5,872.6 873.3,874.5 872.3,876.6 874.3,878.1 876.6,877.7 877.3,875.5 875.1,873.6 877.3,872.0 875.9,870.1 879.6,868.6 876.0,866.5 876.6,864.8 875.5,862.9 880.1,861.5 879.2,859.6 876.6,857.7 880.1,856.1 877.2,854.2 878.0,852.4 876.4,850.6 880.9,849.1 880.0,847.2 880.6,847.1 880.2,844.1 879.6,843.5 880.7,845.0 883.4,846.0 882.0,848.2 884.5,849.3 884.2,851.2 883.1,854.1 885.3,855.5 889.7,857.5 887.8,854.6 891.0,853.8 890.8,851.8 889.0,849.0 891.4,847.3 893.9,848.9 894.5,847.1 894.8,849.2 899.3,848.5 899.2,850.8 900.7,851.7 902.2,853.2 903.1,854.9 902.3,858.0 905.7,859.0 902.3,862.0 902.8,863.8 903.2,865.6 907.7,866.3 907.0,868.4 906.0,871.5 909.3,870.9 909.9,872.7 911.5,871.4 913.1,869.8 915.7,867.5 915.0,869.7 915.6,871.4 913.7,873.9 914.2,875.8 917.5,876.7 916.1,879.1 916.2,880.1 916.5,878.2 917.8,876.7 920.1,875.3 918.4,873.0 919.9,871.5 919.9,869.6 920.3,867.8 921.5,866.2 919.5,864.1 924.0,863.1 922.7,861.0 921.0,858.9 924.8,857.7 921.0,855.3 926.0,854.3 924.0,852.2 923.4,849.7 925.6,848.1 928.6,847.6 927.0,850.8 930.7,851.2 932.3,852.7 930.9,855.3 933.7,853.8 931.6,851.6 932.3,849.9 932.2,848.0 932.1,846.1 933.2,844.4 935.1,842.8 933.8,840.8 932.1,838.6 935.2,837.2 936.1,836.0 935.8,833.9 937.1,832.3 937.8,830.0 936.9,832.7 941.0,833.1 939.5,836.0 939.9,837.3 943.2,837.1 942.7,834.1 941.9,833.3 946.2,834.2 946.9,835.9 943.3,838.8 947.4,839.7 944.1,842.4 945.5,843.9 947.0,845.3 948.4,843.8 950.2,842.3 950.4,840.5 946.8,838.0 947.4,836.3 947.6,834.5 950.8,833.3 951.4,831.6 950.3,829.6 952.3,827.4 952.6,829.2 949.9,831.6 953.3,832.7 950.8,835.0 953.2,836.4 950.2,838.8 954.9,839.7 952.9,841.9 953.3,843.7 953.1,845.8 954.3,847.5 954.0,849.7 955.9,851.4 958.6,851.1 958.7,853.3 959.1,855.0 959.6,856.7 963.1,857.5 960.6,860.0 961.2,861.6 961.1,862.5 961.3,860.8 965.7,859.8 965.2,857.9 962.7,855.6 962.7,853.8 966.3,852.7 964.5,850.5 965.1,848.8 963.8,846.7 965.5,845.5 968.5,846.9 968.4,848.8 968.6,850.6 967.8,852.5 969.7,854.1 967.2,856.2 968.9,857.8 968.5,859.7 969.9,861.3 968.0,863.4 967.3,865.3 968.6,867.0 967.4,868.9 970.0,870.6 967.7,868.5 971.9,867.1 969.7,865.1 970.3,863.3 970.1,861.5 971.4,859.8 968.8,857.7 972.3,856.3 970.7,854.3 973.9,852.8 973.5,851.0 973.1,849.1 972.3,847.2 971.6,844.8 975.5,845.0 975.0,842.3 974.5,840.3 973.8,838.4 976.6,837.0 974.7,835.0 977.0,833.5 975.7,831.6 978.6,830.2 978.8,828.4 976.9,826.5 975.6,824.6 978.1,823.1 976.3,821.1 975.7,819.3 978.6,818.1 977.2,815.2 980.1,814.2 982.2,812.8 980.8,810.3 982.3,811.9 982.6,813.7 982.2,815.6 983.2,817.3 981.2,819.6 983.8,820.9 983.4,822.8 982.6,820.9 983.1,819.2 983.1,817.5 985.5,816.0 984.5,814.1 983.5,812.3 983.5,810.5 985.5,809.0 983.7,807.0 986.1,805.6 984.9,803.7 987.5,802.3 984.8,800.2 985.0,798.5 985.8,796.8 987.1,795.2 989.5,796.4 990.4,798.3 987.9,801.4 990.8,803.0 991.3,801.3 993.6,800.2 994.1,798.5 992.5,796.0 994.7,794.9 993.8,792.7 996.2,793.5 995.4,796.6 998.1,797.8 999.2,796.1 997.9,794.1 999.5,792.5 999.5,790.7 1001.2,789.1 999.8,787.0 999.5,785.2 999.4,783.3 1000.6,781.7 999.0,779.6 1000.8,778.0 1000.6,776.1 1000.7,774.3 1000.7,772.8 1002.7,774.0 1004.5,775.2 1003.7,777.4 1005.7,778.6 1003.5,781.1 1005.6,783.1 1006.1,781.3 1007.4,779.6 1005.8,778.0 1010.3,778.9 1007.2,781.4 1008.3,783.0 1009.4,784.6 1008.4,786.6 1009.8,788.2 1010.1,790.0 1009.1,792.0 1010.8,793.5 1010.5,795.9 1014.3,795.8 1013.7,798.4 1015.7,800.6 1015.7,798.7 1016.7,797.1 1017.5,795.6 1018.2,794.0 1017.5,791.8 1019.3,789.8 1016.9,792.7 1021.6,792.9 1019.2,795.9 1019.9,797.6 1022.9,799.3 1024.0,797.8 1023.5,795.8 1021.6,793.6 1021.2,791.7 1021.6,789.9 1024.9,788.9 1023.6,786.7 1023.3,784.8 1024.3,783.3 1025.7,781.8 1025.4,779.9 1024.6,777.8 1025.9,776.4 1027.1,775.2 1026.0,777.2 1030.3,778.1 1028.3,780.2 1027.9,782.1 1030.7,783.3 1027.6,785.6 1031.8,786.5 1031.5,788.3 1029.1,789.8 1030.9,788.3 1031.2,786.5 1029.9,784.2 1032.0,782.9 1034.1,781.5 1033.6,779.4 1031.7,777.3 1035.1,776.0 1036.6,774.4 1032.9,772.1 1033.6,770.4 1033.7,768.6 1034.7,767.0 1037.6,765.6 1037.3,763.8 1036.9,761.9 1035.9,760.4 1037.3,762.2 1037.7,764.5 1040.3,765.1 1040.0,762.9 1040.3,760.9 1041.6,759.4 1044.5,758.5 1042.6,755.6 1044.2,754.4 1046.5,753.3 1047.9,752.0 1047.6,749.9 1047.1,745.8 1049.2,745.4 1051.1,745.8 1052.6,744.2 1054.0,744.2 1057.0,744.1 1058.1,745.9 1059.9,745.6 1062.0,745.0 1062.8,749.1 1064.8,747.9 1068.3,748.3 1066.2,751.7 1069.9,751.8 1068.9,754.9 1069.3,756.9 1070.8,758.4 1074.0,758.8 1075.0,761.7 1074.0,759.1 1075.0,757.5 1074.5,755.3 1078.1,754.7 1077.7,752.6 1078.5,754.2 1080.6,754.7 1080.1,757.4 1083.1,757.0 1084.0,754.3 1086.3,754.7 1087.8,753.2 1090.6,754.7 1093.1,756.6 1093.0,752.1 1095.6,753.8 1096.7,751.3 1099.4,754.5 1100.6,751.8 1101.6,753.8 1102.6,755.0 1103.6,756.7 1105.1,757.8 1108.4,757.4 1108.7,759.6 1109.5,761.2 1109.0,763.7 1109.8,765.5 1113.8,765.0 1112.7,767.4 1112.8,765.5 1113.9,763.8 1117.5,763.2 1116.2,760.6 1115.8,759.5 1120.0,759.1 1120.5,761.1 1119.8,763.4 1121.2,761.8 1121.1,759.3 1124.5,758.7 1125.6,757.5 1126.9,755.9 1126.7,753.4 1126.0,752.8 1126.6,754.5 1128.2,755.9 1132.2,756.5 1128.9,759.7 1131.1,760.9 1133.8,762.3 1133.3,764.3 1134.5,766.0 1134.0,768.0 1134.0,770.0 1133.5,772.0 1133.5,773.9 1134.4,775.7 1134.3,777.7 1135.6,775.8 1135.7,773.6 1138.8,772.7 1137.0,771.0 1140.3,771.0 1140.0,773.8 1142.5,775.4 1142.3,773.3 1143.8,772.0 1144.3,770.3 1145.6,768.9 1142.9,766.0 1147.0,764.8 1145.3,767.0 1148.7,768.1 1147.1,770.3 1148.7,771.8 1145.6,774.3 1149.1,775.4 1149.2,777.2 1148.7,779.1 1147.3,781.2 1147.7,781.7 1151.6,781.3 1149.6,777.9 1153.7,777.7 1153.6,775.2 1155.1,773.9 1156.3,772.6 1158.3,771.4 1159.2,767.3 1161.5,768.2 1163.2,769.5 1161.9,771.5 1165.2,771.9 1165.8,770.2 1166.6,768.4 1166.7,768.7 1167.8,770.1 1170.8,770.2 1171.3,772.1 1174.1,772.3 1173.8,775.7 1176.2,775.4 1176.5,773.5 1178.1,772.5 1179.9,769.3 1180.4,771.1 1178.2,774.3 1182.1,774.5 1182.3,776.4 1181.1,779.1 1182.0,779.4 1184.7,779.0 1186.8,778.2 1187.9,776.5 1188.6,774.8 1188.8,772.1 1189.5,773.8 1191.8,774.5 1194.1,774.6 1195.8,775.5 1196.5,777.2 1198.2,778.3 1197.5,781.1 1197.0,781.8 1200.7,781.7 1198.4,778.4 1198.7,776.6 1202.2,776.2 1204.4,775.2 1202.7,772.9 1204.1,774.4 1204.1,776.5 1206.9,777.4 1205.1,780.3 1208.5,781.0 1209.2,782.8 1207.6,785.1 1209.2,783.5 1210.0,781.9 1210.2,780.2 1209.5,778.3 1210.7,776.7 1210.4,774.9 1209.4,773.0 1211.9,771.6 1208.4,769.3 1210.4,767.8 1210.0,766.0 1209.1,764.1 1210.8,762.6 1212.0,761.0 1214.1,759.5 1210.7,756.9 1213.7,756.2 1212.2,753.7 1214.4,752.6 1216.0,751.3 1213.1,748.4 1215.3,747.0 1217.2,745.4 1219.1,744.9 1221.5,743.4 1220.7,746.6 1225.1,744.9 1223.4,748.8 1227.6,748.3 1225.2,750.9 1225.5,752.5 1229.3,753.1 1226.6,755.8 1230.6,756.2 1229.0,758.6 1230.8,760.6 1231.1,758.4 1233.1,757.0 1234.2,755.2 1233.5,752.4 1235.0,750.7 1233.0,747.5 1237.1,745.7 1238.8,747.0 1238.3,749.4 1239.4,751.2 1238.3,753.0 1237.5,754.9 1240.8,756.2 1241.5,757.9 1241.5,759.6 1237.7,761.7 1240.2,763.1 1238.6,765.1 1240.3,766.6 1241.9,768.1 1238.7,770.2 1239.6,771.8 1240.8,773.4 1242.5,774.4 1243.6,776.2 1243.5,778.6 1242.7,781.3 1243.4,781.5 1246.4,781.3 1247.1,779.2 1249.5,777.4 1247.0,779.8 1250.1,780.8 1247.8,783.1 1248.8,784.6 1249.5,786.3 1253.2,787.1 1251.4,789.4 1253.5,790.6 1250.5,791.0 1253.5,791.5 1255.1,790.2 1256.2,788.8 1256.9,791.1 1260.2,791.1 1258.2,794.7 1262.1,795.1 1262.1,797.1 1263.2,798.8 1262.2,801.2 1262.7,802.4 1265.7,801.4 1265.4,799.4 1266.9,797.8 1266.2,795.7 1266.6,793.9 1266.5,791.8 1267.3,790.0 1269.4,791.1 1272.1,792.9 1272.6,791.3 1271.6,789.2 1274.7,788.2 1271.5,785.7 1271.6,783.9 1275.5,783.1 1272.9,780.7 1274.7,779.3 1273.7,776.6 1275.8,775.6 1278.0,774.6 1276.9,773.4 1279.1,774.4 1278.7,776.4 1280.1,777.8 1282.8,778.7 1282.8,780.5 1284.0,783.8 1285.5,782.3 1284.0,778.6 1287.9,776.5 1287.7,778.6 1289.3,779.9 1287.4,783.3 1288.9,784.5 1290.8,784.5 1292.8,784.4 1295.0,783.9 1294.9,783.9 1297.1,784.2 1298.9,785.2 1300.9,785.4 1299.2,786.4 1301.8,785.9 1303.1,784.4 1304.7,783.3 1304.1,780.9 1306.1,780.3 1308.6,779.7 1311.1,777.7 1311.9,776.1 1312.7,774.4 1310.4,772.3 1308.8,770.3 1311.0,768.8 1312.8,767.3 1314.1,765.7 1311.4,763.5 1314.3,762.1 1311.3,760.1 1312.7,761.8 1311.4,763.5 1311.0,765.2 1311.1,766.9 1312.2,768.6 1312.6,770.3 1313.7,772.0 1311.5,773.7 1312.4,775.4 1310.4,777.2 1313.1,778.8 1315.0,780.5 1313.5,782.2 1311.5,784.0 1311.7,785.7 1311.6,787.4 1311.1,789.1 1314.8,790.8 1313.6,792.5 1310.9,794.2 1313.3,795.9 1312.1,797.6 1314.3,799.3 1313.4,801.0 1313.6,802.7 1313.3,804.4 1311.8,806.1 1315.2,807.8 1313.8,809.5 1313.7,811.2 1313.4,812.9 1311.5,814.6 1310.8,816.3 1312.6,818.0 1312.0,819.7 1310.7,821.5 1312.8,823.1 1312.7,824.8 1313.0,826.5 1314.7,828.2 1313.7,830.0 1312.9,831.7 1313.9,833.4 1312.3,835.1 1314.7,836.8 1312.3,838.5 1312.0,840.2 1315.3,841.9 1311.7,843.6 1312.5,845.3 1311.3,847.0 1312.8,848.7 1314.4,850.5 1313.0,848.7 1313.3,847.0 1314.2,845.3 1314.1,843.6 1316.1,842.0 1314.5,840.2 1312.1,838.3 1314.5,836.8 1313.9,835.0 1314.7,833.3 1316.4,831.7 1313.9,829.9 1316.0,828.3 1316.5,826.6 1314.6,824.8 1313.5,823.0 1316.8,821.5 1313.7,819.6 1314.6,817.9 1313.3,816.1 1315.7,814.5 1316.3,812.9 1314.9,811.1 1314.7,809.4 1314.5,807.8 1314.6,809.5 1318.3,811.0 1318.0,812.8 1314.7,814.7 1314.7,816.4 1314.7,818.1 1316.6,819.8 1316.9,821.5 1316.2,823.2 1318.8,824.8 1318.0,826.6 1316.4,828.4 1317.7,830.1 1316.1,831.9 1314.8,833.7 1317.8,835.3 1316.8,837.1 1319.5,838.6 1315.5,840.6 1317.2,842.2 1319.6,843.8 1318.7,845.6 1318.9,847.3 1318.3,849.1 1317.8,850.8 1317.2,852.6 1320.3,854.2 1316.4,856.1 1316.5,857.8 1320.4,859.4 1320.1,861.1 1317.1,861.6 1318.1,859.9 1323.2,860.9 1324.4,858.1 1321.1,856.0 1324.2,854.6 1324.2,852.8 1321.2,850.7 1322.0,849.0 1322.8,847.4 1325.3,845.9 1323.1,843.9 1323.5,842.2 1326.2,840.7 1325.4,838.8 1325.7,837.1 1325.9,835.7 1327.9,834.6 1327.8,832.5 1327.1,830.4 1327.1,832.1 1328.3,833.7 1326.9,835.7 1327.4,837.4 1327.2,839.2 1330.7,840.2 1328.8,842.3 1331.8,843.4 1332.1,845.2 1333.3,846.9 1331.8,848.8 1331.5,850.6 1330.6,852.5 1334.3,853.8 1334.0,855.6 1332.3,857.6 1330.8,859.6 1332.8,861.1 1331.1,863.1 1333.3,864.5 1335.5,866.0 1335.3,867.8 1333.6,869.9 1334.3,871.6 1332.8,873.7 1333.2,875.5 1335.0,877.1 1333.0,879.2 1337.8,880.4 1334.6,882.7 1337.2,884.2 1335.7,886.2 1336.2,888.0 1337.4,889.7 1335.4,892.0 1339.7,893.0 1336.6,895.4 1337.0,897.2 1338.6,898.8 1338.3,900.5 1339.4,898.9 1339.5,897.1 1341.8,895.7 1340.7,893.8 1340.8,892.0 1339.8,890.1 1340.3,888.4 1341.9,886.8 1340.2,884.9 1342.3,883.4 1341.6,881.5 1339.5,879.4 1343.0,877.9 1342.6,879.7 1340.5,881.7 1344.2,883.1 1344.7,884.8 1343.4,886.7 1341.2,888.8 1345.7,890.0 1342.5,892.2 1346.1,893.5 1342.8,895.7 1346.0,897.1 1344.7,899.0 1346.6,900.6 1345.5,902.5 1344.8,904.2 1346.6,902.8 1346.5,901.0 1346.5,899.2 1348.3,897.8 1347.3,895.8 1348.0,894.2 1345.1,892.0 1347.7,890.7 1346.8,888.7 1346.4,886.9 1348.3,885.5 1350.3,883.9 1350.8,882.3 1349.1,880.3 1350.9,878.8 1350.1,876.9 1349.3,875.1 1350.8,873.5 1350.8,871.8 1352.1,870.2 1348.4,868.0 1349.8,866.4 1350.8,864.8 1351.3,863.1 1352.5,861.5 1352.9,859.8 1350.3,857.6 1351.6,856.0 1352.6,854.4 1354.7,853.0 1352.3,850.4 1355.1,849.3 1353.8,846.9 1354.9,845.5 1357.3,847.0 1356.9,849.0 1354.1,851.4 1357.8,852.7 1358.2,854.5 1358.3,856.5 1355.6,858.8 1356.7,860.2 1358.7,858.7 1360.4,857.1 1360.4,855.3 1361.1,853.5 1361.2,851.6 1357.5,849.1 1360.0,847.6 1361.3,846.0 1360.4,843.9 1362.2,842.4 1362.7,840.0 1363.7,841.5 1362.9,843.7 1361.9,846.0 1363.7,847.2 1363.5,849.2 1363.6,849.9 1366.8,848.9 1366.6,846.9 1366.0,844.8 1368.4,843.5 1365.9,840.8 1367.8,839.4 1367.5,837.6 1371.4,836.3 1368.4,834.0 1369.6,832.3 1369.9,830.5 1367.8,828.4 1370.2,826.9 1372.1,825.3 1368.6,823.0 1370.3,821.3 1372.6,819.8 1369.8,817.5 1374.1,816.4 1372.4,814.2 1374.6,812.7 1371.5,810.4 1375.3,809.2 1371.0,806.6 1374.9,804.9 1374.1,806.9 1376.4,808.1 1373.3,810.6 1373.3,812.4 1377.5,813.2 1377.1,815.5 1376.5,813.5 1374.9,811.3 1379.0,810.2 1377.4,808.1 1376.1,806.0 1379.1,804.7 1378.9,802.4 1378.4,805.8 1381.8,805.2 1380.5,803.3 1383.5,801.9 1384.4,800.2 1382.0,798.1 1384.2,796.6 1385.4,795.0 1383.2,792.9 1385.7,791.5 1384.7,789.6 1384.0,787.8 1383.4,790.4 1385.6,791.7 1385.8,793.9 1387.8,795.2 1387.0,793.1 1386.4,791.1 1390.5,790.1 1390.1,788.2 1392.0,786.7 1392.2,784.8 1392.8,782.2 1389.2,784.6 1389.2,786.4 1392.2,787.5 1391.6,789.4 1392.8,790.9 1391.7,792.8 1391.7,794.6 1391.0,796.5 1392.6,797.9 1394.0,799.5 1394.8,801.2 1395.6,802.9 1397.3,804.4 1396.4,806.5 1395.3,808.6 1394.9,810.7 1395.9,812.3 1395.6,814.2 1399.2,814.9 1398.0,817.1 1400.6,818.2 1399.1,820.4 1401.1,821.7 1401.4,823.4 1400.5,825.4 1403.3,826.5 1402.5,828.4 1402.4,830.2 1400.6,832.3 1401.1,834.0 1402.7,835.4 1403.9,837.0 1404.4,839.0 1404.9,841.0 1403.1,842.5 1405.1,841.1 1407.8,839.8 1405.6,837.8 1408.8,836.6 1405.7,834.3 1405.5,832.6 1407.4,831.2 1409.4,829.8 1408.9,827.6 1408.9,829.3 1406.6,831.6 1410.1,832.6 1410.8,834.2 1408.5,836.5 1408.3,838.2 1410.4,839.6 1409.3,841.6 1411.0,842.9 1413.7,841.7 1409.7,839.1 1414.5,838.3 1411.9,836.1 1411.0,834.2 1412.4,832.7 1413.6,831.2 1414.3,829.6 1412.6,828.3 1416.3,829.0 1415.1,831.1 1414.8,833.1 1414.8,834.9 1416.4,836.2 1418.0,838.0 1416.9,835.8 1419.5,834.6 1419.1,832.6 1419.3,830.7 1419.4,828.8 1418.9,826.8 1419.9,825.7 1422.7,826.1 1420.8,829.4 1421.7,831.0 1425.9,832.5 1423.9,829.5 1424.2,827.7 1426.0,826.6 1428.1,824.9 1428.6,826.9 1426.8,829.9 1427.7,831.8 1430.8,833.0 1430.4,830.1 1432.1,828.9 1434.7,827.6 1435.0,829.7 1437.3,831.0 1436.3,833.4 1436.1,835.5 1437.7,837.1 1439.1,838.0 1441.0,840.1 1441,842" fill="none" stroke="#a80420" stroke-width="2.4" stroke-linejoin="round"/>
<polyline points="27.6,960.2 37.6,954.0 47.7,959.0 62.7,961.5 70.3,957.7 92.8,964.0 105.4,971.5 117.9,980.3 130.5,984.1 138.0,989.1 145.5,982.8 155.6,967.8 165.6,948.9 175.7,928.9 185.7,911.3 195.7,898.2 208.3,890.7 220.8,883.1 230.9,873.1 240.9,871.8 250.9,878.1 258.5,890.7 266.0,903.2 276.0,909.5 286.1,915.8 296.1,923.3 306.1,923.3 316.2,920.8 326.2,922.0 336.3,923.3 346.3,922.0 358.8,919.5 371.4,918.3 381.4,913.2 391.5,907.0 401.5,902.0 411.5,904.5 421.6,902.0 431.6,895.7 441.7,890.7 451.7,889.4 464.2,883.1 480.1,870.6 492.5,861.7 505.1,859.2 517.6,857.9 530.2,854.2 542.7,850.4 555.3,846.6 567.8,842.9 580.4,836.6 590.4,837.8 600.5,836.6 610.5,830.3 620.5,831.6 630.6,844.1 640.6,857.9 650.6,870.5 660.7,878.0 670.7,891.8 680.8,899.3 693.3,900.6 705.8,903.1 718.4,904.3 730.9,901.8 743.5,895.6 756.0,894.3 768.6,895.6 781.1,893.1 793.7,890.5 806.2,889.3 818.8,888.0 831.3,888.0 841.4,895.6 848.9,904.3 856.4,911.9 863.9,910.6 871.5,903.1 881.5,890.5 891.5,875.5 901.6,868.0 911.6,870.5 921.7,869.2 931.7,862.9 941.7,856.7 951.8,849.1 960.1,850.4 970.0,847.9 980.1,842.9 990.1,830.3 1000.2,815.3 1010.2,805.2 1022.7,799.0 1035.3,791.4 1045.3,782.6 1055.4,767.6 1065.4,758.8 1075.4,757.5 1085.5,756.3 1100.5,756.3 1115.6,757.5 1130.6,758.8 1140.7,763.8 1150.7,767.6 1165.8,770.1 1180.8,771.3 1195.9,773.9 1210.9,775.1 1221.0,770.1 1231.0,763.8 1238.5,762.6 1246.1,767.6 1256.1,776.4 1266.1,782.6 1276.2,783.9 1286.2,782.6 1298.8,782.6 1311.3,783.9 1318.8,795.2 1326.4,810.2 1336.4,827.8 1343.9,842.9 1350.2,855.4 1356.5,856.7 1366.5,854.2 1376.6,844.1 1386.6,825.3 1394.1,820.3 1401.7,827.8 1411.7,830.3 1424.2,827.8 1436.8,831.6" fill="none" stroke="#4b3fe6" stroke-width="4.4" stroke-dasharray="16 8" stroke-linejoin="round"/>
<polyline points="87.8,960.2 100.4,965.2 112.9,972.8 125.5,976.5 133.0,981.6 140.5,985.3 150.6,975.3 160.6,962.7 170.6,945.2 180.7,932.6 190.7,917.6 200.8,908.2 213.3,900.7 223.3,888.1 233.4,880.6 243.4,880.6 253.5,885.6 263.5,895.7 273.5,904.5 283.6,908.2 293.6,915.8 303.6,918.3 313.7,919.5 326.2,920.8 338.8,922.0 351.3,919.5 363.9,918.3 376.4,915.8 386.4,912.0 396.5,908.2 406.5,907.0 416.6,908.2 426.6,903.2 436.6,896.9 446.7,894.4 459.2,891.9 471.8,883.1 480.1,875.6 492.5,868.0 505.1,864.2 517.6,861.7 530.2,857.9 542.7,855.4 555.3,851.6 567.8,847.9 580.4,844.1 592.9,841.6 605.5,836.6 615.5,834.1 625.5,839.1 635.6,846.6 645.6,855.4 655.7,868.0 665.7,876.7 675.7,888.0 685.8,893.1 695.8,896.8 705.8,901.8 718.4,901.8 730.9,899.3 743.5,894.3 756.0,895.6 768.6,894.3 781.1,894.3 793.7,891.8 806.2,889.3 818.8,888.0 831.3,888.0 841.4,893.1 851.4,901.8 861.4,908.1 871.5,905.6 881.5,895.6 891.5,881.8 901.6,874.2 911.6,873.0 921.7,871.7 931.7,866.7 941.7,861.7 951.8,855.4 960.1,855.4 987.6,841.6 997.6,830.3 1010.2,817.8 1022.7,807.7 1035.3,800.2 1047.8,786.4 1060.4,773.9 1072.9,765.1 1085.5,761.3 1100.5,758.8 1115.6,758.8 1130.6,760.1 1145.7,762.6 1160.8,767.6 1175.8,770.1 1190.9,771.3 1205.9,773.9 1218.5,771.3 1231.0,766.3 1241.1,765.1 1251.1,768.8 1261.1,776.4 1273.7,781.4 1286.2,782.6 1298.8,782.6 1311.3,782.6 1318.8,790.2 1326.4,802.7 1333.9,814.0 1341.4,827.8 1349.0,840.4 1356.5,842.9 1366.5,844.1 1376.6,839.1 1386.6,829.1 1396.6,822.8 1406.7,825.3 1419.2,826.6 1431.8,829.1 1440.1,831.6" fill="none" stroke="#a40808" stroke-width="4.6" stroke-dasharray="7 6" stroke-linejoin="round"/>
<line x1="4.5" y1="818.5" x2="1801.5" y2="818.5" stroke="#fb0a0a" stroke-width="4.8" />
<path d="M5.0 929.8 h4 v6 h2.8 l-4.8 6 l-4.8 -6 h2.8 Z" fill="#ffa31a" stroke="#d87c10" stroke-width="0.8"/>
<path d="M49.4 949.9 h4 v6 h2.8 l-4.8 6 l-4.8 -6 h2.8 Z" fill="#ffa31a" stroke="#d87c10" stroke-width="0.8"/>
<path d="M198.3 864.1 h4 v6 h2.8 l-4.8 6 l-4.8 -6 h2.8 Z" fill="#ffa31a" stroke="#d87c10" stroke-width="0.8"/>
<path d="M208.3 855.8 h4 v6 h2.8 l-4.8 6 l-4.8 -6 h2.8 Z" fill="#ffa31a" stroke="#d87c10" stroke-width="0.8"/>
<path d="M309.2 896.0 h4 v6 h2.8 l-4.8 6 l-4.8 -6 h2.8 Z" fill="#ffa31a" stroke="#d87c10" stroke-width="0.8"/>
<path d="M334.3 902.7 h4 v6 h2.8 l-4.8 6 l-4.8 -6 h2.8 Z" fill="#ffa31a" stroke="#d87c10" stroke-width="0.8"/>
<path d="M385.2 876.4 h4 v6 h2.8 l-4.8 6 l-4.8 -6 h2.8 Z" fill="#ffa31a" stroke="#d87c10" stroke-width="0.8"/>
<path d="M393.7 876.4 h4 v6 h2.8 l-4.8 6 l-4.8 -6 h2.8 Z" fill="#ffa31a" stroke="#d87c10" stroke-width="0.8"/>
<path d="M440.2 862.8 h4 v6 h2.8 l-4.8 6 l-4.8 -6 h2.8 Z" fill="#ffa31a" stroke="#d87c10" stroke-width="0.8"/>
<path d="M450.4 872.1 h4 v6 h2.8 l-4.8 6 l-4.8 -6 h2.8 Z" fill="#ffa31a" stroke="#d87c10" stroke-width="0.8"/>
<path d="M496.1 841.9 h4 v6 h2.8 l-4.8 6 l-4.8 -6 h2.8 Z" fill="#ffa31a" stroke="#d87c10" stroke-width="0.8"/>
<path d="M548.3 821.8 h4 v6 h2.8 l-4.8 6 l-4.8 -6 h2.8 Z" fill="#ffa31a" stroke="#d87c10" stroke-width="0.8"/>
<path d="M564.1 825.6 h4 v6 h2.8 l-4.8 6 l-4.8 -6 h2.8 Z" fill="#ffa31a" stroke="#d87c10" stroke-width="0.8"/>
<path d="M577.6 800.5 h4 v6 h2.8 l-4.8 6 l-4.8 -6 h2.8 Z" fill="#ffa31a" stroke="#d87c10" stroke-width="0.8"/>
<path d="M608.5 796.2 h4 v6 h2.8 l-4.8 6 l-4.8 -6 h2.8 Z" fill="#ffa31a" stroke="#d87c10" stroke-width="0.8"/>
<path d="M702.1 884.5 h4 v6 h2.8 l-4.8 6 l-4.8 -6 h2.8 Z" fill="#ffa31a" stroke="#d87c10" stroke-width="0.8"/>
<path d="M710.1 892.6 h4 v6 h2.8 l-4.8 6 l-4.8 -6 h2.8 Z" fill="#ffa31a" stroke="#d87c10" stroke-width="0.8"/>
<path d="M790.4 869.0 h4 v6 h2.8 l-4.8 6 l-4.8 -6 h2.8 Z" fill="#ffa31a" stroke="#d87c10" stroke-width="0.8"/>
<path d="M855.2 899.6 h4 v6 h2.8 l-4.8 6 l-4.8 -6 h2.8 Z" fill="#ffa31a" stroke="#d87c10" stroke-width="0.8"/>
<path d="M913.4 849.4 h4 v6 h2.8 l-4.8 6 l-4.8 -6 h2.8 Z" fill="#ffa31a" stroke="#d87c10" stroke-width="0.8"/>
<path d="M946.5 820.6 h4 v6 h2.8 l-4.8 6 l-4.8 -6 h2.8 Z" fill="#ffa31a" stroke="#d87c10" stroke-width="0.8"/>
<path d="M992.4 780.4 h4 v6 h2.8 l-4.8 6 l-4.8 -6 h2.8 Z" fill="#ffa31a" stroke="#d87c10" stroke-width="0.8"/>
<path d="M1256.1 770.4 h4 v6 h2.8 l-4.8 6 l-4.8 -6 h2.8 Z" fill="#ffa31a" stroke="#d87c10" stroke-width="0.8"/>
<path d="M1305.6 760.3 h4 v6 h2.8 l-4.8 6 l-4.8 -6 h2.8 Z" fill="#ffa31a" stroke="#d87c10" stroke-width="0.8"/>
<path d="M40.2 968.2 h4 v-6 h2.8 l-4.8 -6 l-4.8 6 h2.8 Z" fill="#78a0f0" stroke="#4a6cc8" stroke-width="0.8"/>
<path d="M79.6 983.2 h4 v-6 h2.8 l-4.8 -6 l-4.8 6 h2.8 Z" fill="#78a0f0" stroke="#4a6cc8" stroke-width="0.8"/>
<path d="M203.8 914.2 h4 v-6 h2.8 l-4.8 -6 l-4.8 6 h2.8 Z" fill="#78a0f0" stroke="#4a6cc8" stroke-width="0.8"/>
<path d="M253.5 933.8 h4 v-6 h2.8 l-4.8 -6 l-4.8 6 h2.8 Z" fill="#78a0f0" stroke="#4a6cc8" stroke-width="0.8"/>
<path d="M314.2 939.3 h4 v-6 h2.8 l-4.8 -6 l-4.8 6 h2.8 Z" fill="#78a0f0" stroke="#4a6cc8" stroke-width="0.8"/>
<path d="M389.5 936.8 h4 v-6 h2.8 l-4.8 -6 l-4.8 6 h2.8 Z" fill="#78a0f0" stroke="#4a6cc8" stroke-width="0.8"/>
<path d="M431.4 902.9 h4 v-6 h2.8 l-4.8 -6 l-4.8 6 h2.8 Z" fill="#78a0f0" stroke="#4a6cc8" stroke-width="0.8"/>
<path d="M447.7 910.5 h4 v-6 h2.8 l-4.8 -6 l-4.8 6 h2.8 Z" fill="#78a0f0" stroke="#4a6cc8" stroke-width="0.8"/>
<path d="M535.7 873.5 h4 v-6 h2.8 l-4.8 -6 l-4.8 6 h2.8 Z" fill="#78a0f0" stroke="#4a6cc8" stroke-width="0.8"/>
<path d="M558.3 866.4 h4 v-6 h2.8 l-4.8 -6 l-4.8 6 h2.8 Z" fill="#78a0f0" stroke="#4a6cc8" stroke-width="0.8"/>
<path d="M573.4 861.4 h4 v-6 h2.8 l-4.8 -6 l-4.8 6 h2.8 Z" fill="#78a0f0" stroke="#4a6cc8" stroke-width="0.8"/>
<path d="M585.4 853.9 h4 v-6 h2.8 l-4.8 -6 l-4.8 6 h2.8 Z" fill="#78a0f0" stroke="#4a6cc8" stroke-width="0.8"/>
<path d="M699.3 920.4 h4 v-6 h2.8 l-4.8 -6 l-4.8 6 h2.8 Z" fill="#78a0f0" stroke="#4a6cc8" stroke-width="0.8"/>
<path d="M707.6 926.2 h4 v-6 h2.8 l-4.8 -6 l-4.8 6 h2.8 Z" fill="#78a0f0" stroke="#4a6cc8" stroke-width="0.8"/>
<path d="M784.1 917.9 h4 v-6 h2.8 l-4.8 -6 l-4.8 6 h2.8 Z" fill="#78a0f0" stroke="#4a6cc8" stroke-width="0.8"/>
<path d="M809.7 910.8 h4 v-6 h2.8 l-4.8 -6 l-4.8 6 h2.8 Z" fill="#78a0f0" stroke="#4a6cc8" stroke-width="0.8"/>
<path d="M874.5 897.3 h4 v-6 h2.8 l-4.8 -6 l-4.8 6 h2.8 Z" fill="#78a0f0" stroke="#4a6cc8" stroke-width="0.8"/>
<path d="M943.5 870.2 h4 v-6 h2.8 l-4.8 -6 l-4.8 6 h2.8 Z" fill="#78a0f0" stroke="#4a6cc8" stroke-width="0.8"/>
<path d="M1011.5 818.8 h4 v-6 h2.8 l-4.8 -6 l-4.8 6 h2.8 Z" fill="#78a0f0" stroke="#4a6cc8" stroke-width="0.8"/>
<path d="M1065.4 772.3 h4 v-6 h2.8 l-4.8 -6 l-4.8 6 h2.8 Z" fill="#78a0f0" stroke="#4a6cc8" stroke-width="0.8"/>
<path d="M1120.6 782.4 h4 v-6 h2.8 l-4.8 -6 l-4.8 6 h2.8 Z" fill="#78a0f0" stroke="#4a6cc8" stroke-width="0.8"/>
<path d="M1280.5 797.4 h4 v-6 h2.8 l-4.8 -6 l-4.8 6 h2.8 Z" fill="#78a0f0" stroke="#4a6cc8" stroke-width="0.8"/>
<path d="M1420.5 852.6 h4 v-6 h2.8 l-4.8 -6 l-4.8 6 h2.8 Z" fill="#78a0f0" stroke="#4a6cc8" stroke-width="0.8"/>
<path d="M72.0 968.9000000000001 L78.6 975.5 M78.6 968.9000000000001 L72.0 975.5" stroke="#5078d0" stroke-width="4.4" stroke-linecap="square"/><path d="M72.0 968.9000000000001 L78.6 975.5 M78.6 968.9000000000001 L72.0 975.5" stroke="#6f9af0" stroke-width="3" stroke-linecap="square"/>
<path d="M239.6 899.9000000000001 L246.20000000000002 906.5 M246.20000000000002 899.9000000000001 L239.6 906.5" stroke="#5078d0" stroke-width="4.4" stroke-linecap="square"/><path d="M239.6 899.9000000000001 L246.20000000000002 906.5 M246.20000000000002 899.9000000000001 L239.6 906.5" stroke="#6f9af0" stroke-width="3" stroke-linecap="square"/>
<path d="M367.09999999999997 921.2 L373.7 927.8 M373.7 921.2 L367.09999999999997 927.8" stroke="#5078d0" stroke-width="4.4" stroke-linecap="square"/><path d="M367.09999999999997 921.2 L373.7 927.8 M373.7 921.2 L367.09999999999997 927.8" stroke="#6f9af0" stroke-width="3" stroke-linecap="square"/>
<path d="M428.8 883.6 L435.40000000000003 890.1999999999999 M435.40000000000003 883.6 L428.8 890.1999999999999" stroke="#5078d0" stroke-width="4.4" stroke-linecap="square"/><path d="M428.8 883.6 L435.40000000000003 890.1999999999999 M435.40000000000003 883.6 L428.8 890.1999999999999" stroke="#6f9af0" stroke-width="3" stroke-linecap="square"/>
<path d="M471.7 859.3000000000001 L478.3 865.9 M478.3 859.3000000000001 L471.7 865.9" stroke="#5078d0" stroke-width="4.4" stroke-linecap="square"/><path d="M471.7 859.3000000000001 L478.3 865.9 M478.3 859.3000000000001 L471.7 865.9" stroke="#6f9af0" stroke-width="3" stroke-linecap="square"/>
<path d="M590.9000000000001 825.3000000000001 L597.5 831.9 M597.5 825.3000000000001 L590.9000000000001 831.9" stroke="#d88410" stroke-width="4.4" stroke-linecap="square"/><path d="M590.9000000000001 825.3000000000001 L597.5 831.9 M597.5 825.3000000000001 L590.9000000000001 831.9" stroke="#ffa31a" stroke-width="3" stroke-linecap="square"/>
<path d="M987.1 801.7 L993.1 807.7 L987.1 813.7 L981.1 807.7 Z" fill="#8ea0e8" stroke="#6a7cd0" stroke-width="0.8"/>
<rect x="1332" y="910.6" width="12.7" height="6.3" fill="#7a9cf0" stroke="#4a5cc8" stroke-width="1" />
</g>
<g clip-path="url(#cPrice)">
<svg x="231.4" y="716.7" width="51.8" height="37"><rect x="0.5" y="0.5" width="50.8" height="43" rx="2.4" fill="#f6caa8" stroke="#f4bc92" stroke-width="1"/><text x="48.599999999999994" y="26.4" text-anchor="end" font-size="23" fill="#0a0404" stroke="#0a0404" stroke-width="0.7" textLength="135.5" lengthAdjust="spacingAndGlyphs">4@12,405.5</text></svg>
<svg x="283.2" y="716.7" width="100.4" height="37"><rect x="0.5" y="0.5" width="99.4" height="43" rx="2.4" fill="#f6caa8" stroke="#f4bc92" stroke-width="1"/><text x="97.2" y="26.4" text-anchor="end" font-size="23" fill="#0a0404" stroke="#0a0404" stroke-width="0.7" textLength="135.5" lengthAdjust="spacingAndGlyphs">2@12,395.1</text></svg>
<svg x="383.6" y="716.7" width="25.3" height="37"><rect x="0.5" y="0.5" width="24.3" height="43" rx="2.4" fill="#f6caa8" stroke="#f4bc92" stroke-width="1"/><text x="22.1" y="26.4" text-anchor="end" font-size="23" fill="#0a0404" stroke="#0a0404" stroke-width="0.7" textLength="135.5" lengthAdjust="spacingAndGlyphs">2@12,417.3</text></svg>
<svg x="408.9" y="716.7" width="50.7" height="37"><rect x="0.5" y="0.5" width="49.7" height="43" rx="2.4" fill="#f6caa8" stroke="#f4bc92" stroke-width="1"/><text x="47.5" y="26.4" text-anchor="end" font-size="23" fill="#0a0404" stroke="#0a0404" stroke-width="0.7" textLength="135.5" lengthAdjust="spacingAndGlyphs">2@12,413.2</text></svg>
<svg x="459.6" y="716.7" width="7.6" height="37"><rect x="0.5" y="0.5" width="6.6" height="43" rx="2.4" fill="#f6caa8" stroke="#f4bc92" stroke-width="1"/><text x="4.3999999999999995" y="26.4" text-anchor="end" font-size="23" fill="#0a0404" stroke="#0a0404" stroke-width="0.7" textLength="135.5" lengthAdjust="spacingAndGlyphs">2@12,418.1</text></svg>
<svg x="467.2" y="716.7" width="47.6" height="37"><rect x="0.5" y="0.5" width="46.6" height="43" rx="2.4" fill="#f6caa8" stroke="#f4bc92" stroke-width="1"/><text x="44.4" y="26.4" text-anchor="end" font-size="23" fill="#0a0404" stroke="#0a0404" stroke-width="0.7" textLength="135.5" lengthAdjust="spacingAndGlyphs">2@12,416.7</text></svg>
<svg x="514.8" y="716.7" width="10.1" height="37"><rect x="0.5" y="0.5" width="9.1" height="43" rx="2.4" fill="#f6caa8" stroke="#f4bc92" stroke-width="1"/><text x="6.8999999999999995" y="26.4" text-anchor="end" font-size="23" fill="#0a0404" stroke="#0a0404" stroke-width="0.7" textLength="135.5" lengthAdjust="spacingAndGlyphs">2@12,411.1</text></svg>
<svg x="524.9" y="716.7" width="45.1" height="37"><rect x="0.5" y="0.5" width="44.1" height="43" rx="2.4" fill="#f6caa8" stroke="#f4bc92" stroke-width="1"/><text x="41.9" y="26.4" text-anchor="end" font-size="23" fill="#0a0404" stroke="#0a0404" stroke-width="0.7" textLength="135.5" lengthAdjust="spacingAndGlyphs">2@12,402.4</text></svg>
<svg x="570" y="716.7" width="52.7" height="37"><rect x="0.5" y="0.5" width="51.7" height="43" rx="2.4" fill="#f6caa8" stroke="#f4bc92" stroke-width="1"/><text x="49.5" y="26.4" text-anchor="end" font-size="23" fill="#0a0404" stroke="#0a0404" stroke-width="0.7" textLength="135.5" lengthAdjust="spacingAndGlyphs">2@12,439.5</text></svg>
<svg x="622.7" y="716.7" width="15.8" height="37"><rect x="0.5" y="0.5" width="14.8" height="43" rx="2.4" fill="#f6caa8" stroke="#f4bc92" stroke-width="1"/><text x="12.600000000000001" y="26.4" text-anchor="end" font-size="23" fill="#0a0404" stroke="#0a0404" stroke-width="0.7" textLength="135.5" lengthAdjust="spacingAndGlyphs">2@12,440.0</text></svg>
<svg x="638.5" y="716.7" width="13.1" height="37"><rect x="0.5" y="0.5" width="12.1" height="43" rx="2.4" fill="#f6caa8" stroke="#f4bc92" stroke-width="1"/><text x="9.899999999999999" y="26.4" text-anchor="end" font-size="23" fill="#0a0404" stroke="#0a0404" stroke-width="0.7" textLength="135.5" lengthAdjust="spacingAndGlyphs">2@12,437.7</text></svg>
<svg x="651.6" y="716.7" width="15.4" height="37"><rect x="0.5" y="0.5" width="14.4" height="43" rx="2.4" fill="#f6caa8" stroke="#f4bc92" stroke-width="1"/><text x="12.2" y="26.4" text-anchor="end" font-size="23" fill="#0a0404" stroke="#0a0404" stroke-width="0.7" textLength="135.5" lengthAdjust="spacingAndGlyphs">2@12,436.3</text></svg>
<svg x="667" y="716.7" width="16" height="37"><rect x="0.5" y="0.5" width="15" height="43" rx="2.4" fill="#f6caa8" stroke="#f4bc92" stroke-width="1"/><text x="12.8" y="26.4" text-anchor="end" font-size="23" fill="#0a0404" stroke="#0a0404" stroke-width="0.7" textLength="135.5" lengthAdjust="spacingAndGlyphs">2@12,431.6</text></svg>
<svg x="683" y="716.7" width="93.5" height="37"><rect x="0.5" y="0.5" width="92.5" height="43" rx="2.4" fill="#f6caa8" stroke="#f4bc92" stroke-width="1"/><text x="90.3" y="26.4" text-anchor="end" font-size="23" fill="#0a0404" stroke="#0a0404" stroke-width="0.7" textLength="135.5" lengthAdjust="spacingAndGlyphs">2@12,412.9</text></svg>
<svg x="776.5" y="716.7" width="7.5" height="37"><rect x="0.5" y="0.5" width="6.5" height="43" rx="2.4" fill="#f6caa8" stroke="#f4bc92" stroke-width="1"/><text x="4.3" y="26.4" text-anchor="end" font-size="23" fill="#0a0404" stroke="#0a0404" stroke-width="0.7" textLength="135.5" lengthAdjust="spacingAndGlyphs">2@12,418.1</text></svg>
<svg x="784" y="716.7" width="80.4" height="37"><rect x="0.5" y="0.5" width="79.4" height="43" rx="2.4" fill="#f6caa8" stroke="#f4bc92" stroke-width="1"/><text x="77.2" y="26.4" text-anchor="end" font-size="23" fill="#0a0404" stroke="#0a0404" stroke-width="0.7" textLength="135.5" lengthAdjust="spacingAndGlyphs">2@12,422.6</text></svg>
<svg x="864.4" y="716.7" width="65.2" height="37"><rect x="0.5" y="0.5" width="64.2" height="43" rx="2.4" fill="#f6caa8" stroke="#f4bc92" stroke-width="1"/><text x="62.0" y="26.4" text-anchor="end" font-size="23" fill="#0a0404" stroke="#0a0404" stroke-width="0.7" textLength="135.5" lengthAdjust="spacingAndGlyphs">2@12,401.7</text></svg>
<svg x="929.6" y="716.7" width="57.7" height="37"><rect x="0.5" y="0.5" width="56.7" height="43" rx="2.4" fill="#f6caa8" stroke="#f4bc92" stroke-width="1"/><text x="54.5" y="26.4" text-anchor="end" font-size="23" fill="#0a0404" stroke="#0a0404" stroke-width="0.7" textLength="135.5" lengthAdjust="spacingAndGlyphs">2@12,435.5</text></svg>
<svg x="987.3" y="716.7" width="32.7" height="37"><rect x="0.5" y="0.5" width="31.700000000000003" height="43" rx="2.4" fill="#f6caa8" stroke="#f4bc92" stroke-width="1"/><text x="29.500000000000004" y="26.4" text-anchor="end" font-size="23" fill="#0a0404" stroke="#0a0404" stroke-width="0.7" textLength="135.5" lengthAdjust="spacingAndGlyphs">2@12,442.8</text></svg>
<svg x="1020" y="716.7" width="46.4" height="37"><rect x="0.5" y="0.5" width="45.4" height="43" rx="2.4" fill="#f6caa8" stroke="#f4bc92" stroke-width="1"/><text x="43.199999999999996" y="26.4" text-anchor="end" font-size="23" fill="#0a0404" stroke="#0a0404" stroke-width="0.7" textLength="135.5" lengthAdjust="spacingAndGlyphs">2@12,479.9</text></svg>
<svg x="1066.4" y="716.7" width="51.4" height="37"><rect x="0.5" y="0.5" width="50.4" height="43" rx="2.4" fill="#f6caa8" stroke="#f4bc92" stroke-width="1"/><text x="48.199999999999996" y="26.4" text-anchor="end" font-size="23" fill="#0a0404" stroke="#0a0404" stroke-width="0.7" textLength="135.5" lengthAdjust="spacingAndGlyphs">2@12,514.9</text></svg>
<svg x="1117.8" y="716.7" width="30.2" height="37"><rect x="0.5" y="0.5" width="29.2" height="43" rx="2.4" fill="#f6caa8" stroke="#f4bc92" stroke-width="1"/><text x="27.0" y="26.4" text-anchor="end" font-size="23" fill="#0a0404" stroke="#0a0404" stroke-width="0.7" textLength="135.5" lengthAdjust="spacingAndGlyphs">2@12,508.4</text></svg>
<text x="233.4" y="743.65" font-size="22.8" fill="#0a0404" stroke="#0a0404" stroke-width="0.85" textLength="384" lengthAdjust="spacingAndGlyphs" >Day High: 12,513.7  Low: 12,409.5</text>
<svg x="1186.4" y="716.7" width="144.2" height="37"><rect x="0.5" y="0.5" width="143.2" height="43" rx="2.4" fill="#f6caa8" stroke="#f4bc92" stroke-width="1"/><text x="140.2" y="26.4" text-anchor="end" font-size="23" fill="#0a0404" stroke="#0a0404" stroke-width="0.7" textLength="135.5" lengthAdjust="spacingAndGlyphs">2@12,486.5</text></svg>
<svg x="1330.6" y="716.7" width="49.0" height="37"><rect x="0.5" y="0.5" width="48.0" height="43" rx="2.4" fill="#f6caa8" stroke="#f4bc92" stroke-width="1"/><text x="45.8" y="26.4" text-anchor="end" font-size="23" fill="#0a0404" stroke="#0a0404" stroke-width="0.7" textLength="135.5" lengthAdjust="spacingAndGlyphs">2@12,493.7</text></svg>
<svg x="4.5" y="1000.2" width="109.7" height="37.4"><rect x="0.5" y="0.5" width="108.7" height="43.4" rx="2.4" fill="#cadbfb" stroke="#78a4f2" stroke-width="1"/><text x="106.3" y="27.5" text-anchor="end" font-size="23" fill="#0a0404" stroke="#0a0404" stroke-width="0.7" textLength="135.5" lengthAdjust="spacingAndGlyphs">2@12,381.4</text></svg>
<svg x="114.2" y="1000.2" width="33.4" height="37.4"><rect x="0.5" y="0.5" width="32.4" height="43.4" rx="2.4" fill="#cadbfb" stroke="#78a4f2" stroke-width="1"/><text x="30.0" y="27.5" text-anchor="end" font-size="23" fill="#0a0404" stroke="#0a0404" stroke-width="0.7" textLength="135.5" lengthAdjust="spacingAndGlyphs">2@12,384.5</text></svg>
<svg x="147.6" y="1000.2" width="5.5" height="37.4"><rect x="0.5" y="0.5" width="4.5" height="43.4" rx="2.4" fill="#cadbfb" stroke="#78a4f2" stroke-width="1"/><text x="2.1" y="27.5" text-anchor="end" font-size="23" fill="#0a0404" stroke="#0a0404" stroke-width="0.7" textLength="135.5" lengthAdjust="spacingAndGlyphs">2@12,390.1</text></svg>
<svg x="153.1" y="1000.2" width="124.2" height="37.4"><rect x="0.5" y="0.5" width="123.2" height="43.4" rx="2.4" fill="#cadbfb" stroke="#78a4f2" stroke-width="1"/><text x="120.8" y="27.5" text-anchor="end" font-size="23" fill="#0a0404" stroke="#0a0404" stroke-width="0.7" textLength="135.5" lengthAdjust="spacingAndGlyphs">2@12,417.3</text></svg>
<svg x="277.3" y="1000.2" width="38.4" height="37.4"><rect x="0.5" y="0.5" width="37.4" height="43.4" rx="2.4" fill="#cadbfb" stroke="#78a4f2" stroke-width="1"/><text x="35.0" y="27.5" text-anchor="end" font-size="23" fill="#0a0404" stroke="#0a0404" stroke-width="0.7" textLength="135.5" lengthAdjust="spacingAndGlyphs">2@12,413.1</text></svg>
<svg x="315.7" y="1000.2" width="11.8" height="37.4"><rect x="0.5" y="0.5" width="10.8" height="43.4" rx="2.4" fill="#cadbfb" stroke="#78a4f2" stroke-width="1"/><text x="8.4" y="27.5" text-anchor="end" font-size="23" fill="#0a0404" stroke="#0a0404" stroke-width="0.7" textLength="135.5" lengthAdjust="spacingAndGlyphs">2@12,412.6</text></svg>
<svg x="327.5" y="1000.2" width="61.0" height="37.4"><rect x="0.5" y="0.5" width="60.0" height="43.4" rx="2.4" fill="#cadbfb" stroke="#78a4f2" stroke-width="1"/><text x="57.6" y="27.5" text-anchor="end" font-size="23" fill="#0a0404" stroke="#0a0404" stroke-width="0.7" textLength="135.5" lengthAdjust="spacingAndGlyphs">2@12,401.8</text></svg>
<svg x="388.5" y="1000.2" width="53.7" height="37.4"><rect x="0.5" y="0.5" width="52.7" height="43.4" rx="2.4" fill="#cadbfb" stroke="#78a4f2" stroke-width="1"/><text x="50.300000000000004" y="27.5" text-anchor="end" font-size="23" fill="#0a0404" stroke="#0a0404" stroke-width="0.7" textLength="135.5" lengthAdjust="spacingAndGlyphs">2@12,405.2</text></svg>
<svg x="442.2" y="1000.2" width="21.6" height="37.4"><rect x="0.5" y="0.5" width="20.6" height="43.4" rx="2.4" fill="#cadbfb" stroke="#78a4f2" stroke-width="1"/><text x="18.200000000000003" y="27.5" text-anchor="end" font-size="23" fill="#0a0404" stroke="#0a0404" stroke-width="0.7" textLength="135.5" lengthAdjust="spacingAndGlyphs">2@12,410.9</text></svg>
<svg x="463.8" y="1000.2" width="41.4" height="37.4"><rect x="0.5" y="0.5" width="40.4" height="43.4" rx="2.4" fill="#cadbfb" stroke="#78a4f2" stroke-width="1"/><text x="38.0" y="27.5" text-anchor="end" font-size="23" fill="#0a0404" stroke="#0a0404" stroke-width="0.7" textLength="135.5" lengthAdjust="spacingAndGlyphs">2@12,421.5</text></svg>
<svg x="505.2" y="1000.2" width="15.8" height="37.4"><rect x="0.5" y="0.5" width="14.8" height="43.4" rx="2.4" fill="#cadbfb" stroke="#78a4f2" stroke-width="1"/><text x="12.4" y="27.5" text-anchor="end" font-size="23" fill="#0a0404" stroke="#0a0404" stroke-width="0.7" textLength="135.5" lengthAdjust="spacingAndGlyphs">2@12,430.1</text></svg>
<svg x="521" y="1000.2" width="26.8" height="37.4"><rect x="0.5" y="0.5" width="25.8" height="43.4" rx="2.4" fill="#cadbfb" stroke="#78a4f2" stroke-width="1"/><text x="23.400000000000002" y="27.5" text-anchor="end" font-size="23" fill="#0a0404" stroke="#0a0404" stroke-width="0.7" textLength="135.5" lengthAdjust="spacingAndGlyphs">2@12,432.8</text></svg>
<svg x="547.8" y="1000.2" width="61.5" height="37.4"><rect x="0.5" y="0.5" width="60.5" height="43.4" rx="2.4" fill="#cadbfb" stroke="#78a4f2" stroke-width="1"/><text x="58.1" y="27.5" text-anchor="end" font-size="23" fill="#0a0404" stroke="#0a0404" stroke-width="0.7" textLength="135.5" lengthAdjust="spacingAndGlyphs">2@12,443.3</text></svg>
<svg x="609.3" y="1000.2" width="23.3" height="37.4"><rect x="0.5" y="0.5" width="22.3" height="43.4" rx="2.4" fill="#cadbfb" stroke="#78a4f2" stroke-width="1"/><text x="19.900000000000002" y="27.5" text-anchor="end" font-size="23" fill="#0a0404" stroke="#0a0404" stroke-width="0.7" textLength="135.5" lengthAdjust="spacingAndGlyphs">2@12,440.3</text></svg>
<svg x="632.6" y="1000.2" width="15.1" height="37.4"><rect x="0.5" y="0.5" width="14.1" height="43.4" rx="2.4" fill="#cadbfb" stroke="#78a4f2" stroke-width="1"/><text x="11.7" y="27.5" text-anchor="end" font-size="23" fill="#0a0404" stroke="#0a0404" stroke-width="0.7" textLength="135.5" lengthAdjust="spacingAndGlyphs">2@12,441.9</text></svg>
<svg x="647.7" y="1000.2" width="11.8" height="37.4"><rect x="0.5" y="0.5" width="10.8" height="43.4" rx="2.4" fill="#cadbfb" stroke="#78a4f2" stroke-width="1"/><text x="8.4" y="27.5" text-anchor="end" font-size="23" fill="#0a0404" stroke="#0a0404" stroke-width="0.7" textLength="135.5" lengthAdjust="spacingAndGlyphs">2@12,436.5</text></svg>
<svg x="659.5" y="1000.2" width="114.2" height="37.4"><rect x="0.5" y="0.5" width="113.2" height="43.4" rx="2.4" fill="#cadbfb" stroke="#78a4f2" stroke-width="1"/><text x="110.8" y="27.5" text-anchor="end" font-size="23" fill="#0a0404" stroke="#0a0404" stroke-width="0.7" textLength="135.5" lengthAdjust="spacingAndGlyphs">2@12,412.7</text></svg>
<svg x="773.7" y="1000.2" width="7.5" height="37.4"><rect x="0.5" y="0.5" width="6.5" height="43.4" rx="2.4" fill="#cadbfb" stroke="#78a4f2" stroke-width="1"/><text x="4.1" y="27.5" text-anchor="end" font-size="23" fill="#0a0404" stroke="#0a0404" stroke-width="0.7" textLength="135.5" lengthAdjust="spacingAndGlyphs">2@12,418.1</text></svg>
<svg x="781.2" y="1000.2" width="77.3" height="37.4"><rect x="0.5" y="0.5" width="76.3" height="43.4" rx="2.4" fill="#cadbfb" stroke="#78a4f2" stroke-width="1"/><text x="73.89999999999999" y="27.5" text-anchor="end" font-size="23" fill="#0a0404" stroke="#0a0404" stroke-width="0.7" textLength="135.5" lengthAdjust="spacingAndGlyphs">2@12,415.3</text></svg>
<svg x="858.5" y="1000.2" width="25.1" height="37.4"><rect x="0.5" y="0.5" width="24.1" height="43.4" rx="2.4" fill="#cadbfb" stroke="#78a4f2" stroke-width="1"/><text x="21.700000000000003" y="27.5" text-anchor="end" font-size="23" fill="#0a0404" stroke="#0a0404" stroke-width="0.7" textLength="135.5" lengthAdjust="spacingAndGlyphs">2@12,418.5</text></svg>
<svg x="883.6" y="1000.2" width="64.7" height="37.4"><rect x="0.5" y="0.5" width="63.7" height="43.4" rx="2.4" fill="#cadbfb" stroke="#78a4f2" stroke-width="1"/><text x="61.300000000000004" y="27.5" text-anchor="end" font-size="23" fill="#0a0404" stroke="#0a0404" stroke-width="0.7" textLength="135.5" lengthAdjust="spacingAndGlyphs">2@12,427.0</text></svg>
<svg x="948.3" y="1000.2" width="69.3" height="37.4"><rect x="0.5" y="0.5" width="68.3" height="43.4" rx="2.4" fill="#cadbfb" stroke="#78a4f2" stroke-width="1"/><text x="65.89999999999999" y="27.5" text-anchor="end" font-size="23" fill="#0a0404" stroke="#0a0404" stroke-width="0.7" textLength="135.5" lengthAdjust="spacingAndGlyphs">2@12,448.3</text></svg>
<svg x="1017.6" y="1000.2" width="41.9" height="37.4"><rect x="0.5" y="0.5" width="40.9" height="43.4" rx="2.4" fill="#cadbfb" stroke="#78a4f2" stroke-width="1"/><text x="38.5" y="27.5" text-anchor="end" font-size="23" fill="#0a0404" stroke="#0a0404" stroke-width="0.7" textLength="135.5" lengthAdjust="spacingAndGlyphs">2@12,462.8</text></svg>
<svg x="1059.5" y="1000.2" width="25.8" height="37.4"><rect x="0.5" y="0.5" width="24.8" height="43.4" rx="2.4" fill="#cadbfb" stroke="#78a4f2" stroke-width="1"/><text x="22.400000000000002" y="27.5" text-anchor="end" font-size="23" fill="#0a0404" stroke="#0a0404" stroke-width="0.7" textLength="135.5" lengthAdjust="spacingAndGlyphs">2@12,493.6</text></svg>
<svg x="1085.3" y="1000.2" width="54.5" height="37.4"><rect x="0.5" y="0.5" width="53.5" height="43.4" rx="2.4" fill="#cadbfb" stroke="#78a4f2" stroke-width="1"/><text x="51.1" y="27.5" text-anchor="end" font-size="23" fill="#0a0404" stroke="#0a0404" stroke-width="0.7" textLength="135.5" lengthAdjust="spacingAndGlyphs">2@12,508.5</text></svg>
<svg x="1139.8" y="1000.2" width="55.2" height="37.4"><rect x="0.5" y="0.5" width="54.2" height="43.4" rx="2.4" fill="#cadbfb" stroke="#78a4f2" stroke-width="1"/><text x="51.800000000000004" y="27.5" text-anchor="end" font-size="23" fill="#0a0404" stroke="#0a0404" stroke-width="0.7" textLength="135.5" lengthAdjust="spacingAndGlyphs">2@12,503.2</text></svg>
<svg x="1210.8" y="1000.2" width="143.6" height="37.4"><rect x="0.5" y="0.5" width="142.6" height="43.4" rx="2.4" fill="#cadbfb" stroke="#78a4f2" stroke-width="1"/><text x="138.6" y="27.5" text-anchor="end" font-size="23" fill="#0a0404" stroke="#0a0404" stroke-width="0.7" textLength="135.5" lengthAdjust="spacingAndGlyphs">2@12,492.3</text></svg>
<svg x="1354.4" y="1000.2" width="56.4" height="37.4"><rect x="0.5" y="0.5" width="55.4" height="43.4" rx="2.4" fill="#cadbfb" stroke="#78a4f2" stroke-width="1"/><text x="53.0" y="27.5" text-anchor="end" font-size="23" fill="#0a0404" stroke="#0a0404" stroke-width="0.7" textLength="135.5" lengthAdjust="spacingAndGlyphs">2@12,512.7</text></svg>
<svg x="1410.8" y="1000.2" width="83.9" height="37.4"><rect x="0.5" y="0.5" width="82.9" height="43.4" rx="2.4" fill="#cadbfb" stroke="#78a4f2" stroke-width="1"/><text x="80.5" y="27.5" text-anchor="end" font-size="23" fill="#0a0404" stroke="#0a0404" stroke-width="0.7" textLength="135.5" lengthAdjust="spacingAndGlyphs">2@12,456.8</text></svg>
<line x1="1202.1" y1="719.7" x2="1703.2" y2="1037.4" stroke="#46a834" stroke-width="1.4" />
<line x1="1212.3" y1="773.8" x2="1628.2" y2="1037.4" stroke="#46a834" stroke-width="1.4" />
<line x1="1185.7" y1="783.2" x2="1801.5" y2="957.8" stroke="#46a834" stroke-width="1.4" />
<line x1="1185.7" y1="728.3" x2="1669.8" y2="1037.4" stroke="#46a834" stroke-width="1.1" stroke-dasharray="5 4"/>
<line x1="1186.4" y1="727.7" x2="1670.5" y2="1036.8" stroke="#46a834" stroke-width="1.0" stroke-dasharray="5 4" opacity="0.6"/>
<line x1="1279.8" y1="788.7" x2="1801.5" y2="936.5" stroke="#46a834" stroke-width="1.1" stroke-dasharray="5 4"/>
<line x1="1280" y1="788.1" x2="1801.5" y2="935.8" stroke="#46a834" stroke-width="1.0" stroke-dasharray="5 4" opacity="0.6"/>
<line x1="1351.9" y1="856.9" x2="1801.5" y2="787.1" stroke="#46a834" stroke-width="1.1" stroke-dasharray="5 4"/>
<line x1="1442.9" y1="835.7" x2="1761" y2="1037.4" stroke="#46a834" stroke-width="1.1" stroke-dasharray="5 4"/>
<line x1="1331.6" y1="920.6" x2="1571.8" y2="716.5" stroke="#f81818" stroke-width="1.4" />
<line x1="1201.4" y1="729.1" x2="1801.5" y2="900.1" stroke="#f81818" stroke-width="1.5" />
<line x1="1223.3" y1="802.5" x2="1772.8" y2="717.3" stroke="#f81818" stroke-width="1.2" stroke-dasharray="5 4"/>
<line x1="1223.5" y1="801.8" x2="1773" y2="716.6" stroke="#f81818" stroke-width="1.0" stroke-dasharray="5 4" opacity="0.5"/>
<line x1="1257" y1="762.8" x2="1801.5" y2="918.3" stroke="#f81818" stroke-width="1.2" stroke-dasharray="5 4"/>
<line x1="1257.2" y1="762.1" x2="1801.5" y2="917.6" stroke="#f81818" stroke-width="1.0" stroke-dasharray="5 4" opacity="0.5"/>
<line x1="4.5" y1="1020.6" x2="1801.5" y2="1020.6" stroke="#c8e4c4" stroke-width="3.6" opacity="0.7"/>
<line x1="4.5" y1="1020.6" x2="1801.5" y2="1020.6" stroke="#30b030" stroke-width="1.5" />
<line x1="951.8" y1="716.5" x2="951.8" y2="1037.4" stroke="#f06a6a" stroke-width="1" />
<text x="7" y="1033.6" font-size="9.6" fill="#000" stroke="#000" stroke-width="0.35" textLength="104" lengthAdjust="spacingAndGlyphs">© IT-Finance.com</text>
<text x="116.6" y="1033.6" font-size="9.6" font-style="italic" fill="#000" stroke="#000" stroke-width="0.35" textLength="106" lengthAdjust="spacingAndGlyphs">Data is indicative</text>
</g>
<path d="M4.5 716.5 H1801.5 V1037.4 H4.5" fill="none" stroke="#7f96a4" stroke-width="1.3"/>
<line x1="4.6" y1="716.5" x2="4.6" y2="1037.4" stroke="#7f96a4" stroke-width="1.2" />
<line x1="4.5" y1="715" x2="1801.5" y2="715" stroke="#dfe8ee" stroke-width="1.4" />
<rect x="4.5" y="717" width="227" height="36.4" fill="url(#gPanelT)" stroke="#7f9bac" stroke-width="1" />
<text x="8.8" y="744.05" font-size="22.8" fill="#000" stroke="#000" stroke-width="0.85" textLength="64.6" lengthAdjust="spacingAndGlyphs" >Price</text>
<g transform="translate(90.6 734.8) scale(1.0)"><path d="M-13.2 8.4 L-1.9 -2.9 L-1.9 -12.3 L4.2 -12.3 L4.2 -5.4 L11.6 -5.4 L11.6 1.2 L2.8 1.2 L-9 12.4 A2.9 2.9 0 0 1 -13.2 8.4 Z" fill="#fff" stroke="#000" stroke-width="2.50" stroke-linejoin="round"/></g>
<rect x="109.7" y="722.8000000000001" width="23.8" height="24" fill="#ffffff" stroke="#000" stroke-width="2.6" rx="3.2" />
<path d="M108.5 730.0 V725.0 Q108.5 721.6 111.9 721.6 H131.3 Q134.7 721.6 134.7 725.0 V730.0 Z" fill="url(#gWinTop)"/>
<circle cx="152.4" cy="734.6" r="13" fill="url(#gClose)"/>
<path d="M147.0 729.2 L157.8 740.0 M157.8 729.2 L147.0 740.0" stroke="#fff" stroke-width="4.6" stroke-linecap="round"/>
<path d="M171 723.6 h16 l7 7 v17.5 h-23 Z" fill="#f6f6f6" stroke="#b9c2d4" stroke-width="1.3"/>
<path d="M182 744.6 l8 -8.4 h-4.8 v-7.6 h-6.4 v7.6 h-4.8 Z" fill="#f03030"/>
<path d="M202 723.6 h16 l7 7 v17.5 h-23 Z" fill="#f6f6f6" stroke="#b9c2d4" stroke-width="1.3"/>
<path d="M213 728.6 l8 8.4 h-4.8 v7.6 h-6.4 v-7.6 h-4.8 Z" fill="#10b818"/>
<line x1="1801.5" y1="767.5" x2="1805.9" y2="767.5" stroke="#7f96a4" stroke-width="1.2" />
<text x="1808.7" y="775.25" font-size="22.8" fill="#000" stroke="#000" stroke-width="0.85" textLength="90.8" lengthAdjust="spacingAndGlyphs" >12,500</text>
<line x1="1801.5" y1="845.3" x2="1805.9" y2="845.3" stroke="#7f96a4" stroke-width="1.2" />
<text x="1808.7" y="853.45" font-size="22.8" fill="#000" stroke="#000" stroke-width="0.85" textLength="80.5" lengthAdjust="spacingAndGlyphs" >12,450</text>
<line x1="1801.5" y1="922" x2="1805.9" y2="922" stroke="#7f96a4" stroke-width="1.2" />
<text x="1808.7" y="930.25" font-size="22.8" fill="#000" stroke="#000" stroke-width="0.85" textLength="80.5" lengthAdjust="spacingAndGlyphs" >12,400</text>
<line x1="1801.5" y1="999" x2="1805.9" y2="999" stroke="#7f96a4" stroke-width="1.2" />
<text x="1808.7" y="1007.25" font-size="22.8" fill="#000" stroke="#000" stroke-width="0.85" textLength="80.5" lengthAdjust="spacingAndGlyphs" >12,350</text>
<line x1="1801.5" y1="818.5" x2="1806" y2="818.5" stroke="#f01010" stroke-width="1.4" />
<rect x="1806.6" y="800.9" width="99" height="33.2" fill="url(#gMon)" stroke="#9a8a98" stroke-width="1.2" />
<text x="1808.6" y="826.75" font-size="21.64" fill="#000" stroke="#000" stroke-width="0.85" textLength="94" lengthAdjust="spacingAndGlyphs" >Monthly</text>
<rect x="1806.6" y="858.3" width="80.2" height="33.2" fill="url(#gHour)" stroke="#7e9aa0" stroke-width="1.2" />
<line x1="1801.5" y1="875.0" x2="1806" y2="875.0" stroke="#30a030" stroke-width="1.4" />
<text x="1808.8" y="883.15" font-size="21.64" fill="#000" stroke="#000" stroke-width="0.85" textLength="74.6" lengthAdjust="spacingAndGlyphs" >1 hour</text>
<rect x="1806.6" y="928.4" width="80.2" height="33.2" fill="url(#gHour)" stroke="#7e9aa0" stroke-width="1.2" />
<line x1="1801.5" y1="945.1" x2="1806" y2="945.1" stroke="#30a030" stroke-width="1.4" />
<text x="1808.8" y="953.25" font-size="21.64" fill="#000" stroke="#000" stroke-width="0.85" textLength="74.6" lengthAdjust="spacingAndGlyphs" >1 hour</text>
<rect x="1806.6" y="1003.3" width="80.2" height="33.2" fill="url(#gHour)" stroke="#7e9aa0" stroke-width="1.2" />
<line x1="1801.5" y1="1020.0" x2="1806" y2="1020.0" stroke="#30a030" stroke-width="1.4" />
<text x="1808.8" y="1028.15" font-size="21.64" fill="#000" stroke="#000" stroke-width="0.85" textLength="74.6" lengthAdjust="spacingAndGlyphs" >1 hour</text>
<rect x="4" y="1038" width="1909" height="40.4" fill="#ffffff" />
<line x1="373.1" y1="1037.6" x2="373.1" y2="1042" stroke="#7f96a4" stroke-width="1.2" />
<line x1="739.6" y1="1037.6" x2="739.6" y2="1042" stroke="#7f96a4" stroke-width="1.2" />
<line x1="979.5" y1="1037.6" x2="979.5" y2="1042" stroke="#000" stroke-width="1.2" />
<line x1="1105.3" y1="1037.6" x2="1105.3" y2="1042" stroke="#7f96a4" stroke-width="1.2" />
<line x1="1441.8" y1="1037.6" x2="1441.8" y2="1042" stroke="#7f96a4" stroke-width="1.2" />
<line x1="1487.5" y1="1037.6" x2="1487.5" y2="1042" stroke="#7f96a4" stroke-width="1.2" />
<text x="358.8" y="1068.45" font-size="22.8" fill="#000" stroke="#000" stroke-width="0.85" textLength="26.4" lengthAdjust="spacingAndGlyphs" >31</text>
<text x="715.6" y="1068.45" font-size="22.8" fill="#000" stroke="#000" stroke-width="0.85" textLength="47.6" lengthAdjust="spacingAndGlyphs" >Feb</text>
<text x="1426.6" y="1068.45" font-size="22.8" fill="#000" stroke="#000" stroke-width="0.85" textLength="29" lengthAdjust="spacingAndGlyphs" >04</text>
<text x="1472.6" y="1068.45" font-size="22.8" fill="#000" stroke="#000" stroke-width="0.85" textLength="28.8" lengthAdjust="spacingAndGlyphs" >05</text>
<rect x="818.4" y="1042" width="323.3" height="34.4" fill="url(#gYel)" stroke="#8a8a70" stroke-width="1.2" />
<text x="821.7" y="1068.45" font-size="22.8" fill="#000" stroke="#000" stroke-width="0.85" textLength="317.4" lengthAdjust="spacingAndGlyphs" >Thu 01-Feb-2018 15:41:15</text>
<rect x="0" y="1078.4" width="1913" height="48.6" fill="url(#gBot)" />
<line x1="0" y1="1078.6" x2="1913" y2="1078.6" stroke="#7f9bab" stroke-width="1.2" />
<rect x="0" y="0" width="1.7" height="1127" fill="#c2d9e6" />
<line x1="2.3" y1="0" x2="2.3" y2="1127" stroke="#8aa4b4" stroke-width="1.3" />
<rect x="280" y="1091.5" width="1427" height="32" fill="#9cb8c9" stroke="#86a2b3" stroke-width="1" />
<rect x="280" y="1092" width="31.2" height="31.4" fill="url(#gArrow)" stroke="#86a2b3" stroke-width="1" rx="3" />
<path d="M300.6 1099 v17.6 l-9.6 -8.8 Z" fill="#000"/>
<rect x="1674.6" y="1092" width="32" height="31.4" fill="url(#gArrow)" stroke="#86a2b3" stroke-width="1" rx="3" />
<path d="M1685.6 1099 v17.6 l9.6 -8.8 Z" fill="#000"/>
<rect x="5.6" y="1087.8" width="114" height="42" fill="url(#gShare)" stroke="#1f6cb8" stroke-width="1" rx="3" />
<circle cx="16.6" cy="1108.6" r="5.2" fill="#fff"/><circle cx="34" cy="1098.6" r="5.2" fill="#fff"/><circle cx="34" cy="1118.6" r="5.2" fill="#fff"/><path d="M34 1098.6 L16.6 1108.6 L34 1118.6" fill="none" stroke="#fff" stroke-width="2.6"/>
<text x="46" y="1116.25" font-size="23.57" fill="#ffffff" stroke="#ffffff" stroke-width="0.7" textLength="70.4" lengthAdjust="spacingAndGlyphs" >Share</text>
<path d="M141.2 1103.5 v-5 a5.6 5.6 0 0 1 11.2 0 v5" fill="none" stroke="#000" stroke-width="5.8" stroke-linecap="round"/><path d="M141.2 1103.5 v-5 a5.6 5.6 0 0 1 11.2 0 v5" fill="none" stroke="#fff" stroke-width="2" stroke-linecap="round"/>
<path d="M141.2 1113.5 v5 a5.6 5.6 0 0 0 11.2 0 v-5" fill="none" stroke="#000" stroke-width="5.8" stroke-linecap="round"/><path d="M141.2 1113.5 v5 a5.6 5.6 0 0 0 11.2 0 v-5" fill="none" stroke="#fff" stroke-width="2" stroke-linecap="round"/>
<line x1="146.8" y1="1098" x2="146.8" y2="1118" stroke="#000" stroke-width="1.6" />
<path d="M155 1118 h13 l-6.5 7.6 Z" fill="#000" stroke="#fff" stroke-width="0.9"/>
<rect x="187.2" y="1093" width="23.4" height="27.8" fill="#ffffff" stroke="#000" stroke-width="3" rx="1.5" />
<path d="M199.5 1094.6 h10 l-5 6.6 Z" fill="#f07878"/><path d="M188.6 1119.4 h10 l-5 -7 Z" fill="#30c848"/>
<path d="M190 1098.4 h9 M193 1105 h15 M198 1111.6 h10.5 M201 1117.6 h7.5" stroke="#000" stroke-width="3"/>
<path d="M189.4 1096 L208.6 1117.6" stroke="#000" stroke-width="2.6"/>
<rect x="237" y="1093.4" width="14" height="4.8" fill="#38c048" stroke="#6a7a70" stroke-width="1.2" />
<rect x="253" y="1093.4" width="10" height="4.8" fill="#f07878" stroke="#8a6a6a" stroke-width="1.2" />
<rect x="241" y="1099.5" width="10" height="4.8" fill="#38c048" stroke="#6a7a70" stroke-width="1.2" />
<rect x="253" y="1099.5" width="14" height="4.8" fill="#f07878" stroke="#8a6a6a" stroke-width="1.2" />
<rect x="239" y="1105.6000000000001" width="12" height="4.8" fill="#38c048" stroke="#6a7a70" stroke-width="1.2" />
<rect x="253" y="1105.6000000000001" width="8" height="4.8" fill="#f07878" stroke="#8a6a6a" stroke-width="1.2" />
<rect x="242" y="1111.7" width="9" height="4.8" fill="#38c048" stroke="#6a7a70" stroke-width="1.2" />
<rect x="253" y="1111.7" width="16" height="4.8" fill="#f07878" stroke="#8a6a6a" stroke-width="1.2" />
<rect x="237" y="1117.8000000000002" width="14" height="4.8" fill="#38c048" stroke="#6a7a70" stroke-width="1.2" />
<rect x="253" y="1117.8000000000002" width="9" height="4.8" fill="#f07878" stroke="#8a6a6a" stroke-width="1.2" />
<line x1="252" y1="1092" x2="252" y2="1124" stroke="#707070" stroke-width="2" />
<line x1="1729.6" y1="1105" x2="1729.6" y2="1127" stroke="#707070" stroke-width="1.4" />
<rect x="1718" y="1111" width="11.6" height="14" fill="#f08080" stroke="#707070" stroke-width="1.4" />
<line x1="1741.4" y1="1086" x2="1741.4" y2="1127" stroke="#707070" stroke-width="1.4" />
<rect x="1735.4" y="1092.4" width="12.6" height="30" fill="#40c848" stroke="#707070" stroke-width="1.6" />
<g transform="translate(1733.2 1109.3) scale(1.0)"><path d="M-13.2 8.4 L-1.9 -2.9 L-1.9 -12.3 L4.2 -12.3 L4.2 -5.4 L11.6 -5.4 L11.6 1.2 L2.8 1.2 L-9 12.4 A2.9 2.9 0 0 1 -13.2 8.4 Z" fill="#fff" stroke="#000" stroke-width="2.50" stroke-linejoin="round"/></g>
<path d="M1787.068 1110.668 L1801.66 1125.26" stroke="#000" stroke-width="5.2" stroke-linecap="round"/>
<circle cx="1780" cy="1103.6" r="11.4" fill="url(#gBall)" stroke="#000" stroke-width="2.2"/>
<path d="M1799.6 1093 v20 M1796 1097 l3.6 -5 l3.6 5 M1796 1109 l3.6 5 l3.6 -5" fill="#1a1af0" stroke="#1a1af0" stroke-width="2"/>
<path d="M1768 1121 h16 M1772 1117.4 l-5 3.6 l5 3.6 M1780 1117.4 l5 3.6 l-5 3.6" fill="#1a1af0" stroke="#1a1af0" stroke-width="2"/>
<path d="M1839.068 1111.668 L1853.66 1126.26" stroke="#000" stroke-width="5.2" stroke-linecap="round"/>
<circle cx="1832" cy="1104.6" r="11.4" fill="#fff" stroke="#000" stroke-width="2.2"/>
<path d="M1826 1104.6 h12" stroke="#1a1af0" stroke-width="3.6"/>
<path d="M1891.068 1111.668 L1905.66 1126.26" stroke="#000" stroke-width="5.2" stroke-linecap="round"/>
<circle cx="1884" cy="1104.6" r="11.4" fill="#fff" stroke="#000" stroke-width="2.2"/>
<path d="M1878 1104.6 h12" stroke="#1a1af0" stroke-width="3.6"/>
<path d="M1884 1098.6 v12" stroke="#1a1af0" stroke-width="3.6"/>
</svg>
</body></html>
